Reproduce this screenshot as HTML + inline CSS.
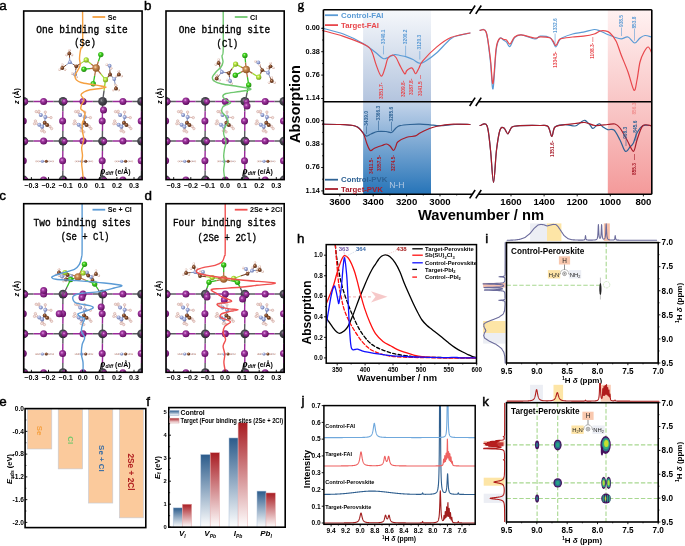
<!DOCTYPE html>
<html><head><meta charset="utf-8"><style>
html,body{margin:0;padding:0;background:#fff;width:685px;height:546px;overflow:hidden}
svg{display:block;will-change:transform}
</style></head><body>
<svg width="685" height="546" viewBox="0 0 685 546">
<rect width="685" height="546" fill="#fff"/>
<defs>
<radialGradient id="gI" cx="0.4" cy="0.38" r="0.65"><stop offset="0" stop-color="#e6a0e6"/><stop offset="0.3" stop-color="#a23aa2"/><stop offset="1" stop-color="#5e0a5e"/></radialGradient>
<radialGradient id="gPb" cx="0.4" cy="0.38" r="0.65"><stop offset="0" stop-color="#9a9aa2"/><stop offset="0.35" stop-color="#4a4a52"/><stop offset="1" stop-color="#2a2a30"/></radialGradient>
<radialGradient id="gSb" cx="0.4" cy="0.38" r="0.65"><stop offset="0" stop-color="#f8d8b0"/><stop offset="0.35" stop-color="#c88850"/><stop offset="1" stop-color="#8a5020"/></radialGradient>
<radialGradient id="gCl" cx="0.4" cy="0.38" r="0.65"><stop offset="0" stop-color="#c0ffa0"/><stop offset="0.35" stop-color="#40d020"/><stop offset="1" stop-color="#208810"/></radialGradient>
<radialGradient id="gS" cx="0.4" cy="0.38" r="0.65"><stop offset="0" stop-color="#f0ffc0"/><stop offset="0.35" stop-color="#b8e840"/><stop offset="1" stop-color="#709820"/></radialGradient>
<radialGradient id="gC" cx="0.4" cy="0.38" r="0.65"><stop offset="0" stop-color="#d8a880"/><stop offset="0.35" stop-color="#8a5030"/><stop offset="1" stop-color="#4a2510"/></radialGradient>
<radialGradient id="gN" cx="0.4" cy="0.38" r="0.65"><stop offset="0" stop-color="#f0f4ff"/><stop offset="0.35" stop-color="#a8b4e0"/><stop offset="1" stop-color="#6070a8"/></radialGradient>
<radialGradient id="gH" cx="0.4" cy="0.38" r="0.65"><stop offset="0" stop-color="#ffffff"/><stop offset="0.5" stop-color="#f0d8d0"/><stop offset="1" stop-color="#b88878"/></radialGradient>
<linearGradient id="bandT" x1="0" y1="0" x2="0" y2="1"><stop offset="0" stop-color="#f6f8fb"/><stop offset="1" stop-color="#b3c4de"/></linearGradient>
<linearGradient id="bandB" x1="0" y1="0" x2="0" y2="1"><stop offset="0" stop-color="#c4d4ea"/><stop offset="1" stop-color="#2674b8"/></linearGradient>
<linearGradient id="rbandT" x1="0" y1="0" x2="0" y2="1"><stop offset="0" stop-color="#fff2f2"/><stop offset="1" stop-color="#f9c6c6"/></linearGradient>
<linearGradient id="rbandB" x1="0" y1="0" x2="0" y2="1"><stop offset="0" stop-color="#f9caca"/><stop offset="1" stop-color="#f49a9a"/></linearGradient>
<linearGradient id="fblue" x1="0" y1="0" x2="0" y2="1"><stop offset="0" stop-color="#2b5b8b"/><stop offset="1" stop-color="#ffffff"/></linearGradient>
<linearGradient id="fred" x1="0" y1="0" x2="0" y2="1"><stop offset="0" stop-color="#a81c22"/><stop offset="1" stop-color="#ffffff"/></linearGradient>
</defs>
<clipPath id="clipa"><rect x="23.7" y="11" width="118.4" height="168.6"/></clipPath>
<g clip-path="url(#clipa)">
<line x1="23.70" y1="101.40" x2="33.65" y2="101.40" stroke="#5a5a60" stroke-width="1.5" />
<line x1="33.65" y1="101.40" x2="43.60" y2="101.40" stroke="#9a2a9a" stroke-width="1.5" />
<line x1="43.60" y1="101.40" x2="53.30" y2="101.40" stroke="#9a2a9a" stroke-width="1.5" />
<line x1="53.30" y1="101.40" x2="63.00" y2="101.40" stroke="#5a5a60" stroke-width="1.5" />
<line x1="63.00" y1="101.40" x2="73.00" y2="101.40" stroke="#5a5a60" stroke-width="1.5" />
<line x1="73.00" y1="101.40" x2="83.00" y2="101.40" stroke="#9a2a9a" stroke-width="1.5" />
<line x1="83.00" y1="101.40" x2="92.80" y2="101.40" stroke="#9a2a9a" stroke-width="1.5" />
<line x1="92.80" y1="101.40" x2="102.60" y2="101.40" stroke="#5a5a60" stroke-width="1.5" />
<line x1="102.60" y1="101.40" x2="112.75" y2="101.40" stroke="#5a5a60" stroke-width="1.5" />
<line x1="112.75" y1="101.40" x2="122.90" y2="101.40" stroke="#9a2a9a" stroke-width="1.5" />
<line x1="122.90" y1="101.40" x2="132.25" y2="101.40" stroke="#9a2a9a" stroke-width="1.5" />
<line x1="132.25" y1="101.40" x2="141.60" y2="101.40" stroke="#5a5a60" stroke-width="1.5" />
<line x1="23.70" y1="141.10" x2="33.65" y2="141.10" stroke="#5a5a60" stroke-width="1.5" />
<line x1="33.65" y1="141.10" x2="43.60" y2="141.10" stroke="#9a2a9a" stroke-width="1.5" />
<line x1="43.60" y1="141.10" x2="53.30" y2="141.10" stroke="#9a2a9a" stroke-width="1.5" />
<line x1="53.30" y1="141.10" x2="63.00" y2="141.10" stroke="#5a5a60" stroke-width="1.5" />
<line x1="63.00" y1="141.10" x2="73.00" y2="141.10" stroke="#5a5a60" stroke-width="1.5" />
<line x1="73.00" y1="141.10" x2="83.00" y2="141.10" stroke="#9a2a9a" stroke-width="1.5" />
<line x1="83.00" y1="141.10" x2="92.80" y2="141.10" stroke="#9a2a9a" stroke-width="1.5" />
<line x1="92.80" y1="141.10" x2="102.60" y2="141.10" stroke="#5a5a60" stroke-width="1.5" />
<line x1="102.60" y1="141.10" x2="112.75" y2="141.10" stroke="#5a5a60" stroke-width="1.5" />
<line x1="112.75" y1="141.10" x2="122.90" y2="141.10" stroke="#9a2a9a" stroke-width="1.5" />
<line x1="122.90" y1="141.10" x2="132.25" y2="141.10" stroke="#9a2a9a" stroke-width="1.5" />
<line x1="132.25" y1="141.10" x2="141.60" y2="141.10" stroke="#5a5a60" stroke-width="1.5" />
<line x1="23.70" y1="180.00" x2="33.65" y2="180.00" stroke="#5a5a60" stroke-width="1.5" />
<line x1="33.65" y1="180.00" x2="43.60" y2="180.00" stroke="#9a2a9a" stroke-width="1.5" />
<line x1="43.60" y1="180.00" x2="53.30" y2="180.00" stroke="#9a2a9a" stroke-width="1.5" />
<line x1="53.30" y1="180.00" x2="63.00" y2="180.00" stroke="#5a5a60" stroke-width="1.5" />
<line x1="63.00" y1="180.00" x2="73.00" y2="180.00" stroke="#5a5a60" stroke-width="1.5" />
<line x1="73.00" y1="180.00" x2="83.00" y2="180.00" stroke="#9a2a9a" stroke-width="1.5" />
<line x1="83.00" y1="180.00" x2="92.80" y2="180.00" stroke="#9a2a9a" stroke-width="1.5" />
<line x1="92.80" y1="180.00" x2="102.60" y2="180.00" stroke="#5a5a60" stroke-width="1.5" />
<line x1="102.60" y1="180.00" x2="112.75" y2="180.00" stroke="#5a5a60" stroke-width="1.5" />
<line x1="112.75" y1="180.00" x2="122.90" y2="180.00" stroke="#9a2a9a" stroke-width="1.5" />
<line x1="122.90" y1="180.00" x2="132.25" y2="180.00" stroke="#9a2a9a" stroke-width="1.5" />
<line x1="132.25" y1="180.00" x2="141.60" y2="180.00" stroke="#5a5a60" stroke-width="1.5" />
<line x1="23.70" y1="101.40" x2="23.55" y2="111.20" stroke="#5a5a60" stroke-width="1.4" />
<line x1="23.55" y1="111.20" x2="23.40" y2="121.00" stroke="#9a2a9a" stroke-width="1.4" />
<line x1="23.70" y1="121.00" x2="23.55" y2="131.05" stroke="#9a2a9a" stroke-width="1.4" />
<line x1="23.55" y1="131.05" x2="23.40" y2="141.10" stroke="#5a5a60" stroke-width="1.4" />
<line x1="23.70" y1="141.10" x2="23.55" y2="150.95" stroke="#5a5a60" stroke-width="1.4" />
<line x1="23.55" y1="150.95" x2="23.40" y2="160.80" stroke="#9a2a9a" stroke-width="1.4" />
<line x1="23.70" y1="160.80" x2="23.55" y2="170.40" stroke="#9a2a9a" stroke-width="1.4" />
<line x1="23.55" y1="170.40" x2="23.40" y2="180.00" stroke="#5a5a60" stroke-width="1.4" />
<line x1="63.00" y1="101.40" x2="62.85" y2="111.20" stroke="#5a5a60" stroke-width="1.4" />
<line x1="62.85" y1="111.20" x2="62.70" y2="121.00" stroke="#9a2a9a" stroke-width="1.4" />
<line x1="63.00" y1="121.00" x2="62.85" y2="131.05" stroke="#9a2a9a" stroke-width="1.4" />
<line x1="62.85" y1="131.05" x2="62.70" y2="141.10" stroke="#5a5a60" stroke-width="1.4" />
<line x1="63.00" y1="141.10" x2="62.85" y2="150.95" stroke="#5a5a60" stroke-width="1.4" />
<line x1="62.85" y1="150.95" x2="62.70" y2="160.80" stroke="#9a2a9a" stroke-width="1.4" />
<line x1="63.00" y1="160.80" x2="62.85" y2="170.40" stroke="#9a2a9a" stroke-width="1.4" />
<line x1="62.85" y1="170.40" x2="62.70" y2="180.00" stroke="#5a5a60" stroke-width="1.4" />
<line x1="102.60" y1="101.40" x2="102.45" y2="111.20" stroke="#5a5a60" stroke-width="1.4" />
<line x1="102.45" y1="111.20" x2="102.30" y2="121.00" stroke="#9a2a9a" stroke-width="1.4" />
<line x1="102.60" y1="121.00" x2="102.45" y2="131.05" stroke="#9a2a9a" stroke-width="1.4" />
<line x1="102.45" y1="131.05" x2="102.30" y2="141.10" stroke="#5a5a60" stroke-width="1.4" />
<line x1="102.60" y1="141.10" x2="102.45" y2="150.95" stroke="#5a5a60" stroke-width="1.4" />
<line x1="102.45" y1="150.95" x2="102.30" y2="160.80" stroke="#9a2a9a" stroke-width="1.4" />
<line x1="102.60" y1="160.80" x2="102.45" y2="170.40" stroke="#9a2a9a" stroke-width="1.4" />
<line x1="102.45" y1="170.40" x2="102.30" y2="180.00" stroke="#5a5a60" stroke-width="1.4" />
<line x1="141.60" y1="101.40" x2="141.45" y2="111.20" stroke="#5a5a60" stroke-width="1.4" />
<line x1="141.45" y1="111.20" x2="141.30" y2="121.00" stroke="#9a2a9a" stroke-width="1.4" />
<line x1="141.60" y1="121.00" x2="141.45" y2="131.05" stroke="#9a2a9a" stroke-width="1.4" />
<line x1="141.45" y1="131.05" x2="141.30" y2="141.10" stroke="#5a5a60" stroke-width="1.4" />
<line x1="141.60" y1="141.10" x2="141.45" y2="150.95" stroke="#5a5a60" stroke-width="1.4" />
<line x1="141.45" y1="150.95" x2="141.30" y2="160.80" stroke="#9a2a9a" stroke-width="1.4" />
<line x1="141.60" y1="160.80" x2="141.45" y2="170.40" stroke="#9a2a9a" stroke-width="1.4" />
<line x1="141.45" y1="170.40" x2="141.30" y2="180.00" stroke="#5a5a60" stroke-width="1.4" />
<line x1="40.80" y1="114.90" x2="36.20" y2="111.60" stroke="#d8b0a8" stroke-width="0.9" />
<line x1="40.80" y1="114.90" x2="38.90" y2="111.30" stroke="#d8b0a8" stroke-width="0.9" />
<line x1="45.30" y1="117.10" x2="45.30" y2="112.10" stroke="#d8b0a8" stroke-width="0.9" />
<line x1="45.30" y1="117.10" x2="51.00" y2="117.60" stroke="#d8b0a8" stroke-width="0.9" />
<line x1="39.30" y1="124.70" x2="35.40" y2="120.90" stroke="#d8b0a8" stroke-width="0.9" />
<line x1="39.30" y1="124.70" x2="34.50" y2="123.70" stroke="#d8b0a8" stroke-width="0.9" />
<line x1="42.10" y1="126.70" x2="41.70" y2="130.80" stroke="#d8b0a8" stroke-width="0.9" />
<line x1="42.10" y1="126.70" x2="44.40" y2="131.90" stroke="#d8b0a8" stroke-width="0.9" />
<line x1="47.10" y1="125.10" x2="51.60" y2="128.60" stroke="#d8b0a8" stroke-width="0.9" />
<line x1="47.10" y1="125.10" x2="49.90" y2="126.40" stroke="#d8b0a8" stroke-width="0.9" />
<line x1="45.30" y1="117.10" x2="44.70" y2="122.70" stroke="#8898c8" stroke-width="1.2" />
<line x1="42.10" y1="126.70" x2="44.70" y2="122.70" stroke="#8898c8" stroke-width="1.2" />
<circle cx="36.20" cy="111.60" r="1.20" fill="#f4e4e0" stroke="#c89890" stroke-width="0.5" />
<circle cx="38.90" cy="111.30" r="1.20" fill="#f4e4e0" stroke="#c89890" stroke-width="0.5" />
<circle cx="45.30" cy="112.10" r="1.20" fill="#f4e4e0" stroke="#c89890" stroke-width="0.5" />
<circle cx="51.00" cy="117.60" r="1.20" fill="#f4e4e0" stroke="#c89890" stroke-width="0.5" />
<circle cx="35.40" cy="120.90" r="1.20" fill="#f4e4e0" stroke="#c89890" stroke-width="0.5" />
<circle cx="34.50" cy="123.70" r="1.20" fill="#f4e4e0" stroke="#c89890" stroke-width="0.5" />
<circle cx="41.70" cy="130.80" r="1.20" fill="#f4e4e0" stroke="#c89890" stroke-width="0.5" />
<circle cx="44.40" cy="131.90" r="1.20" fill="#f4e4e0" stroke="#c89890" stroke-width="0.5" />
<circle cx="51.60" cy="128.60" r="1.20" fill="#f4e4e0" stroke="#c89890" stroke-width="0.5" />
<circle cx="49.90" cy="126.40" r="1.20" fill="#f4e4e0" stroke="#c89890" stroke-width="0.5" />
<circle cx="40.80" cy="114.90" r="2.00" fill="url(#gN)" stroke="none" stroke-width="0.5" />
<circle cx="45.30" cy="117.10" r="2.00" fill="url(#gN)" stroke="none" stroke-width="0.5" />
<circle cx="39.30" cy="124.70" r="2.00" fill="url(#gN)" stroke="none" stroke-width="0.5" />
<circle cx="42.10" cy="126.70" r="2.00" fill="url(#gN)" stroke="none" stroke-width="0.5" />
<circle cx="44.70" cy="122.70" r="2.00" fill="url(#gC)" stroke="none" stroke-width="0.5" />
<circle cx="47.10" cy="125.10" r="2.00" fill="url(#gC)" stroke="none" stroke-width="0.5" />
<line x1="35.60" y1="161.30" x2="53.40" y2="161.30" stroke="#b8a0a8" stroke-width="0.8" />
<circle cx="36.20" cy="161.30" r="0.90" fill="url(#gH)" stroke="none" stroke-width="0.5" />
<circle cx="38.40" cy="161.30" r="0.90" fill="url(#gH)" stroke="none" stroke-width="0.5" />
<circle cx="42.40" cy="161.30" r="1.50" fill="url(#gN)" stroke="none" stroke-width="0.5" />
<circle cx="46.30" cy="161.30" r="1.50" fill="url(#gC)" stroke="none" stroke-width="0.5" />
<circle cx="49.40" cy="161.30" r="0.90" fill="url(#gH)" stroke="none" stroke-width="0.5" />
<circle cx="52.90" cy="161.30" r="0.90" fill="url(#gH)" stroke="none" stroke-width="0.5" />
<line x1="80.20" y1="114.90" x2="75.60" y2="111.60" stroke="#d8b0a8" stroke-width="0.9" />
<line x1="80.20" y1="114.90" x2="78.30" y2="111.30" stroke="#d8b0a8" stroke-width="0.9" />
<line x1="84.70" y1="117.10" x2="84.70" y2="112.10" stroke="#d8b0a8" stroke-width="0.9" />
<line x1="84.70" y1="117.10" x2="90.40" y2="117.60" stroke="#d8b0a8" stroke-width="0.9" />
<line x1="78.70" y1="124.70" x2="74.80" y2="120.90" stroke="#d8b0a8" stroke-width="0.9" />
<line x1="78.70" y1="124.70" x2="73.90" y2="123.70" stroke="#d8b0a8" stroke-width="0.9" />
<line x1="81.50" y1="126.70" x2="81.10" y2="130.80" stroke="#d8b0a8" stroke-width="0.9" />
<line x1="81.50" y1="126.70" x2="83.80" y2="131.90" stroke="#d8b0a8" stroke-width="0.9" />
<line x1="86.50" y1="125.10" x2="91.00" y2="128.60" stroke="#d8b0a8" stroke-width="0.9" />
<line x1="86.50" y1="125.10" x2="89.30" y2="126.40" stroke="#d8b0a8" stroke-width="0.9" />
<line x1="84.70" y1="117.10" x2="84.10" y2="122.70" stroke="#8898c8" stroke-width="1.2" />
<line x1="81.50" y1="126.70" x2="84.10" y2="122.70" stroke="#8898c8" stroke-width="1.2" />
<circle cx="75.60" cy="111.60" r="1.20" fill="#f4e4e0" stroke="#c89890" stroke-width="0.5" />
<circle cx="78.30" cy="111.30" r="1.20" fill="#f4e4e0" stroke="#c89890" stroke-width="0.5" />
<circle cx="84.70" cy="112.10" r="1.20" fill="#f4e4e0" stroke="#c89890" stroke-width="0.5" />
<circle cx="90.40" cy="117.60" r="1.20" fill="#f4e4e0" stroke="#c89890" stroke-width="0.5" />
<circle cx="74.80" cy="120.90" r="1.20" fill="#f4e4e0" stroke="#c89890" stroke-width="0.5" />
<circle cx="73.90" cy="123.70" r="1.20" fill="#f4e4e0" stroke="#c89890" stroke-width="0.5" />
<circle cx="81.10" cy="130.80" r="1.20" fill="#f4e4e0" stroke="#c89890" stroke-width="0.5" />
<circle cx="83.80" cy="131.90" r="1.20" fill="#f4e4e0" stroke="#c89890" stroke-width="0.5" />
<circle cx="91.00" cy="128.60" r="1.20" fill="#f4e4e0" stroke="#c89890" stroke-width="0.5" />
<circle cx="89.30" cy="126.40" r="1.20" fill="#f4e4e0" stroke="#c89890" stroke-width="0.5" />
<circle cx="80.20" cy="114.90" r="2.00" fill="url(#gN)" stroke="none" stroke-width="0.5" />
<circle cx="84.70" cy="117.10" r="2.00" fill="url(#gN)" stroke="none" stroke-width="0.5" />
<circle cx="78.70" cy="124.70" r="2.00" fill="url(#gN)" stroke="none" stroke-width="0.5" />
<circle cx="81.50" cy="126.70" r="2.00" fill="url(#gN)" stroke="none" stroke-width="0.5" />
<circle cx="84.10" cy="122.70" r="2.00" fill="url(#gC)" stroke="none" stroke-width="0.5" />
<circle cx="86.50" cy="125.10" r="2.00" fill="url(#gC)" stroke="none" stroke-width="0.5" />
<line x1="75.00" y1="161.30" x2="92.80" y2="161.30" stroke="#b8a0a8" stroke-width="0.8" />
<circle cx="75.60" cy="161.30" r="0.90" fill="url(#gH)" stroke="none" stroke-width="0.5" />
<circle cx="77.80" cy="161.30" r="0.90" fill="url(#gH)" stroke="none" stroke-width="0.5" />
<circle cx="81.80" cy="161.30" r="1.50" fill="url(#gN)" stroke="none" stroke-width="0.5" />
<circle cx="85.70" cy="161.30" r="1.50" fill="url(#gC)" stroke="none" stroke-width="0.5" />
<circle cx="88.80" cy="161.30" r="0.90" fill="url(#gH)" stroke="none" stroke-width="0.5" />
<circle cx="92.30" cy="161.30" r="0.90" fill="url(#gH)" stroke="none" stroke-width="0.5" />
<line x1="120.10" y1="114.90" x2="115.50" y2="111.60" stroke="#d8b0a8" stroke-width="0.9" />
<line x1="120.10" y1="114.90" x2="118.20" y2="111.30" stroke="#d8b0a8" stroke-width="0.9" />
<line x1="124.60" y1="117.10" x2="124.60" y2="112.10" stroke="#d8b0a8" stroke-width="0.9" />
<line x1="124.60" y1="117.10" x2="130.30" y2="117.60" stroke="#d8b0a8" stroke-width="0.9" />
<line x1="118.60" y1="124.70" x2="114.70" y2="120.90" stroke="#d8b0a8" stroke-width="0.9" />
<line x1="118.60" y1="124.70" x2="113.80" y2="123.70" stroke="#d8b0a8" stroke-width="0.9" />
<line x1="121.40" y1="126.70" x2="121.00" y2="130.80" stroke="#d8b0a8" stroke-width="0.9" />
<line x1="121.40" y1="126.70" x2="123.70" y2="131.90" stroke="#d8b0a8" stroke-width="0.9" />
<line x1="126.40" y1="125.10" x2="130.90" y2="128.60" stroke="#d8b0a8" stroke-width="0.9" />
<line x1="126.40" y1="125.10" x2="129.20" y2="126.40" stroke="#d8b0a8" stroke-width="0.9" />
<line x1="124.60" y1="117.10" x2="124.00" y2="122.70" stroke="#8898c8" stroke-width="1.2" />
<line x1="121.40" y1="126.70" x2="124.00" y2="122.70" stroke="#8898c8" stroke-width="1.2" />
<circle cx="115.50" cy="111.60" r="1.20" fill="#f4e4e0" stroke="#c89890" stroke-width="0.5" />
<circle cx="118.20" cy="111.30" r="1.20" fill="#f4e4e0" stroke="#c89890" stroke-width="0.5" />
<circle cx="124.60" cy="112.10" r="1.20" fill="#f4e4e0" stroke="#c89890" stroke-width="0.5" />
<circle cx="130.30" cy="117.60" r="1.20" fill="#f4e4e0" stroke="#c89890" stroke-width="0.5" />
<circle cx="114.70" cy="120.90" r="1.20" fill="#f4e4e0" stroke="#c89890" stroke-width="0.5" />
<circle cx="113.80" cy="123.70" r="1.20" fill="#f4e4e0" stroke="#c89890" stroke-width="0.5" />
<circle cx="121.00" cy="130.80" r="1.20" fill="#f4e4e0" stroke="#c89890" stroke-width="0.5" />
<circle cx="123.70" cy="131.90" r="1.20" fill="#f4e4e0" stroke="#c89890" stroke-width="0.5" />
<circle cx="130.90" cy="128.60" r="1.20" fill="#f4e4e0" stroke="#c89890" stroke-width="0.5" />
<circle cx="129.20" cy="126.40" r="1.20" fill="#f4e4e0" stroke="#c89890" stroke-width="0.5" />
<circle cx="120.10" cy="114.90" r="2.00" fill="url(#gN)" stroke="none" stroke-width="0.5" />
<circle cx="124.60" cy="117.10" r="2.00" fill="url(#gN)" stroke="none" stroke-width="0.5" />
<circle cx="118.60" cy="124.70" r="2.00" fill="url(#gN)" stroke="none" stroke-width="0.5" />
<circle cx="121.40" cy="126.70" r="2.00" fill="url(#gN)" stroke="none" stroke-width="0.5" />
<circle cx="124.00" cy="122.70" r="2.00" fill="url(#gC)" stroke="none" stroke-width="0.5" />
<circle cx="126.40" cy="125.10" r="2.00" fill="url(#gC)" stroke="none" stroke-width="0.5" />
<line x1="114.90" y1="161.30" x2="132.70" y2="161.30" stroke="#b8a0a8" stroke-width="0.8" />
<circle cx="115.50" cy="161.30" r="0.90" fill="url(#gH)" stroke="none" stroke-width="0.5" />
<circle cx="117.70" cy="161.30" r="0.90" fill="url(#gH)" stroke="none" stroke-width="0.5" />
<circle cx="121.70" cy="161.30" r="1.50" fill="url(#gN)" stroke="none" stroke-width="0.5" />
<circle cx="125.60" cy="161.30" r="1.50" fill="url(#gC)" stroke="none" stroke-width="0.5" />
<circle cx="128.70" cy="161.30" r="0.90" fill="url(#gH)" stroke="none" stroke-width="0.5" />
<circle cx="132.20" cy="161.30" r="0.90" fill="url(#gH)" stroke="none" stroke-width="0.5" />
<circle cx="23.70" cy="101.40" r="4.40" fill="url(#gPb)" stroke="none" stroke-width="0.5" />
<circle cx="25.30" cy="101.60" r="2.90" fill="url(#gI)" stroke="none" stroke-width="0.5" />
<circle cx="63.00" cy="101.40" r="4.40" fill="url(#gPb)" stroke="none" stroke-width="0.5" />
<circle cx="64.60" cy="101.60" r="2.90" fill="url(#gI)" stroke="none" stroke-width="0.5" />
<circle cx="102.60" cy="101.40" r="4.40" fill="url(#gPb)" stroke="none" stroke-width="0.5" />
<circle cx="141.60" cy="101.40" r="4.40" fill="url(#gPb)" stroke="none" stroke-width="0.5" />
<circle cx="143.20" cy="101.60" r="2.90" fill="url(#gI)" stroke="none" stroke-width="0.5" />
<circle cx="43.60" cy="101.40" r="3.50" fill="url(#gI)" stroke="none" stroke-width="0.5" />
<circle cx="83.00" cy="101.40" r="3.50" fill="url(#gI)" stroke="none" stroke-width="0.5" />
<circle cx="122.90" cy="101.40" r="3.50" fill="url(#gI)" stroke="none" stroke-width="0.5" />
<circle cx="23.70" cy="141.10" r="4.40" fill="url(#gPb)" stroke="none" stroke-width="0.5" />
<circle cx="25.30" cy="141.30" r="2.90" fill="url(#gI)" stroke="none" stroke-width="0.5" />
<circle cx="63.00" cy="141.10" r="4.40" fill="url(#gPb)" stroke="none" stroke-width="0.5" />
<circle cx="64.60" cy="141.30" r="2.90" fill="url(#gI)" stroke="none" stroke-width="0.5" />
<circle cx="102.60" cy="141.10" r="4.40" fill="url(#gPb)" stroke="none" stroke-width="0.5" />
<circle cx="104.20" cy="141.30" r="2.90" fill="url(#gI)" stroke="none" stroke-width="0.5" />
<circle cx="141.60" cy="141.10" r="4.40" fill="url(#gPb)" stroke="none" stroke-width="0.5" />
<circle cx="143.20" cy="141.30" r="2.90" fill="url(#gI)" stroke="none" stroke-width="0.5" />
<circle cx="43.60" cy="141.10" r="3.50" fill="url(#gI)" stroke="none" stroke-width="0.5" />
<circle cx="83.00" cy="141.10" r="3.50" fill="url(#gI)" stroke="none" stroke-width="0.5" />
<circle cx="122.90" cy="141.10" r="3.50" fill="url(#gI)" stroke="none" stroke-width="0.5" />
<circle cx="23.70" cy="180.00" r="4.40" fill="url(#gPb)" stroke="none" stroke-width="0.5" />
<circle cx="25.30" cy="180.20" r="2.90" fill="url(#gI)" stroke="none" stroke-width="0.5" />
<circle cx="63.00" cy="180.00" r="4.40" fill="url(#gPb)" stroke="none" stroke-width="0.5" />
<circle cx="64.60" cy="180.20" r="2.90" fill="url(#gI)" stroke="none" stroke-width="0.5" />
<circle cx="102.60" cy="180.00" r="4.40" fill="url(#gPb)" stroke="none" stroke-width="0.5" />
<circle cx="104.20" cy="180.20" r="2.90" fill="url(#gI)" stroke="none" stroke-width="0.5" />
<circle cx="141.60" cy="180.00" r="4.40" fill="url(#gPb)" stroke="none" stroke-width="0.5" />
<circle cx="143.20" cy="180.20" r="2.90" fill="url(#gI)" stroke="none" stroke-width="0.5" />
<circle cx="43.60" cy="180.00" r="3.50" fill="url(#gI)" stroke="none" stroke-width="0.5" />
<circle cx="83.00" cy="180.00" r="3.50" fill="url(#gI)" stroke="none" stroke-width="0.5" />
<circle cx="122.90" cy="180.00" r="3.50" fill="url(#gI)" stroke="none" stroke-width="0.5" />
<circle cx="23.30" cy="121.00" r="3.50" fill="url(#gI)" stroke="none" stroke-width="0.5" />
<circle cx="62.60" cy="121.00" r="3.50" fill="url(#gI)" stroke="none" stroke-width="0.5" />
<circle cx="102.20" cy="121.00" r="3.50" fill="url(#gI)" stroke="none" stroke-width="0.5" />
<circle cx="141.20" cy="121.00" r="3.50" fill="url(#gI)" stroke="none" stroke-width="0.5" />
<circle cx="23.30" cy="160.80" r="3.50" fill="url(#gI)" stroke="none" stroke-width="0.5" />
<circle cx="62.60" cy="160.80" r="3.50" fill="url(#gI)" stroke="none" stroke-width="0.5" />
<circle cx="102.20" cy="160.80" r="3.50" fill="url(#gI)" stroke="none" stroke-width="0.5" />
<circle cx="141.20" cy="160.80" r="3.50" fill="url(#gI)" stroke="none" stroke-width="0.5" />
<circle cx="103.50" cy="110.00" r="3.50" fill="url(#gI)" stroke="none" stroke-width="0.5" />
<line x1="105.50" y1="79.70" x2="104.05" y2="90.50" stroke="#a0d830" stroke-width="1.4" />
<line x1="104.05" y1="90.50" x2="102.60" y2="101.30" stroke="#5a5a60" stroke-width="1.4" />
<line x1="96.10" y1="68.00" x2="98.45" y2="61.30" stroke="#b07040" stroke-width="1.3" />
<line x1="98.45" y1="61.30" x2="100.80" y2="54.60" stroke="#30c020" stroke-width="1.3" />
<line x1="96.10" y1="68.00" x2="90.00" y2="68.60" stroke="#b07040" stroke-width="1.3" />
<line x1="90.00" y1="68.60" x2="83.90" y2="69.20" stroke="#30c020" stroke-width="1.3" />
<line x1="96.10" y1="68.00" x2="94.65" y2="75.90" stroke="#b07040" stroke-width="1.3" />
<line x1="94.65" y1="75.90" x2="93.20" y2="83.80" stroke="#30c020" stroke-width="1.3" />
<line x1="96.10" y1="68.00" x2="91.15" y2="63.95" stroke="#b07040" stroke-width="1.3" />
<line x1="91.15" y1="63.95" x2="86.20" y2="59.90" stroke="#a0d830" stroke-width="1.3" />
<line x1="96.10" y1="68.00" x2="100.80" y2="73.85" stroke="#b07040" stroke-width="1.3" />
<line x1="100.80" y1="73.85" x2="105.50" y2="79.70" stroke="#a0d830" stroke-width="1.3" />
<line x1="76.30" y1="66.30" x2="81.25" y2="63.10" stroke="#7a4020" stroke-width="1.1" />
<line x1="81.25" y1="63.10" x2="86.20" y2="59.90" stroke="#a0d830" stroke-width="1.1" />
<line x1="76.30" y1="66.30" x2="73.10" y2="64.25" stroke="#7a4020" stroke-width="1.0" />
<line x1="73.10" y1="64.25" x2="69.90" y2="62.20" stroke="#8090c0" stroke-width="1.0" />
<line x1="76.30" y1="66.30" x2="75.70" y2="70.40" stroke="#7a4020" stroke-width="1.0" />
<line x1="75.70" y1="70.40" x2="75.10" y2="74.50" stroke="#8090c0" stroke-width="1.0" />
<line x1="69.90" y1="62.20" x2="69.60" y2="57.80" stroke="#8090c0" stroke-width="1.0" />
<line x1="69.60" y1="57.80" x2="69.30" y2="53.40" stroke="#7a4020" stroke-width="1.0" />
<line x1="69.90" y1="62.20" x2="66.10" y2="65.10" stroke="#8090c0" stroke-width="1.0" />
<line x1="66.10" y1="65.10" x2="62.30" y2="68.00" stroke="#7a4020" stroke-width="1.0" />
<line x1="69.30" y1="53.40" x2="72.07" y2="55.00" stroke="#c8a8a0" stroke-width="0.6" />
<circle cx="72.07" cy="55.00" r="1.20" fill="url(#gH)" stroke="none" stroke-width="0.5" />
<line x1="69.30" y1="53.40" x2="66.53" y2="55.00" stroke="#c8a8a0" stroke-width="0.6" />
<circle cx="66.53" cy="55.00" r="1.20" fill="url(#gH)" stroke="none" stroke-width="0.5" />
<line x1="69.30" y1="53.40" x2="69.30" y2="50.20" stroke="#c8a8a0" stroke-width="0.6" />
<circle cx="69.30" cy="50.20" r="1.20" fill="url(#gH)" stroke="none" stroke-width="0.5" />
<line x1="62.30" y1="68.00" x2="65.07" y2="69.60" stroke="#c8a8a0" stroke-width="0.6" />
<circle cx="65.07" cy="69.60" r="1.20" fill="url(#gH)" stroke="none" stroke-width="0.5" />
<line x1="62.30" y1="68.00" x2="59.53" y2="69.60" stroke="#c8a8a0" stroke-width="0.6" />
<circle cx="59.53" cy="69.60" r="1.20" fill="url(#gH)" stroke="none" stroke-width="0.5" />
<line x1="62.30" y1="68.00" x2="62.30" y2="64.80" stroke="#c8a8a0" stroke-width="0.6" />
<circle cx="62.30" cy="64.80" r="1.20" fill="url(#gH)" stroke="none" stroke-width="0.5" />
<line x1="75.10" y1="74.50" x2="76.60" y2="77.10" stroke="#c8a8a0" stroke-width="0.6" />
<circle cx="76.60" cy="77.10" r="1.20" fill="url(#gH)" stroke="none" stroke-width="0.5" />
<line x1="75.10" y1="74.50" x2="72.28" y2="73.47" stroke="#c8a8a0" stroke-width="0.6" />
<circle cx="72.28" cy="73.47" r="1.20" fill="url(#gH)" stroke="none" stroke-width="0.5" />
<circle cx="69.30" cy="53.40" r="1.90" fill="url(#gC)" stroke="none" stroke-width="0.5" />
<circle cx="62.30" cy="68.00" r="1.90" fill="url(#gC)" stroke="none" stroke-width="0.5" />
<circle cx="69.90" cy="62.20" r="1.90" fill="url(#gN)" stroke="none" stroke-width="0.5" />
<circle cx="75.10" cy="74.50" r="1.90" fill="url(#gN)" stroke="none" stroke-width="0.5" />
<circle cx="76.30" cy="66.30" r="1.90" fill="url(#gC)" stroke="none" stroke-width="0.5" />
<line x1="110.10" y1="74.50" x2="107.80" y2="77.10" stroke="#7a4020" stroke-width="1.1" />
<line x1="107.80" y1="77.10" x2="105.50" y2="79.70" stroke="#a0d830" stroke-width="1.1" />
<line x1="110.10" y1="74.50" x2="112.15" y2="76.80" stroke="#7a4020" stroke-width="1.0" />
<line x1="112.15" y1="76.80" x2="114.20" y2="79.10" stroke="#8090c0" stroke-width="1.0" />
<line x1="110.10" y1="74.50" x2="109.85" y2="70.10" stroke="#7a4020" stroke-width="1.0" />
<line x1="109.85" y1="70.10" x2="109.60" y2="65.70" stroke="#8090c0" stroke-width="1.0" />
<line x1="114.20" y1="79.10" x2="116.55" y2="76.80" stroke="#8090c0" stroke-width="1.0" />
<line x1="116.55" y1="76.80" x2="118.90" y2="74.50" stroke="#7a4020" stroke-width="1.0" />
<line x1="114.20" y1="79.10" x2="115.10" y2="83.80" stroke="#8090c0" stroke-width="1.0" />
<line x1="115.10" y1="83.80" x2="116.00" y2="88.50" stroke="#7a4020" stroke-width="1.0" />
<line x1="118.90" y1="74.50" x2="121.67" y2="76.10" stroke="#c8a8a0" stroke-width="0.6" />
<circle cx="121.67" cy="76.10" r="1.20" fill="url(#gH)" stroke="none" stroke-width="0.5" />
<line x1="118.90" y1="74.50" x2="116.13" y2="76.10" stroke="#c8a8a0" stroke-width="0.6" />
<circle cx="116.13" cy="76.10" r="1.20" fill="url(#gH)" stroke="none" stroke-width="0.5" />
<line x1="118.90" y1="74.50" x2="118.90" y2="71.30" stroke="#c8a8a0" stroke-width="0.6" />
<circle cx="118.90" cy="71.30" r="1.20" fill="url(#gH)" stroke="none" stroke-width="0.5" />
<line x1="116.00" y1="88.50" x2="118.77" y2="90.10" stroke="#c8a8a0" stroke-width="0.6" />
<circle cx="118.77" cy="90.10" r="1.20" fill="url(#gH)" stroke="none" stroke-width="0.5" />
<line x1="116.00" y1="88.50" x2="113.23" y2="90.10" stroke="#c8a8a0" stroke-width="0.6" />
<circle cx="113.23" cy="90.10" r="1.20" fill="url(#gH)" stroke="none" stroke-width="0.5" />
<line x1="116.00" y1="88.50" x2="116.00" y2="85.30" stroke="#c8a8a0" stroke-width="0.6" />
<circle cx="116.00" cy="85.30" r="1.20" fill="url(#gH)" stroke="none" stroke-width="0.5" />
<line x1="109.60" y1="65.70" x2="111.10" y2="68.30" stroke="#c8a8a0" stroke-width="0.6" />
<circle cx="111.10" cy="68.30" r="1.20" fill="url(#gH)" stroke="none" stroke-width="0.5" />
<line x1="109.60" y1="65.70" x2="106.78" y2="64.67" stroke="#c8a8a0" stroke-width="0.6" />
<circle cx="106.78" cy="64.67" r="1.20" fill="url(#gH)" stroke="none" stroke-width="0.5" />
<circle cx="118.90" cy="74.50" r="1.90" fill="url(#gC)" stroke="none" stroke-width="0.5" />
<circle cx="116.00" cy="88.50" r="1.90" fill="url(#gC)" stroke="none" stroke-width="0.5" />
<circle cx="114.20" cy="79.10" r="1.90" fill="url(#gN)" stroke="none" stroke-width="0.5" />
<circle cx="109.60" cy="65.70" r="1.90" fill="url(#gN)" stroke="none" stroke-width="0.5" />
<circle cx="110.10" cy="74.50" r="1.90" fill="url(#gC)" stroke="none" stroke-width="0.5" />
<circle cx="86.20" cy="59.90" r="2.60" fill="url(#gS)" stroke="none" stroke-width="0.5" />
<circle cx="105.50" cy="79.70" r="2.60" fill="url(#gS)" stroke="none" stroke-width="0.5" />
<circle cx="100.80" cy="54.60" r="2.70" fill="url(#gCl)" stroke="none" stroke-width="0.5" />
<circle cx="83.90" cy="69.20" r="2.70" fill="url(#gCl)" stroke="none" stroke-width="0.5" />
<circle cx="93.20" cy="83.80" r="2.70" fill="url(#gCl)" stroke="none" stroke-width="0.5" />
<circle cx="96.10" cy="68.00" r="3.70" fill="url(#gSb)" stroke="none" stroke-width="0.5" />
<path d="M82.60,11.00 C82.60,16.50 82.87,37.83 82.60,44.00 C82.33,50.17 81.43,46.50 81.00,48.00 C80.57,49.50 80.25,51.17 80.00,53.00 C79.75,54.83 79.47,57.00 79.50,59.00 C79.53,61.00 80.45,63.17 80.20,65.00 C79.95,66.83 78.78,68.50 78.00,70.00 C77.22,71.50 76.00,72.83 75.50,74.00 C75.00,75.17 74.83,76.00 75.00,77.00 C75.17,78.00 75.50,79.08 76.50,80.00 C77.50,80.92 78.42,81.75 81.00,82.50 C83.58,83.25 88.67,83.92 92.00,84.50 C95.33,85.08 98.67,85.53 101.00,86.00 C103.33,86.47 106.17,86.88 106.00,87.30 C105.83,87.72 102.67,88.08 100.00,88.50 C97.33,88.92 92.67,89.22 90.00,89.80 C87.33,90.38 85.50,91.13 84.00,92.00 C82.50,92.87 81.00,93.70 81.00,95.00 C81.00,96.30 83.88,98.22 84.00,99.80 C84.12,101.38 82.22,102.97 81.70,104.50 C81.18,106.03 80.37,107.67 80.90,109.00 C81.43,110.33 84.37,110.87 84.90,112.50 C85.43,114.13 84.53,116.95 84.10,118.80 C83.67,120.65 82.57,121.47 82.30,123.60 C82.03,125.73 82.25,128.95 82.50,131.60 C82.75,134.25 83.93,136.85 83.80,139.50 C83.67,142.15 81.92,144.85 81.70,147.50 C81.48,150.15 82.50,152.75 82.50,155.40 C82.50,158.05 81.70,160.75 81.70,163.40 C81.70,166.05 82.23,168.53 82.50,171.30 C82.77,174.07 83.17,178.55 83.30,180.00" fill="none" stroke="#f5a040" stroke-width="1.4" stroke-linejoin="round" stroke-linecap="round" />
</g>
<line x1="31.40" y1="179.60" x2="31.40" y2="177.10" stroke="#000" stroke-width="0.9" />
<text x="31.4" y="187.6" font-size="7.2" font-weight="bold" fill="#000" text-anchor="middle" font-family='"Liberation Sans", sans-serif' >−0.3</text>
<line x1="48.50" y1="179.60" x2="48.50" y2="177.10" stroke="#000" stroke-width="0.9" />
<text x="48.5" y="187.6" font-size="7.2" font-weight="bold" fill="#000" text-anchor="middle" font-family='"Liberation Sans", sans-serif' >−0.2</text>
<line x1="65.60" y1="179.60" x2="65.60" y2="177.10" stroke="#000" stroke-width="0.9" />
<text x="65.6" y="187.6" font-size="7.2" font-weight="bold" fill="#000" text-anchor="middle" font-family='"Liberation Sans", sans-serif' >−0.1</text>
<line x1="82.70" y1="179.60" x2="82.70" y2="177.10" stroke="#000" stroke-width="0.9" />
<text x="82.7" y="187.6" font-size="7.2" font-weight="bold" fill="#000" text-anchor="middle" font-family='"Liberation Sans", sans-serif' >0.0</text>
<line x1="99.80" y1="179.60" x2="99.80" y2="177.10" stroke="#000" stroke-width="0.9" />
<text x="99.80000000000001" y="187.6" font-size="7.2" font-weight="bold" fill="#000" text-anchor="middle" font-family='"Liberation Sans", sans-serif' >0.1</text>
<line x1="116.90" y1="179.60" x2="116.90" y2="177.10" stroke="#000" stroke-width="0.9" />
<text x="116.9" y="187.6" font-size="7.2" font-weight="bold" fill="#000" text-anchor="middle" font-family='"Liberation Sans", sans-serif' >0.2</text>
<line x1="134.00" y1="179.60" x2="134.00" y2="177.10" stroke="#000" stroke-width="0.9" />
<text x="134.0" y="187.6" font-size="7.2" font-weight="bold" fill="#000" text-anchor="middle" font-family='"Liberation Sans", sans-serif' >0.3</text>
<rect x="23.70" y="11.00" width="118.40" height="168.60" fill="none" stroke="#000" stroke-width="1.6" />
<line x1="92.50" y1="17.00" x2="105.20" y2="17.00" stroke="#f5a040" stroke-width="1.8" />
<text x="107.7" y="19.6" font-size="7.2" font-weight="bold" fill="#000" text-anchor="start" font-family='"Liberation Sans", sans-serif' >Se</text>
<text x="82.1" y="33.4" font-size="11.4" font-family='"Liberation Mono", monospace' text-anchor="middle" textLength="91.5" lengthAdjust="spacingAndGlyphs" fill="#000" stroke="#000" stroke-width="0.38">One binding site</text>
<text x="85.0" y="45.7" font-size="11.4" font-family='"Liberation Mono", monospace' text-anchor="middle" textLength="21.6" lengthAdjust="spacingAndGlyphs" fill="#000" stroke="#000" stroke-width="0.38">(Se)</text>
<text x="100.3" y="173.9" font-family='"Liberation Sans", sans-serif' font-weight="bold"><tspan font-size="10" font-style="italic" font-family='"Liberation Serif", serif'>&#961;</tspan><tspan font-size="5" dy="1.5" font-style="italic">diff</tspan><tspan font-size="7" dy="-1.5"> (e/Å)</tspan></text>
<text x="19.2" y="96" font-size="7.3" font-weight="bold" font-family='"Liberation Sans", sans-serif' text-anchor="middle" transform="rotate(-90 19.2 96)"><tspan font-style="italic">z</tspan> (Å)</text>
<text x="-0.8" y="9.5" font-size="13.4" font-family='"Liberation Sans", sans-serif' fill="#000" stroke="#000" stroke-width="0.45">a</text>
<clipPath id="clipb"><rect x="166" y="11" width="118.2" height="168.6"/></clipPath>
<g clip-path="url(#clipb)">
<line x1="166.00" y1="101.40" x2="175.95" y2="101.40" stroke="#5a5a60" stroke-width="1.5" />
<line x1="175.95" y1="101.40" x2="185.90" y2="101.40" stroke="#9a2a9a" stroke-width="1.5" />
<line x1="185.90" y1="101.40" x2="195.60" y2="101.40" stroke="#9a2a9a" stroke-width="1.5" />
<line x1="195.60" y1="101.40" x2="205.30" y2="101.40" stroke="#5a5a60" stroke-width="1.5" />
<line x1="205.30" y1="101.40" x2="215.30" y2="101.40" stroke="#5a5a60" stroke-width="1.5" />
<line x1="215.30" y1="101.40" x2="225.30" y2="101.40" stroke="#9a2a9a" stroke-width="1.5" />
<line x1="225.30" y1="101.40" x2="235.10" y2="101.40" stroke="#9a2a9a" stroke-width="1.5" />
<line x1="235.10" y1="101.40" x2="244.90" y2="101.40" stroke="#5a5a60" stroke-width="1.5" />
<line x1="244.90" y1="101.40" x2="255.05" y2="101.40" stroke="#5a5a60" stroke-width="1.5" />
<line x1="255.05" y1="101.40" x2="265.20" y2="101.40" stroke="#9a2a9a" stroke-width="1.5" />
<line x1="265.20" y1="101.40" x2="274.55" y2="101.40" stroke="#9a2a9a" stroke-width="1.5" />
<line x1="274.55" y1="101.40" x2="283.90" y2="101.40" stroke="#5a5a60" stroke-width="1.5" />
<line x1="166.00" y1="141.10" x2="175.95" y2="141.10" stroke="#5a5a60" stroke-width="1.5" />
<line x1="175.95" y1="141.10" x2="185.90" y2="141.10" stroke="#9a2a9a" stroke-width="1.5" />
<line x1="185.90" y1="141.10" x2="195.60" y2="141.10" stroke="#9a2a9a" stroke-width="1.5" />
<line x1="195.60" y1="141.10" x2="205.30" y2="141.10" stroke="#5a5a60" stroke-width="1.5" />
<line x1="205.30" y1="141.10" x2="215.30" y2="141.10" stroke="#5a5a60" stroke-width="1.5" />
<line x1="215.30" y1="141.10" x2="225.30" y2="141.10" stroke="#9a2a9a" stroke-width="1.5" />
<line x1="225.30" y1="141.10" x2="235.10" y2="141.10" stroke="#9a2a9a" stroke-width="1.5" />
<line x1="235.10" y1="141.10" x2="244.90" y2="141.10" stroke="#5a5a60" stroke-width="1.5" />
<line x1="244.90" y1="141.10" x2="255.05" y2="141.10" stroke="#5a5a60" stroke-width="1.5" />
<line x1="255.05" y1="141.10" x2="265.20" y2="141.10" stroke="#9a2a9a" stroke-width="1.5" />
<line x1="265.20" y1="141.10" x2="274.55" y2="141.10" stroke="#9a2a9a" stroke-width="1.5" />
<line x1="274.55" y1="141.10" x2="283.90" y2="141.10" stroke="#5a5a60" stroke-width="1.5" />
<line x1="166.00" y1="180.00" x2="175.95" y2="180.00" stroke="#5a5a60" stroke-width="1.5" />
<line x1="175.95" y1="180.00" x2="185.90" y2="180.00" stroke="#9a2a9a" stroke-width="1.5" />
<line x1="185.90" y1="180.00" x2="195.60" y2="180.00" stroke="#9a2a9a" stroke-width="1.5" />
<line x1="195.60" y1="180.00" x2="205.30" y2="180.00" stroke="#5a5a60" stroke-width="1.5" />
<line x1="205.30" y1="180.00" x2="215.30" y2="180.00" stroke="#5a5a60" stroke-width="1.5" />
<line x1="215.30" y1="180.00" x2="225.30" y2="180.00" stroke="#9a2a9a" stroke-width="1.5" />
<line x1="225.30" y1="180.00" x2="235.10" y2="180.00" stroke="#9a2a9a" stroke-width="1.5" />
<line x1="235.10" y1="180.00" x2="244.90" y2="180.00" stroke="#5a5a60" stroke-width="1.5" />
<line x1="244.90" y1="180.00" x2="255.05" y2="180.00" stroke="#5a5a60" stroke-width="1.5" />
<line x1="255.05" y1="180.00" x2="265.20" y2="180.00" stroke="#9a2a9a" stroke-width="1.5" />
<line x1="265.20" y1="180.00" x2="274.55" y2="180.00" stroke="#9a2a9a" stroke-width="1.5" />
<line x1="274.55" y1="180.00" x2="283.90" y2="180.00" stroke="#5a5a60" stroke-width="1.5" />
<line x1="166.00" y1="101.40" x2="165.85" y2="111.20" stroke="#5a5a60" stroke-width="1.4" />
<line x1="165.85" y1="111.20" x2="165.70" y2="121.00" stroke="#9a2a9a" stroke-width="1.4" />
<line x1="166.00" y1="121.00" x2="165.85" y2="131.05" stroke="#9a2a9a" stroke-width="1.4" />
<line x1="165.85" y1="131.05" x2="165.70" y2="141.10" stroke="#5a5a60" stroke-width="1.4" />
<line x1="166.00" y1="141.10" x2="165.85" y2="150.95" stroke="#5a5a60" stroke-width="1.4" />
<line x1="165.85" y1="150.95" x2="165.70" y2="160.80" stroke="#9a2a9a" stroke-width="1.4" />
<line x1="166.00" y1="160.80" x2="165.85" y2="170.40" stroke="#9a2a9a" stroke-width="1.4" />
<line x1="165.85" y1="170.40" x2="165.70" y2="180.00" stroke="#5a5a60" stroke-width="1.4" />
<line x1="205.30" y1="101.40" x2="205.15" y2="111.20" stroke="#5a5a60" stroke-width="1.4" />
<line x1="205.15" y1="111.20" x2="205.00" y2="121.00" stroke="#9a2a9a" stroke-width="1.4" />
<line x1="205.30" y1="121.00" x2="205.15" y2="131.05" stroke="#9a2a9a" stroke-width="1.4" />
<line x1="205.15" y1="131.05" x2="205.00" y2="141.10" stroke="#5a5a60" stroke-width="1.4" />
<line x1="205.30" y1="141.10" x2="205.15" y2="150.95" stroke="#5a5a60" stroke-width="1.4" />
<line x1="205.15" y1="150.95" x2="205.00" y2="160.80" stroke="#9a2a9a" stroke-width="1.4" />
<line x1="205.30" y1="160.80" x2="205.15" y2="170.40" stroke="#9a2a9a" stroke-width="1.4" />
<line x1="205.15" y1="170.40" x2="205.00" y2="180.00" stroke="#5a5a60" stroke-width="1.4" />
<line x1="244.90" y1="101.40" x2="244.75" y2="111.20" stroke="#5a5a60" stroke-width="1.4" />
<line x1="244.75" y1="111.20" x2="244.60" y2="121.00" stroke="#9a2a9a" stroke-width="1.4" />
<line x1="244.90" y1="121.00" x2="244.75" y2="131.05" stroke="#9a2a9a" stroke-width="1.4" />
<line x1="244.75" y1="131.05" x2="244.60" y2="141.10" stroke="#5a5a60" stroke-width="1.4" />
<line x1="244.90" y1="141.10" x2="244.75" y2="150.95" stroke="#5a5a60" stroke-width="1.4" />
<line x1="244.75" y1="150.95" x2="244.60" y2="160.80" stroke="#9a2a9a" stroke-width="1.4" />
<line x1="244.90" y1="160.80" x2="244.75" y2="170.40" stroke="#9a2a9a" stroke-width="1.4" />
<line x1="244.75" y1="170.40" x2="244.60" y2="180.00" stroke="#5a5a60" stroke-width="1.4" />
<line x1="283.90" y1="101.40" x2="283.75" y2="111.20" stroke="#5a5a60" stroke-width="1.4" />
<line x1="283.75" y1="111.20" x2="283.60" y2="121.00" stroke="#9a2a9a" stroke-width="1.4" />
<line x1="283.90" y1="121.00" x2="283.75" y2="131.05" stroke="#9a2a9a" stroke-width="1.4" />
<line x1="283.75" y1="131.05" x2="283.60" y2="141.10" stroke="#5a5a60" stroke-width="1.4" />
<line x1="283.90" y1="141.10" x2="283.75" y2="150.95" stroke="#5a5a60" stroke-width="1.4" />
<line x1="283.75" y1="150.95" x2="283.60" y2="160.80" stroke="#9a2a9a" stroke-width="1.4" />
<line x1="283.90" y1="160.80" x2="283.75" y2="170.40" stroke="#9a2a9a" stroke-width="1.4" />
<line x1="283.75" y1="170.40" x2="283.60" y2="180.00" stroke="#5a5a60" stroke-width="1.4" />
<line x1="183.10" y1="114.90" x2="178.50" y2="111.60" stroke="#d8b0a8" stroke-width="0.9" />
<line x1="183.10" y1="114.90" x2="181.20" y2="111.30" stroke="#d8b0a8" stroke-width="0.9" />
<line x1="187.60" y1="117.10" x2="187.60" y2="112.10" stroke="#d8b0a8" stroke-width="0.9" />
<line x1="187.60" y1="117.10" x2="193.30" y2="117.60" stroke="#d8b0a8" stroke-width="0.9" />
<line x1="181.60" y1="124.70" x2="177.70" y2="120.90" stroke="#d8b0a8" stroke-width="0.9" />
<line x1="181.60" y1="124.70" x2="176.80" y2="123.70" stroke="#d8b0a8" stroke-width="0.9" />
<line x1="184.40" y1="126.70" x2="184.00" y2="130.80" stroke="#d8b0a8" stroke-width="0.9" />
<line x1="184.40" y1="126.70" x2="186.70" y2="131.90" stroke="#d8b0a8" stroke-width="0.9" />
<line x1="189.40" y1="125.10" x2="193.90" y2="128.60" stroke="#d8b0a8" stroke-width="0.9" />
<line x1="189.40" y1="125.10" x2="192.20" y2="126.40" stroke="#d8b0a8" stroke-width="0.9" />
<line x1="187.60" y1="117.10" x2="187.00" y2="122.70" stroke="#8898c8" stroke-width="1.2" />
<line x1="184.40" y1="126.70" x2="187.00" y2="122.70" stroke="#8898c8" stroke-width="1.2" />
<circle cx="178.50" cy="111.60" r="1.20" fill="#f4e4e0" stroke="#c89890" stroke-width="0.5" />
<circle cx="181.20" cy="111.30" r="1.20" fill="#f4e4e0" stroke="#c89890" stroke-width="0.5" />
<circle cx="187.60" cy="112.10" r="1.20" fill="#f4e4e0" stroke="#c89890" stroke-width="0.5" />
<circle cx="193.30" cy="117.60" r="1.20" fill="#f4e4e0" stroke="#c89890" stroke-width="0.5" />
<circle cx="177.70" cy="120.90" r="1.20" fill="#f4e4e0" stroke="#c89890" stroke-width="0.5" />
<circle cx="176.80" cy="123.70" r="1.20" fill="#f4e4e0" stroke="#c89890" stroke-width="0.5" />
<circle cx="184.00" cy="130.80" r="1.20" fill="#f4e4e0" stroke="#c89890" stroke-width="0.5" />
<circle cx="186.70" cy="131.90" r="1.20" fill="#f4e4e0" stroke="#c89890" stroke-width="0.5" />
<circle cx="193.90" cy="128.60" r="1.20" fill="#f4e4e0" stroke="#c89890" stroke-width="0.5" />
<circle cx="192.20" cy="126.40" r="1.20" fill="#f4e4e0" stroke="#c89890" stroke-width="0.5" />
<circle cx="183.10" cy="114.90" r="2.00" fill="url(#gN)" stroke="none" stroke-width="0.5" />
<circle cx="187.60" cy="117.10" r="2.00" fill="url(#gN)" stroke="none" stroke-width="0.5" />
<circle cx="181.60" cy="124.70" r="2.00" fill="url(#gN)" stroke="none" stroke-width="0.5" />
<circle cx="184.40" cy="126.70" r="2.00" fill="url(#gN)" stroke="none" stroke-width="0.5" />
<circle cx="187.00" cy="122.70" r="2.00" fill="url(#gC)" stroke="none" stroke-width="0.5" />
<circle cx="189.40" cy="125.10" r="2.00" fill="url(#gC)" stroke="none" stroke-width="0.5" />
<line x1="177.90" y1="161.30" x2="195.70" y2="161.30" stroke="#b8a0a8" stroke-width="0.8" />
<circle cx="178.50" cy="161.30" r="0.90" fill="url(#gH)" stroke="none" stroke-width="0.5" />
<circle cx="180.70" cy="161.30" r="0.90" fill="url(#gH)" stroke="none" stroke-width="0.5" />
<circle cx="184.70" cy="161.30" r="1.50" fill="url(#gN)" stroke="none" stroke-width="0.5" />
<circle cx="188.60" cy="161.30" r="1.50" fill="url(#gC)" stroke="none" stroke-width="0.5" />
<circle cx="191.70" cy="161.30" r="0.90" fill="url(#gH)" stroke="none" stroke-width="0.5" />
<circle cx="195.20" cy="161.30" r="0.90" fill="url(#gH)" stroke="none" stroke-width="0.5" />
<line x1="222.50" y1="114.90" x2="217.90" y2="111.60" stroke="#d8b0a8" stroke-width="0.9" />
<line x1="222.50" y1="114.90" x2="220.60" y2="111.30" stroke="#d8b0a8" stroke-width="0.9" />
<line x1="227.00" y1="117.10" x2="227.00" y2="112.10" stroke="#d8b0a8" stroke-width="0.9" />
<line x1="227.00" y1="117.10" x2="232.70" y2="117.60" stroke="#d8b0a8" stroke-width="0.9" />
<line x1="221.00" y1="124.70" x2="217.10" y2="120.90" stroke="#d8b0a8" stroke-width="0.9" />
<line x1="221.00" y1="124.70" x2="216.20" y2="123.70" stroke="#d8b0a8" stroke-width="0.9" />
<line x1="223.80" y1="126.70" x2="223.40" y2="130.80" stroke="#d8b0a8" stroke-width="0.9" />
<line x1="223.80" y1="126.70" x2="226.10" y2="131.90" stroke="#d8b0a8" stroke-width="0.9" />
<line x1="228.80" y1="125.10" x2="233.30" y2="128.60" stroke="#d8b0a8" stroke-width="0.9" />
<line x1="228.80" y1="125.10" x2="231.60" y2="126.40" stroke="#d8b0a8" stroke-width="0.9" />
<line x1="227.00" y1="117.10" x2="226.40" y2="122.70" stroke="#8898c8" stroke-width="1.2" />
<line x1="223.80" y1="126.70" x2="226.40" y2="122.70" stroke="#8898c8" stroke-width="1.2" />
<circle cx="217.90" cy="111.60" r="1.20" fill="#f4e4e0" stroke="#c89890" stroke-width="0.5" />
<circle cx="220.60" cy="111.30" r="1.20" fill="#f4e4e0" stroke="#c89890" stroke-width="0.5" />
<circle cx="227.00" cy="112.10" r="1.20" fill="#f4e4e0" stroke="#c89890" stroke-width="0.5" />
<circle cx="232.70" cy="117.60" r="1.20" fill="#f4e4e0" stroke="#c89890" stroke-width="0.5" />
<circle cx="217.10" cy="120.90" r="1.20" fill="#f4e4e0" stroke="#c89890" stroke-width="0.5" />
<circle cx="216.20" cy="123.70" r="1.20" fill="#f4e4e0" stroke="#c89890" stroke-width="0.5" />
<circle cx="223.40" cy="130.80" r="1.20" fill="#f4e4e0" stroke="#c89890" stroke-width="0.5" />
<circle cx="226.10" cy="131.90" r="1.20" fill="#f4e4e0" stroke="#c89890" stroke-width="0.5" />
<circle cx="233.30" cy="128.60" r="1.20" fill="#f4e4e0" stroke="#c89890" stroke-width="0.5" />
<circle cx="231.60" cy="126.40" r="1.20" fill="#f4e4e0" stroke="#c89890" stroke-width="0.5" />
<circle cx="222.50" cy="114.90" r="2.00" fill="url(#gN)" stroke="none" stroke-width="0.5" />
<circle cx="227.00" cy="117.10" r="2.00" fill="url(#gN)" stroke="none" stroke-width="0.5" />
<circle cx="221.00" cy="124.70" r="2.00" fill="url(#gN)" stroke="none" stroke-width="0.5" />
<circle cx="223.80" cy="126.70" r="2.00" fill="url(#gN)" stroke="none" stroke-width="0.5" />
<circle cx="226.40" cy="122.70" r="2.00" fill="url(#gC)" stroke="none" stroke-width="0.5" />
<circle cx="228.80" cy="125.10" r="2.00" fill="url(#gC)" stroke="none" stroke-width="0.5" />
<line x1="217.30" y1="161.30" x2="235.10" y2="161.30" stroke="#b8a0a8" stroke-width="0.8" />
<circle cx="217.90" cy="161.30" r="0.90" fill="url(#gH)" stroke="none" stroke-width="0.5" />
<circle cx="220.10" cy="161.30" r="0.90" fill="url(#gH)" stroke="none" stroke-width="0.5" />
<circle cx="224.10" cy="161.30" r="1.50" fill="url(#gN)" stroke="none" stroke-width="0.5" />
<circle cx="228.00" cy="161.30" r="1.50" fill="url(#gC)" stroke="none" stroke-width="0.5" />
<circle cx="231.10" cy="161.30" r="0.90" fill="url(#gH)" stroke="none" stroke-width="0.5" />
<circle cx="234.60" cy="161.30" r="0.90" fill="url(#gH)" stroke="none" stroke-width="0.5" />
<line x1="262.40" y1="114.90" x2="257.80" y2="111.60" stroke="#d8b0a8" stroke-width="0.9" />
<line x1="262.40" y1="114.90" x2="260.50" y2="111.30" stroke="#d8b0a8" stroke-width="0.9" />
<line x1="266.90" y1="117.10" x2="266.90" y2="112.10" stroke="#d8b0a8" stroke-width="0.9" />
<line x1="266.90" y1="117.10" x2="272.60" y2="117.60" stroke="#d8b0a8" stroke-width="0.9" />
<line x1="260.90" y1="124.70" x2="257.00" y2="120.90" stroke="#d8b0a8" stroke-width="0.9" />
<line x1="260.90" y1="124.70" x2="256.10" y2="123.70" stroke="#d8b0a8" stroke-width="0.9" />
<line x1="263.70" y1="126.70" x2="263.30" y2="130.80" stroke="#d8b0a8" stroke-width="0.9" />
<line x1="263.70" y1="126.70" x2="266.00" y2="131.90" stroke="#d8b0a8" stroke-width="0.9" />
<line x1="268.70" y1="125.10" x2="273.20" y2="128.60" stroke="#d8b0a8" stroke-width="0.9" />
<line x1="268.70" y1="125.10" x2="271.50" y2="126.40" stroke="#d8b0a8" stroke-width="0.9" />
<line x1="266.90" y1="117.10" x2="266.30" y2="122.70" stroke="#8898c8" stroke-width="1.2" />
<line x1="263.70" y1="126.70" x2="266.30" y2="122.70" stroke="#8898c8" stroke-width="1.2" />
<circle cx="257.80" cy="111.60" r="1.20" fill="#f4e4e0" stroke="#c89890" stroke-width="0.5" />
<circle cx="260.50" cy="111.30" r="1.20" fill="#f4e4e0" stroke="#c89890" stroke-width="0.5" />
<circle cx="266.90" cy="112.10" r="1.20" fill="#f4e4e0" stroke="#c89890" stroke-width="0.5" />
<circle cx="272.60" cy="117.60" r="1.20" fill="#f4e4e0" stroke="#c89890" stroke-width="0.5" />
<circle cx="257.00" cy="120.90" r="1.20" fill="#f4e4e0" stroke="#c89890" stroke-width="0.5" />
<circle cx="256.10" cy="123.70" r="1.20" fill="#f4e4e0" stroke="#c89890" stroke-width="0.5" />
<circle cx="263.30" cy="130.80" r="1.20" fill="#f4e4e0" stroke="#c89890" stroke-width="0.5" />
<circle cx="266.00" cy="131.90" r="1.20" fill="#f4e4e0" stroke="#c89890" stroke-width="0.5" />
<circle cx="273.20" cy="128.60" r="1.20" fill="#f4e4e0" stroke="#c89890" stroke-width="0.5" />
<circle cx="271.50" cy="126.40" r="1.20" fill="#f4e4e0" stroke="#c89890" stroke-width="0.5" />
<circle cx="262.40" cy="114.90" r="2.00" fill="url(#gN)" stroke="none" stroke-width="0.5" />
<circle cx="266.90" cy="117.10" r="2.00" fill="url(#gN)" stroke="none" stroke-width="0.5" />
<circle cx="260.90" cy="124.70" r="2.00" fill="url(#gN)" stroke="none" stroke-width="0.5" />
<circle cx="263.70" cy="126.70" r="2.00" fill="url(#gN)" stroke="none" stroke-width="0.5" />
<circle cx="266.30" cy="122.70" r="2.00" fill="url(#gC)" stroke="none" stroke-width="0.5" />
<circle cx="268.70" cy="125.10" r="2.00" fill="url(#gC)" stroke="none" stroke-width="0.5" />
<line x1="257.20" y1="161.30" x2="275.00" y2="161.30" stroke="#b8a0a8" stroke-width="0.8" />
<circle cx="257.80" cy="161.30" r="0.90" fill="url(#gH)" stroke="none" stroke-width="0.5" />
<circle cx="260.00" cy="161.30" r="0.90" fill="url(#gH)" stroke="none" stroke-width="0.5" />
<circle cx="264.00" cy="161.30" r="1.50" fill="url(#gN)" stroke="none" stroke-width="0.5" />
<circle cx="267.90" cy="161.30" r="1.50" fill="url(#gC)" stroke="none" stroke-width="0.5" />
<circle cx="271.00" cy="161.30" r="0.90" fill="url(#gH)" stroke="none" stroke-width="0.5" />
<circle cx="274.50" cy="161.30" r="0.90" fill="url(#gH)" stroke="none" stroke-width="0.5" />
<circle cx="166.00" cy="101.40" r="4.40" fill="url(#gPb)" stroke="none" stroke-width="0.5" />
<circle cx="167.60" cy="101.60" r="2.90" fill="url(#gI)" stroke="none" stroke-width="0.5" />
<circle cx="205.30" cy="101.40" r="4.40" fill="url(#gPb)" stroke="none" stroke-width="0.5" />
<circle cx="206.90" cy="101.60" r="2.90" fill="url(#gI)" stroke="none" stroke-width="0.5" />
<circle cx="244.90" cy="101.40" r="4.40" fill="url(#gPb)" stroke="none" stroke-width="0.5" />
<circle cx="246.50" cy="101.60" r="2.90" fill="url(#gI)" stroke="none" stroke-width="0.5" />
<circle cx="283.90" cy="101.40" r="4.40" fill="url(#gPb)" stroke="none" stroke-width="0.5" />
<circle cx="285.50" cy="101.60" r="2.90" fill="url(#gI)" stroke="none" stroke-width="0.5" />
<circle cx="185.90" cy="101.40" r="3.50" fill="url(#gI)" stroke="none" stroke-width="0.5" />
<circle cx="225.30" cy="101.40" r="3.50" fill="url(#gI)" stroke="none" stroke-width="0.5" />
<circle cx="265.20" cy="101.40" r="3.50" fill="url(#gI)" stroke="none" stroke-width="0.5" />
<circle cx="166.00" cy="141.10" r="4.40" fill="url(#gPb)" stroke="none" stroke-width="0.5" />
<circle cx="167.60" cy="141.30" r="2.90" fill="url(#gI)" stroke="none" stroke-width="0.5" />
<circle cx="205.30" cy="141.10" r="4.40" fill="url(#gPb)" stroke="none" stroke-width="0.5" />
<circle cx="206.90" cy="141.30" r="2.90" fill="url(#gI)" stroke="none" stroke-width="0.5" />
<circle cx="244.90" cy="141.10" r="4.40" fill="url(#gPb)" stroke="none" stroke-width="0.5" />
<circle cx="246.50" cy="141.30" r="2.90" fill="url(#gI)" stroke="none" stroke-width="0.5" />
<circle cx="283.90" cy="141.10" r="4.40" fill="url(#gPb)" stroke="none" stroke-width="0.5" />
<circle cx="285.50" cy="141.30" r="2.90" fill="url(#gI)" stroke="none" stroke-width="0.5" />
<circle cx="185.90" cy="141.10" r="3.50" fill="url(#gI)" stroke="none" stroke-width="0.5" />
<circle cx="225.30" cy="141.10" r="3.50" fill="url(#gI)" stroke="none" stroke-width="0.5" />
<circle cx="265.20" cy="141.10" r="3.50" fill="url(#gI)" stroke="none" stroke-width="0.5" />
<circle cx="166.00" cy="180.00" r="4.40" fill="url(#gPb)" stroke="none" stroke-width="0.5" />
<circle cx="167.60" cy="180.20" r="2.90" fill="url(#gI)" stroke="none" stroke-width="0.5" />
<circle cx="205.30" cy="180.00" r="4.40" fill="url(#gPb)" stroke="none" stroke-width="0.5" />
<circle cx="206.90" cy="180.20" r="2.90" fill="url(#gI)" stroke="none" stroke-width="0.5" />
<circle cx="244.90" cy="180.00" r="4.40" fill="url(#gPb)" stroke="none" stroke-width="0.5" />
<circle cx="246.50" cy="180.20" r="2.90" fill="url(#gI)" stroke="none" stroke-width="0.5" />
<circle cx="283.90" cy="180.00" r="4.40" fill="url(#gPb)" stroke="none" stroke-width="0.5" />
<circle cx="285.50" cy="180.20" r="2.90" fill="url(#gI)" stroke="none" stroke-width="0.5" />
<circle cx="185.90" cy="180.00" r="3.50" fill="url(#gI)" stroke="none" stroke-width="0.5" />
<circle cx="225.30" cy="180.00" r="3.50" fill="url(#gI)" stroke="none" stroke-width="0.5" />
<circle cx="265.20" cy="180.00" r="3.50" fill="url(#gI)" stroke="none" stroke-width="0.5" />
<circle cx="165.60" cy="121.00" r="3.50" fill="url(#gI)" stroke="none" stroke-width="0.5" />
<circle cx="204.90" cy="121.00" r="3.50" fill="url(#gI)" stroke="none" stroke-width="0.5" />
<circle cx="244.50" cy="121.00" r="3.50" fill="url(#gI)" stroke="none" stroke-width="0.5" />
<circle cx="283.50" cy="121.00" r="3.50" fill="url(#gI)" stroke="none" stroke-width="0.5" />
<circle cx="165.60" cy="160.80" r="3.50" fill="url(#gI)" stroke="none" stroke-width="0.5" />
<circle cx="204.90" cy="160.80" r="3.50" fill="url(#gI)" stroke="none" stroke-width="0.5" />
<circle cx="244.50" cy="160.80" r="3.50" fill="url(#gI)" stroke="none" stroke-width="0.5" />
<circle cx="283.50" cy="160.80" r="3.50" fill="url(#gI)" stroke="none" stroke-width="0.5" />
<circle cx="247.00" cy="106.00" r="3.50" fill="url(#gI)" stroke="none" stroke-width="0.5" />
<circle cx="186.00" cy="101.00" r="3.50" fill="url(#gI)" stroke="none" stroke-width="0.5" />
<line x1="248.70" y1="84.90" x2="247.10" y2="92.60" stroke="#30c020" stroke-width="1.4" />
<line x1="247.10" y1="92.60" x2="245.50" y2="100.30" stroke="#5a5a60" stroke-width="1.4" />
<line x1="246.20" y1="69.50" x2="245.55" y2="62.45" stroke="#b07040" stroke-width="1.3" />
<line x1="245.55" y1="62.45" x2="244.90" y2="55.40" stroke="#30c020" stroke-width="1.3" />
<line x1="246.20" y1="69.50" x2="240.75" y2="72.40" stroke="#b07040" stroke-width="1.3" />
<line x1="240.75" y1="72.40" x2="235.30" y2="75.30" stroke="#30c020" stroke-width="1.3" />
<line x1="246.20" y1="69.50" x2="247.45" y2="77.20" stroke="#b07040" stroke-width="1.3" />
<line x1="247.45" y1="77.20" x2="248.70" y2="84.90" stroke="#30c020" stroke-width="1.3" />
<line x1="246.20" y1="69.50" x2="240.90" y2="66.80" stroke="#b07040" stroke-width="1.3" />
<line x1="240.90" y1="66.80" x2="235.60" y2="64.10" stroke="#a0d830" stroke-width="1.3" />
<line x1="246.20" y1="69.50" x2="252.45" y2="73.35" stroke="#b07040" stroke-width="1.3" />
<line x1="252.45" y1="73.35" x2="258.70" y2="77.20" stroke="#a0d830" stroke-width="1.3" />
<line x1="228.80" y1="73.10" x2="232.20" y2="68.60" stroke="#7a4020" stroke-width="1.1" />
<line x1="232.20" y1="68.60" x2="235.60" y2="64.10" stroke="#a0d830" stroke-width="1.1" />
<line x1="228.80" y1="73.10" x2="225.30" y2="72.55" stroke="#7a4020" stroke-width="1.0" />
<line x1="225.30" y1="72.55" x2="221.80" y2="72.00" stroke="#8090c0" stroke-width="1.0" />
<line x1="228.80" y1="73.10" x2="229.45" y2="77.05" stroke="#7a4020" stroke-width="1.0" />
<line x1="229.45" y1="77.05" x2="230.10" y2="81.00" stroke="#8090c0" stroke-width="1.0" />
<line x1="221.80" y1="72.00" x2="220.20" y2="67.50" stroke="#8090c0" stroke-width="1.0" />
<line x1="220.20" y1="67.50" x2="218.60" y2="63.00" stroke="#7a4020" stroke-width="1.0" />
<line x1="221.80" y1="72.00" x2="219.25" y2="75.25" stroke="#8090c0" stroke-width="1.0" />
<line x1="219.25" y1="75.25" x2="216.70" y2="78.50" stroke="#7a4020" stroke-width="1.0" />
<line x1="218.60" y1="63.00" x2="221.37" y2="64.60" stroke="#c8a8a0" stroke-width="0.6" />
<circle cx="221.37" cy="64.60" r="1.20" fill="url(#gH)" stroke="none" stroke-width="0.5" />
<line x1="218.60" y1="63.00" x2="215.83" y2="64.60" stroke="#c8a8a0" stroke-width="0.6" />
<circle cx="215.83" cy="64.60" r="1.20" fill="url(#gH)" stroke="none" stroke-width="0.5" />
<line x1="218.60" y1="63.00" x2="218.60" y2="59.80" stroke="#c8a8a0" stroke-width="0.6" />
<circle cx="218.60" cy="59.80" r="1.20" fill="url(#gH)" stroke="none" stroke-width="0.5" />
<line x1="216.70" y1="78.50" x2="219.47" y2="80.10" stroke="#c8a8a0" stroke-width="0.6" />
<circle cx="219.47" cy="80.10" r="1.20" fill="url(#gH)" stroke="none" stroke-width="0.5" />
<line x1="216.70" y1="78.50" x2="213.93" y2="80.10" stroke="#c8a8a0" stroke-width="0.6" />
<circle cx="213.93" cy="80.10" r="1.20" fill="url(#gH)" stroke="none" stroke-width="0.5" />
<line x1="216.70" y1="78.50" x2="216.70" y2="75.30" stroke="#c8a8a0" stroke-width="0.6" />
<circle cx="216.70" cy="75.30" r="1.20" fill="url(#gH)" stroke="none" stroke-width="0.5" />
<line x1="230.10" y1="81.00" x2="231.60" y2="83.60" stroke="#c8a8a0" stroke-width="0.6" />
<circle cx="231.60" cy="83.60" r="1.20" fill="url(#gH)" stroke="none" stroke-width="0.5" />
<line x1="230.10" y1="81.00" x2="227.28" y2="79.97" stroke="#c8a8a0" stroke-width="0.6" />
<circle cx="227.28" cy="79.97" r="1.20" fill="url(#gH)" stroke="none" stroke-width="0.5" />
<circle cx="218.60" cy="63.00" r="1.90" fill="url(#gC)" stroke="none" stroke-width="0.5" />
<circle cx="216.70" cy="78.50" r="1.90" fill="url(#gC)" stroke="none" stroke-width="0.5" />
<circle cx="221.80" cy="72.00" r="1.90" fill="url(#gN)" stroke="none" stroke-width="0.5" />
<circle cx="230.10" cy="81.00" r="1.90" fill="url(#gN)" stroke="none" stroke-width="0.5" />
<circle cx="228.80" cy="73.10" r="1.90" fill="url(#gC)" stroke="none" stroke-width="0.5" />
<line x1="262.20" y1="70.10" x2="260.45" y2="73.65" stroke="#7a4020" stroke-width="1.1" />
<line x1="260.45" y1="73.65" x2="258.70" y2="77.20" stroke="#a0d830" stroke-width="1.1" />
<line x1="262.20" y1="70.10" x2="265.10" y2="71.40" stroke="#7a4020" stroke-width="1.0" />
<line x1="265.10" y1="71.40" x2="268.00" y2="72.70" stroke="#8090c0" stroke-width="1.0" />
<line x1="262.20" y1="70.10" x2="260.25" y2="66.25" stroke="#7a4020" stroke-width="1.0" />
<line x1="260.25" y1="66.25" x2="258.30" y2="62.40" stroke="#8090c0" stroke-width="1.0" />
<line x1="268.00" y1="72.70" x2="269.25" y2="69.50" stroke="#8090c0" stroke-width="1.0" />
<line x1="269.25" y1="69.50" x2="270.50" y2="66.30" stroke="#7a4020" stroke-width="1.0" />
<line x1="268.00" y1="72.70" x2="269.90" y2="76.85" stroke="#8090c0" stroke-width="1.0" />
<line x1="269.90" y1="76.85" x2="271.80" y2="81.00" stroke="#7a4020" stroke-width="1.0" />
<line x1="270.50" y1="66.30" x2="273.27" y2="67.90" stroke="#c8a8a0" stroke-width="0.6" />
<circle cx="273.27" cy="67.90" r="1.20" fill="url(#gH)" stroke="none" stroke-width="0.5" />
<line x1="270.50" y1="66.30" x2="267.73" y2="67.90" stroke="#c8a8a0" stroke-width="0.6" />
<circle cx="267.73" cy="67.90" r="1.20" fill="url(#gH)" stroke="none" stroke-width="0.5" />
<line x1="270.50" y1="66.30" x2="270.50" y2="63.10" stroke="#c8a8a0" stroke-width="0.6" />
<circle cx="270.50" cy="63.10" r="1.20" fill="url(#gH)" stroke="none" stroke-width="0.5" />
<line x1="271.80" y1="81.00" x2="274.57" y2="82.60" stroke="#c8a8a0" stroke-width="0.6" />
<circle cx="274.57" cy="82.60" r="1.20" fill="url(#gH)" stroke="none" stroke-width="0.5" />
<line x1="271.80" y1="81.00" x2="269.03" y2="82.60" stroke="#c8a8a0" stroke-width="0.6" />
<circle cx="269.03" cy="82.60" r="1.20" fill="url(#gH)" stroke="none" stroke-width="0.5" />
<line x1="271.80" y1="81.00" x2="271.80" y2="77.80" stroke="#c8a8a0" stroke-width="0.6" />
<circle cx="271.80" cy="77.80" r="1.20" fill="url(#gH)" stroke="none" stroke-width="0.5" />
<line x1="258.30" y1="62.40" x2="259.80" y2="65.00" stroke="#c8a8a0" stroke-width="0.6" />
<circle cx="259.80" cy="65.00" r="1.20" fill="url(#gH)" stroke="none" stroke-width="0.5" />
<line x1="258.30" y1="62.40" x2="255.48" y2="61.37" stroke="#c8a8a0" stroke-width="0.6" />
<circle cx="255.48" cy="61.37" r="1.20" fill="url(#gH)" stroke="none" stroke-width="0.5" />
<circle cx="270.50" cy="66.30" r="1.90" fill="url(#gC)" stroke="none" stroke-width="0.5" />
<circle cx="271.80" cy="81.00" r="1.90" fill="url(#gC)" stroke="none" stroke-width="0.5" />
<circle cx="268.00" cy="72.70" r="1.90" fill="url(#gN)" stroke="none" stroke-width="0.5" />
<circle cx="258.30" cy="62.40" r="1.90" fill="url(#gN)" stroke="none" stroke-width="0.5" />
<circle cx="262.20" cy="70.10" r="1.90" fill="url(#gC)" stroke="none" stroke-width="0.5" />
<circle cx="235.60" cy="64.10" r="2.60" fill="url(#gS)" stroke="none" stroke-width="0.5" />
<circle cx="258.70" cy="77.20" r="2.60" fill="url(#gS)" stroke="none" stroke-width="0.5" />
<circle cx="244.90" cy="55.40" r="2.70" fill="url(#gCl)" stroke="none" stroke-width="0.5" />
<circle cx="235.30" cy="75.30" r="2.70" fill="url(#gCl)" stroke="none" stroke-width="0.5" />
<circle cx="248.70" cy="84.90" r="2.70" fill="url(#gCl)" stroke="none" stroke-width="0.5" />
<circle cx="246.20" cy="69.50" r="3.70" fill="url(#gSb)" stroke="none" stroke-width="0.5" />
<path d="M223.20,11.00 C223.20,17.50 223.40,42.50 223.20,50.00 C223.00,57.50 222.03,54.00 222.00,56.00 C221.97,58.00 223.17,60.17 223.00,62.00 C222.83,63.83 222.17,65.33 221.00,67.00 C219.83,68.67 217.42,70.33 216.00,72.00 C214.58,73.67 212.83,75.50 212.50,77.00 C212.17,78.50 212.42,79.83 214.00,81.00 C215.58,82.17 218.00,83.08 222.00,84.00 C226.00,84.92 233.17,85.67 238.00,86.50 C242.83,87.33 250.67,88.17 251.00,89.00 C251.33,89.83 244.17,90.75 240.00,91.50 C235.83,92.25 228.87,92.67 226.00,93.50 C223.13,94.33 222.80,95.45 222.80,96.50 C222.80,97.55 224.67,98.75 226.00,99.80 C227.33,100.85 230.80,101.93 230.80,102.80 C230.80,103.67 227.33,104.30 226.00,105.00 C224.67,105.70 223.48,105.88 222.80,107.00 C222.12,108.12 221.32,110.03 221.90,111.70 C222.48,113.37 225.27,115.23 226.30,117.00 C227.33,118.77 228.38,120.52 228.10,122.30 C227.82,124.08 225.33,125.75 224.60,127.70 C223.87,129.65 223.47,131.63 223.70,134.00 C223.93,136.37 225.87,139.40 226.00,141.90 C226.13,144.40 224.88,146.63 224.50,149.00 C224.12,151.37 223.70,153.77 223.70,156.10 C223.70,158.43 224.50,160.68 224.50,163.00 C224.50,165.32 223.63,167.17 223.70,170.00 C223.77,172.83 224.70,178.33 224.90,180.00" fill="none" stroke="#70c870" stroke-width="1.4" stroke-linejoin="round" stroke-linecap="round" />
</g>
<line x1="173.70" y1="179.60" x2="173.70" y2="177.10" stroke="#000" stroke-width="0.9" />
<text x="173.7" y="187.6" font-size="7.2" font-weight="bold" fill="#000" text-anchor="middle" font-family='"Liberation Sans", sans-serif' >−0.3</text>
<line x1="190.80" y1="179.60" x2="190.80" y2="177.10" stroke="#000" stroke-width="0.9" />
<text x="190.8" y="187.6" font-size="7.2" font-weight="bold" fill="#000" text-anchor="middle" font-family='"Liberation Sans", sans-serif' >−0.2</text>
<line x1="207.90" y1="179.60" x2="207.90" y2="177.10" stroke="#000" stroke-width="0.9" />
<text x="207.9" y="187.6" font-size="7.2" font-weight="bold" fill="#000" text-anchor="middle" font-family='"Liberation Sans", sans-serif' >−0.1</text>
<line x1="225.00" y1="179.60" x2="225.00" y2="177.10" stroke="#000" stroke-width="0.9" />
<text x="225.0" y="187.6" font-size="7.2" font-weight="bold" fill="#000" text-anchor="middle" font-family='"Liberation Sans", sans-serif' >0.0</text>
<line x1="242.10" y1="179.60" x2="242.10" y2="177.10" stroke="#000" stroke-width="0.9" />
<text x="242.1" y="187.6" font-size="7.2" font-weight="bold" fill="#000" text-anchor="middle" font-family='"Liberation Sans", sans-serif' >0.1</text>
<line x1="259.20" y1="179.60" x2="259.20" y2="177.10" stroke="#000" stroke-width="0.9" />
<text x="259.2" y="187.6" font-size="7.2" font-weight="bold" fill="#000" text-anchor="middle" font-family='"Liberation Sans", sans-serif' >0.2</text>
<line x1="276.30" y1="179.60" x2="276.30" y2="177.10" stroke="#000" stroke-width="0.9" />
<text x="276.3" y="187.6" font-size="7.2" font-weight="bold" fill="#000" text-anchor="middle" font-family='"Liberation Sans", sans-serif' >0.3</text>
<rect x="166.00" y="11.00" width="118.20" height="168.60" fill="none" stroke="#000" stroke-width="1.6" />
<line x1="234.80" y1="17.00" x2="247.50" y2="17.00" stroke="#70c870" stroke-width="1.8" />
<text x="250" y="19.6" font-size="7.2" font-weight="bold" fill="#000" text-anchor="start" font-family='"Liberation Sans", sans-serif' >Cl</text>
<text x="224.4" y="33.4" font-size="11.4" font-family='"Liberation Mono", monospace' text-anchor="middle" textLength="91.5" lengthAdjust="spacingAndGlyphs" fill="#000" stroke="#000" stroke-width="0.38">One binding site</text>
<text x="227.3" y="46.8" font-size="11.4" font-family='"Liberation Mono", monospace' text-anchor="middle" textLength="21.6" lengthAdjust="spacingAndGlyphs" fill="#000" stroke="#000" stroke-width="0.38">(Cl)</text>
<text x="242.6" y="173.9" font-family='"Liberation Sans", sans-serif' font-weight="bold"><tspan font-size="10" font-style="italic" font-family='"Liberation Serif", serif'>&#961;</tspan><tspan font-size="5" dy="1.5" font-style="italic">diff</tspan><tspan font-size="7" dy="-1.5"> (e/Å)</tspan></text>
<text x="161.5" y="96" font-size="7.3" font-weight="bold" font-family='"Liberation Sans", sans-serif' text-anchor="middle" transform="rotate(-90 161.5 96)"><tspan font-style="italic">z</tspan> (Å)</text>
<text x="143.9" y="9.6" font-size="13.4" font-family='"Liberation Sans", sans-serif' fill="#000" stroke="#000" stroke-width="0.45">b</text>
<clipPath id="clipc"><rect x="23.7" y="203.7" width="118.4" height="168.6"/></clipPath>
<g clip-path="url(#clipc)">
<line x1="23.70" y1="294.10" x2="33.65" y2="294.10" stroke="#5a5a60" stroke-width="1.5" />
<line x1="33.65" y1="294.10" x2="43.60" y2="294.10" stroke="#9a2a9a" stroke-width="1.5" />
<line x1="43.60" y1="294.10" x2="53.30" y2="294.10" stroke="#9a2a9a" stroke-width="1.5" />
<line x1="53.30" y1="294.10" x2="63.00" y2="294.10" stroke="#5a5a60" stroke-width="1.5" />
<line x1="63.00" y1="294.10" x2="73.00" y2="294.10" stroke="#5a5a60" stroke-width="1.5" />
<line x1="73.00" y1="294.10" x2="83.00" y2="294.10" stroke="#9a2a9a" stroke-width="1.5" />
<line x1="83.00" y1="294.10" x2="92.80" y2="294.10" stroke="#9a2a9a" stroke-width="1.5" />
<line x1="92.80" y1="294.10" x2="102.60" y2="294.10" stroke="#5a5a60" stroke-width="1.5" />
<line x1="102.60" y1="294.10" x2="112.75" y2="294.10" stroke="#5a5a60" stroke-width="1.5" />
<line x1="112.75" y1="294.10" x2="122.90" y2="294.10" stroke="#9a2a9a" stroke-width="1.5" />
<line x1="122.90" y1="294.10" x2="132.25" y2="294.10" stroke="#9a2a9a" stroke-width="1.5" />
<line x1="132.25" y1="294.10" x2="141.60" y2="294.10" stroke="#5a5a60" stroke-width="1.5" />
<line x1="23.70" y1="333.80" x2="33.65" y2="333.80" stroke="#5a5a60" stroke-width="1.5" />
<line x1="33.65" y1="333.80" x2="43.60" y2="333.80" stroke="#9a2a9a" stroke-width="1.5" />
<line x1="43.60" y1="333.80" x2="53.30" y2="333.80" stroke="#9a2a9a" stroke-width="1.5" />
<line x1="53.30" y1="333.80" x2="63.00" y2="333.80" stroke="#5a5a60" stroke-width="1.5" />
<line x1="63.00" y1="333.80" x2="73.00" y2="333.80" stroke="#5a5a60" stroke-width="1.5" />
<line x1="73.00" y1="333.80" x2="83.00" y2="333.80" stroke="#9a2a9a" stroke-width="1.5" />
<line x1="83.00" y1="333.80" x2="92.80" y2="333.80" stroke="#9a2a9a" stroke-width="1.5" />
<line x1="92.80" y1="333.80" x2="102.60" y2="333.80" stroke="#5a5a60" stroke-width="1.5" />
<line x1="102.60" y1="333.80" x2="112.75" y2="333.80" stroke="#5a5a60" stroke-width="1.5" />
<line x1="112.75" y1="333.80" x2="122.90" y2="333.80" stroke="#9a2a9a" stroke-width="1.5" />
<line x1="122.90" y1="333.80" x2="132.25" y2="333.80" stroke="#9a2a9a" stroke-width="1.5" />
<line x1="132.25" y1="333.80" x2="141.60" y2="333.80" stroke="#5a5a60" stroke-width="1.5" />
<line x1="23.70" y1="372.70" x2="33.65" y2="372.70" stroke="#5a5a60" stroke-width="1.5" />
<line x1="33.65" y1="372.70" x2="43.60" y2="372.70" stroke="#9a2a9a" stroke-width="1.5" />
<line x1="43.60" y1="372.70" x2="53.30" y2="372.70" stroke="#9a2a9a" stroke-width="1.5" />
<line x1="53.30" y1="372.70" x2="63.00" y2="372.70" stroke="#5a5a60" stroke-width="1.5" />
<line x1="63.00" y1="372.70" x2="73.00" y2="372.70" stroke="#5a5a60" stroke-width="1.5" />
<line x1="73.00" y1="372.70" x2="83.00" y2="372.70" stroke="#9a2a9a" stroke-width="1.5" />
<line x1="83.00" y1="372.70" x2="92.80" y2="372.70" stroke="#9a2a9a" stroke-width="1.5" />
<line x1="92.80" y1="372.70" x2="102.60" y2="372.70" stroke="#5a5a60" stroke-width="1.5" />
<line x1="102.60" y1="372.70" x2="112.75" y2="372.70" stroke="#5a5a60" stroke-width="1.5" />
<line x1="112.75" y1="372.70" x2="122.90" y2="372.70" stroke="#9a2a9a" stroke-width="1.5" />
<line x1="122.90" y1="372.70" x2="132.25" y2="372.70" stroke="#9a2a9a" stroke-width="1.5" />
<line x1="132.25" y1="372.70" x2="141.60" y2="372.70" stroke="#5a5a60" stroke-width="1.5" />
<line x1="23.70" y1="294.10" x2="23.55" y2="303.90" stroke="#5a5a60" stroke-width="1.4" />
<line x1="23.55" y1="303.90" x2="23.40" y2="313.70" stroke="#9a2a9a" stroke-width="1.4" />
<line x1="23.70" y1="313.70" x2="23.55" y2="323.75" stroke="#9a2a9a" stroke-width="1.4" />
<line x1="23.55" y1="323.75" x2="23.40" y2="333.80" stroke="#5a5a60" stroke-width="1.4" />
<line x1="23.70" y1="333.80" x2="23.55" y2="343.65" stroke="#5a5a60" stroke-width="1.4" />
<line x1="23.55" y1="343.65" x2="23.40" y2="353.50" stroke="#9a2a9a" stroke-width="1.4" />
<line x1="23.70" y1="353.50" x2="23.55" y2="363.10" stroke="#9a2a9a" stroke-width="1.4" />
<line x1="23.55" y1="363.10" x2="23.40" y2="372.70" stroke="#5a5a60" stroke-width="1.4" />
<line x1="63.00" y1="294.10" x2="62.85" y2="303.90" stroke="#5a5a60" stroke-width="1.4" />
<line x1="62.85" y1="303.90" x2="62.70" y2="313.70" stroke="#9a2a9a" stroke-width="1.4" />
<line x1="63.00" y1="313.70" x2="62.85" y2="323.75" stroke="#9a2a9a" stroke-width="1.4" />
<line x1="62.85" y1="323.75" x2="62.70" y2="333.80" stroke="#5a5a60" stroke-width="1.4" />
<line x1="63.00" y1="333.80" x2="62.85" y2="343.65" stroke="#5a5a60" stroke-width="1.4" />
<line x1="62.85" y1="343.65" x2="62.70" y2="353.50" stroke="#9a2a9a" stroke-width="1.4" />
<line x1="63.00" y1="353.50" x2="62.85" y2="363.10" stroke="#9a2a9a" stroke-width="1.4" />
<line x1="62.85" y1="363.10" x2="62.70" y2="372.70" stroke="#5a5a60" stroke-width="1.4" />
<line x1="102.60" y1="294.10" x2="102.45" y2="303.90" stroke="#5a5a60" stroke-width="1.4" />
<line x1="102.45" y1="303.90" x2="102.30" y2="313.70" stroke="#9a2a9a" stroke-width="1.4" />
<line x1="102.60" y1="313.70" x2="102.45" y2="323.75" stroke="#9a2a9a" stroke-width="1.4" />
<line x1="102.45" y1="323.75" x2="102.30" y2="333.80" stroke="#5a5a60" stroke-width="1.4" />
<line x1="102.60" y1="333.80" x2="102.45" y2="343.65" stroke="#5a5a60" stroke-width="1.4" />
<line x1="102.45" y1="343.65" x2="102.30" y2="353.50" stroke="#9a2a9a" stroke-width="1.4" />
<line x1="102.60" y1="353.50" x2="102.45" y2="363.10" stroke="#9a2a9a" stroke-width="1.4" />
<line x1="102.45" y1="363.10" x2="102.30" y2="372.70" stroke="#5a5a60" stroke-width="1.4" />
<line x1="141.60" y1="294.10" x2="141.45" y2="303.90" stroke="#5a5a60" stroke-width="1.4" />
<line x1="141.45" y1="303.90" x2="141.30" y2="313.70" stroke="#9a2a9a" stroke-width="1.4" />
<line x1="141.60" y1="313.70" x2="141.45" y2="323.75" stroke="#9a2a9a" stroke-width="1.4" />
<line x1="141.45" y1="323.75" x2="141.30" y2="333.80" stroke="#5a5a60" stroke-width="1.4" />
<line x1="141.60" y1="333.80" x2="141.45" y2="343.65" stroke="#5a5a60" stroke-width="1.4" />
<line x1="141.45" y1="343.65" x2="141.30" y2="353.50" stroke="#9a2a9a" stroke-width="1.4" />
<line x1="141.60" y1="353.50" x2="141.45" y2="363.10" stroke="#9a2a9a" stroke-width="1.4" />
<line x1="141.45" y1="363.10" x2="141.30" y2="372.70" stroke="#5a5a60" stroke-width="1.4" />
<line x1="40.80" y1="307.60" x2="36.20" y2="304.30" stroke="#d8b0a8" stroke-width="0.9" />
<line x1="40.80" y1="307.60" x2="38.90" y2="304.00" stroke="#d8b0a8" stroke-width="0.9" />
<line x1="45.30" y1="309.80" x2="45.30" y2="304.80" stroke="#d8b0a8" stroke-width="0.9" />
<line x1="45.30" y1="309.80" x2="51.00" y2="310.30" stroke="#d8b0a8" stroke-width="0.9" />
<line x1="39.30" y1="317.40" x2="35.40" y2="313.60" stroke="#d8b0a8" stroke-width="0.9" />
<line x1="39.30" y1="317.40" x2="34.50" y2="316.40" stroke="#d8b0a8" stroke-width="0.9" />
<line x1="42.10" y1="319.40" x2="41.70" y2="323.50" stroke="#d8b0a8" stroke-width="0.9" />
<line x1="42.10" y1="319.40" x2="44.40" y2="324.60" stroke="#d8b0a8" stroke-width="0.9" />
<line x1="47.10" y1="317.80" x2="51.60" y2="321.30" stroke="#d8b0a8" stroke-width="0.9" />
<line x1="47.10" y1="317.80" x2="49.90" y2="319.10" stroke="#d8b0a8" stroke-width="0.9" />
<line x1="45.30" y1="309.80" x2="44.70" y2="315.40" stroke="#8898c8" stroke-width="1.2" />
<line x1="42.10" y1="319.40" x2="44.70" y2="315.40" stroke="#8898c8" stroke-width="1.2" />
<circle cx="36.20" cy="304.30" r="1.20" fill="#f4e4e0" stroke="#c89890" stroke-width="0.5" />
<circle cx="38.90" cy="304.00" r="1.20" fill="#f4e4e0" stroke="#c89890" stroke-width="0.5" />
<circle cx="45.30" cy="304.80" r="1.20" fill="#f4e4e0" stroke="#c89890" stroke-width="0.5" />
<circle cx="51.00" cy="310.30" r="1.20" fill="#f4e4e0" stroke="#c89890" stroke-width="0.5" />
<circle cx="35.40" cy="313.60" r="1.20" fill="#f4e4e0" stroke="#c89890" stroke-width="0.5" />
<circle cx="34.50" cy="316.40" r="1.20" fill="#f4e4e0" stroke="#c89890" stroke-width="0.5" />
<circle cx="41.70" cy="323.50" r="1.20" fill="#f4e4e0" stroke="#c89890" stroke-width="0.5" />
<circle cx="44.40" cy="324.60" r="1.20" fill="#f4e4e0" stroke="#c89890" stroke-width="0.5" />
<circle cx="51.60" cy="321.30" r="1.20" fill="#f4e4e0" stroke="#c89890" stroke-width="0.5" />
<circle cx="49.90" cy="319.10" r="1.20" fill="#f4e4e0" stroke="#c89890" stroke-width="0.5" />
<circle cx="40.80" cy="307.60" r="2.00" fill="url(#gN)" stroke="none" stroke-width="0.5" />
<circle cx="45.30" cy="309.80" r="2.00" fill="url(#gN)" stroke="none" stroke-width="0.5" />
<circle cx="39.30" cy="317.40" r="2.00" fill="url(#gN)" stroke="none" stroke-width="0.5" />
<circle cx="42.10" cy="319.40" r="2.00" fill="url(#gN)" stroke="none" stroke-width="0.5" />
<circle cx="44.70" cy="315.40" r="2.00" fill="url(#gC)" stroke="none" stroke-width="0.5" />
<circle cx="47.10" cy="317.80" r="2.00" fill="url(#gC)" stroke="none" stroke-width="0.5" />
<line x1="35.60" y1="354.00" x2="53.40" y2="354.00" stroke="#b8a0a8" stroke-width="0.8" />
<circle cx="36.20" cy="354.00" r="0.90" fill="url(#gH)" stroke="none" stroke-width="0.5" />
<circle cx="38.40" cy="354.00" r="0.90" fill="url(#gH)" stroke="none" stroke-width="0.5" />
<circle cx="42.40" cy="354.00" r="1.50" fill="url(#gN)" stroke="none" stroke-width="0.5" />
<circle cx="46.30" cy="354.00" r="1.50" fill="url(#gC)" stroke="none" stroke-width="0.5" />
<circle cx="49.40" cy="354.00" r="0.90" fill="url(#gH)" stroke="none" stroke-width="0.5" />
<circle cx="52.90" cy="354.00" r="0.90" fill="url(#gH)" stroke="none" stroke-width="0.5" />
<line x1="80.20" y1="307.60" x2="75.60" y2="304.30" stroke="#d8b0a8" stroke-width="0.9" />
<line x1="80.20" y1="307.60" x2="78.30" y2="304.00" stroke="#d8b0a8" stroke-width="0.9" />
<line x1="84.70" y1="309.80" x2="84.70" y2="304.80" stroke="#d8b0a8" stroke-width="0.9" />
<line x1="84.70" y1="309.80" x2="90.40" y2="310.30" stroke="#d8b0a8" stroke-width="0.9" />
<line x1="78.70" y1="317.40" x2="74.80" y2="313.60" stroke="#d8b0a8" stroke-width="0.9" />
<line x1="78.70" y1="317.40" x2="73.90" y2="316.40" stroke="#d8b0a8" stroke-width="0.9" />
<line x1="81.50" y1="319.40" x2="81.10" y2="323.50" stroke="#d8b0a8" stroke-width="0.9" />
<line x1="81.50" y1="319.40" x2="83.80" y2="324.60" stroke="#d8b0a8" stroke-width="0.9" />
<line x1="86.50" y1="317.80" x2="91.00" y2="321.30" stroke="#d8b0a8" stroke-width="0.9" />
<line x1="86.50" y1="317.80" x2="89.30" y2="319.10" stroke="#d8b0a8" stroke-width="0.9" />
<line x1="84.70" y1="309.80" x2="84.10" y2="315.40" stroke="#8898c8" stroke-width="1.2" />
<line x1="81.50" y1="319.40" x2="84.10" y2="315.40" stroke="#8898c8" stroke-width="1.2" />
<circle cx="75.60" cy="304.30" r="1.20" fill="#f4e4e0" stroke="#c89890" stroke-width="0.5" />
<circle cx="78.30" cy="304.00" r="1.20" fill="#f4e4e0" stroke="#c89890" stroke-width="0.5" />
<circle cx="84.70" cy="304.80" r="1.20" fill="#f4e4e0" stroke="#c89890" stroke-width="0.5" />
<circle cx="90.40" cy="310.30" r="1.20" fill="#f4e4e0" stroke="#c89890" stroke-width="0.5" />
<circle cx="74.80" cy="313.60" r="1.20" fill="#f4e4e0" stroke="#c89890" stroke-width="0.5" />
<circle cx="73.90" cy="316.40" r="1.20" fill="#f4e4e0" stroke="#c89890" stroke-width="0.5" />
<circle cx="81.10" cy="323.50" r="1.20" fill="#f4e4e0" stroke="#c89890" stroke-width="0.5" />
<circle cx="83.80" cy="324.60" r="1.20" fill="#f4e4e0" stroke="#c89890" stroke-width="0.5" />
<circle cx="91.00" cy="321.30" r="1.20" fill="#f4e4e0" stroke="#c89890" stroke-width="0.5" />
<circle cx="89.30" cy="319.10" r="1.20" fill="#f4e4e0" stroke="#c89890" stroke-width="0.5" />
<circle cx="80.20" cy="307.60" r="2.00" fill="url(#gN)" stroke="none" stroke-width="0.5" />
<circle cx="84.70" cy="309.80" r="2.00" fill="url(#gN)" stroke="none" stroke-width="0.5" />
<circle cx="78.70" cy="317.40" r="2.00" fill="url(#gN)" stroke="none" stroke-width="0.5" />
<circle cx="81.50" cy="319.40" r="2.00" fill="url(#gN)" stroke="none" stroke-width="0.5" />
<circle cx="84.10" cy="315.40" r="2.00" fill="url(#gC)" stroke="none" stroke-width="0.5" />
<circle cx="86.50" cy="317.80" r="2.00" fill="url(#gC)" stroke="none" stroke-width="0.5" />
<line x1="75.00" y1="354.00" x2="92.80" y2="354.00" stroke="#b8a0a8" stroke-width="0.8" />
<circle cx="75.60" cy="354.00" r="0.90" fill="url(#gH)" stroke="none" stroke-width="0.5" />
<circle cx="77.80" cy="354.00" r="0.90" fill="url(#gH)" stroke="none" stroke-width="0.5" />
<circle cx="81.80" cy="354.00" r="1.50" fill="url(#gN)" stroke="none" stroke-width="0.5" />
<circle cx="85.70" cy="354.00" r="1.50" fill="url(#gC)" stroke="none" stroke-width="0.5" />
<circle cx="88.80" cy="354.00" r="0.90" fill="url(#gH)" stroke="none" stroke-width="0.5" />
<circle cx="92.30" cy="354.00" r="0.90" fill="url(#gH)" stroke="none" stroke-width="0.5" />
<line x1="120.10" y1="307.60" x2="115.50" y2="304.30" stroke="#d8b0a8" stroke-width="0.9" />
<line x1="120.10" y1="307.60" x2="118.20" y2="304.00" stroke="#d8b0a8" stroke-width="0.9" />
<line x1="124.60" y1="309.80" x2="124.60" y2="304.80" stroke="#d8b0a8" stroke-width="0.9" />
<line x1="124.60" y1="309.80" x2="130.30" y2="310.30" stroke="#d8b0a8" stroke-width="0.9" />
<line x1="118.60" y1="317.40" x2="114.70" y2="313.60" stroke="#d8b0a8" stroke-width="0.9" />
<line x1="118.60" y1="317.40" x2="113.80" y2="316.40" stroke="#d8b0a8" stroke-width="0.9" />
<line x1="121.40" y1="319.40" x2="121.00" y2="323.50" stroke="#d8b0a8" stroke-width="0.9" />
<line x1="121.40" y1="319.40" x2="123.70" y2="324.60" stroke="#d8b0a8" stroke-width="0.9" />
<line x1="126.40" y1="317.80" x2="130.90" y2="321.30" stroke="#d8b0a8" stroke-width="0.9" />
<line x1="126.40" y1="317.80" x2="129.20" y2="319.10" stroke="#d8b0a8" stroke-width="0.9" />
<line x1="124.60" y1="309.80" x2="124.00" y2="315.40" stroke="#8898c8" stroke-width="1.2" />
<line x1="121.40" y1="319.40" x2="124.00" y2="315.40" stroke="#8898c8" stroke-width="1.2" />
<circle cx="115.50" cy="304.30" r="1.20" fill="#f4e4e0" stroke="#c89890" stroke-width="0.5" />
<circle cx="118.20" cy="304.00" r="1.20" fill="#f4e4e0" stroke="#c89890" stroke-width="0.5" />
<circle cx="124.60" cy="304.80" r="1.20" fill="#f4e4e0" stroke="#c89890" stroke-width="0.5" />
<circle cx="130.30" cy="310.30" r="1.20" fill="#f4e4e0" stroke="#c89890" stroke-width="0.5" />
<circle cx="114.70" cy="313.60" r="1.20" fill="#f4e4e0" stroke="#c89890" stroke-width="0.5" />
<circle cx="113.80" cy="316.40" r="1.20" fill="#f4e4e0" stroke="#c89890" stroke-width="0.5" />
<circle cx="121.00" cy="323.50" r="1.20" fill="#f4e4e0" stroke="#c89890" stroke-width="0.5" />
<circle cx="123.70" cy="324.60" r="1.20" fill="#f4e4e0" stroke="#c89890" stroke-width="0.5" />
<circle cx="130.90" cy="321.30" r="1.20" fill="#f4e4e0" stroke="#c89890" stroke-width="0.5" />
<circle cx="129.20" cy="319.10" r="1.20" fill="#f4e4e0" stroke="#c89890" stroke-width="0.5" />
<circle cx="120.10" cy="307.60" r="2.00" fill="url(#gN)" stroke="none" stroke-width="0.5" />
<circle cx="124.60" cy="309.80" r="2.00" fill="url(#gN)" stroke="none" stroke-width="0.5" />
<circle cx="118.60" cy="317.40" r="2.00" fill="url(#gN)" stroke="none" stroke-width="0.5" />
<circle cx="121.40" cy="319.40" r="2.00" fill="url(#gN)" stroke="none" stroke-width="0.5" />
<circle cx="124.00" cy="315.40" r="2.00" fill="url(#gC)" stroke="none" stroke-width="0.5" />
<circle cx="126.40" cy="317.80" r="2.00" fill="url(#gC)" stroke="none" stroke-width="0.5" />
<line x1="114.90" y1="354.00" x2="132.70" y2="354.00" stroke="#b8a0a8" stroke-width="0.8" />
<circle cx="115.50" cy="354.00" r="0.90" fill="url(#gH)" stroke="none" stroke-width="0.5" />
<circle cx="117.70" cy="354.00" r="0.90" fill="url(#gH)" stroke="none" stroke-width="0.5" />
<circle cx="121.70" cy="354.00" r="1.50" fill="url(#gN)" stroke="none" stroke-width="0.5" />
<circle cx="125.60" cy="354.00" r="1.50" fill="url(#gC)" stroke="none" stroke-width="0.5" />
<circle cx="128.70" cy="354.00" r="0.90" fill="url(#gH)" stroke="none" stroke-width="0.5" />
<circle cx="132.20" cy="354.00" r="0.90" fill="url(#gH)" stroke="none" stroke-width="0.5" />
<circle cx="23.70" cy="294.10" r="4.40" fill="url(#gPb)" stroke="none" stroke-width="0.5" />
<circle cx="25.30" cy="294.30" r="2.90" fill="url(#gI)" stroke="none" stroke-width="0.5" />
<circle cx="63.00" cy="294.10" r="4.40" fill="url(#gPb)" stroke="none" stroke-width="0.5" />
<circle cx="64.60" cy="294.30" r="2.90" fill="url(#gI)" stroke="none" stroke-width="0.5" />
<circle cx="102.60" cy="294.10" r="4.40" fill="url(#gPb)" stroke="none" stroke-width="0.5" />
<circle cx="104.20" cy="294.30" r="2.90" fill="url(#gI)" stroke="none" stroke-width="0.5" />
<circle cx="141.60" cy="294.10" r="4.40" fill="url(#gPb)" stroke="none" stroke-width="0.5" />
<circle cx="143.20" cy="294.30" r="2.90" fill="url(#gI)" stroke="none" stroke-width="0.5" />
<circle cx="43.60" cy="294.10" r="3.50" fill="url(#gI)" stroke="none" stroke-width="0.5" />
<circle cx="83.00" cy="294.10" r="3.50" fill="url(#gI)" stroke="none" stroke-width="0.5" />
<circle cx="122.90" cy="294.10" r="3.50" fill="url(#gI)" stroke="none" stroke-width="0.5" />
<circle cx="23.70" cy="333.80" r="4.40" fill="url(#gPb)" stroke="none" stroke-width="0.5" />
<circle cx="25.30" cy="334.00" r="2.90" fill="url(#gI)" stroke="none" stroke-width="0.5" />
<circle cx="63.00" cy="333.80" r="4.40" fill="url(#gPb)" stroke="none" stroke-width="0.5" />
<circle cx="64.60" cy="334.00" r="2.90" fill="url(#gI)" stroke="none" stroke-width="0.5" />
<circle cx="102.60" cy="333.80" r="4.40" fill="url(#gPb)" stroke="none" stroke-width="0.5" />
<circle cx="104.20" cy="334.00" r="2.90" fill="url(#gI)" stroke="none" stroke-width="0.5" />
<circle cx="141.60" cy="333.80" r="4.40" fill="url(#gPb)" stroke="none" stroke-width="0.5" />
<circle cx="143.20" cy="334.00" r="2.90" fill="url(#gI)" stroke="none" stroke-width="0.5" />
<circle cx="43.60" cy="333.80" r="3.50" fill="url(#gI)" stroke="none" stroke-width="0.5" />
<circle cx="83.00" cy="333.80" r="3.50" fill="url(#gI)" stroke="none" stroke-width="0.5" />
<circle cx="122.90" cy="333.80" r="3.50" fill="url(#gI)" stroke="none" stroke-width="0.5" />
<circle cx="23.70" cy="372.70" r="4.40" fill="url(#gPb)" stroke="none" stroke-width="0.5" />
<circle cx="25.30" cy="372.90" r="2.90" fill="url(#gI)" stroke="none" stroke-width="0.5" />
<circle cx="63.00" cy="372.70" r="4.40" fill="url(#gPb)" stroke="none" stroke-width="0.5" />
<circle cx="64.60" cy="372.90" r="2.90" fill="url(#gI)" stroke="none" stroke-width="0.5" />
<circle cx="102.60" cy="372.70" r="4.40" fill="url(#gPb)" stroke="none" stroke-width="0.5" />
<circle cx="104.20" cy="372.90" r="2.90" fill="url(#gI)" stroke="none" stroke-width="0.5" />
<circle cx="141.60" cy="372.70" r="4.40" fill="url(#gPb)" stroke="none" stroke-width="0.5" />
<circle cx="143.20" cy="372.90" r="2.90" fill="url(#gI)" stroke="none" stroke-width="0.5" />
<circle cx="43.60" cy="372.70" r="3.50" fill="url(#gI)" stroke="none" stroke-width="0.5" />
<circle cx="83.00" cy="372.70" r="3.50" fill="url(#gI)" stroke="none" stroke-width="0.5" />
<circle cx="122.90" cy="372.70" r="3.50" fill="url(#gI)" stroke="none" stroke-width="0.5" />
<circle cx="23.30" cy="313.70" r="3.50" fill="url(#gI)" stroke="none" stroke-width="0.5" />
<circle cx="62.60" cy="313.70" r="3.50" fill="url(#gI)" stroke="none" stroke-width="0.5" />
<circle cx="102.20" cy="313.70" r="3.50" fill="url(#gI)" stroke="none" stroke-width="0.5" />
<circle cx="141.20" cy="313.70" r="3.50" fill="url(#gI)" stroke="none" stroke-width="0.5" />
<circle cx="23.30" cy="353.50" r="3.50" fill="url(#gI)" stroke="none" stroke-width="0.5" />
<circle cx="62.60" cy="353.50" r="3.50" fill="url(#gI)" stroke="none" stroke-width="0.5" />
<circle cx="102.20" cy="353.50" r="3.50" fill="url(#gI)" stroke="none" stroke-width="0.5" />
<circle cx="141.20" cy="353.50" r="3.50" fill="url(#gI)" stroke="none" stroke-width="0.5" />
<circle cx="43.70" cy="290.50" r="3.50" fill="url(#gI)" stroke="none" stroke-width="0.5" />
<circle cx="82.00" cy="297.50" r="3.50" fill="url(#gI)" stroke="none" stroke-width="0.5" />
<circle cx="101.20" cy="307.00" r="3.50" fill="url(#gI)" stroke="none" stroke-width="0.5" />
<circle cx="59.20" cy="313.80" r="3.50" fill="url(#gI)" stroke="none" stroke-width="0.5" />
<line x1="70.70" y1="279.50" x2="67.05" y2="287.00" stroke="#30c020" stroke-width="1.3" />
<line x1="67.05" y1="287.00" x2="63.40" y2="294.50" stroke="#5a5a60" stroke-width="1.3" />
<line x1="94.70" y1="284.00" x2="98.00" y2="289.25" stroke="#30c020" stroke-width="1.3" />
<line x1="98.00" y1="289.25" x2="101.30" y2="294.50" stroke="#5a5a60" stroke-width="1.3" />
<line x1="78.00" y1="277.00" x2="81.25" y2="270.60" stroke="#b07040" stroke-width="1.3" />
<line x1="81.25" y1="270.60" x2="84.50" y2="264.20" stroke="#30c020" stroke-width="1.3" />
<line x1="78.00" y1="277.00" x2="86.35" y2="280.50" stroke="#b07040" stroke-width="1.3" />
<line x1="86.35" y1="280.50" x2="94.70" y2="284.00" stroke="#30c020" stroke-width="1.3" />
<line x1="78.00" y1="277.00" x2="74.35" y2="278.25" stroke="#b07040" stroke-width="1.3" />
<line x1="74.35" y1="278.25" x2="70.70" y2="279.50" stroke="#30c020" stroke-width="1.3" />
<line x1="78.00" y1="277.00" x2="71.50" y2="274.75" stroke="#b07040" stroke-width="1.3" />
<line x1="71.50" y1="274.75" x2="65.00" y2="272.50" stroke="#a0d830" stroke-width="1.3" />
<line x1="78.00" y1="277.00" x2="80.50" y2="275.00" stroke="#b07040" stroke-width="1.3" />
<line x1="80.50" y1="275.00" x2="83.00" y2="273.00" stroke="#a0d830" stroke-width="1.3" />
<line x1="67.50" y1="275.00" x2="66.25" y2="273.75" stroke="#7a4020" stroke-width="1.1" />
<line x1="66.25" y1="273.75" x2="65.00" y2="272.50" stroke="#a0d830" stroke-width="1.1" />
<line x1="67.50" y1="275.00" x2="69.25" y2="275.50" stroke="#7a4020" stroke-width="1.0" />
<line x1="69.25" y1="275.50" x2="71.00" y2="276.00" stroke="#8090c0" stroke-width="1.0" />
<line x1="67.50" y1="275.00" x2="64.75" y2="275.75" stroke="#7a4020" stroke-width="1.0" />
<line x1="64.75" y1="275.75" x2="62.00" y2="276.50" stroke="#8090c0" stroke-width="1.0" />
<line x1="71.00" y1="276.00" x2="65.00" y2="274.25" stroke="#8090c0" stroke-width="1.0" />
<line x1="65.00" y1="274.25" x2="59.00" y2="272.50" stroke="#7a4020" stroke-width="1.0" />
<line x1="71.00" y1="276.00" x2="68.50" y2="277.75" stroke="#8090c0" stroke-width="1.0" />
<line x1="68.50" y1="277.75" x2="66.00" y2="279.50" stroke="#7a4020" stroke-width="1.0" />
<line x1="59.00" y1="272.50" x2="61.77" y2="274.10" stroke="#c8a8a0" stroke-width="0.6" />
<circle cx="61.77" cy="274.10" r="1.20" fill="url(#gH)" stroke="none" stroke-width="0.5" />
<line x1="59.00" y1="272.50" x2="56.23" y2="274.10" stroke="#c8a8a0" stroke-width="0.6" />
<circle cx="56.23" cy="274.10" r="1.20" fill="url(#gH)" stroke="none" stroke-width="0.5" />
<line x1="59.00" y1="272.50" x2="59.00" y2="269.30" stroke="#c8a8a0" stroke-width="0.6" />
<circle cx="59.00" cy="269.30" r="1.20" fill="url(#gH)" stroke="none" stroke-width="0.5" />
<line x1="66.00" y1="279.50" x2="68.77" y2="281.10" stroke="#c8a8a0" stroke-width="0.6" />
<circle cx="68.77" cy="281.10" r="1.20" fill="url(#gH)" stroke="none" stroke-width="0.5" />
<line x1="66.00" y1="279.50" x2="63.23" y2="281.10" stroke="#c8a8a0" stroke-width="0.6" />
<circle cx="63.23" cy="281.10" r="1.20" fill="url(#gH)" stroke="none" stroke-width="0.5" />
<line x1="66.00" y1="279.50" x2="66.00" y2="276.30" stroke="#c8a8a0" stroke-width="0.6" />
<circle cx="66.00" cy="276.30" r="1.20" fill="url(#gH)" stroke="none" stroke-width="0.5" />
<line x1="62.00" y1="276.50" x2="63.50" y2="279.10" stroke="#c8a8a0" stroke-width="0.6" />
<circle cx="63.50" cy="279.10" r="1.20" fill="url(#gH)" stroke="none" stroke-width="0.5" />
<line x1="62.00" y1="276.50" x2="59.18" y2="275.47" stroke="#c8a8a0" stroke-width="0.6" />
<circle cx="59.18" cy="275.47" r="1.20" fill="url(#gH)" stroke="none" stroke-width="0.5" />
<circle cx="59.00" cy="272.50" r="1.90" fill="url(#gC)" stroke="none" stroke-width="0.5" />
<circle cx="66.00" cy="279.50" r="1.90" fill="url(#gC)" stroke="none" stroke-width="0.5" />
<circle cx="71.00" cy="276.00" r="1.90" fill="url(#gN)" stroke="none" stroke-width="0.5" />
<circle cx="62.00" cy="276.50" r="1.90" fill="url(#gN)" stroke="none" stroke-width="0.5" />
<circle cx="67.50" cy="275.00" r="1.90" fill="url(#gC)" stroke="none" stroke-width="0.5" />
<line x1="88.20" y1="275.50" x2="85.60" y2="274.25" stroke="#7a4020" stroke-width="1.1" />
<line x1="85.60" y1="274.25" x2="83.00" y2="273.00" stroke="#a0d830" stroke-width="1.1" />
<line x1="88.20" y1="275.50" x2="89.60" y2="276.25" stroke="#7a4020" stroke-width="1.0" />
<line x1="89.60" y1="276.25" x2="91.00" y2="277.00" stroke="#8090c0" stroke-width="1.0" />
<line x1="88.20" y1="275.50" x2="87.60" y2="274.00" stroke="#7a4020" stroke-width="1.0" />
<line x1="87.60" y1="274.00" x2="87.00" y2="272.50" stroke="#8090c0" stroke-width="1.0" />
<line x1="91.00" y1="277.00" x2="93.50" y2="275.50" stroke="#8090c0" stroke-width="1.0" />
<line x1="93.50" y1="275.50" x2="96.00" y2="274.00" stroke="#7a4020" stroke-width="1.0" />
<line x1="91.00" y1="277.00" x2="91.75" y2="278.50" stroke="#8090c0" stroke-width="1.0" />
<line x1="91.75" y1="278.50" x2="92.50" y2="280.00" stroke="#7a4020" stroke-width="1.0" />
<line x1="96.00" y1="274.00" x2="98.77" y2="275.60" stroke="#c8a8a0" stroke-width="0.6" />
<circle cx="98.77" cy="275.60" r="1.20" fill="url(#gH)" stroke="none" stroke-width="0.5" />
<line x1="96.00" y1="274.00" x2="93.23" y2="275.60" stroke="#c8a8a0" stroke-width="0.6" />
<circle cx="93.23" cy="275.60" r="1.20" fill="url(#gH)" stroke="none" stroke-width="0.5" />
<line x1="96.00" y1="274.00" x2="96.00" y2="270.80" stroke="#c8a8a0" stroke-width="0.6" />
<circle cx="96.00" cy="270.80" r="1.20" fill="url(#gH)" stroke="none" stroke-width="0.5" />
<line x1="92.50" y1="280.00" x2="95.27" y2="281.60" stroke="#c8a8a0" stroke-width="0.6" />
<circle cx="95.27" cy="281.60" r="1.20" fill="url(#gH)" stroke="none" stroke-width="0.5" />
<line x1="92.50" y1="280.00" x2="89.73" y2="281.60" stroke="#c8a8a0" stroke-width="0.6" />
<circle cx="89.73" cy="281.60" r="1.20" fill="url(#gH)" stroke="none" stroke-width="0.5" />
<line x1="92.50" y1="280.00" x2="92.50" y2="276.80" stroke="#c8a8a0" stroke-width="0.6" />
<circle cx="92.50" cy="276.80" r="1.20" fill="url(#gH)" stroke="none" stroke-width="0.5" />
<line x1="87.00" y1="272.50" x2="88.50" y2="275.10" stroke="#c8a8a0" stroke-width="0.6" />
<circle cx="88.50" cy="275.10" r="1.20" fill="url(#gH)" stroke="none" stroke-width="0.5" />
<line x1="87.00" y1="272.50" x2="84.18" y2="271.47" stroke="#c8a8a0" stroke-width="0.6" />
<circle cx="84.18" cy="271.47" r="1.20" fill="url(#gH)" stroke="none" stroke-width="0.5" />
<circle cx="96.00" cy="274.00" r="1.90" fill="url(#gC)" stroke="none" stroke-width="0.5" />
<circle cx="92.50" cy="280.00" r="1.90" fill="url(#gC)" stroke="none" stroke-width="0.5" />
<circle cx="91.00" cy="277.00" r="1.90" fill="url(#gN)" stroke="none" stroke-width="0.5" />
<circle cx="87.00" cy="272.50" r="1.90" fill="url(#gN)" stroke="none" stroke-width="0.5" />
<circle cx="88.20" cy="275.50" r="1.90" fill="url(#gC)" stroke="none" stroke-width="0.5" />
<circle cx="65.00" cy="272.50" r="2.60" fill="url(#gS)" stroke="none" stroke-width="0.5" />
<circle cx="83.00" cy="273.00" r="2.60" fill="url(#gS)" stroke="none" stroke-width="0.5" />
<circle cx="84.50" cy="264.20" r="2.70" fill="url(#gCl)" stroke="none" stroke-width="0.5" />
<circle cx="94.70" cy="284.00" r="2.70" fill="url(#gCl)" stroke="none" stroke-width="0.5" />
<circle cx="70.70" cy="279.50" r="2.70" fill="url(#gCl)" stroke="none" stroke-width="0.5" />
<circle cx="78.00" cy="277.00" r="3.70" fill="url(#gSb)" stroke="none" stroke-width="0.5" />
<path d="M82.10,204.00 C82.10,211.67 82.18,241.17 82.10,250.00 C82.02,258.83 82.05,254.60 81.60,257.00 C81.15,259.40 80.60,262.35 79.40,264.40 C78.20,266.45 77.30,267.87 74.40,269.30 C71.50,270.73 65.40,271.92 62.00,273.00 C58.60,274.08 55.70,275.03 54.00,275.80 C52.30,276.57 51.47,277.02 51.80,277.60 C52.13,278.18 52.23,278.82 56.00,279.30 C59.77,279.78 66.37,279.88 74.40,280.50 C82.43,281.12 96.33,282.17 104.20,283.00 C112.07,283.83 119.95,284.67 121.60,285.50 C123.25,286.33 117.78,286.98 114.10,288.00 C110.42,289.02 105.18,290.68 99.50,291.60 C93.82,292.52 84.33,292.77 80.00,293.50 C75.67,294.23 74.63,294.92 73.50,296.00 C72.37,297.08 72.70,298.82 73.20,300.00 C73.70,301.18 73.75,302.17 76.50,303.10 C79.25,304.03 86.95,304.77 89.70,305.60 C92.45,306.43 93.83,307.13 93.00,308.10 C92.17,309.07 87.18,310.45 84.70,311.40 C82.22,312.35 78.92,312.98 78.10,313.80 C77.28,314.62 78.70,315.52 79.80,316.30 C80.90,317.08 84.17,317.40 84.70,318.50 C85.23,319.60 83.55,320.80 83.00,322.90 C82.45,325.00 81.12,328.63 81.40,331.10 C81.68,333.57 84.57,335.50 84.70,337.70 C84.83,339.90 82.75,341.55 82.20,344.30 C81.65,347.05 81.27,351.18 81.40,354.20 C81.53,357.22 82.73,359.35 83.00,362.40 C83.27,365.45 83.00,370.82 83.00,372.50" fill="none" stroke="#5b9bd5" stroke-width="1.4" stroke-linejoin="round" stroke-linecap="round" />
</g>
<line x1="31.40" y1="372.30" x2="31.40" y2="369.80" stroke="#000" stroke-width="0.9" />
<text x="31.4" y="380.29999999999995" font-size="7.2" font-weight="bold" fill="#000" text-anchor="middle" font-family='"Liberation Sans", sans-serif' >−0.3</text>
<line x1="48.50" y1="372.30" x2="48.50" y2="369.80" stroke="#000" stroke-width="0.9" />
<text x="48.5" y="380.29999999999995" font-size="7.2" font-weight="bold" fill="#000" text-anchor="middle" font-family='"Liberation Sans", sans-serif' >−0.2</text>
<line x1="65.60" y1="372.30" x2="65.60" y2="369.80" stroke="#000" stroke-width="0.9" />
<text x="65.6" y="380.29999999999995" font-size="7.2" font-weight="bold" fill="#000" text-anchor="middle" font-family='"Liberation Sans", sans-serif' >−0.1</text>
<line x1="82.70" y1="372.30" x2="82.70" y2="369.80" stroke="#000" stroke-width="0.9" />
<text x="82.7" y="380.29999999999995" font-size="7.2" font-weight="bold" fill="#000" text-anchor="middle" font-family='"Liberation Sans", sans-serif' >0.0</text>
<line x1="99.80" y1="372.30" x2="99.80" y2="369.80" stroke="#000" stroke-width="0.9" />
<text x="99.80000000000001" y="380.29999999999995" font-size="7.2" font-weight="bold" fill="#000" text-anchor="middle" font-family='"Liberation Sans", sans-serif' >0.1</text>
<line x1="116.90" y1="372.30" x2="116.90" y2="369.80" stroke="#000" stroke-width="0.9" />
<text x="116.9" y="380.29999999999995" font-size="7.2" font-weight="bold" fill="#000" text-anchor="middle" font-family='"Liberation Sans", sans-serif' >0.2</text>
<line x1="134.00" y1="372.30" x2="134.00" y2="369.80" stroke="#000" stroke-width="0.9" />
<text x="134.0" y="380.29999999999995" font-size="7.2" font-weight="bold" fill="#000" text-anchor="middle" font-family='"Liberation Sans", sans-serif' >0.3</text>
<rect x="23.70" y="203.70" width="118.40" height="168.60" fill="none" stroke="#000" stroke-width="1.6" />
<line x1="92.50" y1="209.70" x2="105.20" y2="209.70" stroke="#5b9bd5" stroke-width="1.8" />
<text x="107.7" y="212.29999999999998" font-size="7.2" font-weight="bold" fill="#000" text-anchor="start" font-family='"Liberation Sans", sans-serif' >Se + Cl</text>
<text x="82.1" y="226.1" font-size="11.4" font-family='"Liberation Mono", monospace' text-anchor="middle" textLength="97.2" lengthAdjust="spacingAndGlyphs" fill="#000" stroke="#000" stroke-width="0.38">Two binding sites</text>
<text x="85.0" y="240.29999999999998" font-size="11.4" font-family='"Liberation Mono", monospace' text-anchor="middle" textLength="48.6" lengthAdjust="spacingAndGlyphs" fill="#000" stroke="#000" stroke-width="0.38">(Se + Cl)</text>
<text x="100.3" y="366.6" font-family='"Liberation Sans", sans-serif' font-weight="bold"><tspan font-size="10" font-style="italic" font-family='"Liberation Serif", serif'>&#961;</tspan><tspan font-size="5" dy="1.5" font-style="italic">diff</tspan><tspan font-size="7" dy="-1.5"> (e/Å)</tspan></text>
<text x="19.2" y="288.7" font-size="7.3" font-weight="bold" font-family='"Liberation Sans", sans-serif' text-anchor="middle" transform="rotate(-90 19.2 288.7)"><tspan font-style="italic">z</tspan> (Å)</text>
<text x="-0.8" y="199.6" font-size="13.4" font-family='"Liberation Sans", sans-serif' fill="#000" stroke="#000" stroke-width="0.45">c</text>
<clipPath id="clipd"><rect x="166" y="203.7" width="118.2" height="168.6"/></clipPath>
<g clip-path="url(#clipd)">
<line x1="166.00" y1="294.10" x2="175.95" y2="294.10" stroke="#5a5a60" stroke-width="1.5" />
<line x1="175.95" y1="294.10" x2="185.90" y2="294.10" stroke="#9a2a9a" stroke-width="1.5" />
<line x1="185.90" y1="294.10" x2="195.60" y2="294.10" stroke="#9a2a9a" stroke-width="1.5" />
<line x1="195.60" y1="294.10" x2="205.30" y2="294.10" stroke="#5a5a60" stroke-width="1.5" />
<line x1="205.30" y1="294.10" x2="215.30" y2="294.10" stroke="#5a5a60" stroke-width="1.5" />
<line x1="215.30" y1="294.10" x2="225.30" y2="294.10" stroke="#9a2a9a" stroke-width="1.5" />
<line x1="225.30" y1="294.10" x2="235.10" y2="294.10" stroke="#9a2a9a" stroke-width="1.5" />
<line x1="235.10" y1="294.10" x2="244.90" y2="294.10" stroke="#5a5a60" stroke-width="1.5" />
<line x1="244.90" y1="294.10" x2="255.05" y2="294.10" stroke="#5a5a60" stroke-width="1.5" />
<line x1="255.05" y1="294.10" x2="265.20" y2="294.10" stroke="#9a2a9a" stroke-width="1.5" />
<line x1="265.20" y1="294.10" x2="274.55" y2="294.10" stroke="#9a2a9a" stroke-width="1.5" />
<line x1="274.55" y1="294.10" x2="283.90" y2="294.10" stroke="#5a5a60" stroke-width="1.5" />
<line x1="166.00" y1="333.80" x2="175.95" y2="333.80" stroke="#5a5a60" stroke-width="1.5" />
<line x1="175.95" y1="333.80" x2="185.90" y2="333.80" stroke="#9a2a9a" stroke-width="1.5" />
<line x1="185.90" y1="333.80" x2="195.60" y2="333.80" stroke="#9a2a9a" stroke-width="1.5" />
<line x1="195.60" y1="333.80" x2="205.30" y2="333.80" stroke="#5a5a60" stroke-width="1.5" />
<line x1="205.30" y1="333.80" x2="215.30" y2="333.80" stroke="#5a5a60" stroke-width="1.5" />
<line x1="215.30" y1="333.80" x2="225.30" y2="333.80" stroke="#9a2a9a" stroke-width="1.5" />
<line x1="225.30" y1="333.80" x2="235.10" y2="333.80" stroke="#9a2a9a" stroke-width="1.5" />
<line x1="235.10" y1="333.80" x2="244.90" y2="333.80" stroke="#5a5a60" stroke-width="1.5" />
<line x1="244.90" y1="333.80" x2="255.05" y2="333.80" stroke="#5a5a60" stroke-width="1.5" />
<line x1="255.05" y1="333.80" x2="265.20" y2="333.80" stroke="#9a2a9a" stroke-width="1.5" />
<line x1="265.20" y1="333.80" x2="274.55" y2="333.80" stroke="#9a2a9a" stroke-width="1.5" />
<line x1="274.55" y1="333.80" x2="283.90" y2="333.80" stroke="#5a5a60" stroke-width="1.5" />
<line x1="166.00" y1="372.70" x2="175.95" y2="372.70" stroke="#5a5a60" stroke-width="1.5" />
<line x1="175.95" y1="372.70" x2="185.90" y2="372.70" stroke="#9a2a9a" stroke-width="1.5" />
<line x1="185.90" y1="372.70" x2="195.60" y2="372.70" stroke="#9a2a9a" stroke-width="1.5" />
<line x1="195.60" y1="372.70" x2="205.30" y2="372.70" stroke="#5a5a60" stroke-width="1.5" />
<line x1="205.30" y1="372.70" x2="215.30" y2="372.70" stroke="#5a5a60" stroke-width="1.5" />
<line x1="215.30" y1="372.70" x2="225.30" y2="372.70" stroke="#9a2a9a" stroke-width="1.5" />
<line x1="225.30" y1="372.70" x2="235.10" y2="372.70" stroke="#9a2a9a" stroke-width="1.5" />
<line x1="235.10" y1="372.70" x2="244.90" y2="372.70" stroke="#5a5a60" stroke-width="1.5" />
<line x1="244.90" y1="372.70" x2="255.05" y2="372.70" stroke="#5a5a60" stroke-width="1.5" />
<line x1="255.05" y1="372.70" x2="265.20" y2="372.70" stroke="#9a2a9a" stroke-width="1.5" />
<line x1="265.20" y1="372.70" x2="274.55" y2="372.70" stroke="#9a2a9a" stroke-width="1.5" />
<line x1="274.55" y1="372.70" x2="283.90" y2="372.70" stroke="#5a5a60" stroke-width="1.5" />
<line x1="166.00" y1="294.10" x2="165.85" y2="303.90" stroke="#5a5a60" stroke-width="1.4" />
<line x1="165.85" y1="303.90" x2="165.70" y2="313.70" stroke="#9a2a9a" stroke-width="1.4" />
<line x1="166.00" y1="313.70" x2="165.85" y2="323.75" stroke="#9a2a9a" stroke-width="1.4" />
<line x1="165.85" y1="323.75" x2="165.70" y2="333.80" stroke="#5a5a60" stroke-width="1.4" />
<line x1="166.00" y1="333.80" x2="165.85" y2="343.65" stroke="#5a5a60" stroke-width="1.4" />
<line x1="165.85" y1="343.65" x2="165.70" y2="353.50" stroke="#9a2a9a" stroke-width="1.4" />
<line x1="166.00" y1="353.50" x2="165.85" y2="363.10" stroke="#9a2a9a" stroke-width="1.4" />
<line x1="165.85" y1="363.10" x2="165.70" y2="372.70" stroke="#5a5a60" stroke-width="1.4" />
<line x1="205.30" y1="294.10" x2="205.15" y2="303.90" stroke="#5a5a60" stroke-width="1.4" />
<line x1="205.15" y1="303.90" x2="205.00" y2="313.70" stroke="#9a2a9a" stroke-width="1.4" />
<line x1="205.30" y1="313.70" x2="205.15" y2="323.75" stroke="#9a2a9a" stroke-width="1.4" />
<line x1="205.15" y1="323.75" x2="205.00" y2="333.80" stroke="#5a5a60" stroke-width="1.4" />
<line x1="205.30" y1="333.80" x2="205.15" y2="343.65" stroke="#5a5a60" stroke-width="1.4" />
<line x1="205.15" y1="343.65" x2="205.00" y2="353.50" stroke="#9a2a9a" stroke-width="1.4" />
<line x1="205.30" y1="353.50" x2="205.15" y2="363.10" stroke="#9a2a9a" stroke-width="1.4" />
<line x1="205.15" y1="363.10" x2="205.00" y2="372.70" stroke="#5a5a60" stroke-width="1.4" />
<line x1="244.90" y1="294.10" x2="244.75" y2="303.90" stroke="#5a5a60" stroke-width="1.4" />
<line x1="244.75" y1="303.90" x2="244.60" y2="313.70" stroke="#9a2a9a" stroke-width="1.4" />
<line x1="244.90" y1="313.70" x2="244.75" y2="323.75" stroke="#9a2a9a" stroke-width="1.4" />
<line x1="244.75" y1="323.75" x2="244.60" y2="333.80" stroke="#5a5a60" stroke-width="1.4" />
<line x1="244.90" y1="333.80" x2="244.75" y2="343.65" stroke="#5a5a60" stroke-width="1.4" />
<line x1="244.75" y1="343.65" x2="244.60" y2="353.50" stroke="#9a2a9a" stroke-width="1.4" />
<line x1="244.90" y1="353.50" x2="244.75" y2="363.10" stroke="#9a2a9a" stroke-width="1.4" />
<line x1="244.75" y1="363.10" x2="244.60" y2="372.70" stroke="#5a5a60" stroke-width="1.4" />
<line x1="283.90" y1="294.10" x2="283.75" y2="303.90" stroke="#5a5a60" stroke-width="1.4" />
<line x1="283.75" y1="303.90" x2="283.60" y2="313.70" stroke="#9a2a9a" stroke-width="1.4" />
<line x1="283.90" y1="313.70" x2="283.75" y2="323.75" stroke="#9a2a9a" stroke-width="1.4" />
<line x1="283.75" y1="323.75" x2="283.60" y2="333.80" stroke="#5a5a60" stroke-width="1.4" />
<line x1="283.90" y1="333.80" x2="283.75" y2="343.65" stroke="#5a5a60" stroke-width="1.4" />
<line x1="283.75" y1="343.65" x2="283.60" y2="353.50" stroke="#9a2a9a" stroke-width="1.4" />
<line x1="283.90" y1="353.50" x2="283.75" y2="363.10" stroke="#9a2a9a" stroke-width="1.4" />
<line x1="283.75" y1="363.10" x2="283.60" y2="372.70" stroke="#5a5a60" stroke-width="1.4" />
<line x1="183.10" y1="307.60" x2="178.50" y2="304.30" stroke="#d8b0a8" stroke-width="0.9" />
<line x1="183.10" y1="307.60" x2="181.20" y2="304.00" stroke="#d8b0a8" stroke-width="0.9" />
<line x1="187.60" y1="309.80" x2="187.60" y2="304.80" stroke="#d8b0a8" stroke-width="0.9" />
<line x1="187.60" y1="309.80" x2="193.30" y2="310.30" stroke="#d8b0a8" stroke-width="0.9" />
<line x1="181.60" y1="317.40" x2="177.70" y2="313.60" stroke="#d8b0a8" stroke-width="0.9" />
<line x1="181.60" y1="317.40" x2="176.80" y2="316.40" stroke="#d8b0a8" stroke-width="0.9" />
<line x1="184.40" y1="319.40" x2="184.00" y2="323.50" stroke="#d8b0a8" stroke-width="0.9" />
<line x1="184.40" y1="319.40" x2="186.70" y2="324.60" stroke="#d8b0a8" stroke-width="0.9" />
<line x1="189.40" y1="317.80" x2="193.90" y2="321.30" stroke="#d8b0a8" stroke-width="0.9" />
<line x1="189.40" y1="317.80" x2="192.20" y2="319.10" stroke="#d8b0a8" stroke-width="0.9" />
<line x1="187.60" y1="309.80" x2="187.00" y2="315.40" stroke="#8898c8" stroke-width="1.2" />
<line x1="184.40" y1="319.40" x2="187.00" y2="315.40" stroke="#8898c8" stroke-width="1.2" />
<circle cx="178.50" cy="304.30" r="1.20" fill="#f4e4e0" stroke="#c89890" stroke-width="0.5" />
<circle cx="181.20" cy="304.00" r="1.20" fill="#f4e4e0" stroke="#c89890" stroke-width="0.5" />
<circle cx="187.60" cy="304.80" r="1.20" fill="#f4e4e0" stroke="#c89890" stroke-width="0.5" />
<circle cx="193.30" cy="310.30" r="1.20" fill="#f4e4e0" stroke="#c89890" stroke-width="0.5" />
<circle cx="177.70" cy="313.60" r="1.20" fill="#f4e4e0" stroke="#c89890" stroke-width="0.5" />
<circle cx="176.80" cy="316.40" r="1.20" fill="#f4e4e0" stroke="#c89890" stroke-width="0.5" />
<circle cx="184.00" cy="323.50" r="1.20" fill="#f4e4e0" stroke="#c89890" stroke-width="0.5" />
<circle cx="186.70" cy="324.60" r="1.20" fill="#f4e4e0" stroke="#c89890" stroke-width="0.5" />
<circle cx="193.90" cy="321.30" r="1.20" fill="#f4e4e0" stroke="#c89890" stroke-width="0.5" />
<circle cx="192.20" cy="319.10" r="1.20" fill="#f4e4e0" stroke="#c89890" stroke-width="0.5" />
<circle cx="183.10" cy="307.60" r="2.00" fill="url(#gN)" stroke="none" stroke-width="0.5" />
<circle cx="187.60" cy="309.80" r="2.00" fill="url(#gN)" stroke="none" stroke-width="0.5" />
<circle cx="181.60" cy="317.40" r="2.00" fill="url(#gN)" stroke="none" stroke-width="0.5" />
<circle cx="184.40" cy="319.40" r="2.00" fill="url(#gN)" stroke="none" stroke-width="0.5" />
<circle cx="187.00" cy="315.40" r="2.00" fill="url(#gC)" stroke="none" stroke-width="0.5" />
<circle cx="189.40" cy="317.80" r="2.00" fill="url(#gC)" stroke="none" stroke-width="0.5" />
<line x1="177.90" y1="354.00" x2="195.70" y2="354.00" stroke="#b8a0a8" stroke-width="0.8" />
<circle cx="178.50" cy="354.00" r="0.90" fill="url(#gH)" stroke="none" stroke-width="0.5" />
<circle cx="180.70" cy="354.00" r="0.90" fill="url(#gH)" stroke="none" stroke-width="0.5" />
<circle cx="184.70" cy="354.00" r="1.50" fill="url(#gN)" stroke="none" stroke-width="0.5" />
<circle cx="188.60" cy="354.00" r="1.50" fill="url(#gC)" stroke="none" stroke-width="0.5" />
<circle cx="191.70" cy="354.00" r="0.90" fill="url(#gH)" stroke="none" stroke-width="0.5" />
<circle cx="195.20" cy="354.00" r="0.90" fill="url(#gH)" stroke="none" stroke-width="0.5" />
<line x1="222.50" y1="307.60" x2="217.90" y2="304.30" stroke="#d8b0a8" stroke-width="0.9" />
<line x1="222.50" y1="307.60" x2="220.60" y2="304.00" stroke="#d8b0a8" stroke-width="0.9" />
<line x1="227.00" y1="309.80" x2="227.00" y2="304.80" stroke="#d8b0a8" stroke-width="0.9" />
<line x1="227.00" y1="309.80" x2="232.70" y2="310.30" stroke="#d8b0a8" stroke-width="0.9" />
<line x1="221.00" y1="317.40" x2="217.10" y2="313.60" stroke="#d8b0a8" stroke-width="0.9" />
<line x1="221.00" y1="317.40" x2="216.20" y2="316.40" stroke="#d8b0a8" stroke-width="0.9" />
<line x1="223.80" y1="319.40" x2="223.40" y2="323.50" stroke="#d8b0a8" stroke-width="0.9" />
<line x1="223.80" y1="319.40" x2="226.10" y2="324.60" stroke="#d8b0a8" stroke-width="0.9" />
<line x1="228.80" y1="317.80" x2="233.30" y2="321.30" stroke="#d8b0a8" stroke-width="0.9" />
<line x1="228.80" y1="317.80" x2="231.60" y2="319.10" stroke="#d8b0a8" stroke-width="0.9" />
<line x1="227.00" y1="309.80" x2="226.40" y2="315.40" stroke="#8898c8" stroke-width="1.2" />
<line x1="223.80" y1="319.40" x2="226.40" y2="315.40" stroke="#8898c8" stroke-width="1.2" />
<circle cx="217.90" cy="304.30" r="1.20" fill="#f4e4e0" stroke="#c89890" stroke-width="0.5" />
<circle cx="220.60" cy="304.00" r="1.20" fill="#f4e4e0" stroke="#c89890" stroke-width="0.5" />
<circle cx="227.00" cy="304.80" r="1.20" fill="#f4e4e0" stroke="#c89890" stroke-width="0.5" />
<circle cx="232.70" cy="310.30" r="1.20" fill="#f4e4e0" stroke="#c89890" stroke-width="0.5" />
<circle cx="217.10" cy="313.60" r="1.20" fill="#f4e4e0" stroke="#c89890" stroke-width="0.5" />
<circle cx="216.20" cy="316.40" r="1.20" fill="#f4e4e0" stroke="#c89890" stroke-width="0.5" />
<circle cx="223.40" cy="323.50" r="1.20" fill="#f4e4e0" stroke="#c89890" stroke-width="0.5" />
<circle cx="226.10" cy="324.60" r="1.20" fill="#f4e4e0" stroke="#c89890" stroke-width="0.5" />
<circle cx="233.30" cy="321.30" r="1.20" fill="#f4e4e0" stroke="#c89890" stroke-width="0.5" />
<circle cx="231.60" cy="319.10" r="1.20" fill="#f4e4e0" stroke="#c89890" stroke-width="0.5" />
<circle cx="222.50" cy="307.60" r="2.00" fill="url(#gN)" stroke="none" stroke-width="0.5" />
<circle cx="227.00" cy="309.80" r="2.00" fill="url(#gN)" stroke="none" stroke-width="0.5" />
<circle cx="221.00" cy="317.40" r="2.00" fill="url(#gN)" stroke="none" stroke-width="0.5" />
<circle cx="223.80" cy="319.40" r="2.00" fill="url(#gN)" stroke="none" stroke-width="0.5" />
<circle cx="226.40" cy="315.40" r="2.00" fill="url(#gC)" stroke="none" stroke-width="0.5" />
<circle cx="228.80" cy="317.80" r="2.00" fill="url(#gC)" stroke="none" stroke-width="0.5" />
<line x1="217.30" y1="354.00" x2="235.10" y2="354.00" stroke="#b8a0a8" stroke-width="0.8" />
<circle cx="217.90" cy="354.00" r="0.90" fill="url(#gH)" stroke="none" stroke-width="0.5" />
<circle cx="220.10" cy="354.00" r="0.90" fill="url(#gH)" stroke="none" stroke-width="0.5" />
<circle cx="224.10" cy="354.00" r="1.50" fill="url(#gN)" stroke="none" stroke-width="0.5" />
<circle cx="228.00" cy="354.00" r="1.50" fill="url(#gC)" stroke="none" stroke-width="0.5" />
<circle cx="231.10" cy="354.00" r="0.90" fill="url(#gH)" stroke="none" stroke-width="0.5" />
<circle cx="234.60" cy="354.00" r="0.90" fill="url(#gH)" stroke="none" stroke-width="0.5" />
<line x1="262.40" y1="307.60" x2="257.80" y2="304.30" stroke="#d8b0a8" stroke-width="0.9" />
<line x1="262.40" y1="307.60" x2="260.50" y2="304.00" stroke="#d8b0a8" stroke-width="0.9" />
<line x1="266.90" y1="309.80" x2="266.90" y2="304.80" stroke="#d8b0a8" stroke-width="0.9" />
<line x1="266.90" y1="309.80" x2="272.60" y2="310.30" stroke="#d8b0a8" stroke-width="0.9" />
<line x1="260.90" y1="317.40" x2="257.00" y2="313.60" stroke="#d8b0a8" stroke-width="0.9" />
<line x1="260.90" y1="317.40" x2="256.10" y2="316.40" stroke="#d8b0a8" stroke-width="0.9" />
<line x1="263.70" y1="319.40" x2="263.30" y2="323.50" stroke="#d8b0a8" stroke-width="0.9" />
<line x1="263.70" y1="319.40" x2="266.00" y2="324.60" stroke="#d8b0a8" stroke-width="0.9" />
<line x1="268.70" y1="317.80" x2="273.20" y2="321.30" stroke="#d8b0a8" stroke-width="0.9" />
<line x1="268.70" y1="317.80" x2="271.50" y2="319.10" stroke="#d8b0a8" stroke-width="0.9" />
<line x1="266.90" y1="309.80" x2="266.30" y2="315.40" stroke="#8898c8" stroke-width="1.2" />
<line x1="263.70" y1="319.40" x2="266.30" y2="315.40" stroke="#8898c8" stroke-width="1.2" />
<circle cx="257.80" cy="304.30" r="1.20" fill="#f4e4e0" stroke="#c89890" stroke-width="0.5" />
<circle cx="260.50" cy="304.00" r="1.20" fill="#f4e4e0" stroke="#c89890" stroke-width="0.5" />
<circle cx="266.90" cy="304.80" r="1.20" fill="#f4e4e0" stroke="#c89890" stroke-width="0.5" />
<circle cx="272.60" cy="310.30" r="1.20" fill="#f4e4e0" stroke="#c89890" stroke-width="0.5" />
<circle cx="257.00" cy="313.60" r="1.20" fill="#f4e4e0" stroke="#c89890" stroke-width="0.5" />
<circle cx="256.10" cy="316.40" r="1.20" fill="#f4e4e0" stroke="#c89890" stroke-width="0.5" />
<circle cx="263.30" cy="323.50" r="1.20" fill="#f4e4e0" stroke="#c89890" stroke-width="0.5" />
<circle cx="266.00" cy="324.60" r="1.20" fill="#f4e4e0" stroke="#c89890" stroke-width="0.5" />
<circle cx="273.20" cy="321.30" r="1.20" fill="#f4e4e0" stroke="#c89890" stroke-width="0.5" />
<circle cx="271.50" cy="319.10" r="1.20" fill="#f4e4e0" stroke="#c89890" stroke-width="0.5" />
<circle cx="262.40" cy="307.60" r="2.00" fill="url(#gN)" stroke="none" stroke-width="0.5" />
<circle cx="266.90" cy="309.80" r="2.00" fill="url(#gN)" stroke="none" stroke-width="0.5" />
<circle cx="260.90" cy="317.40" r="2.00" fill="url(#gN)" stroke="none" stroke-width="0.5" />
<circle cx="263.70" cy="319.40" r="2.00" fill="url(#gN)" stroke="none" stroke-width="0.5" />
<circle cx="266.30" cy="315.40" r="2.00" fill="url(#gC)" stroke="none" stroke-width="0.5" />
<circle cx="268.70" cy="317.80" r="2.00" fill="url(#gC)" stroke="none" stroke-width="0.5" />
<line x1="257.20" y1="354.00" x2="275.00" y2="354.00" stroke="#b8a0a8" stroke-width="0.8" />
<circle cx="257.80" cy="354.00" r="0.90" fill="url(#gH)" stroke="none" stroke-width="0.5" />
<circle cx="260.00" cy="354.00" r="0.90" fill="url(#gH)" stroke="none" stroke-width="0.5" />
<circle cx="264.00" cy="354.00" r="1.50" fill="url(#gN)" stroke="none" stroke-width="0.5" />
<circle cx="267.90" cy="354.00" r="1.50" fill="url(#gC)" stroke="none" stroke-width="0.5" />
<circle cx="271.00" cy="354.00" r="0.90" fill="url(#gH)" stroke="none" stroke-width="0.5" />
<circle cx="274.50" cy="354.00" r="0.90" fill="url(#gH)" stroke="none" stroke-width="0.5" />
<circle cx="166.00" cy="294.10" r="4.40" fill="url(#gPb)" stroke="none" stroke-width="0.5" />
<circle cx="167.60" cy="294.30" r="2.90" fill="url(#gI)" stroke="none" stroke-width="0.5" />
<circle cx="205.30" cy="294.10" r="4.40" fill="url(#gPb)" stroke="none" stroke-width="0.5" />
<circle cx="206.90" cy="294.30" r="2.90" fill="url(#gI)" stroke="none" stroke-width="0.5" />
<circle cx="244.90" cy="294.10" r="4.40" fill="url(#gPb)" stroke="none" stroke-width="0.5" />
<circle cx="246.50" cy="294.30" r="2.90" fill="url(#gI)" stroke="none" stroke-width="0.5" />
<circle cx="283.90" cy="294.10" r="4.40" fill="url(#gPb)" stroke="none" stroke-width="0.5" />
<circle cx="285.50" cy="294.30" r="2.90" fill="url(#gI)" stroke="none" stroke-width="0.5" />
<circle cx="185.90" cy="294.10" r="3.50" fill="url(#gI)" stroke="none" stroke-width="0.5" />
<circle cx="225.30" cy="294.10" r="3.50" fill="url(#gI)" stroke="none" stroke-width="0.5" />
<circle cx="265.20" cy="294.10" r="3.50" fill="url(#gI)" stroke="none" stroke-width="0.5" />
<circle cx="166.00" cy="333.80" r="4.40" fill="url(#gPb)" stroke="none" stroke-width="0.5" />
<circle cx="167.60" cy="334.00" r="2.90" fill="url(#gI)" stroke="none" stroke-width="0.5" />
<circle cx="205.30" cy="333.80" r="4.40" fill="url(#gPb)" stroke="none" stroke-width="0.5" />
<circle cx="206.90" cy="334.00" r="2.90" fill="url(#gI)" stroke="none" stroke-width="0.5" />
<circle cx="244.90" cy="333.80" r="4.40" fill="url(#gPb)" stroke="none" stroke-width="0.5" />
<circle cx="246.50" cy="334.00" r="2.90" fill="url(#gI)" stroke="none" stroke-width="0.5" />
<circle cx="283.90" cy="333.80" r="4.40" fill="url(#gPb)" stroke="none" stroke-width="0.5" />
<circle cx="285.50" cy="334.00" r="2.90" fill="url(#gI)" stroke="none" stroke-width="0.5" />
<circle cx="185.90" cy="333.80" r="3.50" fill="url(#gI)" stroke="none" stroke-width="0.5" />
<circle cx="225.30" cy="333.80" r="3.50" fill="url(#gI)" stroke="none" stroke-width="0.5" />
<circle cx="265.20" cy="333.80" r="3.50" fill="url(#gI)" stroke="none" stroke-width="0.5" />
<circle cx="166.00" cy="372.70" r="4.40" fill="url(#gPb)" stroke="none" stroke-width="0.5" />
<circle cx="167.60" cy="372.90" r="2.90" fill="url(#gI)" stroke="none" stroke-width="0.5" />
<circle cx="205.30" cy="372.70" r="4.40" fill="url(#gPb)" stroke="none" stroke-width="0.5" />
<circle cx="206.90" cy="372.90" r="2.90" fill="url(#gI)" stroke="none" stroke-width="0.5" />
<circle cx="244.90" cy="372.70" r="4.40" fill="url(#gPb)" stroke="none" stroke-width="0.5" />
<circle cx="246.50" cy="372.90" r="2.90" fill="url(#gI)" stroke="none" stroke-width="0.5" />
<circle cx="283.90" cy="372.70" r="4.40" fill="url(#gPb)" stroke="none" stroke-width="0.5" />
<circle cx="285.50" cy="372.90" r="2.90" fill="url(#gI)" stroke="none" stroke-width="0.5" />
<circle cx="185.90" cy="372.70" r="3.50" fill="url(#gI)" stroke="none" stroke-width="0.5" />
<circle cx="225.30" cy="372.70" r="3.50" fill="url(#gI)" stroke="none" stroke-width="0.5" />
<circle cx="265.20" cy="372.70" r="3.50" fill="url(#gI)" stroke="none" stroke-width="0.5" />
<circle cx="165.60" cy="313.70" r="3.50" fill="url(#gI)" stroke="none" stroke-width="0.5" />
<circle cx="204.90" cy="313.70" r="3.50" fill="url(#gI)" stroke="none" stroke-width="0.5" />
<circle cx="244.50" cy="313.70" r="3.50" fill="url(#gI)" stroke="none" stroke-width="0.5" />
<circle cx="283.50" cy="313.70" r="3.50" fill="url(#gI)" stroke="none" stroke-width="0.5" />
<circle cx="165.60" cy="353.50" r="3.50" fill="url(#gI)" stroke="none" stroke-width="0.5" />
<circle cx="204.90" cy="353.50" r="3.50" fill="url(#gI)" stroke="none" stroke-width="0.5" />
<circle cx="244.50" cy="353.50" r="3.50" fill="url(#gI)" stroke="none" stroke-width="0.5" />
<circle cx="283.50" cy="353.50" r="3.50" fill="url(#gI)" stroke="none" stroke-width="0.5" />
<circle cx="224.30" cy="300.00" r="3.50" fill="url(#gI)" stroke="none" stroke-width="0.5" />
<circle cx="207.00" cy="297.00" r="3.50" fill="url(#gI)" stroke="none" stroke-width="0.5" />
<circle cx="242.60" cy="299.00" r="3.50" fill="url(#gI)" stroke="none" stroke-width="0.5" />
<line x1="209.00" y1="282.20" x2="207.05" y2="287.90" stroke="#30c020" stroke-width="1.4" />
<line x1="207.05" y1="287.90" x2="205.10" y2="293.60" stroke="#5a5a60" stroke-width="1.4" />
<line x1="237.50" y1="282.20" x2="240.30" y2="287.90" stroke="#30c020" stroke-width="1.4" />
<line x1="240.30" y1="287.90" x2="243.10" y2="293.60" stroke="#5a5a60" stroke-width="1.4" />
<line x1="223.70" y1="279.10" x2="223.70" y2="272.00" stroke="#b07040" stroke-width="1.3" />
<line x1="223.70" y1="272.00" x2="223.70" y2="264.90" stroke="#30c020" stroke-width="1.3" />
<line x1="223.70" y1="279.10" x2="216.35" y2="280.65" stroke="#b07040" stroke-width="1.3" />
<line x1="216.35" y1="280.65" x2="209.00" y2="282.20" stroke="#30c020" stroke-width="1.3" />
<line x1="223.70" y1="279.10" x2="230.60" y2="280.65" stroke="#b07040" stroke-width="1.3" />
<line x1="230.60" y1="280.65" x2="237.50" y2="282.20" stroke="#30c020" stroke-width="1.3" />
<line x1="223.70" y1="279.10" x2="217.95" y2="278.35" stroke="#b07040" stroke-width="1.3" />
<line x1="217.95" y1="278.35" x2="212.20" y2="277.60" stroke="#a0d830" stroke-width="1.3" />
<line x1="223.70" y1="279.10" x2="228.70" y2="278.75" stroke="#b07040" stroke-width="1.3" />
<line x1="228.70" y1="278.75" x2="233.70" y2="278.40" stroke="#a0d830" stroke-width="1.3" />
<line x1="200.00" y1="276.00" x2="206.10" y2="276.80" stroke="#7a4020" stroke-width="1.1" />
<line x1="206.10" y1="276.80" x2="212.20" y2="277.60" stroke="#a0d830" stroke-width="1.1" />
<line x1="200.00" y1="276.00" x2="197.65" y2="274.10" stroke="#7a4020" stroke-width="1.0" />
<line x1="197.65" y1="274.10" x2="195.30" y2="272.20" stroke="#8090c0" stroke-width="1.0" />
<line x1="200.00" y1="276.00" x2="201.50" y2="274.00" stroke="#7a4020" stroke-width="1.0" />
<line x1="201.50" y1="274.00" x2="203.00" y2="272.00" stroke="#8090c0" stroke-width="1.0" />
<line x1="195.30" y1="272.20" x2="190.70" y2="272.60" stroke="#8090c0" stroke-width="1.0" />
<line x1="190.70" y1="272.60" x2="186.10" y2="273.00" stroke="#7a4020" stroke-width="1.0" />
<line x1="195.30" y1="272.20" x2="194.55" y2="269.60" stroke="#8090c0" stroke-width="1.0" />
<line x1="194.55" y1="269.60" x2="193.80" y2="267.00" stroke="#7a4020" stroke-width="1.0" />
<line x1="186.10" y1="273.00" x2="188.87" y2="274.60" stroke="#c8a8a0" stroke-width="0.6" />
<circle cx="188.87" cy="274.60" r="1.20" fill="url(#gH)" stroke="none" stroke-width="0.5" />
<line x1="186.10" y1="273.00" x2="183.33" y2="274.60" stroke="#c8a8a0" stroke-width="0.6" />
<circle cx="183.33" cy="274.60" r="1.20" fill="url(#gH)" stroke="none" stroke-width="0.5" />
<line x1="186.10" y1="273.00" x2="186.10" y2="269.80" stroke="#c8a8a0" stroke-width="0.6" />
<circle cx="186.10" cy="269.80" r="1.20" fill="url(#gH)" stroke="none" stroke-width="0.5" />
<line x1="193.80" y1="267.00" x2="196.57" y2="268.60" stroke="#c8a8a0" stroke-width="0.6" />
<circle cx="196.57" cy="268.60" r="1.20" fill="url(#gH)" stroke="none" stroke-width="0.5" />
<line x1="193.80" y1="267.00" x2="191.03" y2="268.60" stroke="#c8a8a0" stroke-width="0.6" />
<circle cx="191.03" cy="268.60" r="1.20" fill="url(#gH)" stroke="none" stroke-width="0.5" />
<line x1="193.80" y1="267.00" x2="193.80" y2="263.80" stroke="#c8a8a0" stroke-width="0.6" />
<circle cx="193.80" cy="263.80" r="1.20" fill="url(#gH)" stroke="none" stroke-width="0.5" />
<line x1="203.00" y1="272.00" x2="204.50" y2="274.60" stroke="#c8a8a0" stroke-width="0.6" />
<circle cx="204.50" cy="274.60" r="1.20" fill="url(#gH)" stroke="none" stroke-width="0.5" />
<line x1="203.00" y1="272.00" x2="200.18" y2="270.97" stroke="#c8a8a0" stroke-width="0.6" />
<circle cx="200.18" cy="270.97" r="1.20" fill="url(#gH)" stroke="none" stroke-width="0.5" />
<circle cx="186.10" cy="273.00" r="1.90" fill="url(#gC)" stroke="none" stroke-width="0.5" />
<circle cx="193.80" cy="267.00" r="1.90" fill="url(#gC)" stroke="none" stroke-width="0.5" />
<circle cx="195.30" cy="272.20" r="1.90" fill="url(#gN)" stroke="none" stroke-width="0.5" />
<circle cx="203.00" cy="272.00" r="1.90" fill="url(#gN)" stroke="none" stroke-width="0.5" />
<circle cx="200.00" cy="276.00" r="1.90" fill="url(#gC)" stroke="none" stroke-width="0.5" />
<line x1="247.50" y1="273.80" x2="240.60" y2="276.10" stroke="#7a4020" stroke-width="1.1" />
<line x1="240.60" y1="276.10" x2="233.70" y2="278.40" stroke="#a0d830" stroke-width="1.1" />
<line x1="247.50" y1="273.80" x2="249.75" y2="272.25" stroke="#7a4020" stroke-width="1.0" />
<line x1="249.75" y1="272.25" x2="252.00" y2="270.70" stroke="#8090c0" stroke-width="1.0" />
<line x1="247.50" y1="273.80" x2="246.75" y2="271.40" stroke="#7a4020" stroke-width="1.0" />
<line x1="246.75" y1="271.40" x2="246.00" y2="269.00" stroke="#8090c0" stroke-width="1.0" />
<line x1="252.00" y1="270.70" x2="255.90" y2="270.35" stroke="#8090c0" stroke-width="1.0" />
<line x1="255.90" y1="270.35" x2="259.80" y2="270.00" stroke="#7a4020" stroke-width="1.0" />
<line x1="252.00" y1="270.70" x2="253.50" y2="268.35" stroke="#8090c0" stroke-width="1.0" />
<line x1="253.50" y1="268.35" x2="255.00" y2="266.00" stroke="#7a4020" stroke-width="1.0" />
<line x1="259.80" y1="270.00" x2="262.57" y2="271.60" stroke="#c8a8a0" stroke-width="0.6" />
<circle cx="262.57" cy="271.60" r="1.20" fill="url(#gH)" stroke="none" stroke-width="0.5" />
<line x1="259.80" y1="270.00" x2="257.03" y2="271.60" stroke="#c8a8a0" stroke-width="0.6" />
<circle cx="257.03" cy="271.60" r="1.20" fill="url(#gH)" stroke="none" stroke-width="0.5" />
<line x1="259.80" y1="270.00" x2="259.80" y2="266.80" stroke="#c8a8a0" stroke-width="0.6" />
<circle cx="259.80" cy="266.80" r="1.20" fill="url(#gH)" stroke="none" stroke-width="0.5" />
<line x1="255.00" y1="266.00" x2="257.77" y2="267.60" stroke="#c8a8a0" stroke-width="0.6" />
<circle cx="257.77" cy="267.60" r="1.20" fill="url(#gH)" stroke="none" stroke-width="0.5" />
<line x1="255.00" y1="266.00" x2="252.23" y2="267.60" stroke="#c8a8a0" stroke-width="0.6" />
<circle cx="252.23" cy="267.60" r="1.20" fill="url(#gH)" stroke="none" stroke-width="0.5" />
<line x1="255.00" y1="266.00" x2="255.00" y2="262.80" stroke="#c8a8a0" stroke-width="0.6" />
<circle cx="255.00" cy="262.80" r="1.20" fill="url(#gH)" stroke="none" stroke-width="0.5" />
<line x1="246.00" y1="269.00" x2="247.50" y2="271.60" stroke="#c8a8a0" stroke-width="0.6" />
<circle cx="247.50" cy="271.60" r="1.20" fill="url(#gH)" stroke="none" stroke-width="0.5" />
<line x1="246.00" y1="269.00" x2="243.18" y2="267.97" stroke="#c8a8a0" stroke-width="0.6" />
<circle cx="243.18" cy="267.97" r="1.20" fill="url(#gH)" stroke="none" stroke-width="0.5" />
<circle cx="259.80" cy="270.00" r="1.90" fill="url(#gC)" stroke="none" stroke-width="0.5" />
<circle cx="255.00" cy="266.00" r="1.90" fill="url(#gC)" stroke="none" stroke-width="0.5" />
<circle cx="252.00" cy="270.70" r="1.90" fill="url(#gN)" stroke="none" stroke-width="0.5" />
<circle cx="246.00" cy="269.00" r="1.90" fill="url(#gN)" stroke="none" stroke-width="0.5" />
<circle cx="247.50" cy="273.80" r="1.90" fill="url(#gC)" stroke="none" stroke-width="0.5" />
<circle cx="212.20" cy="277.60" r="2.60" fill="url(#gS)" stroke="none" stroke-width="0.5" />
<circle cx="233.70" cy="278.40" r="2.60" fill="url(#gS)" stroke="none" stroke-width="0.5" />
<circle cx="223.70" cy="264.90" r="2.70" fill="url(#gCl)" stroke="none" stroke-width="0.5" />
<circle cx="209.00" cy="282.20" r="2.70" fill="url(#gCl)" stroke="none" stroke-width="0.5" />
<circle cx="237.50" cy="282.20" r="2.70" fill="url(#gCl)" stroke="none" stroke-width="0.5" />
<circle cx="223.70" cy="279.10" r="3.70" fill="url(#gSb)" stroke="none" stroke-width="0.5" />
<path d="M225.20,204.00 C225.20,211.67 225.32,241.33 225.20,250.00 C225.08,258.67 225.03,254.00 224.50,256.00 C223.97,258.00 223.58,260.45 222.00,262.00 C220.42,263.55 218.17,264.37 215.00,265.30 C211.83,266.23 206.00,266.82 203.00,267.60 C200.00,268.38 197.83,269.10 197.00,270.00 C196.17,270.90 195.72,272.00 198.00,273.00 C200.28,274.00 203.53,274.83 210.70,276.00 C217.87,277.17 230.28,278.83 241.00,280.00 C251.72,281.17 272.38,282.12 275.00,283.00 C277.62,283.88 262.53,284.58 256.70,285.30 C250.87,286.02 246.12,286.75 240.00,287.30 C233.88,287.85 224.73,288.23 220.00,288.60 C215.27,288.97 212.77,289.02 211.60,289.50 C210.43,289.98 212.18,290.87 213.00,291.50 C213.82,292.13 215.08,292.45 216.50,293.30 C217.92,294.15 219.30,295.50 221.50,296.60 C223.70,297.70 228.05,299.08 229.70,299.90 C231.35,300.72 232.02,301.05 231.40,301.50 C230.78,301.95 228.20,302.23 226.00,302.60 C223.80,302.97 219.62,303.27 218.20,303.70 C216.78,304.13 217.12,304.62 217.50,305.20 C217.88,305.78 218.47,306.58 220.50,307.20 C222.53,307.82 226.78,308.47 229.70,308.90 C232.62,309.33 238.00,309.38 238.00,309.80 C238.00,310.22 232.45,310.72 229.70,311.40 C226.95,312.08 223.02,312.93 221.50,313.90 C219.98,314.87 219.78,316.23 220.60,317.20 C221.42,318.17 224.75,318.88 226.40,319.70 C228.05,320.52 230.77,321.00 230.50,322.10 C230.23,323.20 226.03,324.50 224.80,326.30 C223.57,328.10 222.97,330.70 223.10,332.90 C223.23,335.10 225.60,337.30 225.60,339.50 C225.60,341.70 223.23,343.63 223.10,346.10 C222.97,348.57 224.67,351.55 224.80,354.30 C224.93,357.05 223.77,359.57 223.90,362.60 C224.03,365.63 225.32,370.85 225.60,372.50" fill="none" stroke="#f05050" stroke-width="1.4" stroke-linejoin="round" stroke-linecap="round" />
</g>
<line x1="173.70" y1="372.30" x2="173.70" y2="369.80" stroke="#000" stroke-width="0.9" />
<text x="173.7" y="380.29999999999995" font-size="7.2" font-weight="bold" fill="#000" text-anchor="middle" font-family='"Liberation Sans", sans-serif' >−0.3</text>
<line x1="190.80" y1="372.30" x2="190.80" y2="369.80" stroke="#000" stroke-width="0.9" />
<text x="190.8" y="380.29999999999995" font-size="7.2" font-weight="bold" fill="#000" text-anchor="middle" font-family='"Liberation Sans", sans-serif' >−0.2</text>
<line x1="207.90" y1="372.30" x2="207.90" y2="369.80" stroke="#000" stroke-width="0.9" />
<text x="207.9" y="380.29999999999995" font-size="7.2" font-weight="bold" fill="#000" text-anchor="middle" font-family='"Liberation Sans", sans-serif' >−0.1</text>
<line x1="225.00" y1="372.30" x2="225.00" y2="369.80" stroke="#000" stroke-width="0.9" />
<text x="225.0" y="380.29999999999995" font-size="7.2" font-weight="bold" fill="#000" text-anchor="middle" font-family='"Liberation Sans", sans-serif' >0.0</text>
<line x1="242.10" y1="372.30" x2="242.10" y2="369.80" stroke="#000" stroke-width="0.9" />
<text x="242.1" y="380.29999999999995" font-size="7.2" font-weight="bold" fill="#000" text-anchor="middle" font-family='"Liberation Sans", sans-serif' >0.1</text>
<line x1="259.20" y1="372.30" x2="259.20" y2="369.80" stroke="#000" stroke-width="0.9" />
<text x="259.2" y="380.29999999999995" font-size="7.2" font-weight="bold" fill="#000" text-anchor="middle" font-family='"Liberation Sans", sans-serif' >0.2</text>
<line x1="276.30" y1="372.30" x2="276.30" y2="369.80" stroke="#000" stroke-width="0.9" />
<text x="276.3" y="380.29999999999995" font-size="7.2" font-weight="bold" fill="#000" text-anchor="middle" font-family='"Liberation Sans", sans-serif' >0.3</text>
<rect x="166.00" y="203.70" width="118.20" height="168.60" fill="none" stroke="#000" stroke-width="1.6" />
<line x1="234.80" y1="209.70" x2="247.50" y2="209.70" stroke="#f05050" stroke-width="1.8" />
<text x="250" y="212.29999999999998" font-size="7.2" font-weight="bold" fill="#000" text-anchor="start" font-family='"Liberation Sans", sans-serif' >2Se + 2Cl</text>
<text x="224.4" y="226.1" font-size="11.4" font-family='"Liberation Mono", monospace' text-anchor="middle" textLength="103.0" lengthAdjust="spacingAndGlyphs" fill="#000" stroke="#000" stroke-width="0.38">Four binding sites</text>
<text x="227.3" y="240.7" font-size="11.4" font-family='"Liberation Mono", monospace' text-anchor="middle" textLength="59.4" lengthAdjust="spacingAndGlyphs" fill="#000" stroke="#000" stroke-width="0.38">(2Se + 2Cl)</text>
<text x="242.6" y="366.6" font-family='"Liberation Sans", sans-serif' font-weight="bold"><tspan font-size="10" font-style="italic" font-family='"Liberation Serif", serif'>&#961;</tspan><tspan font-size="5" dy="1.5" font-style="italic">diff</tspan><tspan font-size="7" dy="-1.5"> (e/Å)</tspan></text>
<text x="161.5" y="288.7" font-size="7.3" font-weight="bold" font-family='"Liberation Sans", sans-serif' text-anchor="middle" transform="rotate(-90 161.5 288.7)"><tspan font-style="italic">z</tspan> (Å)</text>
<text x="144.6" y="199.9" font-size="13.4" font-family='"Liberation Sans", sans-serif' fill="#000" stroke="#000" stroke-width="0.45">d</text>
<rect x="27.40" y="409.40" width="24.40" height="39.60" fill="#fbca9c" stroke="#c4cad8" stroke-width="0.6" />
<rect x="58.20" y="409.40" width="24.40" height="59.51" fill="#fbca9c" stroke="#c4cad8" stroke-width="0.6" />
<rect x="88.50" y="409.40" width="24.30" height="93.65" fill="#fbca9c" stroke="#c4cad8" stroke-width="0.6" />
<rect x="119.40" y="409.40" width="24.00" height="108.45" fill="#fbca9c" stroke="#c4cad8" stroke-width="0.6" />
<text x="39.8" y="430.6" font-size="7.9" font-weight="bold" fill="#f5a040" text-anchor="middle" font-family='"Liberation Sans", sans-serif' transform="rotate(90 39.8 430.6)" dominant-baseline="central">Se</text>
<text x="70.9" y="440.3" font-size="7.9" font-weight="bold" fill="#74c86c" text-anchor="middle" font-family='"Liberation Sans", sans-serif' transform="rotate(90 70.9 440.3)" dominant-baseline="central">Cl</text>
<text x="101.2" y="458.4" font-size="7.9" font-weight="bold" fill="#3a6ea5" text-anchor="middle" font-family='"Liberation Sans", sans-serif' transform="rotate(90 101.2 458.4)" dominant-baseline="central">Se + Cl</text>
<text x="131.4" y="472" font-size="8.3" font-weight="bold" fill="#b22222" text-anchor="middle" font-family='"Liberation Sans", sans-serif' transform="rotate(90 131.4 472)" dominant-baseline="central">2Se + 2Cl</text>
<line x1="25.10" y1="408.60" x2="27.30" y2="408.60" stroke="#000" stroke-width="0.9" />
<text x="23.900000000000002" y="410.90000000000003" font-size="6.6" font-weight="bold" fill="#000" text-anchor="end" font-family='"Liberation Sans", sans-serif' >0.0</text>
<line x1="25.10" y1="419.98" x2="26.40" y2="419.98" stroke="#000" stroke-width="0.8" />
<line x1="25.10" y1="431.36" x2="27.30" y2="431.36" stroke="#000" stroke-width="0.9" />
<text x="23.900000000000002" y="433.66" font-size="6.6" font-weight="bold" fill="#000" text-anchor="end" font-family='"Liberation Sans", sans-serif' >-0.4</text>
<line x1="25.10" y1="442.74" x2="26.40" y2="442.74" stroke="#000" stroke-width="0.8" />
<line x1="25.10" y1="454.12" x2="27.30" y2="454.12" stroke="#000" stroke-width="0.9" />
<text x="23.900000000000002" y="456.42" font-size="6.6" font-weight="bold" fill="#000" text-anchor="end" font-family='"Liberation Sans", sans-serif' >-0.8</text>
<line x1="25.10" y1="465.50" x2="26.40" y2="465.50" stroke="#000" stroke-width="0.8" />
<line x1="25.10" y1="476.88" x2="27.30" y2="476.88" stroke="#000" stroke-width="0.9" />
<text x="23.900000000000002" y="479.18000000000006" font-size="6.6" font-weight="bold" fill="#000" text-anchor="end" font-family='"Liberation Sans", sans-serif' >-1.2</text>
<line x1="25.10" y1="488.26" x2="26.40" y2="488.26" stroke="#000" stroke-width="0.8" />
<line x1="25.10" y1="499.64" x2="27.30" y2="499.64" stroke="#000" stroke-width="0.9" />
<text x="23.900000000000002" y="501.94000000000005" font-size="6.6" font-weight="bold" fill="#000" text-anchor="end" font-family='"Liberation Sans", sans-serif' >-1.6</text>
<line x1="25.10" y1="511.02" x2="26.40" y2="511.02" stroke="#000" stroke-width="0.8" />
<line x1="25.10" y1="522.40" x2="27.30" y2="522.40" stroke="#000" stroke-width="0.9" />
<text x="23.900000000000002" y="524.6999999999999" font-size="6.6" font-weight="bold" fill="#000" text-anchor="end" font-family='"Liberation Sans", sans-serif' >-2.0</text>
<rect x="25.10" y="408.60" width="120.70" height="119.00" fill="none" stroke="#000" stroke-width="1.6" />
<text x="12" y="469" font-family='"Liberation Sans", sans-serif' font-weight="bold" font-size="7.5" text-anchor="middle" transform="rotate(-90 12 469)"><tspan font-style="italic">E</tspan><tspan font-size="5" dy="1.5">ads</tspan><tspan dy="-1.5"> (eV)</tspan></text>
<text x="-0.8" y="405.7" font-size="13.4" font-family='"Liberation Sans", sans-serif' fill="#000" stroke="#000" stroke-width="0.45">e</text>
<rect x="173.20" y="507.88" width="9.10" height="19.32" fill="url(#fblue)" stroke="#b0c4dc" stroke-width="0.5" />
<rect x="182.30" y="504.20" width="9.40" height="23.00" fill="url(#fred)" stroke="#e8b0b0" stroke-width="0.5" />
<rect x="200.80" y="454.52" width="9.40" height="72.68" fill="url(#fblue)" stroke="#b0c4dc" stroke-width="0.5" />
<rect x="210.20" y="452.68" width="9.40" height="74.52" fill="url(#fred)" stroke="#e8b0b0" stroke-width="0.5" />
<rect x="229.00" y="437.96" width="9.10" height="89.24" fill="url(#fblue)" stroke="#b0c4dc" stroke-width="0.5" />
<rect x="238.10" y="422.78" width="9.40" height="104.42" fill="url(#fred)" stroke="#e8b0b0" stroke-width="0.5" />
<rect x="257.00" y="491.09" width="9.00" height="36.11" fill="url(#fblue)" stroke="#b0c4dc" stroke-width="0.5" />
<rect x="266.00" y="492.93" width="9.40" height="34.27" fill="url(#fred)" stroke="#e8b0b0" stroke-width="0.5" />
<line x1="168.80" y1="527.20" x2="171.00" y2="527.20" stroke="#000" stroke-width="0.9" />
<text x="166.8" y="529.2" font-size="5.8" font-weight="bold" fill="#000" text-anchor="end" font-family='"Liberation Sans", sans-serif' >0</text>
<line x1="168.80" y1="515.70" x2="170.10" y2="515.70" stroke="#000" stroke-width="0.8" />
<line x1="168.80" y1="504.20" x2="171.00" y2="504.20" stroke="#000" stroke-width="0.9" />
<text x="166.8" y="506.20000000000005" font-size="5.8" font-weight="bold" fill="#000" text-anchor="end" font-family='"Liberation Sans", sans-serif' >1</text>
<line x1="168.80" y1="492.70" x2="170.10" y2="492.70" stroke="#000" stroke-width="0.8" />
<line x1="168.80" y1="481.20" x2="171.00" y2="481.20" stroke="#000" stroke-width="0.9" />
<text x="166.8" y="483.20000000000005" font-size="5.8" font-weight="bold" fill="#000" text-anchor="end" font-family='"Liberation Sans", sans-serif' >2</text>
<line x1="168.80" y1="469.70" x2="170.10" y2="469.70" stroke="#000" stroke-width="0.8" />
<line x1="168.80" y1="458.20" x2="171.00" y2="458.20" stroke="#000" stroke-width="0.9" />
<text x="166.8" y="460.20000000000005" font-size="5.8" font-weight="bold" fill="#000" text-anchor="end" font-family='"Liberation Sans", sans-serif' >3</text>
<line x1="168.80" y1="446.70" x2="170.10" y2="446.70" stroke="#000" stroke-width="0.8" />
<line x1="168.80" y1="435.20" x2="171.00" y2="435.20" stroke="#000" stroke-width="0.9" />
<text x="166.8" y="437.20000000000005" font-size="5.8" font-weight="bold" fill="#000" text-anchor="end" font-family='"Liberation Sans", sans-serif' >4</text>
<line x1="168.80" y1="423.70" x2="170.10" y2="423.70" stroke="#000" stroke-width="0.8" />
<line x1="168.80" y1="412.20" x2="171.00" y2="412.20" stroke="#000" stroke-width="0.9" />
<text x="166.8" y="414.20000000000005" font-size="5.8" font-weight="bold" fill="#000" text-anchor="end" font-family='"Liberation Sans", sans-serif' >5</text>
<rect x="168.80" y="407.60" width="116.40" height="119.60" fill="none" stroke="#000" stroke-width="1.6" />
<rect x="169.80" y="410.60" width="9.20" height="4.80" fill="url(#fblue)" stroke="#8aa0c0" stroke-width="0.5" />
<rect x="169.80" y="418.20" width="9.20" height="4.80" fill="url(#fred)" stroke="#d09090" stroke-width="0.5" />
<text x="180.6" y="415.4" font-size="6.8" font-weight="bold" fill="#000" text-anchor="start" font-family='"Liberation Sans", sans-serif' >Control</text>
<text x="180.6" y="423" font-family='"Liberation Sans", sans-serif' font-weight="bold" font-size="6.8" textLength="102.5" lengthAdjust="spacingAndGlyphs">Target (Four binding sites (2Se + 2Cl)</text>
<text x="182.3" y="536" font-family='"Liberation Sans", sans-serif' font-weight="bold" font-size="8" font-style="italic" text-anchor="middle">V<tspan font-size="5" dy="1.8">I</tspan></text>
<text x="210.2" y="536" font-family='"Liberation Sans", sans-serif' font-weight="bold" font-size="8" font-style="italic" text-anchor="middle">V<tspan font-size="5" dy="1.8">Pb</tspan></text>
<text x="238.1" y="536" font-family='"Liberation Sans", sans-serif' font-weight="bold" font-size="8" font-style="italic" text-anchor="middle">I<tspan font-size="5" dy="1.8">Pb</tspan></text>
<text x="266" y="536" font-family='"Liberation Sans", sans-serif' font-weight="bold" font-size="8" font-style="italic" text-anchor="middle">Pb<tspan font-size="5" dy="1.8">I</tspan></text>
<text x="159.8" y="467.5" font-family='"Liberation Sans", sans-serif' font-weight="bold" font-size="7.5" text-anchor="middle" transform="rotate(-90 159.8 467.5)"><tspan font-style="italic">E</tspan><tspan font-size="5" dy="1.5">f</tspan><tspan dy="-1.5"> (eV)</tspan></text>
<text x="146.2" y="406" font-size="13.4" font-family='"Liberation Sans", sans-serif' fill="#000" stroke="#000" stroke-width="0.45">f</text>
<rect x="363.10" y="9.70" width="67.90" height="92.10" fill="url(#bandT)" stroke="none" stroke-width="1" />
<rect x="363.10" y="101.80" width="67.90" height="92.40" fill="url(#bandB)" stroke="none" stroke-width="1" />
<rect x="607.80" y="9.70" width="44.00" height="92.10" fill="url(#rbandT)" stroke="none" stroke-width="1" />
<rect x="607.80" y="101.80" width="44.00" height="92.40" fill="url(#rbandB)" stroke="none" stroke-width="1" />
<text x="396.8" y="188" font-size="8.6" font-weight="normal" fill="#b2c8e2" text-anchor="middle" font-family='"Liberation Sans", sans-serif' >N-H</text>
<path d="M322.50,28.20 C325.98,29.17 336.65,31.47 343.40,34.00 C350.15,36.53 357.73,40.40 363.00,43.40 C368.27,46.40 371.67,49.48 375.00,52.00 C378.33,54.52 380.83,57.58 383.00,58.50 C385.17,59.42 386.03,58.15 388.00,57.50 C389.97,56.85 392.80,54.93 394.80,54.60 C396.80,54.27 398.07,55.12 400.00,55.50 C401.93,55.88 404.23,56.23 406.40,56.90 C408.57,57.57 410.85,58.45 413.00,59.50 C415.15,60.55 417.30,62.87 419.30,63.20 C421.30,63.53 422.08,63.25 425.00,61.50 C427.92,59.75 432.50,56.50 436.80,52.70 C441.10,48.90 446.90,41.62 450.80,38.70 C454.70,35.78 457.00,36.15 460.20,35.20 C463.40,34.25 468.37,33.37 470.00,33.00" fill="none" stroke="#5b9bd5" stroke-width="1.2" stroke-linejoin="round" stroke-linecap="round" />
<path d="M322.50,30.50 C325.98,31.48 336.03,33.87 343.40,36.40 C350.77,38.93 361.93,43.10 366.70,45.70 C371.47,48.30 370.45,48.88 372.00,52.00 C373.55,55.12 374.47,60.38 376.00,64.40 C377.53,68.42 379.70,75.50 381.20,76.10 C382.70,76.70 383.90,70.93 385.00,68.00 C386.10,65.07 386.57,60.67 387.80,58.50 C389.03,56.33 391.03,55.17 392.40,55.00 C393.77,54.83 394.83,55.93 396.00,57.50 C397.17,59.07 397.97,61.70 399.40,64.40 C400.83,67.10 403.42,72.60 404.60,73.70 C405.78,74.80 405.80,71.78 406.50,71.00 C407.20,70.22 407.92,69.52 408.80,69.00 C409.68,68.48 411.02,67.73 411.80,67.90 C412.58,68.07 412.83,69.03 413.50,70.00 C414.17,70.97 414.88,74.03 415.80,73.70 C416.72,73.37 417.83,70.13 419.00,68.00 C420.17,65.87 419.83,64.42 422.80,60.90 C425.77,57.38 432.13,50.80 436.80,46.90 C441.47,43.00 445.27,39.82 450.80,37.50 C456.33,35.18 466.80,33.75 470.00,33.00" fill="none" stroke="#e8474c" stroke-width="1.2" stroke-linejoin="round" stroke-linecap="round" />
<path d="M480.00,30.30 C481.03,30.62 484.48,27.17 486.20,32.20 C487.92,37.23 489.17,51.05 490.30,60.50 C491.43,69.95 492.02,90.65 493.00,88.90 C493.98,87.15 495.08,58.42 496.20,50.00 C497.32,41.58 498.43,40.02 499.70,38.40 C500.97,36.78 502.67,39.70 503.80,40.30 C504.93,40.90 505.47,40.97 506.50,42.00 C507.53,43.03 508.65,47.23 510.00,46.50 C511.35,45.77 512.72,39.53 514.60,37.60 C516.48,35.67 517.93,34.68 521.30,34.90 C524.67,35.12 531.65,38.68 534.80,38.90 C537.95,39.12 537.72,36.43 540.20,36.20 C542.68,35.97 547.57,36.53 549.70,37.50 C551.83,38.47 551.97,40.42 553.00,42.00 C554.03,43.58 554.90,47.17 555.90,47.00 C556.90,46.83 558.02,42.50 559.00,41.00 C559.98,39.50 559.53,39.17 561.80,38.00 C564.07,36.83 569.00,34.97 572.60,34.00 C576.20,33.03 579.80,32.95 583.40,32.20 C587.00,31.45 591.43,29.70 594.20,29.50 C596.97,29.30 597.75,30.17 600.00,31.00 C602.25,31.83 605.37,33.50 607.70,34.50 C610.03,35.50 611.75,36.27 614.00,37.00 C616.25,37.73 618.87,38.90 621.20,38.90 C623.53,38.90 625.75,36.32 628.00,37.00 C630.25,37.68 632.70,42.83 634.70,43.00 C636.70,43.17 638.28,39.25 640.00,38.00 C641.72,36.75 643.08,35.67 645.00,35.50 C646.92,35.33 650.42,36.75 651.50,37.00" fill="none" stroke="#5b9bd5" stroke-width="1.2" stroke-linejoin="round" stroke-linecap="round" />
<path d="M480.00,30.30 C481.03,30.62 484.48,27.58 486.20,32.20 C487.92,36.82 489.17,49.45 490.30,58.00 C491.43,66.55 492.02,85.17 493.00,83.50 C493.98,81.83 495.08,55.52 496.20,48.00 C497.32,40.48 498.43,39.82 499.70,38.40 C500.97,36.98 502.67,39.23 503.80,39.50 C504.93,39.77 505.47,39.25 506.50,40.00 C507.53,40.75 508.65,44.50 510.00,44.00 C511.35,43.50 512.72,38.52 514.60,37.00 C516.48,35.48 517.93,34.73 521.30,34.90 C524.67,35.07 531.65,37.68 534.80,38.00 C537.95,38.32 537.72,36.83 540.20,36.80 C542.68,36.77 547.57,37.10 549.70,37.80 C551.83,38.50 551.97,39.72 553.00,41.00 C554.03,42.28 554.90,45.67 555.90,45.50 C556.90,45.33 558.02,41.17 559.00,40.00 C559.98,38.83 559.53,39.00 561.80,38.50 C564.07,38.00 569.00,37.38 572.60,37.00 C576.20,36.62 579.80,36.70 583.40,36.20 C587.00,35.70 591.43,34.87 594.20,34.00 C596.97,33.13 598.20,31.53 600.00,31.00 C601.80,30.47 603.33,30.47 605.00,30.80 C606.67,31.13 608.17,31.30 610.00,33.00 C611.83,34.70 614.13,37.33 616.00,41.00 C617.87,44.67 619.20,49.83 621.20,55.00 C623.20,60.17 625.87,66.13 628.00,72.00 C630.13,77.87 632.50,88.87 634.00,90.20 C635.50,91.53 636.00,84.70 637.00,80.00 C638.00,75.30 638.83,66.67 640.00,62.00 C641.17,57.33 642.63,54.50 644.00,52.00 C645.37,49.50 646.95,46.93 648.20,47.00 C649.45,47.07 650.95,51.50 651.50,52.40" fill="none" stroke="#e8474c" stroke-width="1.2" stroke-linejoin="round" stroke-linecap="round" />
<path d="M322.50,124.20 C325.42,124.25 334.58,124.20 340.00,124.50 C345.42,124.80 351.67,125.25 355.00,126.00 C358.33,126.75 358.17,127.35 360.00,129.00 C361.83,130.65 364.17,135.07 366.00,135.90 C367.83,136.73 369.07,134.73 371.00,134.00 C372.93,133.27 375.10,131.92 377.60,131.50 C380.10,131.08 383.68,131.33 386.00,131.50 C388.32,131.67 389.83,133.08 391.50,132.50 C393.17,131.92 394.58,129.13 396.00,128.00 C397.42,126.87 397.67,126.28 400.00,125.70 C402.33,125.12 406.67,124.75 410.00,124.50 C413.33,124.25 416.67,124.15 420.00,124.20 C423.33,124.25 426.67,124.55 430.00,124.80 C433.33,125.05 435.83,125.75 440.00,125.70 C444.17,125.65 450.00,124.70 455.00,124.50 C460.00,124.30 467.50,124.50 470.00,124.50" fill="none" stroke="#2e6294" stroke-width="1.2" stroke-linejoin="round" stroke-linecap="round" />
<path d="M322.50,124.20 C325.42,124.25 334.58,124.20 340.00,124.50 C345.42,124.80 351.17,124.58 355.00,126.00 C358.83,127.42 361.00,130.00 363.00,133.00 C365.00,136.00 365.78,141.08 367.00,144.00 C368.22,146.92 369.13,149.75 370.30,150.50 C371.47,151.25 372.78,149.08 374.00,148.50 C375.22,147.92 376.27,147.50 377.60,147.00 C378.93,146.50 380.53,146.00 382.00,145.50 C383.47,145.00 385.07,143.92 386.40,144.00 C387.73,144.08 388.80,144.92 390.00,146.00 C391.20,147.08 392.60,150.50 393.60,150.50 C394.60,150.50 395.27,147.47 396.00,146.00 C396.73,144.53 396.20,143.15 398.00,141.70 C399.80,140.25 403.88,138.27 406.80,137.30 C409.72,136.33 413.30,136.62 415.50,135.90 C417.70,135.18 418.05,134.07 420.00,133.00 C421.95,131.93 424.53,130.58 427.20,129.50 C429.87,128.42 431.62,127.38 436.00,126.50 C440.38,125.62 447.83,124.53 453.50,124.20 C459.17,123.87 467.25,124.45 470.00,124.50" fill="none" stroke="#a81c2a" stroke-width="1.2" stroke-linejoin="round" stroke-linecap="round" />
<path d="M480.00,125.50 C481.17,125.53 485.25,121.62 487.00,125.70 C488.75,129.78 489.42,140.55 490.50,150.00 C491.58,159.45 492.50,182.40 493.50,182.40 C494.50,182.40 495.42,158.73 496.50,150.00 C497.58,141.27 498.75,133.67 500.00,130.00 C501.25,126.33 502.70,127.37 504.00,128.00 C505.30,128.63 506.47,133.97 507.80,133.80 C509.13,133.63 509.97,128.35 512.00,127.00 C514.03,125.65 515.33,125.95 520.00,125.70 C524.67,125.45 535.33,125.37 540.00,125.50 C544.67,125.63 546.03,124.67 548.00,126.50 C549.97,128.33 550.63,136.42 551.80,136.50 C552.97,136.58 552.80,128.97 555.00,127.00 C557.20,125.03 561.67,124.87 565.00,124.70 C568.33,124.53 572.50,126.28 575.00,126.00 C577.50,125.72 578.37,123.95 580.00,123.00 C581.63,122.05 583.13,119.97 584.80,120.30 C586.47,120.63 588.65,123.65 590.00,125.00 C591.35,126.35 591.73,128.40 592.90,128.40 C594.07,128.40 595.88,125.77 597.00,125.00 C598.12,124.23 598.60,123.47 599.60,123.80 C600.60,124.13 601.65,126.02 603.00,127.00 C604.35,127.98 605.87,129.20 607.70,129.70 C609.53,130.20 611.95,128.28 614.00,130.00 C616.05,131.72 618.12,136.45 620.00,140.00 C621.88,143.55 623.63,150.13 625.30,151.30 C626.97,152.47 628.65,148.38 630.00,147.00 C631.35,145.62 632.23,145.33 633.40,143.00 C634.57,140.67 635.43,135.88 637.00,133.00 C638.57,130.12 640.38,126.92 642.80,125.70 C645.22,124.48 650.05,125.70 651.50,125.70" fill="none" stroke="#2e6294" stroke-width="1.2" stroke-linejoin="round" stroke-linecap="round" />
<path d="M480.00,125.50 C481.17,125.53 485.25,121.62 487.00,125.70 C488.75,129.78 489.42,140.55 490.50,150.00 C491.58,159.45 492.50,182.40 493.50,182.40 C494.50,182.40 495.42,158.73 496.50,150.00 C497.58,141.27 498.75,133.67 500.00,130.00 C501.25,126.33 502.70,127.37 504.00,128.00 C505.30,128.63 506.47,133.97 507.80,133.80 C509.13,133.63 509.97,128.35 512.00,127.00 C514.03,125.65 515.33,125.95 520.00,125.70 C524.67,125.45 535.33,125.37 540.00,125.50 C544.67,125.63 546.03,124.67 548.00,126.50 C549.97,128.33 550.63,136.42 551.80,136.50 C552.97,136.58 552.80,128.97 555.00,127.00 C557.20,125.03 561.67,125.28 565.00,124.70 C568.33,124.12 571.67,123.87 575.00,123.50 C578.33,123.13 581.67,122.17 585.00,122.50 C588.33,122.83 591.22,125.17 595.00,125.50 C598.78,125.83 604.37,124.75 607.70,124.50 C611.03,124.25 612.95,123.42 615.00,124.00 C617.05,124.58 618.00,125.33 620.00,128.00 C622.00,130.67 624.77,136.12 627.00,140.00 C629.23,143.88 631.73,151.30 633.40,151.30 C635.07,151.30 635.43,144.27 637.00,140.00 C638.57,135.73 640.38,128.08 642.80,125.70 C645.22,123.32 650.05,125.70 651.50,125.70" fill="none" stroke="#a81c2a" stroke-width="1.2" stroke-linejoin="round" stroke-linecap="round" />
<text x="383.5" y="44.2" font-size="4.8" font-weight="bold" font-family='"Liberation Sans", sans-serif' fill="#5b9bd5" transform="rotate(-90 383.5 44.2)" dominant-baseline="central">3340.1</text>
<line x1="383.50" y1="45.60" x2="383.50" y2="54.40" stroke="#5b9bd5" stroke-width="0.6" />
<text x="405.6" y="44.2" font-size="4.8" font-weight="bold" font-family='"Liberation Sans", sans-serif' fill="#5b9bd5" transform="rotate(-90 405.6 44.2)" dominant-baseline="central">3200.2</text>
<line x1="405.60" y1="45.60" x2="405.60" y2="56.00" stroke="#5b9bd5" stroke-width="0.6" />
<text x="419.8" y="49.5" font-size="4.8" font-weight="bold" font-family='"Liberation Sans", sans-serif' fill="#5b9bd5" transform="rotate(-90 419.8 49.5)" dominant-baseline="central">3120.3</text>
<line x1="419.80" y1="51.00" x2="419.80" y2="59.50" stroke="#5b9bd5" stroke-width="0.6" />
<text x="381" y="99" font-size="4.8" font-weight="bold" font-family='"Liberation Sans", sans-serif' fill="#e8474c" transform="rotate(-90 381 99)" dominant-baseline="central">3351.7-</text>
<text x="403" y="97" font-size="4.8" font-weight="bold" font-family='"Liberation Sans", sans-serif' fill="#e8474c" transform="rotate(-90 403 97)" dominant-baseline="central">3209.8-</text>
<text x="411.3" y="95" font-size="4.8" font-weight="bold" font-family='"Liberation Sans", sans-serif' fill="#e8474c" transform="rotate(-90 411.3 95)" dominant-baseline="central">3187.8-</text>
<text x="420.5" y="96" font-size="4.8" font-weight="bold" font-family='"Liberation Sans", sans-serif' fill="#e8474c" transform="rotate(-90 420.5 96)" dominant-baseline="central">3141.5</text>
<line x1="420.50" y1="75.00" x2="420.50" y2="79.00" stroke="#e8474c" stroke-width="0.6" />
<text x="555.1" y="33" font-size="4.8" font-weight="bold" font-family='"Liberation Sans", sans-serif' fill="#5b9bd5" transform="rotate(-90 555.1 33)" dominant-baseline="central">1332.6</text>
<line x1="555.10" y1="33.50" x2="555.10" y2="43.70" stroke="#5b9bd5" stroke-width="0.6" />
<text x="555.1" y="67.8" font-size="4.8" font-weight="bold" font-family='"Liberation Sans", sans-serif' fill="#e8474c" transform="rotate(-90 555.1 67.8)" dominant-baseline="central">1334.5-</text>
<text x="592.8" y="58.8" font-size="4.8" font-weight="bold" font-family='"Liberation Sans", sans-serif' fill="#e8474c" transform="rotate(-90 592.8 58.8)" dominant-baseline="central">1108.3-</text>
<line x1="592.80" y1="37.00" x2="592.80" y2="42.00" stroke="#e8474c" stroke-width="0.6" />
<text x="621.5" y="27" font-size="4.8" font-weight="bold" font-family='"Liberation Sans", sans-serif' fill="#5b9bd5" transform="rotate(-90 621.5 27)" dominant-baseline="central">938.5</text>
<line x1="621.50" y1="27.50" x2="621.50" y2="36.00" stroke="#5b9bd5" stroke-width="0.6" />
<text x="634.5" y="28.6" font-size="4.8" font-weight="bold" font-family='"Liberation Sans", sans-serif' fill="#5b9bd5" transform="rotate(-90 634.5 28.6)" dominant-baseline="central">853.8</text>
<line x1="634.50" y1="29.00" x2="634.50" y2="40.70" stroke="#5b9bd5" stroke-width="0.6" />
<text x="634.5" y="114.6" font-size="4.8" font-weight="bold" font-family='"Liberation Sans", sans-serif' fill="#f09090" transform="rotate(-90 634.5 114.6)" dominant-baseline="central">856.3-</text>
<text x="366.5" y="125.8" font-size="4.8" font-weight="bold" font-family='"Liberation Sans", sans-serif' fill="#2e6294" transform="rotate(-90 366.5 125.8)" dominant-baseline="central">3439.0</text>
<line x1="366.50" y1="126.30" x2="366.50" y2="134.00" stroke="#2e6294" stroke-width="0.6" />
<text x="378.5" y="120.5" font-size="4.8" font-weight="bold" font-family='"Liberation Sans", sans-serif' fill="#2e6294" transform="rotate(-90 378.5 120.5)" dominant-baseline="central">3366.3</text>
<line x1="378.50" y1="121.00" x2="378.50" y2="130.50" stroke="#2e6294" stroke-width="0.6" />
<text x="391.5" y="121.5" font-size="4.8" font-weight="bold" font-family='"Liberation Sans", sans-serif' fill="#2e6294" transform="rotate(-90 391.5 121.5)" dominant-baseline="central">3285.6</text>
<line x1="391.50" y1="122.00" x2="391.50" y2="131.00" stroke="#2e6294" stroke-width="0.6" />
<text x="371.3" y="174" font-size="4.8" font-weight="bold" font-family='"Liberation Sans", sans-serif' fill="#a81c2a" transform="rotate(-90 371.3 174)" dominant-baseline="central">3411.5-</text>
<text x="379.6" y="171.3" font-size="4.8" font-weight="bold" font-family='"Liberation Sans", sans-serif' fill="#a81c2a" transform="rotate(-90 379.6 171.3)" dominant-baseline="central">3357.5-</text>
<text x="393.5" y="171.3" font-size="4.8" font-weight="bold" font-family='"Liberation Sans", sans-serif' fill="#a81c2a" transform="rotate(-90 393.5 171.3)" dominant-baseline="central">3274.5-</text>
<text x="552" y="157" font-size="4.8" font-weight="bold" font-family='"Liberation Sans", sans-serif' fill="#a81c2a" transform="rotate(-90 552 157)" dominant-baseline="central">1351.6-</text>
<text x="626" y="138.8" font-size="4.8" font-weight="bold" font-family='"Liberation Sans", sans-serif' fill="#2e6294" transform="rotate(-90 626 138.8)" dominant-baseline="central">908.3</text>
<line x1="626.00" y1="139.30" x2="626.00" y2="146.00" stroke="#2e6294" stroke-width="0.6" />
<text x="636" y="132.7" font-size="4.8" font-weight="bold" font-family='"Liberation Sans", sans-serif' fill="#2e6294" transform="rotate(-90 636 132.7)" dominant-baseline="central">845.6</text>
<line x1="636.00" y1="133.20" x2="636.00" y2="141.00" stroke="#2e6294" stroke-width="0.6" />
<text x="634.5" y="175" font-size="4.8" font-weight="bold" font-family='"Liberation Sans", sans-serif' fill="#a81c2a" transform="rotate(-90 634.5 175)" dominant-baseline="central">855.3</text>
<line x1="634.50" y1="154.00" x2="634.50" y2="160.00" stroke="#a81c2a" stroke-width="0.6" />
<line x1="323.40" y1="9.70" x2="472.40" y2="9.70" stroke="#000" stroke-width="1.6" />
<line x1="478.50" y1="9.70" x2="651.80" y2="9.70" stroke="#000" stroke-width="1.6" />
<line x1="469.65" y1="13.90" x2="475.15" y2="5.50" stroke="#000" stroke-width="1.6" />
<line x1="475.75" y1="13.90" x2="481.25" y2="5.50" stroke="#000" stroke-width="1.6" />
<line x1="323.40" y1="101.80" x2="472.40" y2="101.80" stroke="#000" stroke-width="1.6" />
<line x1="478.50" y1="101.80" x2="651.80" y2="101.80" stroke="#000" stroke-width="1.6" />
<line x1="469.65" y1="106.00" x2="475.15" y2="97.60" stroke="#000" stroke-width="1.6" />
<line x1="475.75" y1="106.00" x2="481.25" y2="97.60" stroke="#000" stroke-width="1.6" />
<line x1="323.40" y1="194.20" x2="472.40" y2="194.20" stroke="#000" stroke-width="1.6" />
<line x1="478.50" y1="194.20" x2="651.80" y2="194.20" stroke="#000" stroke-width="1.6" />
<line x1="469.65" y1="198.40" x2="475.15" y2="190.00" stroke="#000" stroke-width="1.6" />
<line x1="475.75" y1="198.40" x2="481.25" y2="190.00" stroke="#000" stroke-width="1.6" />
<line x1="323.40" y1="9.70" x2="323.40" y2="194.20" stroke="#000" stroke-width="1.6" />
<line x1="651.80" y1="9.70" x2="651.80" y2="194.20" stroke="#000" stroke-width="1.6" />
<line x1="323.40" y1="28.30" x2="321.20" y2="28.30" stroke="#000" stroke-width="0.9" />
<text x="319.79999999999995" y="30.1" font-size="7.3" font-weight="bold" fill="#000" text-anchor="end" font-family='"Liberation Sans", sans-serif' >0.00</text>
<line x1="323.40" y1="40.00" x2="322.10" y2="40.00" stroke="#000" stroke-width="0.8" />
<line x1="323.40" y1="51.70" x2="321.20" y2="51.70" stroke="#000" stroke-width="0.9" />
<text x="319.79999999999995" y="53.5" font-size="7.3" font-weight="bold" fill="#000" text-anchor="end" font-family='"Liberation Sans", sans-serif' >0.38</text>
<line x1="323.40" y1="63.40" x2="322.10" y2="63.40" stroke="#000" stroke-width="0.8" />
<line x1="323.40" y1="75.10" x2="321.20" y2="75.10" stroke="#000" stroke-width="0.9" />
<text x="319.79999999999995" y="76.89999999999999" font-size="7.3" font-weight="bold" fill="#000" text-anchor="end" font-family='"Liberation Sans", sans-serif' >0.76</text>
<line x1="323.40" y1="86.80" x2="322.10" y2="86.80" stroke="#000" stroke-width="0.8" />
<line x1="323.40" y1="98.50" x2="321.20" y2="98.50" stroke="#000" stroke-width="0.9" />
<text x="319.79999999999995" y="100.29999999999998" font-size="7.3" font-weight="bold" fill="#000" text-anchor="end" font-family='"Liberation Sans", sans-serif' >1.14</text>
<line x1="323.40" y1="120.70" x2="321.20" y2="120.70" stroke="#000" stroke-width="0.9" />
<text x="319.79999999999995" y="122.5" font-size="7.3" font-weight="bold" fill="#000" text-anchor="end" font-family='"Liberation Sans", sans-serif' >0.00</text>
<line x1="323.40" y1="132.40" x2="322.10" y2="132.40" stroke="#000" stroke-width="0.8" />
<line x1="323.40" y1="144.10" x2="321.20" y2="144.10" stroke="#000" stroke-width="0.9" />
<text x="319.79999999999995" y="145.9" font-size="7.3" font-weight="bold" fill="#000" text-anchor="end" font-family='"Liberation Sans", sans-serif' >0.38</text>
<line x1="323.40" y1="155.80" x2="322.10" y2="155.80" stroke="#000" stroke-width="0.8" />
<line x1="323.40" y1="167.50" x2="321.20" y2="167.50" stroke="#000" stroke-width="0.9" />
<text x="319.79999999999995" y="169.3" font-size="7.3" font-weight="bold" fill="#000" text-anchor="end" font-family='"Liberation Sans", sans-serif' >0.76</text>
<line x1="323.40" y1="179.20" x2="322.10" y2="179.20" stroke="#000" stroke-width="0.8" />
<line x1="323.40" y1="190.90" x2="321.20" y2="190.90" stroke="#000" stroke-width="0.9" />
<text x="319.79999999999995" y="192.7" font-size="7.3" font-weight="bold" fill="#000" text-anchor="end" font-family='"Liberation Sans", sans-serif' >1.14</text>
<line x1="339.80" y1="194.20" x2="339.80" y2="196.40" stroke="#000" stroke-width="0.9" />
<text x="339.8" y="205.4" font-size="9.6" font-weight="bold" fill="#000" text-anchor="middle" font-family='"Liberation Sans", sans-serif' >3600</text>
<line x1="373.20" y1="194.20" x2="373.20" y2="196.40" stroke="#000" stroke-width="0.9" />
<text x="373.2" y="205.4" font-size="9.6" font-weight="bold" fill="#000" text-anchor="middle" font-family='"Liberation Sans", sans-serif' >3400</text>
<line x1="406.60" y1="194.20" x2="406.60" y2="196.40" stroke="#000" stroke-width="0.9" />
<text x="406.6" y="205.4" font-size="9.6" font-weight="bold" fill="#000" text-anchor="middle" font-family='"Liberation Sans", sans-serif' >3200</text>
<line x1="440.00" y1="194.20" x2="440.00" y2="196.40" stroke="#000" stroke-width="0.9" />
<text x="440.0" y="205.4" font-size="9.6" font-weight="bold" fill="#000" text-anchor="middle" font-family='"Liberation Sans", sans-serif' >3000</text>
<line x1="356.50" y1="194.20" x2="356.50" y2="195.50" stroke="#000" stroke-width="0.8" />
<line x1="389.90" y1="194.20" x2="389.90" y2="195.50" stroke="#000" stroke-width="0.8" />
<line x1="423.30" y1="194.20" x2="423.30" y2="195.50" stroke="#000" stroke-width="0.8" />
<line x1="456.70" y1="194.20" x2="456.70" y2="195.50" stroke="#000" stroke-width="0.8" />
<line x1="511.00" y1="194.20" x2="511.00" y2="196.40" stroke="#000" stroke-width="0.9" />
<text x="511.0" y="205.4" font-size="9.6" font-weight="bold" fill="#000" text-anchor="middle" font-family='"Liberation Sans", sans-serif' >1600</text>
<line x1="544.10" y1="194.20" x2="544.10" y2="196.40" stroke="#000" stroke-width="0.9" />
<text x="544.1" y="205.4" font-size="9.6" font-weight="bold" fill="#000" text-anchor="middle" font-family='"Liberation Sans", sans-serif' >1400</text>
<line x1="577.20" y1="194.20" x2="577.20" y2="196.40" stroke="#000" stroke-width="0.9" />
<text x="577.2" y="205.4" font-size="9.6" font-weight="bold" fill="#000" text-anchor="middle" font-family='"Liberation Sans", sans-serif' >1200</text>
<line x1="610.30" y1="194.20" x2="610.30" y2="196.40" stroke="#000" stroke-width="0.9" />
<text x="610.3" y="205.4" font-size="9.6" font-weight="bold" fill="#000" text-anchor="middle" font-family='"Liberation Sans", sans-serif' >1000</text>
<line x1="643.40" y1="194.20" x2="643.40" y2="196.40" stroke="#000" stroke-width="0.9" />
<text x="643.4" y="205.4" font-size="9.6" font-weight="bold" fill="#000" text-anchor="middle" font-family='"Liberation Sans", sans-serif' >800</text>
<line x1="325.00" y1="15.20" x2="338.00" y2="15.20" stroke="#5b9bd5" stroke-width="1.8" />
<text x="341" y="17.9" font-size="7.8" font-weight="bold" fill="#5b9bd5" text-anchor="start" font-family='"Liberation Sans", sans-serif' >Control-FAI</text>
<line x1="325.00" y1="25.10" x2="338.00" y2="25.10" stroke="#e8474c" stroke-width="1.8" />
<text x="341" y="27.8" font-size="7.8" font-weight="bold" fill="#e8474c" text-anchor="start" font-family='"Liberation Sans", sans-serif' >Target-FAI</text>
<line x1="325.00" y1="179.70" x2="338.00" y2="179.70" stroke="#2e6294" stroke-width="1.8" />
<text x="341" y="182.39999999999998" font-size="7.8" font-weight="bold" fill="#2e6294" text-anchor="start" font-family='"Liberation Sans", sans-serif' >Control-PVK</text>
<line x1="325.00" y1="189.00" x2="338.00" y2="189.00" stroke="#a81c2a" stroke-width="1.8" />
<text x="341" y="191.7" font-size="7.8" font-weight="bold" fill="#a81c2a" text-anchor="start" font-family='"Liberation Sans", sans-serif' >Target-PVK</text>
<text x="418" y="219.7" font-size="14.7" font-weight="bold" fill="#000" text-anchor="start" font-family='"Liberation Sans", sans-serif' >Wavenumber / nm</text>
<text x="299.5" y="104" font-size="14.6" font-weight="bold" fill="#000" text-anchor="middle" font-family='"Liberation Sans", sans-serif' transform="rotate(-90 299.5 104)" >Absorption</text>
<text x="297.6" y="8.6" font-size="13.4" font-family='"Liberation Serif", serif' fill="#000" stroke="#000" stroke-width="0.45">g</text>
<clipPath id="cliph"><rect x="326.2" y="244.6" width="150.3" height="118.6"/></clipPath>
<g opacity="0.9">
<line x1="338.00" y1="296.80" x2="371.50" y2="296.80" stroke="#f4b8b8" stroke-width="1.3" stroke-dasharray="3,2"/>
<path d="M371,291.2 L387.5,296.8 L371,302.4 L375.5,296.8 Z" fill="#f6c4c4"/>
</g>
<g clip-path="url(#cliph)">
<path d="M335.30,244.60 C335.45,246.17 335.85,251.05 336.20,254.00 C336.55,256.95 336.65,257.87 337.40,262.30 C338.15,266.73 339.55,275.40 340.70,280.60 C341.85,285.80 342.93,289.22 344.30,293.50 C345.67,297.78 347.37,302.33 348.90,306.30 C350.43,310.27 351.67,313.33 353.50,317.30 C355.33,321.27 357.47,326.13 359.90,330.10 C362.33,334.07 365.58,338.37 368.10,341.10 C370.62,343.83 372.77,345.10 375.00,346.50 C377.23,347.90 379.00,348.48 381.50,349.50 C384.00,350.52 387.33,351.78 390.00,352.60 C392.67,353.42 394.17,353.80 397.50,354.40 C400.83,355.00 405.92,355.73 410.00,356.20 C414.08,356.67 410.92,356.92 422.00,357.20 C433.08,357.48 467.42,357.78 476.50,357.90" fill="none" stroke="#000" stroke-width="1.3" stroke-linejoin="round" stroke-linecap="round" stroke-dasharray="3.5,2.2"/>
<path d="M335.30,244.60 C335.45,246.50 335.92,252.43 336.20,256.00 C336.48,259.57 336.57,261.28 337.00,266.00 C337.43,270.72 338.03,278.80 338.80,284.30 C339.57,289.80 340.68,294.73 341.60,299.00 C342.52,303.27 343.08,306.25 344.30,309.90 C345.52,313.55 347.07,317.23 348.90,320.90 C350.73,324.57 353.17,328.53 355.30,331.90 C357.43,335.27 359.58,338.50 361.70,341.10 C363.82,343.70 365.85,345.77 368.00,347.50 C370.15,349.23 370.83,350.05 374.60,351.50 C378.37,352.95 382.70,355.18 390.60,356.20 C398.50,357.22 407.68,357.32 422.00,357.60 C436.32,357.88 467.42,357.85 476.50,357.90" fill="none" stroke="#ff1010" stroke-width="1.3" stroke-linejoin="round" stroke-linecap="round" stroke-dasharray="3.5,2.2"/>
<path d="M324.70,315.50 C325.25,316.33 326.57,318.38 328.00,320.50 C329.43,322.62 331.88,326.32 333.30,328.20 C334.72,330.08 335.43,330.93 336.50,331.80 C337.57,332.67 338.45,333.53 339.70,333.40 C340.95,333.27 342.62,332.17 344.00,331.00 C345.38,329.83 346.50,329.07 348.00,326.40 C349.50,323.73 351.17,319.58 353.00,315.00 C354.83,310.42 357.25,303.40 359.00,298.90 C360.75,294.40 362.00,291.57 363.50,288.00 C365.00,284.43 366.58,280.58 368.00,277.50 C369.42,274.42 370.75,271.73 372.00,269.50 C373.25,267.27 374.42,265.77 375.50,264.10 C376.58,262.43 377.50,260.80 378.50,259.50 C379.50,258.20 380.32,257.07 381.50,256.30 C382.68,255.53 384.18,254.82 385.60,254.90 C387.02,254.98 388.40,255.47 390.00,256.80 C391.60,258.13 393.53,260.37 395.20,262.90 C396.87,265.43 398.47,268.57 400.00,272.00 C401.53,275.43 402.90,279.83 404.40,283.50 C405.90,287.17 407.48,290.58 409.00,294.00 C410.52,297.42 412.00,300.83 413.50,304.00 C415.00,307.17 416.58,310.33 418.00,313.00 C419.42,315.67 420.50,317.92 422.00,320.00 C423.50,322.08 425.33,323.92 427.00,325.50 C428.67,327.08 429.83,327.78 432.00,329.50 C434.17,331.22 437.28,333.62 440.00,335.80 C442.72,337.98 445.80,340.63 448.30,342.60 C450.80,344.57 452.68,346.07 455.00,347.60 C457.32,349.13 460.03,350.63 462.20,351.80 C464.37,352.97 466.37,353.85 468.00,354.60 C469.63,355.35 470.58,355.82 472.00,356.30 C473.42,356.78 475.75,357.30 476.50,357.50" fill="none" stroke="#000" stroke-width="1.3" stroke-linejoin="round" stroke-linecap="round" />
<path d="M324.70,307.50 C325.42,305.75 327.55,300.62 329.00,297.00 C330.45,293.38 332.07,289.80 333.40,285.80 C334.73,281.80 335.85,276.82 337.00,273.00 C338.15,269.18 339.38,265.43 340.30,262.90 C341.22,260.37 341.83,259.02 342.50,257.80 C343.17,256.58 343.55,255.77 344.30,255.60 C345.05,255.43 346.13,256.10 347.00,256.80 C347.87,257.50 348.73,258.58 349.50,259.80 C350.27,261.02 350.77,262.15 351.60,264.10 C352.43,266.05 353.58,268.75 354.50,271.50 C355.42,274.25 356.05,276.63 357.10,280.60 C358.15,284.57 359.57,290.72 360.80,295.30 C362.03,299.88 362.97,303.52 364.50,308.10 C366.03,312.68 368.17,318.53 370.00,322.80 C371.83,327.07 373.33,330.58 375.50,333.70 C377.67,336.82 380.48,339.48 383.00,341.50 C385.52,343.52 388.27,344.50 390.60,345.80 C392.93,347.10 394.70,348.25 397.00,349.30 C399.30,350.35 401.73,351.18 404.40,352.10 C407.07,353.02 410.07,354.03 413.00,354.80 C415.93,355.57 417.50,356.23 422.00,356.70 C426.50,357.17 430.92,357.40 440.00,357.60 C449.08,357.80 470.42,357.85 476.50,357.90" fill="none" stroke="#ff1010" stroke-width="1.3" stroke-linejoin="round" stroke-linecap="round" />
<path d="M324.70,333.80 C325.05,331.67 326.10,325.20 326.80,321.00 C327.50,316.80 328.12,313.10 328.90,308.60 C329.68,304.10 330.62,297.75 331.50,294.00 C332.38,290.25 333.52,286.93 334.20,286.10 C334.88,285.27 335.15,287.53 335.60,289.00 C336.05,290.47 336.50,292.98 336.90,294.90 C337.30,296.82 337.68,299.07 338.00,300.50 C338.32,301.93 338.47,304.08 338.80,303.50 C339.13,302.92 339.55,299.95 340.00,297.00 C340.45,294.05 341.00,290.63 341.50,285.80 C342.00,280.97 342.53,272.68 343.00,268.00 C343.47,263.32 343.92,258.70 344.30,257.70 C344.68,256.70 344.98,259.95 345.30,262.00 C345.62,264.05 345.90,266.90 346.20,270.00 C346.50,273.10 346.80,275.93 347.10,280.60 C347.40,285.27 347.70,291.88 348.00,298.00 C348.30,304.12 348.60,311.47 348.90,317.30 C349.20,323.13 349.50,328.55 349.80,333.00 C350.10,337.45 350.40,341.42 350.70,344.00 C351.00,346.58 351.22,347.53 351.60,348.50 C351.98,349.47 352.43,349.63 353.00,349.80 C353.57,349.97 354.25,349.60 355.00,349.50 C355.75,349.40 356.33,348.98 357.50,349.20 C358.67,349.42 360.28,350.32 362.00,350.80 C363.72,351.28 364.80,351.53 367.80,352.10 C370.80,352.67 376.20,353.62 380.00,354.20 C383.80,354.78 386.43,355.22 390.60,355.60 C394.77,355.98 399.77,356.23 405.00,356.50 C410.23,356.77 415.33,357.02 422.00,357.20 C428.67,357.38 439.50,357.58 445.00,357.60 C450.50,357.62 452.50,357.27 455.00,357.30 C457.50,357.33 456.42,357.72 460.00,357.80 C463.58,357.88 473.75,357.80 476.50,357.80" fill="none" stroke="#1010ff" stroke-width="1.3" stroke-linejoin="round" stroke-linecap="round" />
</g>
<line x1="344.90" y1="254.90" x2="343.70" y2="251.50" stroke="#c8a0c8" stroke-width="0.5" />
<line x1="344.40" y1="257.20" x2="358.00" y2="250.00" stroke="#a0b0d0" stroke-width="0.5" stroke-dasharray="1,1"/>
<line x1="385.60" y1="254.90" x2="398.00" y2="250.00" stroke="#e0a0a0" stroke-width="0.5" stroke-dasharray="1,1"/>
<text x="343.8" y="251.2" font-size="6" font-weight="bold" fill="#7458a8" text-anchor="middle" font-family='"Liberation Sans", sans-serif' >363</text>
<text x="360.9" y="251.2" font-size="6" font-weight="bold" fill="#3868a8" text-anchor="middle" font-family='"Liberation Sans", sans-serif' >364</text>
<text x="401.6" y="251.2" font-size="6" font-weight="bold" fill="#a82020" text-anchor="middle" font-family='"Liberation Sans", sans-serif' >438</text>
<line x1="412.30" y1="248.80" x2="422.80" y2="248.80" stroke="#000" stroke-width="1.3" />
<text x="425.1" y="250.9" font-size="5.8" font-weight="bold" font-family='"Liberation Sans", sans-serif'>Target-Perovskite</text>
<line x1="412.30" y1="255.20" x2="422.80" y2="255.20" stroke="#ff1010" stroke-width="1.3" />
<text x="425.1" y="257.3" font-size="5.8" font-weight="bold" font-family='"Liberation Sans", sans-serif'>Sb(SU)<tspan font-size="4" dy="1.2">2</tspan><tspan dy="-1.2">Cl</tspan><tspan font-size="4" dy="1.2">3</tspan></text>
<line x1="412.30" y1="262.80" x2="422.80" y2="262.80" stroke="#1010ff" stroke-width="1.3" />
<text x="425.1" y="264.90000000000003" font-size="5.8" font-weight="bold" font-family='"Liberation Sans", sans-serif'>Control-Perovskite</text>
<line x1="412.30" y1="269.40" x2="417.00" y2="269.40" stroke="#000" stroke-width="1.3" />
<text x="425.1" y="271.5" font-size="5.8" font-weight="bold" font-family='"Liberation Sans", sans-serif'>Target-PbI<tspan font-size="4" dy="1.2">2</tspan></text>
<line x1="412.30" y1="277.10" x2="417.00" y2="277.10" stroke="#ff1010" stroke-width="1.3" />
<text x="425.1" y="279.20000000000005" font-size="5.8" font-weight="bold" font-family='"Liberation Sans", sans-serif'>Control--PbI<tspan font-size="4" dy="1.2">2</tspan></text>
<line x1="326.20" y1="357.90" x2="324.00" y2="357.90" stroke="#000" stroke-width="0.9" />
<text x="323.0" y="360.09999999999997" font-size="6.5" font-weight="bold" fill="#000" text-anchor="end" font-family='"Liberation Sans", sans-serif' >0.0</text>
<line x1="326.20" y1="347.63" x2="324.90" y2="347.63" stroke="#000" stroke-width="0.8" />
<line x1="326.20" y1="337.36" x2="324.00" y2="337.36" stroke="#000" stroke-width="0.9" />
<text x="323.0" y="339.55999999999995" font-size="6.5" font-weight="bold" fill="#000" text-anchor="end" font-family='"Liberation Sans", sans-serif' >0.2</text>
<line x1="326.20" y1="327.09" x2="324.90" y2="327.09" stroke="#000" stroke-width="0.8" />
<line x1="326.20" y1="316.82" x2="324.00" y2="316.82" stroke="#000" stroke-width="0.9" />
<text x="323.0" y="319.02" font-size="6.5" font-weight="bold" fill="#000" text-anchor="end" font-family='"Liberation Sans", sans-serif' >0.4</text>
<line x1="326.20" y1="306.55" x2="324.90" y2="306.55" stroke="#000" stroke-width="0.8" />
<line x1="326.20" y1="296.28" x2="324.00" y2="296.28" stroke="#000" stroke-width="0.9" />
<text x="323.0" y="298.47999999999996" font-size="6.5" font-weight="bold" fill="#000" text-anchor="end" font-family='"Liberation Sans", sans-serif' >0.6</text>
<line x1="326.20" y1="286.01" x2="324.90" y2="286.01" stroke="#000" stroke-width="0.8" />
<line x1="326.20" y1="275.74" x2="324.00" y2="275.74" stroke="#000" stroke-width="0.9" />
<text x="323.0" y="277.93999999999994" font-size="6.5" font-weight="bold" fill="#000" text-anchor="end" font-family='"Liberation Sans", sans-serif' >0.8</text>
<line x1="326.20" y1="265.47" x2="324.90" y2="265.47" stroke="#000" stroke-width="0.8" />
<line x1="326.20" y1="255.20" x2="324.00" y2="255.20" stroke="#000" stroke-width="0.9" />
<text x="323.0" y="257.4" font-size="6.5" font-weight="bold" fill="#000" text-anchor="end" font-family='"Liberation Sans", sans-serif' >1.0</text>
<line x1="337.20" y1="363.20" x2="337.20" y2="365.40" stroke="#000" stroke-width="0.9" />
<text x="337.2" y="371.9" font-size="6.3" font-weight="bold" fill="#000" text-anchor="middle" font-family='"Liberation Sans", sans-serif' >350</text>
<line x1="351.15" y1="363.20" x2="351.15" y2="364.50" stroke="#000" stroke-width="0.8" />
<line x1="365.10" y1="363.20" x2="365.10" y2="365.40" stroke="#000" stroke-width="0.9" />
<text x="365.09999999999997" y="371.9" font-size="6.3" font-weight="bold" fill="#000" text-anchor="middle" font-family='"Liberation Sans", sans-serif' >400</text>
<line x1="379.05" y1="363.20" x2="379.05" y2="364.50" stroke="#000" stroke-width="0.8" />
<line x1="393.00" y1="363.20" x2="393.00" y2="365.40" stroke="#000" stroke-width="0.9" />
<text x="393.0" y="371.9" font-size="6.3" font-weight="bold" fill="#000" text-anchor="middle" font-family='"Liberation Sans", sans-serif' >450</text>
<line x1="406.95" y1="363.20" x2="406.95" y2="364.50" stroke="#000" stroke-width="0.8" />
<line x1="420.90" y1="363.20" x2="420.90" y2="365.40" stroke="#000" stroke-width="0.9" />
<text x="420.9" y="371.9" font-size="6.3" font-weight="bold" fill="#000" text-anchor="middle" font-family='"Liberation Sans", sans-serif' >500</text>
<line x1="434.85" y1="363.20" x2="434.85" y2="364.50" stroke="#000" stroke-width="0.8" />
<line x1="448.80" y1="363.20" x2="448.80" y2="365.40" stroke="#000" stroke-width="0.9" />
<text x="448.8" y="371.9" font-size="6.3" font-weight="bold" fill="#000" text-anchor="middle" font-family='"Liberation Sans", sans-serif' >550</text>
<line x1="462.75" y1="363.20" x2="462.75" y2="364.50" stroke="#000" stroke-width="0.8" />
<line x1="476.70" y1="363.20" x2="476.70" y2="365.40" stroke="#000" stroke-width="0.9" />
<text x="476.7" y="371.9" font-size="6.3" font-weight="bold" fill="#000" text-anchor="middle" font-family='"Liberation Sans", sans-serif' >600</text>
<rect x="326.20" y="244.60" width="150.30" height="118.60" fill="none" stroke="#000" stroke-width="1.5" />
<text x="397" y="380.5" font-size="9.35" font-weight="bold" fill="#000" text-anchor="middle" font-family='"Liberation Sans", sans-serif' >Wavenumber / nm</text>
<text x="310.7" y="312.5" font-size="12" font-weight="bold" fill="#000" text-anchor="middle" font-family='"Liberation Sans", sans-serif' transform="rotate(-90 310.7 312.5)" >Absorption</text>
<text x="297" y="242.9" font-size="13.4" font-family='"Liberation Sans", sans-serif' fill="#000" stroke="#000" stroke-width="0.45">h</text>
<clipPath id="clipj"><rect x="323.9" y="405.6" width="151.3" height="118.69999999999993"/></clipPath>
<g clip-path="url(#clipj)">
<polyline points="323.90,522.98 324.05,522.98 324.20,522.98 324.35,522.98 324.50,522.98 324.65,522.98 324.80,522.98 324.95,522.98 325.10,522.98 325.25,522.98 325.40,522.98 325.55,522.98 325.70,522.98 325.85,522.98 326.00,522.98 326.15,522.98 326.30,522.98 326.45,522.98 326.60,522.98 326.75,522.98 326.90,522.98 327.05,522.98 327.20,522.98 327.35,522.98 327.50,522.98 327.65,522.98 327.80,522.98 327.95,522.98 328.10,522.98 328.25,522.98 328.40,522.98 328.55,522.98 328.70,522.98 328.85,522.98 329.00,522.98 329.15,522.98 329.30,522.98 329.45,522.98 329.60,522.97 329.75,522.97 329.90,522.97 330.05,522.97 330.20,522.97 330.35,522.97 330.50,522.97 330.65,522.97 330.80,522.97 330.95,522.97 331.10,522.97 331.25,522.97 331.40,522.97 331.55,522.97 331.70,522.97 331.85,522.97 332.00,522.97 332.15,522.97 332.30,522.97 332.45,522.97 332.60,522.97 332.75,522.97 332.90,522.97 333.05,522.97 333.20,522.97 333.35,522.97 333.50,522.97 333.65,522.97 333.80,522.97 333.95,522.97 334.10,522.97 334.25,522.97 334.40,522.97 334.55,522.97 334.70,522.97 334.85,522.97 335.00,522.97 335.15,522.96 335.30,522.96 335.45,522.96 335.60,522.96 335.75,522.96 335.90,522.96 336.05,522.96 336.20,522.96 336.35,522.96 336.50,522.96 336.65,522.96 336.80,522.96 336.95,522.96 337.10,522.96 337.25,522.96 337.40,522.96 337.55,522.96 337.70,522.96 337.85,522.96 338.00,522.96 338.15,522.96 338.30,522.96 338.45,522.96 338.60,522.95 338.75,522.95 338.90,522.95 339.05,522.95 339.20,522.95 339.35,522.95 339.50,522.95 339.65,522.95 339.80,522.95 339.95,522.95 340.10,522.95 340.25,522.95 340.40,522.95 340.55,522.95 340.70,522.95 340.85,522.95 341.00,522.94 341.15,522.94 341.30,522.94 341.45,522.94 341.60,522.94 341.75,522.94 341.90,522.94 342.05,522.94 342.20,522.94 342.35,522.94 342.50,522.94 342.65,522.94 342.80,522.93 342.95,522.93 343.10,522.93 343.25,522.93 343.40,522.93 343.55,522.93 343.70,522.93 343.85,522.93 344.00,522.93 344.15,522.92 344.30,522.92 344.45,522.92 344.60,522.92 344.75,522.92 344.90,522.92 345.05,522.92 345.20,522.92 345.35,522.91 345.50,522.91 345.65,522.91 345.80,522.91 345.95,522.91 346.10,522.91 346.25,522.90 346.40,522.90 346.55,522.90 346.70,522.90 346.85,522.90 347.00,522.90 347.15,522.89 347.30,522.89 347.45,522.89 347.60,522.89 347.75,522.88 347.90,522.88 348.05,522.88 348.20,522.88 348.35,522.87 348.50,522.87 348.65,522.87 348.80,522.87 348.95,522.86 349.10,522.86 349.25,522.86 349.40,522.85 349.55,522.85 349.70,522.84 349.85,522.84 350.00,522.84 350.15,522.83 350.30,522.83 350.45,522.82 350.60,522.82 350.75,522.81 350.90,522.81 351.05,522.80 351.20,522.80 351.35,522.79 351.50,522.79 351.65,522.78 351.80,522.77 351.95,522.77 352.10,522.76 352.25,522.75 352.40,522.74 352.55,522.73 352.70,522.73 352.85,522.72 353.00,522.71 353.15,522.70 353.30,522.68 353.45,522.67 353.60,522.66 353.75,522.65 353.90,522.63 354.05,522.62 354.20,522.60 354.35,522.59 354.50,522.57 354.65,522.55 354.80,522.53 354.95,522.51 355.10,522.48 355.25,522.46 355.40,522.43 355.55,522.40 355.70,522.37 355.85,522.34 356.00,522.30 356.15,522.26 356.30,522.22 356.45,522.17 356.60,522.12 356.75,522.06 356.90,522.00 357.05,521.93 357.20,521.86 357.35,521.77 357.50,521.68 357.65,521.58 357.80,521.47 357.95,521.34 358.10,521.20 358.25,521.03 358.40,520.85 358.55,520.65 358.70,520.41 358.85,520.15 359.00,519.85 359.15,519.50 359.30,519.11 359.45,518.66 359.60,518.16 359.75,517.59 359.90,516.96 360.05,516.29 360.20,515.57 360.35,514.85 360.50,514.18 360.65,513.60 360.80,513.19 360.95,512.99 361.10,513.03 361.25,513.30 361.40,513.78 361.55,514.39 361.70,515.09 361.85,515.81 362.00,516.51 362.15,517.17 362.30,517.78 362.45,518.33 362.60,518.81 362.75,519.24 362.90,519.61 363.05,519.94 363.20,520.23 363.35,520.48 363.50,520.71 363.65,520.90 363.80,521.08 363.95,521.23 364.10,521.37 364.25,521.49 364.40,521.60 364.55,521.70 364.70,521.79 364.85,521.87 365.00,521.94 365.15,522.00 365.30,522.06 365.45,522.12 365.60,522.17 365.75,522.21 365.90,522.25 366.05,522.29 366.20,522.33 366.35,522.36 366.50,522.39 366.65,522.41 366.80,522.44 366.95,522.46 367.10,522.49 367.25,522.51 367.40,522.53 367.55,522.54 367.70,522.56 367.85,522.58 368.00,522.59 368.15,522.60 368.30,522.62 368.45,522.63 368.60,522.64 368.75,522.65 368.90,522.66 369.05,522.67 369.20,522.68 369.35,522.69 369.50,522.69 369.65,522.70 369.80,522.71 369.95,522.71 370.10,522.72 370.25,522.73 370.40,522.73 370.55,522.74 370.70,522.74 370.85,522.75 371.00,522.75 371.15,522.75 371.30,522.76 371.45,522.76 371.60,522.76 371.75,522.77 371.90,522.77 372.05,522.77 372.20,522.77 372.35,522.78 372.50,522.78 372.65,522.78 372.80,522.78 372.95,522.78 373.10,522.78 373.25,522.78 373.40,522.78 373.55,522.78 373.70,522.79 373.85,522.79 374.00,522.79 374.15,522.79 374.30,522.79 374.45,522.78 374.60,522.78 374.75,522.78 374.90,522.78 375.05,522.78 375.20,522.78 375.35,522.78 375.50,522.78 375.65,522.77 375.80,522.77 375.95,522.77 376.10,522.77 376.25,522.76 376.40,522.76 376.55,522.76 376.70,522.75 376.85,522.75 377.00,522.75 377.15,522.74 377.30,522.74 377.45,522.73 377.60,522.73 377.75,522.72 377.90,522.71 378.05,522.71 378.20,522.70 378.35,522.69 378.50,522.68 378.65,522.68 378.80,522.67 378.95,522.66 379.10,522.65 379.25,522.63 379.40,522.62 379.55,522.61 379.70,522.59 379.85,522.58 380.00,522.56 380.15,522.54 380.30,522.52 380.45,522.50 380.60,522.48 380.75,522.46 380.90,522.43 381.05,522.40 381.20,522.37 381.35,522.33 381.50,522.29 381.65,522.25 381.80,522.20 381.95,522.15 382.10,522.09 382.25,522.03 382.40,521.96 382.55,521.87 382.70,521.78 382.85,521.68 383.00,521.56 383.15,521.42 383.30,521.26 383.45,521.08 383.60,520.86 383.75,520.62 383.90,520.33 384.05,519.99 384.20,519.60 384.35,519.14 384.50,518.61 384.65,518.02 384.80,517.38 384.95,516.71 385.10,516.07 385.25,515.55 385.40,515.21 385.55,515.11 385.70,515.27 385.85,515.64 386.00,516.14 386.15,516.70 386.30,517.23 386.45,517.71 386.60,518.12 386.75,518.44 386.90,518.67 387.05,518.82 387.20,518.88 387.35,518.87 387.50,518.78 387.65,518.60 387.80,518.34 387.95,517.99 388.10,517.56 388.25,517.06 388.40,516.51 388.55,515.97 388.70,515.51 388.85,515.20 389.00,515.12 389.15,515.30 389.30,515.71 389.45,516.28 389.60,516.94 389.75,517.60 389.90,518.24 390.05,518.81 390.20,519.31 390.35,519.75 390.50,520.12 390.65,520.44 390.80,520.72 390.95,520.95 391.10,521.16 391.25,521.33 391.40,521.48 391.55,521.61 391.70,521.73 391.85,521.83 392.00,521.92 392.15,522.00 392.30,522.07 392.45,522.13 392.60,522.19 392.75,522.24 392.90,522.29 393.05,522.33 393.20,522.37 393.35,522.40 393.50,522.44 393.65,522.46 393.80,522.49 393.95,522.52 394.10,522.54 394.25,522.56 394.40,522.58 394.55,522.60 394.70,522.62 394.85,522.63 395.00,522.65 395.15,522.66 395.30,522.67 395.45,522.69 395.60,522.70 395.75,522.71 395.90,522.72 396.05,522.73 396.20,522.74 396.35,522.75 396.50,522.75 396.65,522.76 396.80,522.77 396.95,522.78 397.10,522.78 397.25,522.79 397.40,522.79 397.55,522.80 397.70,522.81 397.85,522.81 398.00,522.82 398.15,522.82 398.30,522.83 398.45,522.83 398.60,522.83 398.75,522.84 398.90,522.84 399.05,522.85 399.20,522.85 399.35,522.85 399.50,522.86 399.65,522.86 399.80,522.86 399.95,522.86 400.10,522.87 400.25,522.87 400.40,522.87 400.55,522.87 400.70,522.88 400.85,522.88 401.00,522.88 401.15,522.88 401.30,522.89 401.45,522.89 401.60,522.89 401.75,522.89 401.90,522.89 402.05,522.90 402.20,522.90 402.35,522.90 402.50,522.90 402.65,522.90 402.80,522.90 402.95,522.90 403.10,522.91 403.25,522.91 403.40,522.91 403.55,522.91 403.70,522.91 403.85,522.91 404.00,522.91 404.15,522.91 404.30,522.92 404.45,522.92 404.60,522.92 404.75,522.92 404.90,522.92 405.05,522.92 405.20,522.92 405.35,522.92 405.50,522.92 405.65,522.92 405.80,522.93 405.95,522.93 406.10,522.93 406.25,522.93 406.40,522.93 406.55,522.93 406.70,522.93 406.85,522.93 407.00,522.93 407.15,522.93 407.30,522.93 407.45,522.93 407.60,522.93 407.75,522.93 407.90,522.93 408.05,522.93 408.20,522.94 408.35,522.94 408.50,522.94 408.65,522.94 408.80,522.94 408.95,522.94 409.10,522.94 409.25,522.94 409.40,522.94 409.55,522.94 409.70,522.94 409.85,522.94 410.00,522.94 410.15,522.94 410.30,522.94 410.45,522.94 410.60,522.94 410.75,522.94 410.90,522.94 411.05,522.94 411.20,522.94 411.35,522.94 411.50,522.94 411.65,522.94 411.80,522.94 411.95,522.94 412.10,522.94 412.25,522.94 412.40,522.94 412.55,522.94 412.70,522.94 412.85,522.94 413.00,522.94 413.15,522.94 413.30,522.94 413.45,522.94 413.60,522.94 413.75,522.94 413.90,522.94 414.05,522.94 414.20,522.94 414.35,522.94 414.50,522.94 414.65,522.94 414.80,522.94 414.95,522.94 415.10,522.94 415.25,522.94 415.40,522.94 415.55,522.94 415.70,522.94 415.85,522.94 416.00,522.94 416.15,522.94 416.30,522.94 416.45,522.94 416.60,522.94 416.75,522.94 416.90,522.94 417.05,522.94 417.20,522.94 417.35,522.94 417.50,522.94 417.65,522.94 417.80,522.94 417.95,522.94 418.10,522.94 418.25,522.94 418.40,522.94 418.55,522.94 418.70,522.93 418.85,522.93 419.00,522.93 419.15,522.93 419.30,522.93 419.45,522.93 419.60,522.93 419.75,522.93 419.90,522.92 420.05,522.92 420.20,522.92 420.35,522.91 420.50,522.91 420.65,522.91 420.80,522.90 420.95,522.89 421.10,522.88 421.25,522.87 421.40,522.85 421.55,522.82 421.70,522.79 421.85,522.73 422.00,522.64 422.15,522.47 422.30,522.18 422.45,521.73 422.60,521.43 422.75,521.73 422.90,522.18 423.05,522.47 423.20,522.63 423.35,522.72 423.50,522.78 423.65,522.82 423.80,522.84 423.95,522.86 424.10,522.87 424.25,522.88 424.40,522.88 424.55,522.89 424.70,522.89 424.85,522.90 425.00,522.90 425.15,522.90 425.30,522.90 425.45,522.90 425.60,522.90 425.75,522.90 425.90,522.90 426.05,522.90 426.20,522.90 426.35,522.90 426.50,522.90 426.65,522.90 426.80,522.90 426.95,522.90 427.10,522.90 427.25,522.89 427.40,522.89 427.55,522.89 427.70,522.89 427.85,522.89 428.00,522.89 428.15,522.88 428.30,522.88 428.45,522.88 428.60,522.88 428.75,522.88 428.90,522.87 429.05,522.87 429.20,522.87 429.35,522.87 429.50,522.86 429.65,522.86 429.80,522.86 429.95,522.85 430.10,522.85 430.25,522.85 430.40,522.84 430.55,522.84 430.70,522.84 430.85,522.83 431.00,522.83 431.15,522.82 431.30,522.82 431.45,522.81 431.60,522.81 431.75,522.80 431.90,522.79 432.05,522.79 432.20,522.78 432.35,522.77 432.50,522.77 432.65,522.76 432.80,522.75 432.95,522.74 433.10,522.73 433.25,522.72 433.40,522.71 433.55,522.70 433.70,522.69 433.85,522.67 434.00,522.66 434.15,522.65 434.30,522.63 434.45,522.61 434.60,522.59 434.75,522.57 434.90,522.55 435.05,522.53 435.20,522.50 435.35,522.48 435.50,522.45 435.65,522.41 435.80,522.38 435.95,522.34 436.10,522.29 436.25,522.24 436.40,522.19 436.55,522.13 436.70,522.06 436.85,521.98 437.00,521.90 437.15,521.80 437.30,521.69 437.45,521.56 437.60,521.41 437.75,521.23 437.90,521.03 438.05,520.78 438.20,520.49 438.35,520.13 438.50,519.70 438.65,519.15 438.80,518.47 438.95,517.61 439.10,516.48 439.25,515.00 439.40,513.02 439.55,510.38 439.70,506.86 439.85,502.37 440.00,497.24 440.15,492.72 440.30,490.83 440.45,492.70 440.60,497.21 440.75,502.32 440.90,506.79 441.05,510.28 441.20,512.91 441.35,514.86 441.50,516.32 441.65,517.42 441.80,518.26 441.95,518.90 442.10,519.41 442.25,519.80 442.40,520.10 442.55,520.32 442.70,520.48 442.85,520.58 443.00,520.60 443.15,520.54 443.30,520.36 443.45,519.97 443.60,519.21 443.75,517.83 443.90,515.94 444.05,515.43 444.20,516.99 444.35,518.40 444.50,519.02 444.65,519.01 444.80,518.40 444.95,516.94 445.10,514.30 445.25,511.46 445.40,512.08 445.55,514.97 445.70,516.93 445.85,517.69 446.00,517.53 446.15,516.40 446.30,513.90 446.45,509.77 446.60,506.92 446.75,509.56 446.90,513.46 447.05,515.65 447.20,516.33 447.35,515.78 447.50,513.80 447.65,509.72 447.80,503.98 447.95,502.63 448.10,507.89 448.25,512.81 448.40,515.47 448.55,516.52 448.70,516.37 448.85,514.93 449.00,511.82 449.15,508.40 449.30,509.47 449.45,513.51 449.60,516.41 449.75,517.86 449.90,518.34 450.05,518.00 450.20,516.67 450.35,514.23 450.50,512.59 450.65,514.49 450.80,517.22 450.95,518.91 451.10,519.74 451.25,519.99 451.40,519.73 451.55,518.85 451.70,517.49 451.85,517.27 452.00,518.78 452.15,520.21 452.30,521.07 452.45,521.57 452.60,521.88 452.75,522.08 452.90,522.22 453.05,522.33 453.20,522.41 453.35,522.47 453.50,522.52 453.65,522.56 453.80,522.59 453.95,522.62 454.10,522.65 454.25,522.67 454.40,522.69 454.55,522.71 454.70,522.72 454.85,522.73 455.00,522.74 455.15,522.76 455.30,522.76 455.45,522.77 455.60,522.78 455.75,522.79 455.90,522.79 456.05,522.79 456.20,522.80 456.35,522.80 456.50,522.80 456.65,522.80 456.80,522.79 456.95,522.78 457.10,522.77 457.25,522.75 457.40,522.72 457.55,522.66 457.70,522.58 457.85,522.42 458.00,522.13 458.15,521.68 458.30,521.39 458.45,521.69 458.60,522.14 458.75,522.43 458.90,522.60 459.05,522.69 459.20,522.75 459.35,522.79 459.50,522.82 459.65,522.84 459.80,522.85 459.95,522.87 460.10,522.88 460.25,522.88 460.40,522.89 460.55,522.89 460.70,522.90 460.85,522.90 461.00,522.91 461.15,522.91 461.30,522.91 461.45,522.92 461.60,522.92 461.75,522.92 461.90,522.92 462.05,522.93 462.20,522.93 462.35,522.93 462.50,522.93 462.65,522.93 462.80,522.93 462.95,522.93 463.10,522.94 463.25,522.94 463.40,522.94 463.55,522.94 463.70,522.94 463.85,522.94 464.00,522.94 464.15,522.94 464.30,522.95 464.45,522.95 464.60,522.95 464.75,522.95 464.90,522.95 465.05,522.95 465.20,522.95 465.35,522.95 465.50,522.95 465.65,522.95 465.80,522.95 465.95,522.95 466.10,522.95 466.25,522.96 466.40,522.96 466.55,522.96 466.70,522.96 466.85,522.96 467.00,522.96 467.15,522.96 467.30,522.96 467.45,522.96 467.60,522.96 467.75,522.96 467.90,522.96 468.05,522.96 468.20,522.96 468.35,522.96 468.50,522.96 468.65,522.96 468.80,522.96 468.95,522.96 469.10,522.97 469.25,522.97 469.40,522.97 469.55,522.97 469.70,522.97 469.85,522.97 470.00,522.97 470.15,522.97 470.30,522.97 470.45,522.97 470.60,522.97 470.75,522.97 470.90,522.97 471.05,522.97 471.20,522.97 471.35,522.97 471.50,522.97 471.65,522.97 471.80,522.97 471.95,522.97 472.10,522.97 472.25,522.97 472.40,522.97 472.55,522.97 472.70,522.97 472.85,522.97 473.00,522.97 473.15,522.97 473.30,522.97 473.45,522.97 473.60,522.97 473.75,522.97 473.90,522.98 474.05,522.98 474.20,522.98 474.35,522.98 474.50,522.98 474.65,522.98 474.80,522.98 474.95,522.98 475.10,522.98" fill="none" stroke="#a01c1c" stroke-width="1.1" stroke-linejoin="round" stroke-linecap="round" />
<polyline points="323.90,494.44 324.05,494.43 324.20,494.43 324.35,494.43 324.50,494.43 324.65,494.43 324.80,494.43 324.95,494.42 325.10,494.42 325.25,494.42 325.40,494.42 325.55,494.42 325.70,494.41 325.85,494.41 326.00,494.41 326.15,494.41 326.30,494.41 326.45,494.40 326.60,494.40 326.75,494.40 326.90,494.40 327.05,494.39 327.20,494.39 327.35,494.39 327.50,494.39 327.65,494.38 327.80,494.38 327.95,494.38 328.10,494.38 328.25,494.37 328.40,494.37 328.55,494.37 328.70,494.36 328.85,494.36 329.00,494.36 329.15,494.36 329.30,494.35 329.45,494.35 329.60,494.35 329.75,494.34 329.90,494.34 330.05,494.34 330.20,494.33 330.35,494.33 330.50,494.32 330.65,494.32 330.80,494.32 330.95,494.31 331.10,494.31 331.25,494.31 331.40,494.30 331.55,494.30 331.70,494.29 331.85,494.29 332.00,494.28 332.15,494.28 332.30,494.27 332.45,494.27 332.60,494.27 332.75,494.26 332.90,494.26 333.05,494.25 333.20,494.25 333.35,494.24 333.50,494.24 333.65,494.23 333.80,494.22 333.95,494.22 334.10,494.21 334.25,494.21 334.40,494.20 334.55,494.20 334.70,494.19 334.85,494.18 335.00,494.18 335.15,494.17 335.30,494.17 335.45,494.16 335.60,494.15 335.75,494.15 335.90,494.14 336.05,494.13 336.20,494.13 336.35,494.12 336.50,494.11 336.65,494.11 336.80,494.10 336.95,494.09 337.10,494.08 337.25,494.08 337.40,494.07 337.55,494.06 337.70,494.05 337.85,494.04 338.00,494.04 338.15,494.03 338.30,494.02 338.45,494.01 338.60,494.00 338.75,493.99 338.90,493.99 339.05,493.98 339.20,493.97 339.35,493.96 339.50,493.95 339.65,493.94 339.80,493.93 339.95,493.92 340.10,493.91 340.25,493.90 340.40,493.89 340.55,493.88 340.70,493.87 340.85,493.86 341.00,493.85 341.15,493.84 341.30,493.83 341.45,493.82 341.60,493.81 341.75,493.80 341.90,493.79 342.05,493.78 342.20,493.77 342.35,493.75 342.50,493.74 342.65,493.73 342.80,493.72 342.95,493.71 343.10,493.70 343.25,493.68 343.40,493.67 343.55,493.66 343.70,493.65 343.85,493.63 344.00,493.62 344.15,493.61 344.30,493.60 344.45,493.58 344.60,493.57 344.75,493.56 344.90,493.54 345.05,493.53 345.20,493.52 345.35,493.50 345.50,493.49 345.65,493.47 345.80,493.46 345.95,493.45 346.10,493.43 346.25,493.42 346.40,493.40 346.55,493.39 346.70,493.37 346.85,493.36 347.00,493.34 347.15,493.33 347.30,493.31 347.45,493.30 347.60,493.28 347.75,493.27 347.90,493.25 348.05,493.24 348.20,493.22 348.35,493.20 348.50,493.19 348.65,493.17 348.80,493.16 348.95,493.14 349.10,493.12 349.25,493.11 349.40,493.09 349.55,493.07 349.70,493.06 349.85,493.04 350.00,493.02 350.15,493.01 350.30,492.99 350.45,492.97 350.60,492.96 350.75,492.94 350.90,492.92 351.05,492.90 351.20,492.89 351.35,492.87 351.50,492.85 351.65,492.84 351.80,492.82 351.95,492.80 352.10,492.78 352.25,492.76 352.40,492.75 352.55,492.73 352.70,492.71 352.85,492.69 353.00,492.68 353.15,492.66 353.30,492.64 353.45,492.62 353.60,492.60 353.75,492.58 353.90,492.57 354.05,492.55 354.20,492.53 354.35,492.51 354.50,492.49 354.65,492.48 354.80,492.46 354.95,492.44 355.10,492.42 355.25,492.40 355.40,492.38 355.55,492.37 355.70,492.35 355.85,492.33 356.00,492.31 356.15,492.29 356.30,492.28 356.45,492.26 356.60,492.24 356.75,492.22 356.90,492.20 357.05,492.19 357.20,492.17 357.35,492.15 357.50,492.13 357.65,492.11 357.80,492.10 357.95,492.08 358.10,492.06 358.25,492.04 358.40,492.03 358.55,492.01 358.70,491.99 358.85,491.97 359.00,491.96 359.15,491.94 359.30,491.92 359.45,491.91 359.60,491.89 359.75,491.87 359.90,491.86 360.05,491.84 360.20,491.82 360.35,491.81 360.50,491.79 360.65,491.77 360.80,491.76 360.95,491.74 361.10,491.73 361.25,491.71 361.40,491.70 361.55,491.68 361.70,491.67 361.85,491.65 362.00,491.63 362.15,491.62 362.30,491.61 362.45,491.59 362.60,491.58 362.75,491.56 362.90,491.55 363.05,491.53 363.20,491.52 363.35,491.51 363.50,491.49 363.65,491.48 363.80,491.47 363.95,491.46 364.10,491.44 364.25,491.43 364.40,491.42 364.55,491.41 364.70,491.39 364.85,491.38 365.00,491.37 365.15,491.36 365.30,491.35 365.45,491.34 365.60,491.33 365.75,491.32 365.90,491.31 366.05,491.30 366.20,491.29 366.35,491.28 366.50,491.27 366.65,491.26 366.80,491.25 366.95,491.24 367.10,491.23 367.25,491.22 367.40,491.22 367.55,491.21 367.70,491.20 367.85,491.19 368.00,491.19 368.15,491.18 368.30,491.17 368.45,491.17 368.60,491.16 368.75,491.16 368.90,491.15 369.05,491.14 369.20,491.14 369.35,491.13 369.50,491.13 369.65,491.13 369.80,491.12 369.95,491.12 370.10,491.11 370.25,491.11 370.40,491.11 370.55,491.11 370.70,491.10 370.85,491.10 371.00,491.10 371.15,491.10 371.30,491.10 371.45,491.10 371.60,491.09 371.75,491.09 371.90,491.09 372.05,491.09 372.20,491.09 372.35,491.09 372.50,491.09 372.65,491.10 372.80,491.10 372.95,491.10 373.10,491.10 373.25,491.10 373.40,491.10 373.55,491.11 373.70,491.11 373.85,491.11 374.00,491.12 374.15,491.12 374.30,491.12 374.45,491.13 374.60,491.13 374.75,491.14 374.90,491.14 375.05,491.15 375.20,491.15 375.35,491.16 375.50,491.16 375.65,491.17 375.80,491.18 375.95,491.18 376.10,491.19 376.25,491.20 376.40,491.20 376.55,491.21 376.70,491.22 376.85,491.23 377.00,491.24 377.15,491.24 377.30,491.25 377.45,491.26 377.60,491.27 377.75,491.28 377.90,491.29 378.05,491.30 378.20,491.31 378.35,491.32 378.50,491.33 378.65,491.34 378.80,491.35 378.95,491.36 379.10,491.38 379.25,491.39 379.40,491.40 379.55,491.41 379.70,491.42 379.85,491.44 380.00,491.45 380.15,491.46 380.30,491.47 380.45,491.49 380.60,491.50 380.75,491.51 380.90,491.53 381.05,491.54 381.20,491.55 381.35,491.57 381.50,491.58 381.65,491.60 381.80,491.61 381.95,491.63 382.10,491.64 382.25,491.66 382.40,491.67 382.55,491.69 382.70,491.70 382.85,491.72 383.00,491.73 383.15,491.75 383.30,491.76 383.45,491.78 383.60,491.80 383.75,491.81 383.90,491.83 384.05,491.85 384.20,491.86 384.35,491.88 384.50,491.90 384.65,491.91 384.80,491.93 384.95,491.95 385.10,491.96 385.25,491.98 385.40,492.00 385.55,492.01 385.70,492.03 385.85,492.05 386.00,492.07 386.15,492.08 386.30,492.10 386.45,492.12 386.60,492.14 386.75,492.16 386.90,492.17 387.05,492.19 387.20,492.21 387.35,492.23 387.50,492.25 387.65,492.26 387.80,492.28 387.95,492.30 388.10,492.32 388.25,492.34 388.40,492.35 388.55,492.37 388.70,492.39 388.85,492.41 389.00,492.43 389.15,492.44 389.30,492.46 389.45,492.48 389.60,492.50 389.75,492.52 389.90,492.53 390.05,492.55 390.20,492.57 390.35,492.59 390.50,492.61 390.65,492.62 390.80,492.64 390.95,492.66 391.10,492.68 391.25,492.70 391.40,492.71 391.55,492.73 391.70,492.75 391.85,492.77 392.00,492.78 392.15,492.80 392.30,492.82 392.45,492.84 392.60,492.85 392.75,492.87 392.90,492.89 393.05,492.91 393.20,492.92 393.35,492.94 393.50,492.96 393.65,492.97 393.80,492.99 393.95,493.01 394.10,493.02 394.25,493.04 394.40,493.06 394.55,493.07 394.70,493.09 394.85,493.11 395.00,493.12 395.15,493.14 395.30,493.16 395.45,493.17 395.60,493.19 395.75,493.20 395.90,493.22 396.05,493.23 396.20,493.25 396.35,493.26 396.50,493.28 396.65,493.30 396.80,493.31 396.95,493.33 397.10,493.34 397.25,493.35 397.40,493.37 397.55,493.38 397.70,493.40 397.85,493.41 398.00,493.43 398.15,493.44 398.30,493.45 398.45,493.47 398.60,493.48 398.75,493.50 398.90,493.51 399.05,493.52 399.20,493.54 399.35,493.55 399.50,493.56 399.65,493.58 399.80,493.59 399.95,493.60 400.10,493.61 400.25,493.63 400.40,493.64 400.55,493.65 400.70,493.66 400.85,493.67 401.00,493.69 401.15,493.70 401.30,493.71 401.45,493.72 401.60,493.73 401.75,493.74 401.90,493.75 402.05,493.77 402.20,493.78 402.35,493.79 402.50,493.80 402.65,493.81 402.80,493.82 402.95,493.83 403.10,493.84 403.25,493.85 403.40,493.86 403.55,493.87 403.70,493.88 403.85,493.89 404.00,493.90 404.15,493.91 404.30,493.92 404.45,493.93 404.60,493.93 404.75,493.94 404.90,493.95 405.05,493.96 405.20,493.97 405.35,493.98 405.50,493.99 405.65,493.99 405.80,494.00 405.95,494.01 406.10,494.02 406.25,494.03 406.40,494.03 406.55,494.04 406.70,494.05 406.85,494.06 407.00,494.06 407.15,494.07 407.30,494.08 407.45,494.08 407.60,494.09 407.75,494.10 407.90,494.10 408.05,494.11 408.20,494.12 408.35,494.12 408.50,494.13 408.65,494.14 408.80,494.14 408.95,494.15 409.10,494.15 409.25,494.16 409.40,494.17 409.55,494.17 409.70,494.18 409.85,494.18 410.00,494.19 410.15,494.19 410.30,494.20 410.45,494.20 410.60,494.21 410.75,494.21 410.90,494.22 411.05,494.22 411.20,494.23 411.35,494.23 411.50,494.23 411.65,494.24 411.80,494.24 411.95,494.25 412.10,494.25 412.25,494.25 412.40,494.26 412.55,494.26 412.70,494.27 412.85,494.27 413.00,494.27 413.15,494.28 413.30,494.28 413.45,494.28 413.60,494.29 413.75,494.29 413.90,494.29 414.05,494.29 414.20,494.30 414.35,494.30 414.50,494.30 414.65,494.31 414.80,494.31 414.95,494.31 415.10,494.31 415.25,494.32 415.40,494.32 415.55,494.32 415.70,494.32 415.85,494.32 416.00,494.33 416.15,494.33 416.30,494.33 416.45,494.33 416.60,494.33 416.75,494.34 416.90,494.34 417.05,494.34 417.20,494.34 417.35,494.34 417.50,494.34 417.65,494.34 417.80,494.34 417.95,494.35 418.10,494.35 418.25,494.35 418.40,494.35 418.55,494.35 418.70,494.35 418.85,494.35 419.00,494.35 419.15,494.35 419.30,494.35 419.45,494.35 419.60,494.35 419.75,494.35 419.90,494.35 420.05,494.34 420.20,494.34 420.35,494.34 420.50,494.34 420.65,494.33 420.80,494.33 420.95,494.32 421.10,494.31 421.25,494.30 421.40,494.28 421.55,494.25 421.70,494.22 421.85,494.16 422.00,494.07 422.15,493.90 422.30,493.62 422.45,493.17 422.60,492.87 422.75,493.16 422.90,493.61 423.05,493.90 423.20,494.06 423.35,494.15 423.50,494.21 423.65,494.25 423.80,494.27 423.95,494.29 424.10,494.30 424.25,494.31 424.40,494.31 424.55,494.32 424.70,494.32 424.85,494.32 425.00,494.32 425.15,494.33 425.30,494.33 425.45,494.33 425.60,494.33 425.75,494.32 425.90,494.32 426.05,494.32 426.20,494.32 426.35,494.32 426.50,494.32 426.65,494.32 426.80,494.31 426.95,494.31 427.10,494.31 427.25,494.30 427.40,494.30 427.55,494.30 427.70,494.30 427.85,494.29 428.00,494.29 428.15,494.28 428.30,494.28 428.45,494.27 428.60,494.27 428.75,494.27 428.90,494.26 429.05,494.25 429.20,494.25 429.35,494.24 429.50,494.24 429.65,494.23 429.80,494.22 429.95,494.22 430.10,494.21 430.25,494.20 430.40,494.19 430.55,494.18 430.70,494.17 430.85,494.16 431.00,494.15 431.15,494.14 431.30,494.13 431.45,494.12 431.60,494.11 431.75,494.09 431.90,494.08 432.05,494.07 432.20,494.05 432.35,494.03 432.50,494.02 432.65,494.00 432.80,493.98 432.95,493.96 433.10,493.93 433.25,493.91 433.40,493.88 433.55,493.86 433.70,493.83 433.85,493.80 434.00,493.76 434.15,493.72 434.30,493.69 434.45,493.64 434.60,493.60 434.75,493.55 434.90,493.49 435.05,493.43 435.20,493.37 435.35,493.29 435.50,493.21 435.65,493.13 435.80,493.03 435.95,492.92 436.10,492.80 436.25,492.67 436.40,492.52 436.55,492.35 436.70,492.15 436.85,491.93 437.00,491.67 437.15,491.38 437.30,491.03 437.45,490.62 437.60,490.13 437.75,489.54 437.90,488.83 438.05,487.95 438.20,486.84 438.35,485.43 438.50,483.60 438.65,481.14 438.80,477.76 438.95,472.94 439.10,465.74 439.25,454.39 439.40,435.22 439.55,400.60 439.70,400.60 439.85,400.60 440.00,400.60 440.15,400.60 440.30,400.60 440.45,400.60 440.60,435.18 440.75,454.34 440.90,465.68 441.05,472.87 441.20,477.68 441.35,481.05 441.50,483.49 441.65,485.32 441.80,486.71 441.95,487.80 442.10,488.67 442.25,489.37 442.40,489.94 442.55,490.41 442.70,490.80 442.85,491.12 443.00,491.40 443.15,491.63 443.30,491.82 443.45,491.99 443.60,492.13 443.75,492.24 443.90,492.34 444.05,492.41 444.20,492.47 444.35,492.51 444.50,492.53 444.65,492.53 444.80,492.52 444.95,492.48 445.10,492.42 445.25,492.34 445.40,492.22 445.55,492.07 445.70,491.87 445.85,491.61 446.00,491.28 446.15,490.84 446.30,490.27 446.45,489.51 446.60,488.50 446.75,487.13 446.90,485.29 447.05,482.86 447.20,479.82 447.35,476.57 447.50,474.11 447.65,473.71 447.80,475.64 447.95,478.81 448.10,482.02 448.25,484.70 448.40,486.76 448.55,488.31 448.70,489.47 448.85,490.34 449.00,491.01 449.15,491.53 449.30,491.94 449.45,492.27 449.60,492.53 449.75,492.75 449.90,492.94 450.05,493.09 450.20,493.22 450.35,493.33 450.50,493.43 450.65,493.51 450.80,493.59 450.95,493.65 451.10,493.71 451.25,493.76 451.40,493.81 451.55,493.85 451.70,493.88 451.85,493.92 452.00,493.95 452.15,493.98 452.30,494.00 452.45,494.03 452.60,494.05 452.75,494.07 452.90,494.09 453.05,494.10 453.20,494.12 453.35,494.13 453.50,494.15 453.65,494.16 453.80,494.17 453.95,494.18 454.10,494.19 454.25,494.20 454.40,494.21 454.55,494.22 454.70,494.23 454.85,494.24 455.00,494.24 455.15,494.25 455.30,494.25 455.45,494.26 455.60,494.26 455.75,494.27 455.90,494.27 456.05,494.27 456.20,494.28 456.35,494.28 456.50,494.27 456.65,494.27 456.80,494.27 456.95,494.26 457.10,494.24 457.25,494.22 457.40,494.19 457.55,494.14 457.70,494.05 457.85,493.89 458.00,493.60 458.15,493.16 458.30,492.86 458.45,493.16 458.60,493.62 458.75,493.91 458.90,494.07 459.05,494.17 459.20,494.23 459.35,494.27 459.50,494.29 459.65,494.31 459.80,494.33 459.95,494.34 460.10,494.35 460.25,494.36 460.40,494.36 460.55,494.37 460.70,494.38 460.85,494.38 461.00,494.38 461.15,494.39 461.30,494.39 461.45,494.39 461.60,494.40 461.75,494.40 461.90,494.40 462.05,494.40 462.20,494.41 462.35,494.41 462.50,494.41 462.65,494.41 462.80,494.41 462.95,494.41 463.10,494.42 463.25,494.42 463.40,494.42 463.55,494.42 463.70,494.42 463.85,494.42 464.00,494.42 464.15,494.43 464.30,494.43 464.45,494.43 464.60,494.43 464.75,494.43 464.90,494.43 465.05,494.43 465.20,494.43 465.35,494.43 465.50,494.44 465.65,494.44 465.80,494.44 465.95,494.44 466.10,494.44 466.25,494.44 466.40,494.44 466.55,494.44 466.70,494.44 466.85,494.44 467.00,494.44 467.15,494.45 467.30,494.45 467.45,494.45 467.60,494.45 467.75,494.45 467.90,494.45 468.05,494.45 468.20,494.45 468.35,494.45 468.50,494.45 468.65,494.45 468.80,494.45 468.95,494.45 469.10,494.45 469.25,494.45 469.40,494.45 469.55,494.45 469.70,494.46 469.85,494.46 470.00,494.46 470.15,494.46 470.30,494.46 470.45,494.46 470.60,494.46 470.75,494.46 470.90,494.46 471.05,494.46 471.20,494.46 471.35,494.46 471.50,494.46 471.65,494.46 471.80,494.46 471.95,494.46 472.10,494.46 472.25,494.46 472.40,494.46 472.55,494.46 472.70,494.46 472.85,494.46 473.00,494.46 473.15,494.47 473.30,494.47 473.45,494.47 473.60,494.47 473.75,494.47 473.90,494.47 474.05,494.47 474.20,494.47 474.35,494.47 474.50,494.47 474.65,494.47 474.80,494.47 474.95,494.47 475.10,494.47" fill="none" stroke="#2f5f8f" stroke-width="1.1" stroke-linejoin="round" stroke-linecap="round" />
<polyline points="323.90,465.98 324.05,465.98 324.20,465.97 324.35,465.97 324.50,465.97 324.65,465.97 324.80,465.97 324.95,465.97 325.10,465.97 325.25,465.97 325.40,465.97 325.55,465.97 325.70,465.97 325.85,465.97 326.00,465.97 326.15,465.97 326.30,465.97 326.45,465.97 326.60,465.97 326.75,465.97 326.90,465.97 327.05,465.97 327.20,465.97 327.35,465.97 327.50,465.97 327.65,465.97 327.80,465.97 327.95,465.97 328.10,465.97 328.25,465.97 328.40,465.97 328.55,465.97 328.70,465.97 328.85,465.97 329.00,465.97 329.15,465.97 329.30,465.97 329.45,465.97 329.60,465.97 329.75,465.97 329.90,465.97 330.05,465.97 330.20,465.97 330.35,465.97 330.50,465.96 330.65,465.96 330.80,465.96 330.95,465.96 331.10,465.96 331.25,465.96 331.40,465.96 331.55,465.96 331.70,465.96 331.85,465.96 332.00,465.96 332.15,465.96 332.30,465.96 332.45,465.96 332.60,465.96 332.75,465.96 332.90,465.96 333.05,465.96 333.20,465.96 333.35,465.96 333.50,465.96 333.65,465.96 333.80,465.96 333.95,465.96 334.10,465.96 334.25,465.96 334.40,465.96 334.55,465.95 334.70,465.95 334.85,465.95 335.00,465.95 335.15,465.95 335.30,465.95 335.45,465.95 335.60,465.95 335.75,465.95 335.90,465.95 336.05,465.95 336.20,465.95 336.35,465.95 336.50,465.95 336.65,465.95 336.80,465.95 336.95,465.95 337.10,465.95 337.25,465.95 337.40,465.94 337.55,465.94 337.70,465.94 337.85,465.94 338.00,465.94 338.15,465.94 338.30,465.94 338.45,465.94 338.60,465.94 338.75,465.94 338.90,465.94 339.05,465.94 339.20,465.94 339.35,465.93 339.50,465.93 339.65,465.93 339.80,465.93 339.95,465.93 340.10,465.93 340.25,465.93 340.40,465.93 340.55,465.93 340.70,465.93 340.85,465.93 341.00,465.92 341.15,465.92 341.30,465.92 341.45,465.92 341.60,465.92 341.75,465.92 341.90,465.92 342.05,465.92 342.20,465.92 342.35,465.91 342.50,465.91 342.65,465.91 342.80,465.91 342.95,465.91 343.10,465.91 343.25,465.91 343.40,465.91 343.55,465.90 343.70,465.90 343.85,465.90 344.00,465.90 344.15,465.90 344.30,465.90 344.45,465.89 344.60,465.89 344.75,465.89 344.90,465.89 345.05,465.89 345.20,465.88 345.35,465.88 345.50,465.88 345.65,465.88 345.80,465.88 345.95,465.87 346.10,465.87 346.25,465.87 346.40,465.87 346.55,465.86 346.70,465.86 346.85,465.86 347.00,465.86 347.15,465.85 347.30,465.85 347.45,465.85 347.60,465.84 347.75,465.84 347.90,465.84 348.05,465.83 348.20,465.83 348.35,465.83 348.50,465.82 348.65,465.82 348.80,465.81 348.95,465.81 349.10,465.80 349.25,465.80 349.40,465.80 349.55,465.79 349.70,465.78 349.85,465.78 350.00,465.77 350.15,465.77 350.30,465.76 350.45,465.76 350.60,465.75 350.75,465.74 350.90,465.73 351.05,465.73 351.20,465.72 351.35,465.71 351.50,465.70 351.65,465.69 351.80,465.68 351.95,465.67 352.10,465.66 352.25,465.65 352.40,465.64 352.55,465.63 352.70,465.62 352.85,465.60 353.00,465.59 353.15,465.57 353.30,465.56 353.45,465.54 353.60,465.52 353.75,465.51 353.90,465.49 354.05,465.47 354.20,465.44 354.35,465.42 354.50,465.39 354.65,465.37 354.80,465.34 354.95,465.31 355.10,465.28 355.25,465.24 355.40,465.20 355.55,465.16 355.70,465.12 355.85,465.07 356.00,465.02 356.15,464.96 356.30,464.90 356.45,464.83 356.60,464.76 356.75,464.68 356.90,464.60 357.05,464.50 357.20,464.39 357.35,464.28 357.50,464.15 357.65,464.00 357.80,463.84 357.95,463.66 358.10,463.46 358.25,463.23 358.40,462.98 358.55,462.69 358.70,462.36 358.85,461.98 359.00,461.56 359.15,461.07 359.30,460.52 359.45,459.89 359.60,459.18 359.75,458.38 359.90,457.49 360.05,456.54 360.20,455.53 360.35,454.52 360.50,453.57 360.65,452.75 360.80,452.17 360.95,451.88 361.10,451.94 361.25,452.33 361.40,453.00 361.55,453.87 361.70,454.85 361.85,455.87 362.00,456.86 362.15,457.79 362.30,458.65 362.45,459.41 362.60,460.10 362.75,460.70 362.90,461.23 363.05,461.69 363.20,462.10 363.35,462.46 363.50,462.77 363.65,463.05 363.80,463.30 363.95,463.51 364.10,463.71 364.25,463.88 364.40,464.03 364.55,464.17 364.70,464.30 364.85,464.41 365.00,464.51 365.15,464.60 365.30,464.69 365.45,464.76 365.60,464.83 365.75,464.89 365.90,464.95 366.05,465.01 366.20,465.06 366.35,465.10 366.50,465.14 366.65,465.18 366.80,465.22 366.95,465.25 367.10,465.28 367.25,465.31 367.40,465.34 367.55,465.36 367.70,465.39 367.85,465.41 368.00,465.43 368.15,465.45 368.30,465.47 368.45,465.48 368.60,465.50 368.75,465.51 368.90,465.53 369.05,465.54 369.20,465.55 369.35,465.56 369.50,465.58 369.65,465.59 369.80,465.60 369.95,465.60 370.10,465.61 370.25,465.62 370.40,465.63 370.55,465.64 370.70,465.64 370.85,465.65 371.00,465.65 371.15,465.66 371.30,465.66 371.45,465.67 371.60,465.67 371.75,465.68 371.90,465.68 372.05,465.69 372.20,465.69 372.35,465.69 372.50,465.69 372.65,465.70 372.80,465.70 372.95,465.70 373.10,465.70 373.25,465.70 373.40,465.70 373.55,465.70 373.70,465.70 373.85,465.70 374.00,465.70 374.15,465.70 374.30,465.70 374.45,465.70 374.60,465.70 374.75,465.70 374.90,465.70 375.05,465.70 375.20,465.70 375.35,465.69 375.50,465.69 375.65,465.69 375.80,465.68 375.95,465.68 376.10,465.68 376.25,465.67 376.40,465.67 376.55,465.66 376.70,465.66 376.85,465.65 377.00,465.64 377.15,465.64 377.30,465.63 377.45,465.62 377.60,465.61 377.75,465.60 377.90,465.59 378.05,465.58 378.20,465.57 378.35,465.56 378.50,465.54 378.65,465.53 378.80,465.51 378.95,465.50 379.10,465.48 379.25,465.46 379.40,465.44 379.55,465.41 379.70,465.39 379.85,465.36 380.00,465.33 380.15,465.30 380.30,465.27 380.45,465.23 380.60,465.19 380.75,465.14 380.90,465.09 381.05,465.03 381.20,464.97 381.35,464.90 381.50,464.83 381.65,464.74 381.80,464.64 381.95,464.53 382.10,464.41 382.25,464.27 382.40,464.11 382.55,463.92 382.70,463.70 382.85,463.45 383.00,463.16 383.15,462.82 383.30,462.43 383.45,461.96 383.60,461.42 383.75,460.80 383.90,460.09 384.05,459.31 384.20,458.48 384.35,457.68 384.50,456.97 384.65,456.47 384.80,456.26 384.95,456.37 385.10,456.77 385.25,457.37 385.40,458.07 385.55,458.78 385.70,459.43 385.85,460.01 386.00,460.48 386.15,460.86 386.30,461.14 386.45,461.32 386.60,461.42 386.75,461.44 386.90,461.37 387.05,461.21 387.20,460.96 387.35,460.62 387.50,460.18 387.65,459.64 387.80,459.01 387.95,458.31 388.10,457.60 388.25,456.96 388.40,456.48 388.55,456.27 388.70,456.37 388.85,456.79 389.00,457.44 389.15,458.22 389.30,459.05 389.45,459.85 389.60,460.59 389.75,461.24 389.90,461.81 390.05,462.30 390.20,462.72 390.35,463.08 390.50,463.39 390.65,463.65 390.80,463.88 390.95,464.07 391.10,464.24 391.25,464.39 391.40,464.52 391.55,464.64 391.70,464.74 391.85,464.83 392.00,464.91 392.15,464.99 392.30,465.05 392.45,465.11 392.60,465.16 392.75,465.21 392.90,465.26 393.05,465.30 393.20,465.33 393.35,465.37 393.50,465.40 393.65,465.43 393.80,465.46 393.95,465.48 394.10,465.50 394.25,465.53 394.40,465.55 394.55,465.56 394.70,465.58 394.85,465.60 395.00,465.61 395.15,465.63 395.30,465.64 395.45,465.65 395.60,465.67 395.75,465.68 395.90,465.69 396.05,465.70 396.20,465.71 396.35,465.72 396.50,465.73 396.65,465.73 396.80,465.74 396.95,465.75 397.10,465.76 397.25,465.76 397.40,465.77 397.55,465.78 397.70,465.78 397.85,465.79 398.00,465.79 398.15,465.80 398.30,465.80 398.45,465.81 398.60,465.81 398.75,465.82 398.90,465.82 399.05,465.83 399.20,465.83 399.35,465.83 399.50,465.84 399.65,465.84 399.80,465.85 399.95,465.85 400.10,465.85 400.25,465.85 400.40,465.86 400.55,465.86 400.70,465.86 400.85,465.87 401.00,465.87 401.15,465.87 401.30,465.87 401.45,465.88 401.60,465.88 401.75,465.88 401.90,465.88 402.05,465.88 402.20,465.89 402.35,465.89 402.50,465.89 402.65,465.89 402.80,465.89 402.95,465.90 403.10,465.90 403.25,465.90 403.40,465.90 403.55,465.90 403.70,465.90 403.85,465.91 404.00,465.91 404.15,465.91 404.30,465.91 404.45,465.91 404.60,465.91 404.75,465.91 404.90,465.91 405.05,465.92 405.20,465.92 405.35,465.92 405.50,465.92 405.65,465.92 405.80,465.92 405.95,465.92 406.10,465.92 406.25,465.92 406.40,465.93 406.55,465.93 406.70,465.93 406.85,465.93 407.00,465.93 407.15,465.93 407.30,465.93 407.45,465.93 407.60,465.93 407.75,465.93 407.90,465.93 408.05,465.93 408.20,465.94 408.35,465.94 408.50,465.94 408.65,465.94 408.80,465.94 408.95,465.94 409.10,465.94 409.25,465.94 409.40,465.94 409.55,465.94 409.70,465.94 409.85,465.94 410.00,465.94 410.15,465.94 410.30,465.94 410.45,465.94 410.60,465.95 410.75,465.95 410.90,465.95 411.05,465.95 411.20,465.95 411.35,465.95 411.50,465.95 411.65,465.95 411.80,465.95 411.95,465.95 412.10,465.95 412.25,465.95 412.40,465.95 412.55,465.95 412.70,465.95 412.85,465.95 413.00,465.95 413.15,465.95 413.30,465.95 413.45,465.95 413.60,465.95 413.75,465.95 413.90,465.95 414.05,465.95 414.20,465.95 414.35,465.96 414.50,465.96 414.65,465.96 414.80,465.96 414.95,465.96 415.10,465.96 415.25,465.96 415.40,465.96 415.55,465.96 415.70,465.96 415.85,465.96 416.00,465.96 416.15,465.96 416.30,465.96 416.45,465.96 416.60,465.96 416.75,465.96 416.90,465.96 417.05,465.96 417.20,465.96 417.35,465.96 417.50,465.96 417.65,465.96 417.80,465.96 417.95,465.96 418.10,465.96 418.25,465.96 418.40,465.96 418.55,465.96 418.70,465.96 418.85,465.96 419.00,465.96 419.15,465.96 419.30,465.96 419.45,465.96 419.60,465.96 419.75,465.96 419.90,465.96 420.05,465.96 420.20,465.96 420.35,465.96 420.50,465.96 420.65,465.96 420.80,465.96 420.95,465.96 421.10,465.96 421.25,465.96 421.40,465.96 421.55,465.96 421.70,465.96 421.85,465.96 422.00,465.96 422.15,465.96 422.30,465.96 422.45,465.96 422.60,465.96 422.75,465.96 422.90,465.96 423.05,465.96 423.20,465.96 423.35,465.96 423.50,465.96 423.65,465.96 423.80,465.96 423.95,465.96 424.10,465.96 424.25,465.96 424.40,465.96 424.55,465.96 424.70,465.96 424.85,465.96 425.00,465.96 425.15,465.96 425.30,465.96 425.45,465.96 425.60,465.96 425.75,465.96 425.90,465.96 426.05,465.96 426.20,465.96 426.35,465.96 426.50,465.96 426.65,465.96 426.80,465.96 426.95,465.96 427.10,465.96 427.25,465.96 427.40,465.96 427.55,465.96 427.70,465.96 427.85,465.96 428.00,465.96 428.15,465.96 428.30,465.96 428.45,465.96 428.60,465.96 428.75,465.96 428.90,465.96 429.05,465.96 429.20,465.96 429.35,465.96 429.50,465.96 429.65,465.96 429.80,465.96 429.95,465.96 430.10,465.96 430.25,465.96 430.40,465.96 430.55,465.96 430.70,465.95 430.85,465.95 431.00,465.95 431.15,465.95 431.30,465.95 431.45,465.95 431.60,465.95 431.75,465.95 431.90,465.95 432.05,465.95 432.20,465.95 432.35,465.95 432.50,465.95 432.65,465.95 432.80,465.95 432.95,465.95 433.10,465.95 433.25,465.94 433.40,465.94 433.55,465.94 433.70,465.94 433.85,465.94 434.00,465.94 434.15,465.94 434.30,465.94 434.45,465.94 434.60,465.94 434.75,465.93 434.90,465.93 435.05,465.93 435.20,465.93 435.35,465.93 435.50,465.93 435.65,465.93 435.80,465.92 435.95,465.92 436.10,465.92 436.25,465.92 436.40,465.92 436.55,465.92 436.70,465.91 436.85,465.91 437.00,465.91 437.15,465.91 437.30,465.90 437.45,465.90 437.60,465.90 437.75,465.89 437.90,465.89 438.05,465.89 438.20,465.88 438.35,465.88 438.50,465.88 438.65,465.87 438.80,465.87 438.95,465.86 439.10,465.85 439.25,465.85 439.40,465.84 439.55,465.83 439.70,465.83 439.85,465.82 440.00,465.81 440.15,465.80 440.30,465.79 440.45,465.78 440.60,465.76 440.75,465.75 440.90,465.73 441.05,465.71 441.20,465.69 441.35,465.66 441.50,465.63 441.65,465.60 441.80,465.56 441.95,465.51 442.10,465.45 442.25,465.37 442.40,465.27 442.55,465.14 442.70,464.95 442.85,464.68 443.00,464.25 443.15,463.54 443.30,462.30 443.45,460.40 443.60,459.06 443.75,460.07 443.90,461.60 444.05,462.36 444.20,462.39 444.35,461.71 444.50,460.12 444.65,457.45 444.80,455.60 444.95,457.27 445.10,459.76 445.25,461.14 445.40,461.56 445.55,461.22 445.70,460.01 445.85,457.54 446.00,454.06 446.15,453.07 446.30,455.83 446.45,458.26 446.60,459.16 446.75,458.77 446.90,456.99 447.05,453.16 447.20,446.31 447.35,439.05 447.50,440.87 447.65,448.74 447.80,454.37 447.95,457.15 448.10,458.00 448.25,457.21 448.40,454.65 448.55,451.67 448.70,452.73 448.85,456.46 449.00,459.04 449.15,460.16 449.30,460.15 449.45,458.98 449.60,456.38 449.75,453.49 449.90,454.38 450.05,457.77 450.20,460.16 450.35,461.26 450.50,461.43 450.65,460.69 450.80,458.87 450.95,456.84 451.10,457.55 451.25,460.08 451.40,461.90 451.55,462.82 451.70,463.13 451.85,462.91 452.00,462.11 452.15,461.18 452.30,461.61 452.45,462.95 452.60,463.96 452.75,464.55 452.90,464.90 453.05,465.12 453.20,465.27 453.35,465.38 453.50,465.46 453.65,465.53 453.80,465.58 453.95,465.62 454.10,465.65 454.25,465.68 454.40,465.70 454.55,465.72 454.70,465.74 454.85,465.76 455.00,465.77 455.15,465.79 455.30,465.80 455.45,465.81 455.60,465.82 455.75,465.83 455.90,465.84 456.05,465.84 456.20,465.85 456.35,465.86 456.50,465.86 456.65,465.87 456.80,465.87 456.95,465.88 457.10,465.88 457.25,465.89 457.40,465.89 457.55,465.90 457.70,465.90 457.85,465.90 458.00,465.91 458.15,465.91 458.30,465.91 458.45,465.91 458.60,465.92 458.75,465.92 458.90,465.92 459.05,465.92 459.20,465.93 459.35,465.93 459.50,465.93 459.65,465.93 459.80,465.93 459.95,465.93 460.10,465.94 460.25,465.94 460.40,465.94 460.55,465.94 460.70,465.94 460.85,465.94 461.00,465.94 461.15,465.95 461.30,465.95 461.45,465.95 461.60,465.95 461.75,465.95 461.90,465.95 462.05,465.95 462.20,465.95 462.35,465.95 462.50,465.96 462.65,465.96 462.80,465.96 462.95,465.96 463.10,465.96 463.25,465.96 463.40,465.96 463.55,465.96 463.70,465.96 463.85,465.96 464.00,465.96 464.15,465.96 464.30,465.96 464.45,465.96 464.60,465.96 464.75,465.97 464.90,465.97 465.05,465.97 465.20,465.97 465.35,465.97 465.50,465.97 465.65,465.97 465.80,465.97 465.95,465.97 466.10,465.97 466.25,465.97 466.40,465.97 466.55,465.97 466.70,465.97 466.85,465.97 467.00,465.97 467.15,465.97 467.30,465.97 467.45,465.97 467.60,465.97 467.75,465.97 467.90,465.97 468.05,465.97 468.20,465.98 468.35,465.98 468.50,465.98 468.65,465.98 468.80,465.98 468.95,465.98 469.10,465.98 469.25,465.98 469.40,465.98 469.55,465.98 469.70,465.98 469.85,465.98 470.00,465.98 470.15,465.98 470.30,465.98 470.45,465.98 470.60,465.98 470.75,465.98 470.90,465.98 471.05,465.98 471.20,465.98 471.35,465.98 471.50,465.98 471.65,465.98 471.80,465.98 471.95,465.98 472.10,465.98 472.25,465.98 472.40,465.98 472.55,465.98 472.70,465.98 472.85,465.98 473.00,465.98 473.15,465.98 473.30,465.98 473.45,465.98 473.60,465.98 473.75,465.98 473.90,465.98 474.05,465.98 474.20,465.98 474.35,465.98 474.50,465.98 474.65,465.98 474.80,465.98 474.95,465.98 475.10,465.98" fill="none" stroke="#ee6060" stroke-width="1.1" stroke-linejoin="round" stroke-linecap="round" />
<polyline points="323.90,437.59 324.05,437.59 324.20,437.59 324.35,437.59 324.50,437.59 324.65,437.59 324.80,437.59 324.95,437.59 325.10,437.59 325.25,437.59 325.40,437.59 325.55,437.59 325.70,437.59 325.85,437.59 326.00,437.59 326.15,437.59 326.30,437.59 326.45,437.59 326.60,437.59 326.75,437.59 326.90,437.59 327.05,437.59 327.20,437.59 327.35,437.59 327.50,437.59 327.65,437.59 327.80,437.59 327.95,437.59 328.10,437.59 328.25,437.59 328.40,437.59 328.55,437.59 328.70,437.59 328.85,437.59 329.00,437.59 329.15,437.59 329.30,437.59 329.45,437.59 329.60,437.59 329.75,437.59 329.90,437.59 330.05,437.59 330.20,437.59 330.35,437.59 330.50,437.59 330.65,437.59 330.80,437.59 330.95,437.59 331.10,437.59 331.25,437.59 331.40,437.59 331.55,437.59 331.70,437.59 331.85,437.59 332.00,437.59 332.15,437.59 332.30,437.59 332.45,437.59 332.60,437.59 332.75,437.59 332.90,437.59 333.05,437.59 333.20,437.58 333.35,437.58 333.50,437.58 333.65,437.58 333.80,437.58 333.95,437.58 334.10,437.58 334.25,437.58 334.40,437.58 334.55,437.58 334.70,437.58 334.85,437.58 335.00,437.58 335.15,437.58 335.30,437.58 335.45,437.58 335.60,437.58 335.75,437.58 335.90,437.58 336.05,437.58 336.20,437.58 336.35,437.58 336.50,437.58 336.65,437.58 336.80,437.58 336.95,437.58 337.10,437.58 337.25,437.58 337.40,437.58 337.55,437.58 337.70,437.58 337.85,437.58 338.00,437.58 338.15,437.58 338.30,437.58 338.45,437.58 338.60,437.58 338.75,437.58 338.90,437.58 339.05,437.58 339.20,437.58 339.35,437.58 339.50,437.58 339.65,437.58 339.80,437.58 339.95,437.58 340.10,437.58 340.25,437.58 340.40,437.58 340.55,437.58 340.70,437.58 340.85,437.58 341.00,437.58 341.15,437.58 341.30,437.58 341.45,437.58 341.60,437.58 341.75,437.58 341.90,437.58 342.05,437.58 342.20,437.58 342.35,437.58 342.50,437.58 342.65,437.58 342.80,437.57 342.95,437.57 343.10,437.57 343.25,437.57 343.40,437.57 343.55,437.57 343.70,437.57 343.85,437.57 344.00,437.57 344.15,437.57 344.30,437.57 344.45,437.57 344.60,437.57 344.75,437.57 344.90,437.57 345.05,437.57 345.20,437.57 345.35,437.57 345.50,437.57 345.65,437.57 345.80,437.57 345.95,437.57 346.10,437.57 346.25,437.57 346.40,437.57 346.55,437.57 346.70,437.57 346.85,437.57 347.00,437.57 347.15,437.57 347.30,437.57 347.45,437.57 347.60,437.57 347.75,437.56 347.90,437.56 348.05,437.56 348.20,437.56 348.35,437.56 348.50,437.56 348.65,437.56 348.80,437.56 348.95,437.56 349.10,437.56 349.25,437.56 349.40,437.56 349.55,437.56 349.70,437.56 349.85,437.56 350.00,437.56 350.15,437.56 350.30,437.56 350.45,437.56 350.60,437.56 350.75,437.56 350.90,437.55 351.05,437.55 351.20,437.55 351.35,437.55 351.50,437.55 351.65,437.55 351.80,437.55 351.95,437.55 352.10,437.55 352.25,437.55 352.40,437.55 352.55,437.55 352.70,437.55 352.85,437.55 353.00,437.55 353.15,437.55 353.30,437.54 353.45,437.54 353.60,437.54 353.75,437.54 353.90,437.54 354.05,437.54 354.20,437.54 354.35,437.54 354.50,437.54 354.65,437.54 354.80,437.54 354.95,437.53 355.10,437.53 355.25,437.53 355.40,437.53 355.55,437.53 355.70,437.53 355.85,437.53 356.00,437.53 356.15,437.53 356.30,437.52 356.45,437.52 356.60,437.52 356.75,437.52 356.90,437.52 357.05,437.52 357.20,437.52 357.35,437.52 357.50,437.51 357.65,437.51 357.80,437.51 357.95,437.51 358.10,437.51 358.25,437.51 358.40,437.50 358.55,437.50 358.70,437.50 358.85,437.50 359.00,437.50 359.15,437.49 359.30,437.49 359.45,437.49 359.60,437.49 359.75,437.49 359.90,437.48 360.05,437.48 360.20,437.48 360.35,437.48 360.50,437.47 360.65,437.47 360.80,437.47 360.95,437.46 361.10,437.46 361.25,437.46 361.40,437.45 361.55,437.45 361.70,437.45 361.85,437.44 362.00,437.44 362.15,437.44 362.30,437.43 362.45,437.43 362.60,437.42 362.75,437.42 362.90,437.42 363.05,437.41 363.20,437.41 363.35,437.40 363.50,437.39 363.65,437.39 363.80,437.38 363.95,437.38 364.10,437.37 364.25,437.36 364.40,437.36 364.55,437.35 364.70,437.34 364.85,437.33 365.00,437.32 365.15,437.32 365.30,437.31 365.45,437.30 365.60,437.29 365.75,437.28 365.90,437.26 366.05,437.25 366.20,437.24 366.35,437.23 366.50,437.21 366.65,437.20 366.80,437.18 366.95,437.16 367.10,437.15 367.25,437.13 367.40,437.11 367.55,437.09 367.70,437.06 367.85,437.04 368.00,437.01 368.15,436.99 368.30,436.96 368.45,436.93 368.60,436.89 368.75,436.85 368.90,436.82 369.05,436.77 369.20,436.73 369.35,436.68 369.50,436.62 369.65,436.56 369.80,436.50 369.95,436.43 370.10,436.35 370.25,436.26 370.40,436.17 370.55,436.06 370.70,435.95 370.85,435.82 371.00,435.68 371.15,435.52 371.30,435.34 371.45,435.14 371.60,434.91 371.75,434.65 371.90,434.35 372.05,434.02 372.20,433.64 372.35,433.20 372.50,432.70 372.65,432.12 372.80,431.46 372.95,430.72 373.10,429.88 373.25,428.94 373.40,427.93 373.55,426.87 373.70,425.81 373.85,424.83 374.00,424.02 374.15,423.49 374.30,423.30 374.45,423.49 374.60,424.02 374.75,424.83 374.90,425.81 375.05,426.87 375.20,427.93 375.35,428.94 375.50,429.88 375.65,430.72 375.80,431.46 375.95,432.12 376.10,432.70 376.25,433.20 376.40,433.64 376.55,434.02 376.70,434.35 376.85,434.65 377.00,434.91 377.15,435.14 377.30,435.34 377.45,435.52 377.60,435.68 377.75,435.82 377.90,435.95 378.05,436.06 378.20,436.17 378.35,436.26 378.50,436.35 378.65,436.43 378.80,436.50 378.95,436.56 379.10,436.62 379.25,436.68 379.40,436.73 379.55,436.77 379.70,436.81 379.85,436.85 380.00,436.89 380.15,436.92 380.30,436.96 380.45,436.99 380.60,437.01 380.75,437.04 380.90,437.06 381.05,437.09 381.20,437.11 381.35,437.13 381.50,437.15 381.65,437.16 381.80,437.18 381.95,437.20 382.10,437.21 382.25,437.23 382.40,437.24 382.55,437.25 382.70,437.26 382.85,437.27 383.00,437.29 383.15,437.30 383.30,437.31 383.45,437.31 383.60,437.32 383.75,437.33 383.90,437.34 384.05,437.35 384.20,437.36 384.35,437.36 384.50,437.37 384.65,437.38 384.80,437.38 384.95,437.39 385.10,437.39 385.25,437.40 385.40,437.40 385.55,437.41 385.70,437.41 385.85,437.42 386.00,437.42 386.15,437.43 386.30,437.43 386.45,437.44 386.60,437.44 386.75,437.44 386.90,437.45 387.05,437.45 387.20,437.45 387.35,437.46 387.50,437.46 387.65,437.46 387.80,437.47 387.95,437.47 388.10,437.47 388.25,437.47 388.40,437.48 388.55,437.48 388.70,437.48 388.85,437.48 389.00,437.49 389.15,437.49 389.30,437.49 389.45,437.49 389.60,437.49 389.75,437.50 389.90,437.50 390.05,437.50 390.20,437.50 390.35,437.50 390.50,437.51 390.65,437.51 390.80,437.51 390.95,437.51 391.10,437.51 391.25,437.51 391.40,437.51 391.55,437.52 391.70,437.52 391.85,437.52 392.00,437.52 392.15,437.52 392.30,437.52 392.45,437.52 392.60,437.52 392.75,437.53 392.90,437.53 393.05,437.53 393.20,437.53 393.35,437.53 393.50,437.53 393.65,437.53 393.80,437.53 393.95,437.53 394.10,437.54 394.25,437.54 394.40,437.54 394.55,437.54 394.70,437.54 394.85,437.54 395.00,437.54 395.15,437.54 395.30,437.54 395.45,437.54 395.60,437.54 395.75,437.54 395.90,437.54 396.05,437.55 396.20,437.55 396.35,437.55 396.50,437.55 396.65,437.55 396.80,437.55 396.95,437.55 397.10,437.55 397.25,437.55 397.40,437.55 397.55,437.55 397.70,437.55 397.85,437.55 398.00,437.55 398.15,437.55 398.30,437.55 398.45,437.55 398.60,437.56 398.75,437.56 398.90,437.56 399.05,437.56 399.20,437.56 399.35,437.56 399.50,437.56 399.65,437.56 399.80,437.56 399.95,437.56 400.10,437.56 400.25,437.56 400.40,437.56 400.55,437.56 400.70,437.56 400.85,437.56 401.00,437.56 401.15,437.56 401.30,437.56 401.45,437.56 401.60,437.56 401.75,437.56 401.90,437.56 402.05,437.56 402.20,437.56 402.35,437.56 402.50,437.56 402.65,437.57 402.80,437.57 402.95,437.57 403.10,437.57 403.25,437.57 403.40,437.57 403.55,437.57 403.70,437.57 403.85,437.57 404.00,437.57 404.15,437.57 404.30,437.57 404.45,437.57 404.60,437.57 404.75,437.57 404.90,437.57 405.05,437.57 405.20,437.57 405.35,437.57 405.50,437.57 405.65,437.57 405.80,437.57 405.95,437.57 406.10,437.57 406.25,437.57 406.40,437.57 406.55,437.57 406.70,437.57 406.85,437.57 407.00,437.57 407.15,437.57 407.30,437.57 407.45,437.57 407.60,437.57 407.75,437.57 407.90,437.57 408.05,437.57 408.20,437.57 408.35,437.57 408.50,437.57 408.65,437.57 408.80,437.57 408.95,437.57 409.10,437.57 409.25,437.57 409.40,437.57 409.55,437.57 409.70,437.57 409.85,437.57 410.00,437.57 410.15,437.57 410.30,437.57 410.45,437.57 410.60,437.57 410.75,437.57 410.90,437.57 411.05,437.57 411.20,437.57 411.35,437.58 411.50,437.58 411.65,437.58 411.80,437.58 411.95,437.58 412.10,437.58 412.25,437.58 412.40,437.58 412.55,437.58 412.70,437.58 412.85,437.58 413.00,437.58 413.15,437.58 413.30,437.58 413.45,437.58 413.60,437.58 413.75,437.58 413.90,437.58 414.05,437.58 414.20,437.58 414.35,437.58 414.50,437.58 414.65,437.58 414.80,437.58 414.95,437.58 415.10,437.58 415.25,437.58 415.40,437.58 415.55,437.58 415.70,437.58 415.85,437.58 416.00,437.58 416.15,437.58 416.30,437.58 416.45,437.58 416.60,437.58 416.75,437.58 416.90,437.58 417.05,437.58 417.20,437.58 417.35,437.58 417.50,437.58 417.65,437.58 417.80,437.58 417.95,437.58 418.10,437.58 418.25,437.58 418.40,437.58 418.55,437.58 418.70,437.58 418.85,437.58 419.00,437.58 419.15,437.58 419.30,437.58 419.45,437.58 419.60,437.58 419.75,437.58 419.90,437.58 420.05,437.58 420.20,437.58 420.35,437.58 420.50,437.58 420.65,437.58 420.80,437.58 420.95,437.58 421.10,437.58 421.25,437.58 421.40,437.58 421.55,437.57 421.70,437.57 421.85,437.57 422.00,437.57 422.15,437.57 422.30,437.57 422.45,437.57 422.60,437.57 422.75,437.57 422.90,437.57 423.05,437.57 423.20,437.57 423.35,437.57 423.50,437.57 423.65,437.57 423.80,437.57 423.95,437.57 424.10,437.57 424.25,437.57 424.40,437.57 424.55,437.57 424.70,437.57 424.85,437.57 425.00,437.57 425.15,437.57 425.30,437.57 425.45,437.57 425.60,437.57 425.75,437.57 425.90,437.57 426.05,437.57 426.20,437.57 426.35,437.57 426.50,437.57 426.65,437.57 426.80,437.57 426.95,437.57 427.10,437.57 427.25,437.57 427.40,437.57 427.55,437.57 427.70,437.57 427.85,437.57 428.00,437.57 428.15,437.57 428.30,437.57 428.45,437.57 428.60,437.56 428.75,437.56 428.90,437.56 429.05,437.56 429.20,437.56 429.35,437.56 429.50,437.56 429.65,437.56 429.80,437.56 429.95,437.56 430.10,437.56 430.25,437.56 430.40,437.56 430.55,437.56 430.70,437.56 430.85,437.56 431.00,437.56 431.15,437.56 431.30,437.56 431.45,437.56 431.60,437.55 431.75,437.55 431.90,437.55 432.05,437.55 432.20,437.55 432.35,437.55 432.50,437.55 432.65,437.55 432.80,437.55 432.95,437.55 433.10,437.55 433.25,437.55 433.40,437.55 433.55,437.54 433.70,437.54 433.85,437.54 434.00,437.54 434.15,437.54 434.30,437.54 434.45,437.54 434.60,437.54 434.75,437.53 434.90,437.53 435.05,437.53 435.20,437.53 435.35,437.53 435.50,437.53 435.65,437.53 435.80,437.52 435.95,437.52 436.10,437.52 436.25,437.52 436.40,437.52 436.55,437.51 436.70,437.51 436.85,437.51 437.00,437.51 437.15,437.51 437.30,437.50 437.45,437.50 437.60,437.50 437.75,437.49 437.90,437.49 438.05,437.49 438.20,437.48 438.35,437.48 438.50,437.48 438.65,437.47 438.80,437.47 438.95,437.46 439.10,437.46 439.25,437.46 439.40,437.45 439.55,437.45 439.70,437.44 439.85,437.43 440.00,437.43 440.15,437.42 440.30,437.41 440.45,437.41 440.60,437.40 440.75,437.39 440.90,437.38 441.05,437.37 441.20,437.36 441.35,437.35 441.50,437.33 441.65,437.32 441.80,437.31 441.95,437.29 442.10,437.28 442.25,437.26 442.40,437.24 442.55,437.22 442.70,437.19 442.85,437.17 443.00,437.14 443.15,437.11 443.30,437.07 443.45,437.03 443.60,436.99 443.75,436.94 443.90,436.89 444.05,436.83 444.20,436.76 444.35,436.68 444.50,436.59 444.65,436.49 444.80,436.37 444.95,436.23 445.10,436.06 445.25,435.86 445.40,435.62 445.55,435.32 445.70,434.95 445.85,434.48 446.00,433.88 446.15,433.09 446.30,432.03 446.45,430.53 446.60,428.36 446.75,425.04 446.90,419.62 447.05,410.01 447.20,400.60 447.35,400.60 447.50,400.60 447.65,400.60 447.80,400.60 447.95,400.60 448.10,405.16 448.25,417.04 448.40,423.53 448.55,427.42 448.70,429.90 448.85,431.59 449.00,432.78 449.15,433.65 449.30,434.30 449.45,434.81 449.60,435.20 449.75,435.52 449.90,435.78 450.05,436.00 450.20,436.17 450.35,436.32 450.50,436.45 450.65,436.56 450.80,436.66 450.95,436.74 451.10,436.81 451.25,436.87 451.40,436.93 451.55,436.98 451.70,437.02 451.85,437.06 452.00,437.10 452.15,437.13 452.30,437.16 452.45,437.19 452.60,437.21 452.75,437.23 452.90,437.25 453.05,437.27 453.20,437.29 453.35,437.30 453.50,437.32 453.65,437.33 453.80,437.34 453.95,437.36 454.10,437.37 454.25,437.38 454.40,437.39 454.55,437.40 454.70,437.40 454.85,437.41 455.00,437.42 455.15,437.43 455.30,437.43 455.45,437.44 455.60,437.45 455.75,437.45 455.90,437.46 456.05,437.46 456.20,437.47 456.35,437.47 456.50,437.47 456.65,437.48 456.80,437.48 456.95,437.49 457.10,437.49 457.25,437.49 457.40,437.50 457.55,437.50 457.70,437.50 457.85,437.50 458.00,437.51 458.15,437.51 458.30,437.51 458.45,437.51 458.60,437.52 458.75,437.52 458.90,437.52 459.05,437.52 459.20,437.52 459.35,437.53 459.50,437.53 459.65,437.53 459.80,437.53 459.95,437.53 460.10,437.53 460.25,437.54 460.40,437.54 460.55,437.54 460.70,437.54 460.85,437.54 461.00,437.54 461.15,437.54 461.30,437.55 461.45,437.55 461.60,437.55 461.75,437.55 461.90,437.55 462.05,437.55 462.20,437.55 462.35,437.55 462.50,437.55 462.65,437.55 462.80,437.56 462.95,437.56 463.10,437.56 463.25,437.56 463.40,437.56 463.55,437.56 463.70,437.56 463.85,437.56 464.00,437.56 464.15,437.56 464.30,437.56 464.45,437.56 464.60,437.56 464.75,437.56 464.90,437.56 465.05,437.57 465.20,437.57 465.35,437.57 465.50,437.57 465.65,437.57 465.80,437.57 465.95,437.57 466.10,437.57 466.25,437.57 466.40,437.57 466.55,437.57 466.70,437.57 466.85,437.57 467.00,437.57 467.15,437.57 467.30,437.57 467.45,437.57 467.60,437.57 467.75,437.57 467.90,437.57 468.05,437.57 468.20,437.57 468.35,437.57 468.50,437.58 468.65,437.58 468.80,437.58 468.95,437.58 469.10,437.58 469.25,437.58 469.40,437.58 469.55,437.58 469.70,437.58 469.85,437.58 470.00,437.58 470.15,437.58 470.30,437.58 470.45,437.58 470.60,437.58 470.75,437.58 470.90,437.58 471.05,437.58 471.20,437.58 471.35,437.58 471.50,437.58 471.65,437.58 471.80,437.58 471.95,437.58 472.10,437.58 472.25,437.58 472.40,437.58 472.55,437.58 472.70,437.58 472.85,437.58 473.00,437.58 473.15,437.58 473.30,437.58 473.45,437.58 473.60,437.58 473.75,437.58 473.90,437.58 474.05,437.58 474.20,437.58 474.35,437.58 474.50,437.58 474.65,437.58 474.80,437.58 474.95,437.58 475.10,437.58" fill="none" stroke="#6fa8dc" stroke-width="1.1" stroke-linejoin="round" stroke-linecap="round" />
</g>
<text x="325.2" y="428" font-size="5.5" font-weight="bold" fill="#000" text-anchor="start" font-family='"Liberation Sans", sans-serif' >Control-FAI</text>
<text x="325.2" y="456" font-size="5.5" font-weight="bold" fill="#000" text-anchor="start" font-family='"Liberation Sans", sans-serif' >Target-FAI</text>
<text x="325.2" y="483.8" font-size="5.5" font-weight="bold" fill="#000" text-anchor="start" font-family='"Liberation Sans", sans-serif' >Control-Perovskite</text>
<text x="325.2" y="509" font-size="5.5" font-weight="bold" fill="#000" text-anchor="start" font-family='"Liberation Sans", sans-serif' >Target-Perovskite</text>
<line x1="323.90" y1="523.00" x2="321.70" y2="523.00" stroke="#000" stroke-width="0.9" />
<text x="320.7" y="525.3" font-size="6.6" font-weight="bold" fill="#000" text-anchor="end" font-family='"Liberation Sans", sans-serif' >0.0</text>
<line x1="323.90" y1="506.23" x2="321.70" y2="506.23" stroke="#000" stroke-width="0.9" />
<text x="320.7" y="508.53000000000003" font-size="6.6" font-weight="bold" fill="#000" text-anchor="end" font-family='"Liberation Sans", sans-serif' >0.1</text>
<line x1="323.90" y1="489.46" x2="321.70" y2="489.46" stroke="#000" stroke-width="0.9" />
<text x="320.7" y="491.76" font-size="6.6" font-weight="bold" fill="#000" text-anchor="end" font-family='"Liberation Sans", sans-serif' >0.2</text>
<line x1="323.90" y1="472.69" x2="321.70" y2="472.69" stroke="#000" stroke-width="0.9" />
<text x="320.7" y="474.99" font-size="6.6" font-weight="bold" fill="#000" text-anchor="end" font-family='"Liberation Sans", sans-serif' >0.3</text>
<line x1="323.90" y1="455.92" x2="321.70" y2="455.92" stroke="#000" stroke-width="0.9" />
<text x="320.7" y="458.22" font-size="6.6" font-weight="bold" fill="#000" text-anchor="end" font-family='"Liberation Sans", sans-serif' >0.4</text>
<line x1="323.90" y1="439.15" x2="321.70" y2="439.15" stroke="#000" stroke-width="0.9" />
<text x="320.7" y="441.45" font-size="6.6" font-weight="bold" fill="#000" text-anchor="end" font-family='"Liberation Sans", sans-serif' >0.5</text>
<line x1="323.90" y1="422.38" x2="321.70" y2="422.38" stroke="#000" stroke-width="0.9" />
<text x="320.7" y="424.68" font-size="6.6" font-weight="bold" fill="#000" text-anchor="end" font-family='"Liberation Sans", sans-serif' >0.6</text>
<line x1="323.90" y1="405.61" x2="321.70" y2="405.61" stroke="#000" stroke-width="0.9" />
<text x="320.7" y="407.91" font-size="6.6" font-weight="bold" fill="#000" text-anchor="end" font-family='"Liberation Sans", sans-serif' >0.7</text>
<line x1="331.12" y1="524.30" x2="331.12" y2="526.50" stroke="#000" stroke-width="0.9" />
<text x="331.11999999999995" y="532.8" font-size="6.6" font-weight="bold" fill="#000" text-anchor="middle" font-family='"Liberation Sans", sans-serif' >9.4</text>
<line x1="338.39" y1="524.30" x2="338.39" y2="525.60" stroke="#000" stroke-width="0.8" />
<line x1="345.66" y1="524.30" x2="345.66" y2="526.50" stroke="#000" stroke-width="0.9" />
<text x="345.66" y="532.8" font-size="6.6" font-weight="bold" fill="#000" text-anchor="middle" font-family='"Liberation Sans", sans-serif' >9.2</text>
<line x1="352.93" y1="524.30" x2="352.93" y2="525.60" stroke="#000" stroke-width="0.8" />
<line x1="360.20" y1="524.30" x2="360.20" y2="526.50" stroke="#000" stroke-width="0.9" />
<text x="360.2" y="532.8" font-size="6.6" font-weight="bold" fill="#000" text-anchor="middle" font-family='"Liberation Sans", sans-serif' >9.0</text>
<line x1="367.47" y1="524.30" x2="367.47" y2="525.60" stroke="#000" stroke-width="0.8" />
<line x1="374.74" y1="524.30" x2="374.74" y2="526.50" stroke="#000" stroke-width="0.9" />
<text x="374.7399999999999" y="532.8" font-size="6.6" font-weight="bold" fill="#000" text-anchor="middle" font-family='"Liberation Sans", sans-serif' >8.8</text>
<line x1="382.01" y1="524.30" x2="382.01" y2="525.60" stroke="#000" stroke-width="0.8" />
<line x1="389.28" y1="524.30" x2="389.28" y2="526.50" stroke="#000" stroke-width="0.9" />
<text x="389.28" y="532.8" font-size="6.6" font-weight="bold" fill="#000" text-anchor="middle" font-family='"Liberation Sans", sans-serif' >8.6</text>
<line x1="396.55" y1="524.30" x2="396.55" y2="525.60" stroke="#000" stroke-width="0.8" />
<line x1="403.82" y1="524.30" x2="403.82" y2="526.50" stroke="#000" stroke-width="0.9" />
<text x="403.81999999999994" y="532.8" font-size="6.6" font-weight="bold" fill="#000" text-anchor="middle" font-family='"Liberation Sans", sans-serif' >8.4</text>
<line x1="411.09" y1="524.30" x2="411.09" y2="525.60" stroke="#000" stroke-width="0.8" />
<line x1="418.36" y1="524.30" x2="418.36" y2="526.50" stroke="#000" stroke-width="0.9" />
<text x="418.36" y="532.8" font-size="6.6" font-weight="bold" fill="#000" text-anchor="middle" font-family='"Liberation Sans", sans-serif' >8.2</text>
<line x1="425.63" y1="524.30" x2="425.63" y2="525.60" stroke="#000" stroke-width="0.8" />
<line x1="432.90" y1="524.30" x2="432.90" y2="526.50" stroke="#000" stroke-width="0.9" />
<text x="432.9" y="532.8" font-size="6.6" font-weight="bold" fill="#000" text-anchor="middle" font-family='"Liberation Sans", sans-serif' >8.0</text>
<line x1="440.17" y1="524.30" x2="440.17" y2="525.60" stroke="#000" stroke-width="0.8" />
<line x1="447.44" y1="524.30" x2="447.44" y2="526.50" stroke="#000" stroke-width="0.9" />
<text x="447.44" y="532.8" font-size="6.6" font-weight="bold" fill="#000" text-anchor="middle" font-family='"Liberation Sans", sans-serif' >7.8</text>
<line x1="454.71" y1="524.30" x2="454.71" y2="525.60" stroke="#000" stroke-width="0.8" />
<line x1="461.98" y1="524.30" x2="461.98" y2="526.50" stroke="#000" stroke-width="0.9" />
<text x="461.98" y="532.8" font-size="6.6" font-weight="bold" fill="#000" text-anchor="middle" font-family='"Liberation Sans", sans-serif' >7.6</text>
<line x1="469.25" y1="524.30" x2="469.25" y2="525.60" stroke="#000" stroke-width="0.8" />
<rect x="323.90" y="405.60" width="151.30" height="118.70" fill="none" stroke="#000" stroke-width="1.5" />
<text x="399" y="541" font-size="6.8" font-weight="bold" font-family='"Liberation Sans", sans-serif' text-anchor="middle"><tspan font-size="4.5" dy="-2.5">1</tspan><tspan dy="2.5">H </tspan><tspan font-style="italic">&#948;</tspan> (ppm)</text>
<text x="310" y="469" font-size="9.3" font-weight="bold" fill="#000" text-anchor="middle" font-family='"Liberation Sans", sans-serif' transform="rotate(-90 310 469)" >Intensity</text>
<text x="301.6" y="405.3" font-size="13.4" font-family='"Liberation Sans", sans-serif' fill="#000" stroke="#000" stroke-width="0.45">j</text>
<rect x="530.10" y="223.40" width="16.90" height="17.50" fill="#eceef4" stroke="none" stroke-width="1" />
<rect x="547.00" y="223.40" width="14.40" height="17.50" fill="#fde5a6" stroke="none" stroke-width="1" />
<rect x="603.80" y="223.40" width="6.00" height="17.50" fill="#f7c0a8" stroke="none" stroke-width="1" />
<rect x="483.10" y="321.00" width="22.40" height="12.00" fill="#fde5a6" stroke="none" stroke-width="1" />
<rect x="483.10" y="333.00" width="22.40" height="10.60" fill="#eceef4" stroke="none" stroke-width="1" />
<rect x="483.10" y="282.90" width="22.40" height="4.70" fill="#f4c0b0" stroke="none" stroke-width="1" />
<polyline points="507.20,240.30 507.35,240.29 507.50,240.29 507.65,240.28 507.80,240.28 507.95,240.27 508.10,240.26 508.25,240.26 508.40,240.25 508.55,240.25 508.70,240.24 508.85,240.24 509.00,240.23 509.15,240.22 509.30,240.22 509.45,240.21 509.60,240.21 509.75,240.20 509.90,240.20 510.05,240.19 510.20,240.18 510.35,240.18 510.50,240.17 510.65,240.17 510.80,240.16 510.95,240.15 511.10,240.15 511.25,240.14 511.40,240.14 511.55,240.13 511.70,240.13 511.85,240.12 512.00,240.11 512.15,240.11 512.30,240.10 512.45,240.10 512.60,240.09 512.75,240.09 512.90,240.08 513.05,240.07 513.20,240.07 513.35,240.06 513.50,240.06 513.65,240.05 513.80,240.04 513.95,240.04 514.10,240.03 514.25,240.03 514.40,240.02 514.55,240.02 514.70,240.01 514.85,240.00 515.00,240.00 515.15,239.98 515.30,239.96 515.45,239.94 515.60,239.91 515.75,239.89 515.90,239.87 516.05,239.85 516.20,239.83 516.35,239.81 516.50,239.79 516.65,239.77 516.80,239.75 516.95,239.73 517.10,239.70 517.25,239.68 517.40,239.66 517.55,239.64 517.70,239.62 517.85,239.60 518.00,239.58 518.15,239.56 518.30,239.54 518.45,239.52 518.60,239.49 518.75,239.47 518.90,239.45 519.05,239.43 519.20,239.41 519.35,239.39 519.50,239.37 519.65,239.35 519.80,239.33 519.95,239.31 520.10,239.26 520.25,239.21 520.40,239.15 520.55,239.10 520.70,239.05 520.85,238.99 521.00,238.94 521.15,238.88 521.30,238.83 521.45,238.78 521.60,238.72 521.75,238.67 521.90,238.61 522.05,238.56 522.20,238.51 522.35,238.45 522.50,238.40 522.65,238.34 522.80,238.29 522.95,238.24 523.10,238.18 523.25,238.13 523.40,238.07 523.55,238.02 523.70,237.97 523.85,237.91 524.00,237.86 524.15,237.80 524.30,237.75 524.45,237.70 524.60,237.64 524.75,237.59 524.90,237.53 525.05,237.46 525.20,237.34 525.35,237.22 525.50,237.10 525.65,236.98 525.80,236.86 525.95,236.74 526.10,236.62 526.25,236.50 526.40,236.38 526.55,236.26 526.70,236.14 526.85,236.02 527.00,235.90 527.15,235.78 527.30,235.66 527.45,235.54 527.60,235.42 527.75,235.30 527.90,235.18 528.05,235.06 528.20,234.94 528.35,234.82 528.50,234.70 528.65,234.58 528.80,234.46 528.95,234.34 529.10,234.22 529.25,234.10 529.40,233.98 529.55,233.86 529.70,233.74 529.85,233.62 530.00,233.50 530.15,233.31 530.30,233.12 530.45,232.94 530.60,232.75 530.75,232.56 530.90,232.37 531.05,232.19 531.20,232.00 531.35,231.81 531.50,231.62 531.65,231.44 531.80,231.25 531.95,231.06 532.10,230.87 532.25,230.69 532.40,230.50 532.55,230.31 532.70,230.12 532.85,229.94 533.00,229.75 533.15,229.56 533.30,229.37 533.45,229.19 533.60,229.00 533.75,228.81 533.90,228.62 534.05,228.45 534.20,228.32 534.35,228.19 534.50,228.06 534.65,227.93 534.80,227.80 534.95,227.67 535.10,227.54 535.25,227.40 535.40,227.27 535.55,227.14 535.70,227.01 535.85,226.88 536.00,226.75 536.15,226.62 536.30,226.49 536.45,226.35 536.60,226.22 536.75,226.09 536.90,225.96 537.05,225.83 537.20,225.70 537.35,225.57 537.50,225.44 537.65,225.30 537.80,225.17 537.95,225.04 538.10,224.98 538.25,224.95 538.40,224.92 538.55,224.89 538.70,224.86 538.85,224.83 539.00,224.80 539.15,224.77 539.30,224.74 539.45,224.71 539.60,224.68 539.75,224.65 539.90,224.62 540.05,224.59 540.20,224.56 540.35,224.53 540.50,224.50 540.65,224.47 540.80,224.44 540.95,224.41 541.10,224.41 541.25,224.43 541.40,224.45 541.55,224.47 541.70,224.49 541.85,224.51 542.00,224.53 542.15,224.55 542.30,224.57 542.45,224.59 542.60,224.61 542.75,224.63 542.90,224.65 543.05,224.67 543.20,224.69 543.35,224.71 543.50,224.73 543.65,224.75 543.80,224.77 543.95,224.79 544.10,224.84 544.25,224.90 544.40,224.96 544.55,225.02 544.70,225.08 544.85,225.14 545.00,225.20 545.15,225.26 545.30,225.32 545.45,225.38 545.60,225.44 545.75,225.50 545.90,225.56 546.05,225.62 546.20,225.68 546.35,225.74 546.50,225.80 546.65,225.86 546.80,225.92 546.95,225.98 547.10,225.97 547.25,225.93 547.40,225.89 547.55,225.85 547.70,225.81 547.85,225.77 548.00,225.73 548.15,225.69 548.30,225.65 548.45,225.61 548.60,225.57 548.75,225.53 548.90,225.49 549.05,225.45 549.20,225.41 549.35,225.37 549.50,225.33 549.65,225.29 549.80,225.25 549.95,225.21 550.10,225.17 550.25,225.13 550.40,225.09 550.55,225.05 550.70,225.01 550.85,224.97 551.00,224.93 551.15,224.89 551.30,224.85 551.45,224.81 551.60,224.77 551.75,224.73 551.90,224.69 552.05,224.65 552.20,224.61 552.35,224.57 552.50,224.53 552.65,224.49 552.80,224.45 552.95,224.41 553.10,224.40 553.25,224.41 553.40,224.42 553.55,224.43 553.70,224.44 553.85,224.45 554.00,224.46 554.15,224.47 554.30,224.48 554.45,224.49 554.60,224.50 554.75,224.51 554.90,224.52 555.05,224.53 555.20,224.54 555.35,224.55 555.50,224.56 555.65,224.57 555.80,224.58 555.95,224.59 556.10,224.69 556.25,224.83 556.40,224.98 556.55,225.12 556.70,225.26 556.85,225.40 557.00,225.55 557.15,225.69 557.30,225.83 557.45,225.97 557.60,226.11 557.75,226.26 557.90,226.40 558.05,226.57 558.20,226.79 558.35,227.02 558.50,227.24 558.65,227.47 558.80,227.69 558.95,227.92 559.10,228.14 559.25,228.37 559.40,228.59 559.55,228.82 559.70,229.04 559.85,229.27 560.00,229.49 560.15,229.72 560.30,229.94 560.45,230.17 560.60,230.39 560.75,230.62 560.90,230.84 561.05,231.07 561.20,231.29 561.35,231.52 561.50,231.74 561.65,231.97 561.80,232.19 561.95,232.42 562.10,232.64 562.25,232.87 562.40,233.09 562.55,233.32 562.70,233.54 562.85,233.77 563.00,233.99 563.15,234.22 563.30,234.44 563.45,234.67 563.60,234.89 563.75,235.12 563.90,235.34 564.05,235.53 564.20,235.65 564.35,235.77 564.50,235.89 564.65,236.01 564.80,236.13 564.95,236.25 565.10,236.37 565.25,236.49 565.40,236.61 565.55,236.73 565.70,236.85 565.85,236.97 566.00,237.09 566.15,237.21 566.30,237.33 566.45,237.45 566.60,237.57 566.75,237.69 566.90,237.81 567.05,237.93 567.20,238.05 567.35,238.17 567.50,238.29 567.65,238.41 567.80,238.53 567.95,238.65 568.10,238.72 568.25,238.76 568.40,238.80 568.55,238.84 568.70,238.88 568.85,238.92 569.00,238.97 569.15,239.01 569.30,239.05 569.45,239.09 569.60,239.13 569.75,239.17 569.90,239.21 570.05,239.25 570.20,239.29 570.35,239.34 570.50,239.38 570.65,239.42 570.80,239.46 570.95,239.50 571.10,239.54 571.25,239.58 571.40,239.62 571.55,239.66 571.70,239.71 571.85,239.75 572.00,239.79 572.15,239.79 572.30,239.80 572.45,239.81 572.60,239.82 572.75,239.82 572.90,239.83 573.05,239.84 573.20,239.85 573.35,239.85 573.50,239.86 573.65,239.87 573.80,239.88 573.95,239.88 574.10,239.89 574.25,239.90 574.40,239.90 574.55,239.91 574.70,239.92 574.85,239.93 575.00,239.93 575.15,239.94 575.30,239.95 575.45,239.95 575.60,239.96 575.75,239.97 575.90,239.98 576.05,239.98 576.20,239.99 576.35,240.00 576.50,240.00 576.65,240.01 576.80,240.02 576.95,240.03 577.10,240.03 577.25,240.04 577.40,240.05 577.55,240.05 577.70,240.06 577.85,240.07 578.00,240.08 578.15,240.08 578.30,240.09 578.45,240.10 578.60,240.10 578.75,240.11 578.90,240.12 579.05,240.12 579.20,240.13 579.35,240.14 579.50,240.14 579.65,240.15 579.80,240.16 579.95,240.16 580.10,240.16 580.25,240.16 580.40,240.16 580.55,240.16 580.70,240.16 580.85,240.16 581.00,240.15 581.15,240.15 581.30,240.15 581.45,240.15 581.60,240.14 581.75,240.14 581.90,240.14 582.05,240.13 582.20,240.13 582.35,240.12 582.50,240.12 582.65,240.11 582.80,240.10 582.95,240.09 583.10,240.08 583.25,240.07 583.40,240.05 583.55,240.04 583.70,240.01 583.85,239.98 584.00,239.94 584.15,239.89 584.30,239.82 584.45,239.72 584.60,239.57 584.75,239.35 584.90,239.01 585.05,238.44 585.20,237.52 585.35,236.29 585.50,235.57 585.65,236.29 585.80,237.52 585.95,238.44 586.10,239.00 586.25,239.35 586.40,239.57 586.55,239.71 586.70,239.81 586.85,239.88 587.00,239.93 587.15,239.97 587.30,240.00 587.45,240.02 587.60,240.04 587.75,240.06 587.90,240.07 588.05,240.08 588.20,240.09 588.35,240.09 588.50,240.10 588.65,240.10 588.80,240.11 588.95,240.11 589.10,240.11 589.25,240.11 589.40,240.12 589.55,240.12 589.70,240.12 589.85,240.12 590.00,240.12 590.15,240.12 590.30,240.12 590.45,240.12 590.60,240.12 590.75,240.12 590.90,240.11 591.05,240.11 591.20,240.11 591.35,240.11 591.50,240.11 591.65,240.10 591.80,240.10 591.95,240.10 592.10,240.10 592.25,240.09 592.40,240.09 592.55,240.08 592.70,240.08 592.85,240.07 593.00,240.07 593.15,240.06 593.30,240.06 593.45,240.05 593.60,240.04 593.75,240.03 593.90,240.02 594.05,240.01 594.20,240.00 594.35,239.99 594.50,239.98 594.65,239.96 594.80,239.94 594.95,239.92 595.10,239.90 595.25,239.88 595.40,239.85 595.55,239.82 595.70,239.78 595.85,239.74 596.00,239.68 596.15,239.62 596.30,239.55 596.45,239.46 596.60,239.35 596.75,239.21 596.90,239.04 597.05,238.81 597.20,238.50 597.35,238.07 597.50,237.47 597.65,236.58 597.80,235.23 597.95,233.14 598.10,230.05 598.25,226.36 598.40,224.43 598.55,226.31 598.70,229.95 598.85,233.00 599.00,235.03 599.15,236.32 599.30,237.14 599.45,237.66 599.60,238.00 599.75,238.20 599.90,238.30 600.05,238.31 600.20,238.23 600.35,238.06 600.50,237.77 600.65,237.31 600.80,236.59 600.95,235.47 601.10,233.71 601.25,231.01 601.40,227.41 601.55,224.56 601.70,225.25 601.85,228.70 602.00,232.10 602.15,234.49 602.30,236.03 602.45,237.03 602.60,237.70 602.75,238.15 602.90,238.47 603.05,238.69 603.20,238.85 603.35,238.96 603.50,239.03 603.65,239.08 603.80,239.09 603.95,239.08 604.10,239.05 604.25,238.99 604.40,238.89 604.55,238.76 604.70,238.57 604.85,238.31 605.00,237.96 605.15,237.46 605.30,236.75 605.45,235.72 605.60,234.19 605.75,231.94 605.90,228.83 606.05,225.48 606.20,223.87 606.35,225.50 606.50,228.87 606.65,231.99 606.80,234.27 606.95,235.82 607.10,236.87 607.25,237.60 607.40,238.12 607.55,238.50 607.70,238.79 607.85,239.01 608.00,239.18 608.15,239.32 608.30,239.43 608.45,239.52 608.60,239.60 608.75,239.66 608.90,239.71 609.05,239.76 609.20,239.80 609.35,239.83 609.50,239.86 609.65,239.89 609.80,239.91 609.95,239.93 610.10,239.95 610.25,239.97 610.40,239.98 610.55,239.99 610.70,240.00 610.85,240.01 611.00,240.02 611.15,240.03 611.30,240.04 611.45,240.04 611.60,240.04 611.75,240.05 611.90,240.05 612.05,240.05 612.20,240.05 612.35,240.05 612.50,240.05 612.65,240.04 612.80,240.04 612.95,240.03 613.10,240.02 613.25,240.00 613.40,239.98 613.55,239.95 613.70,239.92 613.85,239.87 614.00,239.80 614.15,239.70 614.30,239.56 614.45,239.35 614.60,239.00 614.75,238.44 614.90,237.52 615.05,236.29 615.20,235.58 615.35,236.30 615.50,237.53 615.65,238.45 615.80,239.02 615.95,239.37 616.10,239.59 616.25,239.73 616.40,239.83 616.55,239.91 616.70,239.96 616.85,240.00 617.00,240.03 617.15,240.06 617.30,240.08 617.45,240.10 617.60,240.11 617.75,240.12 617.90,240.13 618.05,240.14 618.20,240.15 618.35,240.15 618.50,240.16 618.65,240.17 618.80,240.17 618.95,240.17 619.10,240.18 619.25,240.18 619.40,240.18 619.55,240.19 619.70,240.19 619.85,240.19 620.00,240.20 620.15,240.20 620.30,240.20 620.45,240.20 620.60,240.20 620.75,240.21 620.90,240.21 621.05,240.21 621.20,240.21 621.35,240.21 621.50,240.21 621.65,240.21 621.80,240.21 621.95,240.22 622.10,240.22 622.25,240.22 622.40,240.22 622.55,240.22 622.70,240.22 622.85,240.22 623.00,240.22 623.15,240.22 623.30,240.22 623.45,240.23 623.60,240.23 623.75,240.23 623.90,240.23 624.05,240.23 624.20,240.23 624.35,240.23 624.50,240.23 624.65,240.23 624.80,240.23 624.95,240.23 625.10,240.23 625.25,240.23 625.40,240.23 625.55,240.23 625.70,240.24 625.85,240.24 626.00,240.24 626.15,240.24 626.30,240.24 626.45,240.24 626.60,240.24 626.75,240.24 626.90,240.24 627.05,240.24 627.20,240.24 627.35,240.24 627.50,240.24 627.65,240.24 627.80,240.24 627.95,240.24 628.10,240.24 628.25,240.24 628.40,240.24 628.55,240.24 628.70,240.24 628.85,240.25 629.00,240.25 629.15,240.25 629.30,240.25 629.45,240.25 629.60,240.25 629.75,240.25 629.90,240.25 630.05,240.25 630.20,240.25 630.35,240.25 630.50,240.25 630.65,240.25 630.80,240.25 630.95,240.25 631.10,240.25 631.25,240.25 631.40,240.25 631.55,240.25 631.70,240.25 631.85,240.25 632.00,240.25 632.15,240.25 632.30,240.25 632.45,240.25 632.60,240.25 632.75,240.25 632.90,240.25 633.05,240.26 633.20,240.26 633.35,240.26 633.50,240.26 633.65,240.26 633.80,240.26 633.95,240.26 634.10,240.26 634.25,240.26 634.40,240.26 634.55,240.26 634.70,240.26 634.85,240.26 635.00,240.26 635.15,240.26 635.30,240.26 635.45,240.26 635.60,240.26 635.75,240.26 635.90,240.26 636.05,240.26 636.20,240.26 636.35,240.26 636.50,240.26 636.65,240.26 636.80,240.26 636.95,240.26 637.10,240.26 637.25,240.26 637.40,240.26 637.55,240.26 637.70,240.26 637.85,240.26 638.00,240.26 638.15,240.26 638.30,240.27 638.45,240.27 638.60,240.27 638.75,240.27 638.90,240.27 639.05,240.27 639.20,240.27 639.35,240.27 639.50,240.27 639.65,240.27 639.80,240.27 639.95,240.27 640.10,240.27 640.25,240.27 640.40,240.27 640.55,240.27 640.70,240.27 640.85,240.27 641.00,240.27 641.15,240.27 641.30,240.27 641.45,240.27 641.60,240.27 641.75,240.27 641.90,240.27 642.05,240.27 642.20,240.27 642.35,240.27 642.50,240.27 642.65,240.27 642.80,240.27 642.95,240.27 643.10,240.27 643.25,240.27 643.40,240.27 643.55,240.27 643.70,240.27 643.85,240.27 644.00,240.27 644.15,240.27 644.30,240.27 644.45,240.27 644.60,240.28 644.75,240.28 644.90,240.28 645.05,240.28 645.20,240.28 645.35,240.28 645.50,240.28 645.65,240.28 645.80,240.28 645.95,240.28 646.10,240.28 646.25,240.28 646.40,240.28 646.55,240.28 646.70,240.28 646.85,240.28 647.00,240.28 647.15,240.28 647.30,240.28 647.45,240.28 647.60,240.28 647.75,240.28 647.90,240.28 648.05,240.28 648.20,240.28 648.35,240.28 648.50,240.28 648.65,240.28 648.80,240.28 648.95,240.28 649.10,240.28 649.25,240.28 649.40,240.28 649.55,240.28 649.70,240.28 649.85,240.28 650.00,240.28 650.15,240.28 650.30,240.28 650.45,240.28 650.60,240.28 650.75,240.28 650.90,240.28 651.05,240.28 651.20,240.28 651.35,240.29 651.50,240.29 651.65,240.29 651.80,240.29 651.95,240.29 652.10,240.29 652.25,240.29 652.40,240.29 652.55,240.29 652.70,240.29 652.85,240.29 653.00,240.29 653.15,240.29 653.30,240.29 653.45,240.29 653.60,240.29 653.75,240.29 653.90,240.29 654.05,240.29 654.20,240.29 654.35,240.29 654.50,240.29 654.65,240.29 654.80,240.29 654.95,240.29 655.10,240.29 655.25,240.29 655.40,240.29 655.55,240.29 655.70,240.29 655.85,240.29 656.00,240.29 656.15,240.29 656.30,240.29 656.45,240.29 656.60,240.29" fill="none" stroke="#6b6b9b" stroke-width="1.1" stroke-linejoin="round" stroke-linecap="round" />
<polyline points="505.19,242.60 505.19,242.72 505.19,242.84 505.19,242.96 505.19,243.08 505.19,243.20 505.19,243.32 505.19,243.44 505.19,243.56 505.19,243.68 505.19,243.80 505.19,243.92 505.19,244.04 505.19,244.16 505.19,244.28 505.19,244.40 505.19,244.52 505.19,244.64 505.19,244.76 505.19,244.88 505.19,245.00 505.19,245.12 505.19,245.24 505.19,245.36 505.19,245.48 505.19,245.60 505.19,245.72 505.19,245.84 505.18,245.96 505.18,246.08 505.18,246.20 505.18,246.32 505.18,246.44 505.18,246.56 505.18,246.68 505.18,246.80 505.18,246.92 505.18,247.04 505.18,247.16 505.18,247.28 505.18,247.40 505.18,247.52 505.18,247.64 505.18,247.76 505.18,247.88 505.18,248.00 505.18,248.12 505.18,248.24 505.18,248.36 505.18,248.48 505.18,248.60 505.18,248.72 505.18,248.84 505.18,248.96 505.18,249.08 505.18,249.20 505.18,249.32 505.18,249.44 505.18,249.56 505.18,249.68 505.18,249.80 505.18,249.92 505.18,250.04 505.17,250.16 505.17,250.28 505.17,250.40 505.17,250.52 505.17,250.64 505.17,250.76 505.17,250.88 505.17,251.00 505.17,251.12 505.17,251.24 505.17,251.36 505.17,251.48 505.17,251.60 505.17,251.72 505.17,251.84 505.17,251.96 505.17,252.08 505.17,252.20 505.17,252.32 505.17,252.44 505.17,252.56 505.17,252.68 505.17,252.80 505.17,252.92 505.17,253.04 505.17,253.16 505.17,253.28 505.17,253.40 505.17,253.52 505.17,253.64 505.17,253.76 505.17,253.88 505.16,254.00 505.16,254.12 505.16,254.24 505.16,254.36 505.16,254.48 505.16,254.60 505.16,254.72 505.16,254.84 505.16,254.96 505.16,255.08 505.16,255.20 505.16,255.32 505.16,255.44 505.16,255.56 505.16,255.68 505.16,255.80 505.16,255.92 505.16,256.04 505.16,256.16 505.16,256.28 505.16,256.40 505.16,256.52 505.16,256.64 505.16,256.76 505.16,256.88 505.16,257.00 505.16,257.12 505.16,257.24 505.16,257.36 505.16,257.48 505.16,257.60 505.15,257.72 505.15,257.84 505.15,257.96 505.15,258.08 505.15,258.20 505.15,258.32 505.15,258.44 505.15,258.56 505.15,258.68 505.15,258.80 505.15,258.92 505.15,259.04 505.15,259.16 505.15,259.28 505.15,259.40 505.15,259.52 505.15,259.64 505.15,259.76 505.15,259.88 505.15,260.00 505.15,260.12 505.15,260.24 505.15,260.36 505.15,260.48 505.15,260.60 505.15,260.72 505.15,260.84 505.14,260.96 505.14,261.08 505.14,261.20 505.14,261.32 505.14,261.44 505.14,261.56 505.14,261.68 505.14,261.80 505.14,261.92 505.14,262.04 505.14,262.16 505.14,262.28 505.14,262.40 505.14,262.52 505.14,262.64 505.14,262.76 505.14,262.88 505.14,263.00 505.14,263.12 505.14,263.24 505.14,263.36 505.14,263.48 505.14,263.60 505.14,263.72 505.13,263.84 505.13,263.96 505.13,264.08 505.13,264.20 505.13,264.32 505.13,264.44 505.13,264.56 505.13,264.68 505.13,264.80 505.13,264.92 505.13,265.04 505.13,265.16 505.13,265.28 505.13,265.40 505.13,265.52 505.13,265.64 505.13,265.76 505.13,265.88 505.13,266.00 505.13,266.12 505.12,266.24 505.12,266.36 505.12,266.48 505.12,266.60 505.12,266.72 505.12,266.84 505.12,266.96 505.12,267.08 505.12,267.20 505.12,267.32 505.12,267.44 505.12,267.56 505.12,267.68 505.12,267.80 505.12,267.92 505.12,268.04 505.11,268.16 505.11,268.28 505.11,268.40 505.11,268.52 505.11,268.64 505.11,268.76 505.11,268.88 505.11,269.00 505.11,269.12 505.11,269.24 505.11,269.36 505.11,269.48 505.10,269.60 505.10,269.72 505.10,269.84 505.10,269.96 505.10,270.08 505.10,270.20 505.10,270.32 505.10,270.44 505.10,270.56 505.09,270.68 505.09,270.80 505.09,270.92 505.09,271.04 505.09,271.16 505.09,271.28 505.09,271.40 505.08,271.52 505.08,271.64 505.08,271.76 505.08,271.88 505.08,272.00 505.08,272.12 505.07,272.24 505.07,272.36 505.07,272.48 505.07,272.60 505.06,272.72 505.06,272.84 505.06,272.96 505.05,273.08 505.05,273.20 505.05,273.32 505.04,273.44 505.04,273.56 505.03,273.68 505.03,273.80 505.02,273.92 505.02,274.04 505.01,274.16 505.00,274.28 504.99,274.40 504.98,274.52 504.97,274.64 504.95,274.76 504.93,274.88 504.91,275.00 504.89,275.12 504.86,275.24 504.82,275.36 504.77,275.48 504.71,275.60 504.62,275.72 504.50,275.84 504.34,275.96 504.09,276.08 503.70,276.20 503.08,276.32 502.05,276.44 500.49,276.56 499.01,276.68 499.22,276.80 500.83,276.92 502.29,277.04 503.21,277.16 503.77,277.28 504.12,277.40 504.34,277.52 504.49,277.64 504.59,277.76 504.67,277.88 504.72,278.00 504.76,278.12 504.79,278.24 504.81,278.36 504.83,278.48 504.84,278.60 504.85,278.72 504.86,278.84 504.86,278.96 504.87,279.08 504.87,279.20 504.86,279.32 504.86,279.44 504.86,279.56 504.85,279.68 504.84,279.80 504.84,279.92 504.83,280.04 504.81,280.16 504.80,280.28 504.79,280.40 504.77,280.52 504.75,280.64 504.73,280.76 504.71,280.88 504.68,281.00 504.65,281.12 504.61,281.24 504.57,281.36 504.53,281.48 504.48,281.60 504.41,281.72 504.34,281.84 504.26,281.96 504.15,282.08 504.03,282.20 503.88,282.32 503.70,282.44 503.46,282.56 503.16,282.68 502.77,282.80 502.25,282.92 501.54,283.04 500.54,283.16 499.08,283.28 496.94,283.40 493.79,283.52 489.49,283.64 484.95,283.76 483.03,283.88 485.53,284.00 490.14,284.12 494.27,284.24 497.22,284.36 499.21,284.48 500.55,284.60 501.47,284.72 502.12,284.84 502.58,284.96 502.91,285.08 503.15,285.20 503.33,285.32 503.45,285.44 503.52,285.56 503.56,285.68 503.57,285.80 503.54,285.92 503.47,286.04 503.36,286.16 503.20,286.28 502.96,286.40 502.63,286.52 502.16,286.64 501.48,286.76 500.47,286.88 498.94,287.00 496.55,287.12 492.89,287.24 487.97,287.36 484.00,287.48 484.82,287.60 489.47,287.72 494.06,287.84 497.26,287.96 499.30,288.08 500.59,288.20 501.42,288.32 501.95,288.44 502.28,288.56 502.46,288.68 502.52,288.80 502.45,288.92 502.27,289.04 501.93,289.16 501.37,289.28 500.50,289.40 499.14,289.52 496.97,289.64 493.60,289.76 488.87,289.88 484.51,290.00 484.47,290.12 488.84,290.24 493.65,290.36 497.14,290.48 499.41,290.60 500.88,290.72 501.86,290.84 502.53,290.96 503.01,291.08 503.37,291.20 503.64,291.32 503.85,291.44 504.01,291.56 504.14,291.68 504.25,291.80 504.34,291.92 504.41,292.04 504.48,292.16 504.53,292.28 504.58,292.40 504.62,292.52 504.65,292.64 504.68,292.76 504.71,292.88 504.73,293.00 504.76,293.12 504.78,293.24 504.79,293.36 504.81,293.48 504.82,293.60 504.84,293.72 504.85,293.84 504.86,293.96 504.87,294.08 504.88,294.20 504.89,294.32 504.89,294.44 504.90,294.56 504.91,294.68 504.91,294.80 504.92,294.92 504.92,295.04 504.93,295.16 504.93,295.28 504.93,295.40 504.94,295.52 504.94,295.64 504.94,295.76 504.95,295.88 504.95,296.00 504.95,296.12 504.95,296.24 504.95,296.36 504.95,296.48 504.95,296.60 504.95,296.72 504.95,296.84 504.95,296.96 504.95,297.08 504.95,297.20 504.95,297.32 504.95,297.44 504.94,297.56 504.94,297.68 504.93,297.80 504.93,297.92 504.92,298.04 504.91,298.16 504.90,298.28 504.89,298.40 504.87,298.52 504.85,298.64 504.82,298.76 504.79,298.88 504.75,299.00 504.70,299.12 504.62,299.24 504.53,299.36 504.39,299.48 504.18,299.60 503.87,299.72 503.37,299.84 502.54,299.96 501.21,300.08 499.53,300.20 498.85,300.32 500.08,300.44 501.72,300.56 502.87,300.68 503.57,300.80 503.99,300.92 504.27,301.04 504.45,301.16 504.57,301.28 504.66,301.40 504.73,301.52 504.78,301.64 504.82,301.76 504.85,301.88 504.88,302.00 504.90,302.12 504.91,302.24 504.93,302.36 504.94,302.48 504.95,302.60 504.96,302.72 504.97,302.84 504.97,302.96 504.98,303.08 504.98,303.20 504.99,303.32 504.99,303.44 504.99,303.56 505.00,303.68 505.00,303.80 505.00,303.92 505.01,304.04 505.01,304.16 505.01,304.28 505.01,304.40 505.01,304.52 505.02,304.64 505.01,304.76 505.00,304.88 504.99,305.00 504.98,305.12 504.97,305.24 504.96,305.36 504.96,305.48 504.95,305.60 504.94,305.72 504.93,305.84 504.92,305.96 504.91,306.08 504.90,306.20 504.89,306.32 504.88,306.44 504.87,306.56 504.86,306.68 504.85,306.80 504.84,306.92 504.83,307.04 504.82,307.16 504.81,307.28 504.81,307.40 504.80,307.52 504.79,307.64 504.78,307.76 504.77,307.88 504.76,308.00 504.75,308.12 504.74,308.24 504.73,308.36 504.72,308.48 504.71,308.60 504.70,308.72 504.69,308.84 504.68,308.96 504.67,309.08 504.66,309.20 504.65,309.32 504.64,309.44 504.63,309.56 504.62,309.68 504.61,309.80 504.60,309.92 504.59,310.04 504.58,310.16 504.57,310.28 504.56,310.40 504.55,310.52 504.54,310.64 504.53,310.76 504.52,310.88 504.51,311.00 504.46,311.12 504.40,311.24 504.35,311.36 504.29,311.48 504.24,311.60 504.18,311.72 504.12,311.84 504.07,311.96 504.01,312.08 503.96,312.20 503.90,312.32 503.84,312.44 503.79,312.56 503.73,312.68 503.68,312.80 503.62,312.92 503.56,313.04 503.51,313.16 503.45,313.28 503.40,313.40 503.34,313.52 503.28,313.64 503.23,313.76 503.17,313.88 503.12,314.00 503.06,314.12 502.96,314.24 502.80,314.36 502.63,314.48 502.47,314.60 502.31,314.72 502.14,314.84 501.98,314.96 501.82,315.08 501.65,315.20 501.49,315.32 501.33,315.44 501.16,315.56 501.00,315.68 500.84,315.80 500.67,315.92 500.51,316.04 500.35,316.16 500.18,316.28 500.02,316.40 499.86,316.52 499.69,316.64 499.53,316.76 499.37,316.88 499.21,317.00 499.04,317.12 498.88,317.24 498.72,317.36 498.41,317.48 498.11,317.60 497.80,317.72 497.50,317.84 497.19,317.96 496.88,318.08 496.58,318.20 496.27,318.32 495.97,318.44 495.66,318.56 495.35,318.68 495.05,318.80 494.74,318.92 494.43,319.04 494.13,319.16 493.82,319.28 493.52,319.40 493.21,319.52 492.90,319.64 492.60,319.76 492.29,319.88 491.99,320.00 491.68,320.12 491.37,320.24 491.07,320.36 490.76,320.48 490.46,320.60 490.15,320.72 489.84,320.84 489.54,320.96 489.23,321.08 488.93,321.20 488.62,321.32 488.31,321.44 488.01,321.56 487.70,321.68 487.39,321.80 487.09,321.92 486.78,322.04 486.51,322.16 486.31,322.28 486.12,322.40 485.93,322.52 485.73,322.64 485.54,322.76 485.34,322.88 485.15,323.00 484.96,323.12 484.76,323.24 484.57,323.36 484.38,323.48 484.18,323.60 484.00,323.72 483.98,323.84 483.97,323.96 483.96,324.08 483.94,324.20 483.93,324.32 483.92,324.44 483.90,324.56 483.89,324.68 483.88,324.80 483.86,324.92 483.85,325.04 483.84,325.16 483.82,325.28 483.81,325.40 483.79,325.52 483.78,325.64 483.77,325.76 483.75,325.88 483.74,326.00 483.74,326.12 483.80,326.24 483.85,326.36 483.90,326.48 483.96,326.60 484.01,326.72 484.07,326.84 484.12,326.96 484.18,327.08 484.23,327.20 484.29,327.32 484.34,327.44 484.39,327.56 484.45,327.68 484.50,327.80 484.56,327.92 484.61,328.04 484.67,328.16 484.72,328.28 484.78,328.40 484.83,328.52 484.88,328.64 484.94,328.76 484.99,328.88 485.05,329.00 485.10,329.12 485.16,329.24 485.21,329.36 485.27,329.48 485.32,329.60 485.38,329.72 485.43,329.84 485.48,329.96 485.54,330.08 485.59,330.20 485.65,330.32 485.70,330.44 485.76,330.56 485.81,330.68 485.87,330.80 485.85,330.92 485.77,331.04 485.68,331.16 485.60,331.28 485.52,331.40 485.44,331.52 485.36,331.64 485.28,331.76 485.19,331.88 485.11,332.00 485.03,332.12 484.95,332.24 484.87,332.36 484.79,332.48 484.70,332.60 484.62,332.72 484.54,332.84 484.46,332.96 484.38,333.08 484.30,333.20 484.25,333.32 484.23,333.44 484.20,333.56 484.17,333.68 484.14,333.80 484.12,333.92 484.09,334.04 484.06,334.16 484.03,334.28 484.01,334.40 483.98,334.52 483.95,334.64 483.93,334.76 483.90,334.88 483.87,335.00 483.84,335.12 483.82,335.24 483.79,335.36 483.76,335.48 483.74,335.60 483.77,335.72 483.81,335.84 483.85,335.96 483.89,336.08 483.93,336.20 483.97,336.32 484.01,336.44 484.05,336.56 484.09,336.68 484.13,336.80 484.17,336.92 484.22,337.04 484.26,337.16 484.30,337.28 484.34,337.40 484.38,337.52 484.42,337.64 484.46,337.76 484.50,337.88 484.54,338.00 484.72,338.12 484.90,338.24 485.08,338.36 485.26,338.48 485.44,338.60 485.61,338.72 485.79,338.84 485.97,338.96 486.15,339.08 486.33,339.20 486.51,339.32 486.69,339.44 486.86,339.56 487.04,339.68 487.22,339.80 487.40,339.92 487.58,340.04 487.76,340.16 487.94,340.28 488.12,340.40 488.29,340.52 488.47,340.64 488.65,340.76 488.83,340.88 489.01,341.00 489.19,341.12 489.41,341.24 489.66,341.36 489.92,341.48 490.17,341.60 490.43,341.72 490.68,341.84 490.94,341.96 491.19,342.08 491.45,342.20 491.70,342.32 491.96,342.44 492.21,342.56 492.47,342.68 492.72,342.80 492.98,342.92 493.23,343.04 493.49,343.16 493.75,343.28 494.00,343.40 494.26,343.52 494.51,343.64 494.77,343.76 495.02,343.88 495.28,344.00 495.53,344.12 495.79,344.24 496.03,344.36 496.20,344.48 496.36,344.60 496.52,344.72 496.69,344.84 496.85,344.96 497.01,345.08 497.18,345.20 497.34,345.32 497.50,345.44 497.67,345.56 497.83,345.68 497.99,345.80 498.16,345.92 498.32,346.04 498.48,346.16 498.65,346.28 498.81,346.40 498.97,346.52 499.14,346.64 499.30,346.76 499.46,346.88 499.63,347.00 499.79,347.12 499.95,347.24 500.12,347.36 500.28,347.48 500.44,347.60 500.61,347.72 500.77,347.84 500.93,347.96 501.10,348.08 501.26,348.20 501.42,348.32 501.49,348.44 501.57,348.56 501.64,348.68 501.71,348.80 501.79,348.92 501.86,349.04 501.93,349.16 502.01,349.28 502.08,349.40 502.15,349.52 502.23,349.64 502.30,349.76 502.37,349.88 502.45,350.00 502.52,350.12 502.60,350.24 502.67,350.36 502.74,350.48 502.82,350.60 502.89,350.72 502.96,350.84 503.04,350.96 503.11,351.08 503.18,351.20 503.26,351.32 503.33,351.44 503.40,351.56 503.48,351.68 503.55,351.80 503.62,351.92 503.70,352.04 503.77,352.16 503.84,352.28 503.88,352.40 503.90,352.52 503.93,352.64 503.96,352.76 503.99,352.88 504.02,353.00 504.05,353.12 504.08,353.24 504.10,353.36 504.13,353.48 504.16,353.60 504.19,353.72 504.22,353.84 504.25,353.96 504.28,354.08 504.30,354.20 504.33,354.32 504.36,354.44 504.39,354.56 504.42,354.68 504.45,354.80 504.48,354.92 504.50,355.04 504.53,355.16 504.56,355.28 504.59,355.40 504.62,355.52 504.65,355.64 504.68,355.76 504.70,355.88 504.73,356.00 504.76,356.12 504.79,356.24 504.80,356.36 504.81,356.48 504.82,356.60 504.82,356.72 504.83,356.84 504.84,356.96 504.85,357.08 504.86,357.20 504.86,357.32 504.87,357.44 504.88,357.56 504.89,357.68 504.89,357.80 504.90,357.92 504.91,358.04 504.92,358.16 504.93,358.28 504.93,358.40 504.94,358.52 504.95,358.64 504.96,358.76 504.97,358.88 504.97,359.00 504.98,359.12 504.99,359.24 505.00,359.36 505.00,359.48 505.01,359.60 505.02,359.72 505.03,359.84 505.04,359.96 505.04,360.08 505.05,360.20 505.06,360.32 505.07,360.44 505.08,360.56 505.08,360.68 505.09,360.80 505.10,360.92 505.11,361.04 505.11,361.16 505.12,361.28 505.13,361.40 505.14,361.52 505.15,361.64 505.15,361.76 505.16,361.88 505.17,362.00 505.18,362.12 505.19,362.24 505.19,362.36 505.20,362.48 505.20,362.60 505.20,362.72 505.20,362.84 505.20,362.96" fill="none" stroke="#6b6b9b" stroke-width="1.1" stroke-linejoin="round" stroke-linecap="round" />
<line x1="506.50" y1="285.20" x2="600.40" y2="285.20" stroke="#a8d890" stroke-width="1.1" stroke-dasharray="4.4,2"/>
<line x1="606.20" y1="242.60" x2="606.20" y2="280.50" stroke="#a8d890" stroke-width="1.1" stroke-dasharray="4.4,2"/>
<circle cx="606.60" cy="284.70" r="3.20" fill="none" stroke="#a8d890" stroke-width="0.8" stroke-dasharray="0.8,0.8"/>
<line x1="600.40" y1="277.60" x2="600.40" y2="299.50" stroke="#888" stroke-width="0.5" />
<ellipse cx="600.4" cy="289" rx="1.1" ry="6" fill="#222"/>
<text x="511" y="253.7" font-size="8.2" font-weight="bold" fill="#000" text-anchor="start" font-family='"Liberation Sans", sans-serif' >Control-Perovskite</text>
<rect x="558.90" y="256.30" width="11.20" height="8.20" fill="#f9c8ae" stroke="none" stroke-width="1" />
<rect x="547.90" y="270.10" width="12.30" height="8.40" fill="#fde3a6" stroke="none" stroke-width="1" />
<rect x="568.90" y="270.10" width="12.30" height="8.40" fill="#eceef4" stroke="none" stroke-width="1" />
<text x="564.5" y="262.59999999999997" font-size="6.4" font-weight="normal" fill="#222" text-anchor="middle" font-family='"Liberation Sans", sans-serif' >H</text>
<line x1="564.50" y1="264.50" x2="564.50" y2="269.50" stroke="#444" stroke-width="0.6" />
<path d="M560.3,273.7 A4.2,4.2 0 0 1 568.7,273.7" fill="none" stroke="#444" stroke-width="0.6" stroke-dasharray="0.9,0.6"/>
<circle cx="564.50" cy="273.70" r="1.90" fill="none" stroke="#444" stroke-width="0.5" />
<line x1="563.40" y1="273.70" x2="565.60" y2="273.70" stroke="#444" stroke-width="0.4" />
<line x1="564.50" y1="272.60" x2="564.50" y2="274.80" stroke="#444" stroke-width="0.4" />
<line x1="560.30" y1="273.70" x2="559.60" y2="274.70" stroke="#444" stroke-width="0.5" />
<line x1="568.70" y1="273.70" x2="569.40" y2="274.70" stroke="#444" stroke-width="0.5" />
<text x="554.0" y="276.5" font-size="5.9" fill="#222" font-family='"Liberation Sans", sans-serif' text-anchor="middle">H<tspan font-size="3.8" dy="1">2</tspan><tspan dy="-1">N</tspan></text>
<text x="575.0" y="276.5" font-size="5.9" fill="#222" font-family='"Liberation Sans", sans-serif' text-anchor="middle">NH<tspan font-size="3.8" dy="1">2</tspan></text>
<line x1="506.50" y1="363.00" x2="506.50" y2="365.20" stroke="#000" stroke-width="0.9" />
<text x="506.5" y="373.8" font-size="8.2" font-weight="bold" fill="#000" text-anchor="middle" font-family='"Liberation Sans", sans-serif' >9.5</text>
<line x1="521.67" y1="363.00" x2="521.67" y2="364.30" stroke="#000" stroke-width="0.8" />
<line x1="536.84" y1="363.00" x2="536.84" y2="365.20" stroke="#000" stroke-width="0.9" />
<text x="536.84" y="373.8" font-size="8.2" font-weight="bold" fill="#000" text-anchor="middle" font-family='"Liberation Sans", sans-serif' >9.0</text>
<line x1="552.01" y1="363.00" x2="552.01" y2="364.30" stroke="#000" stroke-width="0.8" />
<line x1="567.18" y1="363.00" x2="567.18" y2="365.20" stroke="#000" stroke-width="0.9" />
<text x="567.1800000000001" y="373.8" font-size="8.2" font-weight="bold" fill="#000" text-anchor="middle" font-family='"Liberation Sans", sans-serif' >8.5</text>
<line x1="582.35" y1="363.00" x2="582.35" y2="364.30" stroke="#000" stroke-width="0.8" />
<line x1="597.52" y1="363.00" x2="597.52" y2="365.20" stroke="#000" stroke-width="0.9" />
<text x="597.52" y="373.8" font-size="8.2" font-weight="bold" fill="#000" text-anchor="middle" font-family='"Liberation Sans", sans-serif' >8.0</text>
<line x1="612.69" y1="363.00" x2="612.69" y2="364.30" stroke="#000" stroke-width="0.8" />
<line x1="627.86" y1="363.00" x2="627.86" y2="365.20" stroke="#000" stroke-width="0.9" />
<text x="627.86" y="373.8" font-size="8.2" font-weight="bold" fill="#000" text-anchor="middle" font-family='"Liberation Sans", sans-serif' >7.5</text>
<line x1="643.03" y1="363.00" x2="643.03" y2="364.30" stroke="#000" stroke-width="0.8" />
<line x1="658.20" y1="363.00" x2="658.20" y2="365.20" stroke="#000" stroke-width="0.9" />
<text x="658.2" y="373.8" font-size="8.2" font-weight="bold" fill="#000" text-anchor="middle" font-family='"Liberation Sans", sans-serif' >7.0</text>
<line x1="658.20" y1="242.60" x2="660.40" y2="242.60" stroke="#000" stroke-width="0.9" />
<text x="661.6" y="245.4" font-size="8.2" font-weight="bold" fill="#000" text-anchor="start" font-family='"Liberation Sans", sans-serif' >7.0</text>
<line x1="658.20" y1="254.64" x2="659.50" y2="254.64" stroke="#000" stroke-width="0.8" />
<line x1="658.20" y1="266.68" x2="660.40" y2="266.68" stroke="#000" stroke-width="0.9" />
<text x="661.6" y="269.48" font-size="8.2" font-weight="bold" fill="#000" text-anchor="start" font-family='"Liberation Sans", sans-serif' >7.5</text>
<line x1="658.20" y1="278.72" x2="659.50" y2="278.72" stroke="#000" stroke-width="0.8" />
<line x1="658.20" y1="290.76" x2="660.40" y2="290.76" stroke="#000" stroke-width="0.9" />
<text x="661.6" y="293.56" font-size="8.2" font-weight="bold" fill="#000" text-anchor="start" font-family='"Liberation Sans", sans-serif' >8.0</text>
<line x1="658.20" y1="302.80" x2="659.50" y2="302.80" stroke="#000" stroke-width="0.8" />
<line x1="658.20" y1="314.84" x2="660.40" y2="314.84" stroke="#000" stroke-width="0.9" />
<text x="661.6" y="317.64000000000004" font-size="8.2" font-weight="bold" fill="#000" text-anchor="start" font-family='"Liberation Sans", sans-serif' >8.5</text>
<line x1="658.20" y1="326.88" x2="659.50" y2="326.88" stroke="#000" stroke-width="0.8" />
<line x1="658.20" y1="338.92" x2="660.40" y2="338.92" stroke="#000" stroke-width="0.9" />
<text x="661.6" y="341.72" font-size="8.2" font-weight="bold" fill="#000" text-anchor="start" font-family='"Liberation Sans", sans-serif' >9.0</text>
<line x1="658.20" y1="350.96" x2="659.50" y2="350.96" stroke="#000" stroke-width="0.8" />
<line x1="658.20" y1="363.00" x2="660.40" y2="363.00" stroke="#000" stroke-width="0.9" />
<text x="661.6" y="365.8" font-size="8.2" font-weight="bold" fill="#000" text-anchor="start" font-family='"Liberation Sans", sans-serif' >9.5</text>
<rect x="506.50" y="242.60" width="151.70" height="120.40" fill="none" stroke="#000" stroke-width="1.6" />
<text x="582" y="382.5" font-size="8" font-weight="bold" font-family='"Liberation Sans", sans-serif' text-anchor="middle"><tspan font-size="5.2" dy="-3">1</tspan><tspan dy="3">H </tspan><tspan font-style="italic">&#948;</tspan> (ppm)</text>
<text x="682" y="303" font-size="8" font-weight="bold" font-family='"Liberation Sans", sans-serif' text-anchor="middle" transform="rotate(-90 682 303)"><tspan font-size="5.2" dy="-3">1</tspan><tspan dy="3">H </tspan><tspan font-style="italic">&#948;</tspan> (ppm)</text>
<text x="485.2" y="242.8" font-size="13.4" font-family='"Liberation Sans", sans-serif' fill="#000" stroke="#000" stroke-width="0.45">i</text>
<rect x="530.10" y="384.80" width="12.80" height="16.90" fill="#eceef4" stroke="none" stroke-width="1" />
<rect x="553.50" y="384.80" width="9.60" height="16.90" fill="#fde5a6" stroke="none" stroke-width="1" />
<rect x="600.70" y="384.80" width="10.10" height="16.90" fill="#f9cab4" stroke="none" stroke-width="1" />
<rect x="483.70" y="441.00" width="21.00" height="4.70" fill="#f9cab4" stroke="none" stroke-width="1" />
<rect x="483.70" y="477.70" width="21.00" height="8.00" fill="#fde5a6" stroke="none" stroke-width="1" />
<rect x="483.70" y="493.70" width="21.00" height="9.20" fill="#eceef4" stroke="none" stroke-width="1" />
<clipPath id="clipkt"><rect x="500" y="383" width="165" height="20"/></clipPath>
<g clip-path="url(#clipkt)">
<polyline points="507.20,401.17 507.32,401.17 507.44,401.17 507.56,401.17 507.68,401.17 507.80,401.17 507.92,401.17 508.04,401.17 508.16,401.17 508.28,401.17 508.40,401.17 508.52,401.17 508.64,401.17 508.76,401.17 508.88,401.16 509.00,401.16 509.12,401.16 509.24,401.16 509.36,401.16 509.48,401.16 509.60,401.16 509.72,401.16 509.84,401.16 509.96,401.16 510.08,401.16 510.20,401.16 510.32,401.16 510.44,401.16 510.56,401.16 510.68,401.16 510.80,401.16 510.92,401.16 511.04,401.16 511.16,401.16 511.28,401.16 511.40,401.16 511.52,401.16 511.64,401.16 511.76,401.16 511.88,401.16 512.00,401.16 512.12,401.16 512.24,401.16 512.36,401.16 512.48,401.16 512.60,401.15 512.72,401.15 512.84,401.15 512.96,401.15 513.08,401.15 513.20,401.15 513.32,401.15 513.44,401.15 513.56,401.15 513.68,401.15 513.80,401.15 513.92,401.15 514.04,401.15 514.16,401.15 514.28,401.15 514.40,401.15 514.52,401.15 514.64,401.15 514.76,401.15 514.88,401.15 515.00,401.15 515.12,401.15 515.24,401.14 515.36,401.14 515.48,401.14 515.60,401.14 515.72,401.14 515.84,401.14 515.96,401.14 516.08,401.14 516.20,401.14 516.32,401.14 516.44,401.14 516.56,401.14 516.68,401.14 516.80,401.14 516.92,401.14 517.04,401.14 517.16,401.13 517.28,401.13 517.40,401.13 517.52,401.13 517.64,401.13 517.76,401.13 517.88,401.13 518.00,401.13 518.12,401.13 518.24,401.13 518.36,401.13 518.48,401.13 518.60,401.13 518.72,401.12 518.84,401.12 518.96,401.12 519.08,401.12 519.20,401.12 519.32,401.12 519.44,401.12 519.56,401.12 519.68,401.12 519.80,401.12 519.92,401.11 520.04,401.11 520.16,401.11 520.28,401.11 520.40,401.11 520.52,401.11 520.64,401.11 520.76,401.11 520.88,401.10 521.00,401.10 521.12,401.10 521.24,401.10 521.36,401.10 521.48,401.10 521.60,401.10 521.72,401.10 521.84,401.09 521.96,401.09 522.08,401.09 522.20,401.09 522.32,401.09 522.44,401.09 522.56,401.08 522.68,401.08 522.80,401.08 522.92,401.08 523.04,401.08 523.16,401.07 523.28,401.07 523.40,401.07 523.52,401.07 523.64,401.07 523.76,401.06 523.88,401.06 524.00,401.06 524.12,401.06 524.24,401.05 524.36,401.05 524.48,401.05 524.60,401.05 524.72,401.04 524.84,401.04 524.96,401.04 525.08,401.03 525.20,401.03 525.32,401.03 525.44,401.02 525.56,401.02 525.68,401.02 525.80,401.01 525.92,401.01 526.04,401.01 526.16,401.00 526.28,401.00 526.40,400.99 526.52,400.99 526.64,400.98 526.76,400.98 526.88,400.97 527.00,400.97 527.12,400.96 527.24,400.96 527.36,400.95 527.48,400.95 527.60,400.94 527.72,400.93 527.84,400.93 527.96,400.92 528.08,400.91 528.20,400.90 528.32,400.90 528.44,400.89 528.56,400.88 528.68,400.87 528.80,400.86 528.92,400.85 529.04,400.84 529.16,400.83 529.28,400.82 529.40,400.81 529.52,400.79 529.64,400.78 529.76,400.77 529.88,400.75 530.00,400.74 530.12,400.72 530.24,400.71 530.36,400.69 530.48,400.67 530.60,400.65 530.72,400.63 530.84,400.61 530.96,400.58 531.08,400.56 531.20,400.53 531.32,400.51 531.44,400.48 531.56,400.44 531.68,400.41 531.80,400.38 531.92,400.34 532.04,400.30 532.16,400.25 532.28,400.20 532.40,400.15 532.52,400.10 532.64,400.04 532.76,399.97 532.88,399.90 533.00,399.83 533.12,399.74 533.24,399.65 533.36,399.56 533.48,399.45 533.60,399.33 533.72,399.20 533.84,399.06 533.96,398.90 534.08,398.72 534.20,398.53 534.32,398.31 534.44,398.08 534.56,397.81 534.68,397.51 534.80,397.18 534.92,396.81 535.04,396.40 535.16,395.95 535.28,395.45 535.40,394.89 535.52,394.29 535.64,393.65 535.76,392.97 535.88,392.28 536.00,391.59 536.12,390.95 536.24,390.38 536.36,389.94 536.48,389.65 536.60,389.55 536.72,389.65 536.84,389.93 536.96,390.38 537.08,390.94 537.20,391.59 537.32,392.27 537.44,392.97 537.56,393.64 537.68,394.28 537.80,394.88 537.92,395.43 538.04,395.94 538.16,396.39 538.28,396.80 538.40,397.17 538.52,397.50 538.64,397.79 538.76,398.06 538.88,398.29 539.00,398.51 539.12,398.70 539.24,398.87 539.36,399.03 539.48,399.17 539.60,399.30 539.72,399.42 539.84,399.53 539.96,399.62 540.08,399.71 540.20,399.79 540.32,399.87 540.44,399.94 540.56,400.00 540.68,400.06 540.80,400.11 540.92,400.16 541.04,400.21 541.16,400.25 541.28,400.29 541.40,400.33 541.52,400.36 541.64,400.39 541.76,400.43 541.88,400.45 542.00,400.48 542.12,400.50 542.24,400.53 542.36,400.55 542.48,400.57 542.60,400.59 542.72,400.61 542.84,400.62 542.96,400.64 543.08,400.65 543.20,400.67 543.32,400.68 543.44,400.69 543.56,400.70 543.68,400.72 543.80,400.73 543.92,400.74 544.04,400.74 544.16,400.75 544.28,400.76 544.40,400.77 544.52,400.78 544.64,400.78 544.76,400.79 544.88,400.79 545.00,400.80 545.12,400.80 545.24,400.81 545.36,400.81 545.48,400.82 545.60,400.82 545.72,400.82 545.84,400.83 545.96,400.83 546.08,400.83 546.20,400.83 546.32,400.83 546.44,400.84 546.56,400.84 546.68,400.84 546.80,400.84 546.92,400.84 547.04,400.84 547.16,400.84 547.28,400.84 547.40,400.84 547.52,400.84 547.64,400.83 547.76,400.83 547.88,400.83 548.00,400.83 548.12,400.83 548.24,400.82 548.36,400.82 548.48,400.82 548.60,400.81 548.72,400.81 548.84,400.80 548.96,400.80 549.08,400.79 549.20,400.79 549.32,400.78 549.44,400.78 549.56,400.77 549.68,400.76 549.80,400.75 549.92,400.75 550.04,400.74 550.16,400.73 550.28,400.72 550.40,400.71 550.52,400.69 550.64,400.68 550.76,400.67 550.88,400.65 551.00,400.64 551.12,400.62 551.24,400.61 551.36,400.59 551.48,400.57 551.60,400.55 551.72,400.53 551.84,400.51 551.96,400.48 552.08,400.46 552.20,400.43 552.32,400.40 552.44,400.37 552.56,400.34 552.68,400.30 552.80,400.26 552.92,400.22 553.04,400.17 553.16,400.13 553.28,400.07 553.40,400.02 553.52,399.96 553.64,399.89 553.76,399.82 553.88,399.74 554.00,399.66 554.12,399.57 554.24,399.47 554.36,399.36 554.48,399.24 554.60,399.11 554.72,398.96 554.84,398.81 554.96,398.63 555.08,398.44 555.20,398.23 555.32,398.00 555.44,397.75 555.56,397.47 555.68,397.17 555.80,396.84 555.92,396.48 556.04,396.10 556.16,395.69 556.28,395.26 556.40,394.82 556.52,394.38 556.64,393.94 556.76,393.53 556.88,393.17 557.00,392.88 557.12,392.67 557.24,392.56 557.36,392.56 557.48,392.67 557.60,392.88 557.72,393.18 557.84,393.54 557.96,393.95 558.08,394.38 558.20,394.83 558.32,395.27 558.44,395.70 558.56,396.11 558.68,396.50 558.80,396.85 558.92,397.18 559.04,397.49 559.16,397.77 559.28,398.02 559.40,398.25 559.52,398.46 559.64,398.65 559.76,398.83 559.88,398.98 560.00,399.13 560.12,399.26 560.24,399.38 560.36,399.49 560.48,399.59 560.60,399.69 560.72,399.77 560.84,399.85 560.96,399.92 561.08,399.99 561.20,400.05 561.32,400.11 561.44,400.16 561.56,400.21 561.68,400.26 561.80,400.30 561.92,400.34 562.04,400.38 562.16,400.41 562.28,400.45 562.40,400.48 562.52,400.51 562.64,400.53 562.76,400.56 562.88,400.58 563.00,400.61 563.12,400.63 563.24,400.65 563.36,400.67 563.48,400.69 563.60,400.70 563.72,400.72 563.84,400.74 563.96,400.75 564.08,400.76 564.20,400.78 564.32,400.79 564.44,400.80 564.56,400.81 564.68,400.83 564.80,400.84 564.92,400.85 565.04,400.86 565.16,400.87 565.28,400.87 565.40,400.88 565.52,400.89 565.64,400.90 565.76,400.91 565.88,400.91 566.00,400.92 566.12,400.93 566.24,400.93 566.36,400.94 566.48,400.95 566.60,400.95 566.72,400.96 566.84,400.96 566.96,400.97 567.08,400.97 567.20,400.98 567.32,400.98 567.44,400.99 567.56,400.99 567.68,400.99 567.80,401.00 567.92,401.00 568.04,401.01 568.16,401.01 568.28,401.01 568.40,401.02 568.52,401.02 568.64,401.02 568.76,401.03 568.88,401.03 569.00,401.03 569.12,401.03 569.24,401.04 569.36,401.04 569.48,401.04 569.60,401.04 569.72,401.05 569.84,401.05 569.96,401.05 570.08,401.05 570.20,401.06 570.32,401.06 570.44,401.06 570.56,401.06 570.68,401.06 570.80,401.07 570.92,401.07 571.04,401.07 571.16,401.07 571.28,401.07 571.40,401.08 571.52,401.08 571.64,401.08 571.76,401.08 571.88,401.08 572.00,401.08 572.12,401.08 572.24,401.09 572.36,401.09 572.48,401.09 572.60,401.09 572.72,401.09 572.84,401.09 572.96,401.09 573.08,401.09 573.20,401.10 573.32,401.10 573.44,401.10 573.56,401.10 573.68,401.10 573.80,401.10 573.92,401.10 574.04,401.10 574.16,401.10 574.28,401.10 574.40,401.11 574.52,401.11 574.64,401.11 574.76,401.11 574.88,401.11 575.00,401.11 575.12,401.11 575.24,401.11 575.36,401.11 575.48,401.11 575.60,401.11 575.72,401.11 575.84,401.11 575.96,401.11 576.08,401.12 576.20,401.12 576.32,401.12 576.44,401.12 576.56,401.12 576.68,401.12 576.80,401.12 576.92,401.12 577.04,401.12 577.16,401.12 577.28,401.12 577.40,401.12 577.52,401.12 577.64,401.12 577.76,401.12 577.88,401.12 578.00,401.12 578.12,401.12 578.24,401.12 578.36,401.12 578.48,401.12 578.60,401.12 578.72,401.12 578.84,401.12 578.96,401.12 579.08,401.13 579.20,401.13 579.32,401.13 579.44,401.13 579.56,401.13 579.68,401.13 579.80,401.13 579.92,401.13 580.04,401.13 580.16,401.13 580.28,401.13 580.40,401.13 580.52,401.13 580.64,401.13 580.76,401.13 580.88,401.13 581.00,401.13 581.12,401.13 581.24,401.13 581.36,401.13 581.48,401.13 581.60,401.13 581.72,401.12 581.84,401.12 581.96,401.12 582.08,401.12 582.20,401.12 582.32,401.12 582.44,401.12 582.56,401.12 582.68,401.12 582.80,401.12 582.92,401.12 583.04,401.12 583.16,401.11 583.28,401.11 583.40,401.11 583.52,401.11 583.64,401.11 583.76,401.10 583.88,401.10 584.00,401.09 584.12,401.08 584.24,401.08 584.36,401.06 584.48,401.05 584.60,401.03 584.72,401.00 584.84,400.96 584.96,400.89 585.08,400.79 585.20,400.63 585.32,400.39 585.44,400.17 585.56,400.17 585.68,400.39 585.80,400.63 585.92,400.79 586.04,400.89 586.16,400.95 586.28,401.00 586.40,401.02 586.52,401.04 586.64,401.06 586.76,401.07 586.88,401.08 587.00,401.08 587.12,401.09 587.24,401.09 587.36,401.09 587.48,401.10 587.60,401.10 587.72,401.10 587.84,401.10 587.96,401.10 588.08,401.10 588.20,401.10 588.32,401.10 588.44,401.10 588.56,401.10 588.68,401.10 588.80,401.10 588.92,401.10 589.04,401.10 589.16,401.10 589.28,401.10 589.40,401.10 589.52,401.10 589.64,401.10 589.76,401.10 589.88,401.09 590.00,401.09 590.12,401.09 590.24,401.09 590.36,401.09 590.48,401.09 590.60,401.09 590.72,401.08 590.84,401.08 590.96,401.08 591.08,401.08 591.20,401.08 591.32,401.07 591.44,401.07 591.56,401.07 591.68,401.07 591.80,401.07 591.92,401.06 592.04,401.06 592.16,401.06 592.28,401.05 592.40,401.05 592.52,401.05 592.64,401.04 592.76,401.04 592.88,401.04 593.00,401.03 593.12,401.03 593.24,401.02 593.36,401.02 593.48,401.01 593.60,401.01 593.72,401.00 593.84,401.00 593.96,400.99 594.08,400.99 594.20,400.98 594.32,400.97 594.44,400.96 594.56,400.96 594.68,400.95 594.80,400.94 594.92,400.93 595.04,400.92 595.16,400.91 595.28,400.90 595.40,400.88 595.52,400.87 595.64,400.85 595.76,400.84 595.88,400.82 596.00,400.80 596.12,400.78 596.24,400.76 596.36,400.73 596.48,400.71 596.60,400.68 596.72,400.64 596.84,400.61 596.96,400.57 597.08,400.52 597.20,400.47 597.32,400.41 597.44,400.35 597.56,400.27 597.68,400.19 597.80,400.09 597.92,399.98 598.04,399.84 598.16,399.68 598.28,399.49 598.40,399.26 598.52,398.97 598.64,398.62 598.76,398.17 598.88,397.60 599.00,396.85 599.12,395.84 599.24,394.46 599.36,392.53 599.48,389.79 599.60,385.93 599.72,380.78 599.84,380.00 599.96,380.00 600.08,380.00 600.20,380.00 600.32,382.52 600.44,387.21 600.56,390.62 600.68,393.01 600.80,394.68 600.92,395.87 601.04,396.72 601.16,397.33 601.28,397.77 601.40,398.08 601.52,398.29 601.64,398.40 601.76,398.42 601.88,398.34 602.00,398.15 602.12,397.78 602.24,397.16 602.36,396.14 602.48,394.48 602.60,391.97 602.72,389.25 602.84,388.59 602.96,390.67 603.08,393.11 603.20,394.67 603.32,395.35 603.44,395.30 603.56,394.54 603.68,392.86 603.80,390.11 603.92,387.05 604.04,386.41 604.16,388.99 604.28,392.01 604.40,394.03 604.52,395.07 604.64,395.38 604.76,395.04 604.88,393.97 605.00,391.92 605.12,388.74 605.24,385.60 605.36,385.54 605.48,388.57 605.60,391.62 605.72,393.49 605.84,394.30 605.96,394.24 606.08,393.28 606.20,391.22 606.32,387.91 606.44,384.64 606.56,384.67 606.68,388.01 606.80,391.38 606.92,393.53 607.04,394.60 607.16,394.82 607.28,394.23 607.40,392.71 607.52,390.16 607.64,387.61 607.76,387.68 607.88,390.39 608.00,393.12 608.12,394.86 608.24,395.73 608.36,395.90 608.48,395.42 608.60,394.16 608.72,392.04 608.84,389.94 608.96,390.02 609.08,392.30 609.20,394.59 609.32,396.07 609.44,396.80 609.56,396.94 609.68,396.51 609.80,395.50 609.92,394.30 610.04,394.18 610.16,395.55 610.28,397.13 610.40,398.26 610.52,399.00 610.64,399.48 610.76,399.81 610.88,400.03 611.00,400.20 611.12,400.33 611.24,400.43 611.36,400.51 611.48,400.57 611.60,400.63 611.72,400.67 611.84,400.71 611.96,400.74 612.08,400.77 612.20,400.80 612.32,400.82 612.44,400.84 612.56,400.85 612.68,400.87 612.80,400.88 612.92,400.89 613.04,400.90 613.16,400.90 613.28,400.91 613.40,400.91 613.52,400.91 613.64,400.91 613.76,400.90 613.88,400.89 614.00,400.87 614.12,400.85 614.24,400.81 614.36,400.75 614.48,400.66 614.60,400.54 614.72,400.37 614.84,400.19 614.96,400.06 615.08,400.10 615.20,400.26 615.32,400.46 615.44,400.62 615.56,400.74 615.68,400.82 615.80,400.88 615.92,400.92 616.04,400.96 616.16,400.98 616.28,401.00 616.40,401.02 616.52,401.03 616.64,401.04 616.76,401.05 616.88,401.06 617.00,401.07 617.12,401.07 617.24,401.08 617.36,401.08 617.48,401.09 617.60,401.09 617.72,401.09 617.84,401.10 617.96,401.10 618.08,401.10 618.20,401.11 618.32,401.11 618.44,401.11 618.56,401.11 618.68,401.12 618.80,401.12 618.92,401.12 619.04,401.12 619.16,401.12 619.28,401.12 619.40,401.13 619.52,401.13 619.64,401.13 619.76,401.13 619.88,401.13 620.00,401.13 620.12,401.13 620.24,401.14 620.36,401.14 620.48,401.14 620.60,401.14 620.72,401.14 620.84,401.14 620.96,401.14 621.08,401.14 621.20,401.14 621.32,401.14 621.44,401.15 621.56,401.15 621.68,401.15 621.80,401.15 621.92,401.15 622.04,401.15 622.16,401.15 622.28,401.15 622.40,401.15 622.52,401.15 622.64,401.15 622.76,401.15 622.88,401.15 623.00,401.15 623.12,401.15 623.24,401.16 623.36,401.16 623.48,401.16 623.60,401.16 623.72,401.16 623.84,401.16 623.96,401.16 624.08,401.16 624.20,401.16 624.32,401.16 624.44,401.16 624.56,401.16 624.68,401.16 624.80,401.16 624.92,401.16 625.04,401.16 625.16,401.16 625.28,401.16 625.40,401.16 625.52,401.16 625.64,401.16 625.76,401.17 625.88,401.17 626.00,401.17 626.12,401.17 626.24,401.17 626.36,401.17 626.48,401.17 626.60,401.17 626.72,401.17 626.84,401.17 626.96,401.17 627.08,401.17 627.20,401.17 627.32,401.17 627.44,401.17 627.56,401.17 627.68,401.17 627.80,401.17 627.92,401.17 628.04,401.17 628.16,401.17 628.28,401.17 628.40,401.17 628.52,401.17 628.64,401.17 628.76,401.17 628.88,401.17 629.00,401.17 629.12,401.17 629.24,401.17 629.36,401.17 629.48,401.17 629.60,401.17 629.72,401.17 629.84,401.17 629.96,401.17 630.08,401.18 630.20,401.18 630.32,401.18 630.44,401.18 630.56,401.18 630.68,401.18 630.80,401.18 630.92,401.18 631.04,401.18 631.16,401.18 631.28,401.18 631.40,401.18 631.52,401.18 631.64,401.18 631.76,401.18 631.88,401.18 632.00,401.18 632.12,401.18 632.24,401.18 632.36,401.18 632.48,401.18 632.60,401.18 632.72,401.18 632.84,401.18 632.96,401.18 633.08,401.18 633.20,401.18 633.32,401.18 633.44,401.18 633.56,401.18 633.68,401.18 633.80,401.18 633.92,401.18 634.04,401.18 634.16,401.18 634.28,401.18 634.40,401.18 634.52,401.18 634.64,401.18 634.76,401.18 634.88,401.18 635.00,401.18 635.12,401.18 635.24,401.18 635.36,401.18 635.48,401.18 635.60,401.18 635.72,401.18 635.84,401.18 635.96,401.18 636.08,401.18 636.20,401.18 636.32,401.18 636.44,401.18 636.56,401.18 636.68,401.18 636.80,401.18 636.92,401.18 637.04,401.18 637.16,401.18 637.28,401.18 637.40,401.18 637.52,401.18 637.64,401.18 637.76,401.18 637.88,401.18 638.00,401.18 638.12,401.18 638.24,401.18 638.36,401.18 638.48,401.18 638.60,401.18 638.72,401.18 638.84,401.18 638.96,401.18 639.08,401.18 639.20,401.19 639.32,401.19 639.44,401.19 639.56,401.19 639.68,401.19 639.80,401.19 639.92,401.19 640.04,401.19 640.16,401.19 640.28,401.19 640.40,401.19 640.52,401.19 640.64,401.19 640.76,401.19 640.88,401.19 641.00,401.19 641.12,401.19 641.24,401.19 641.36,401.19 641.48,401.19 641.60,401.19 641.72,401.19 641.84,401.19 641.96,401.19 642.08,401.19 642.20,401.19 642.32,401.19 642.44,401.19 642.56,401.19 642.68,401.19 642.80,401.19 642.92,401.19 643.04,401.19 643.16,401.19 643.28,401.19 643.40,401.19 643.52,401.19 643.64,401.19 643.76,401.19 643.88,401.19 644.00,401.19 644.12,401.19 644.24,401.19 644.36,401.19 644.48,401.19 644.60,401.19 644.72,401.19 644.84,401.19 644.96,401.19 645.08,401.19 645.20,401.19 645.32,401.19 645.44,401.19 645.56,401.19 645.68,401.19 645.80,401.19 645.92,401.19 646.04,401.19 646.16,401.19 646.28,401.19 646.40,401.19 646.52,401.19 646.64,401.19 646.76,401.19 646.88,401.19 647.00,401.19 647.12,401.19 647.24,401.19 647.36,401.19 647.48,401.19 647.60,401.19 647.72,401.19 647.84,401.19 647.96,401.19 648.08,401.19 648.20,401.19 648.32,401.19 648.44,401.19 648.56,401.19 648.68,401.19 648.80,401.19 648.92,401.19 649.04,401.19 649.16,401.19 649.28,401.19 649.40,401.19 649.52,401.19 649.64,401.19 649.76,401.19 649.88,401.19 650.00,401.19 650.12,401.19 650.24,401.19 650.36,401.19 650.48,401.19 650.60,401.19 650.72,401.19 650.84,401.19 650.96,401.19 651.08,401.19 651.20,401.19 651.32,401.19 651.44,401.19 651.56,401.19 651.68,401.19 651.80,401.19 651.92,401.19 652.04,401.19 652.16,401.19 652.28,401.19 652.40,401.19 652.52,401.19 652.64,401.19 652.76,401.19 652.88,401.19 653.00,401.19 653.12,401.19 653.24,401.19 653.36,401.19 653.48,401.19 653.60,401.19 653.72,401.19 653.84,401.19 653.96,401.19 654.08,401.19 654.20,401.19 654.32,401.19 654.44,401.19 654.56,401.19 654.68,401.19 654.80,401.19 654.92,401.19 655.04,401.19 655.16,401.19 655.28,401.19 655.40,401.19 655.52,401.19 655.64,401.19 655.76,401.19 655.88,401.19 656.00,401.19 656.12,401.19 656.24,401.19 656.36,401.19 656.48,401.19 656.60,401.19 656.72,401.19 656.84,401.19 656.96,401.19 657.08,401.19 657.20,401.19 657.32,401.19 657.44,401.19 657.56,401.19 657.68,401.19 657.80,401.19 657.92,401.19 658.04,401.19 658.16,401.19 658.28,401.19 658.40,401.19 658.52,401.19 658.64,401.19 658.76,401.19 658.88,401.19 659.00,401.19" fill="none" stroke="#b01c1c" stroke-width="1.1" stroke-linejoin="round" stroke-linecap="round" />
</g>
<polyline points="504.69,403.20 504.69,403.32 504.69,403.44 504.69,403.56 504.69,403.68 504.69,403.80 504.69,403.92 504.69,404.04 504.69,404.16 504.69,404.28 504.69,404.40 504.69,404.52 504.69,404.64 504.69,404.76 504.69,404.88 504.69,405.00 504.69,405.12 504.69,405.24 504.69,405.36 504.69,405.48 504.69,405.60 504.69,405.72 504.69,405.84 504.69,405.96 504.69,406.08 504.69,406.20 504.69,406.32 504.69,406.44 504.69,406.56 504.69,406.68 504.69,406.80 504.69,406.92 504.69,407.04 504.69,407.16 504.69,407.28 504.69,407.40 504.69,407.52 504.69,407.64 504.69,407.76 504.69,407.88 504.69,408.00 504.69,408.12 504.69,408.24 504.69,408.36 504.69,408.48 504.69,408.60 504.69,408.72 504.69,408.84 504.69,408.96 504.69,409.08 504.69,409.20 504.69,409.32 504.69,409.44 504.69,409.56 504.69,409.68 504.69,409.80 504.69,409.92 504.69,410.04 504.69,410.16 504.69,410.28 504.69,410.40 504.69,410.52 504.69,410.64 504.69,410.76 504.69,410.88 504.69,411.00 504.69,411.12 504.69,411.24 504.69,411.36 504.69,411.48 504.69,411.60 504.69,411.72 504.69,411.84 504.69,411.96 504.69,412.08 504.69,412.20 504.69,412.32 504.69,412.44 504.69,412.56 504.69,412.68 504.69,412.80 504.69,412.92 504.69,413.04 504.69,413.16 504.69,413.28 504.69,413.40 504.69,413.52 504.69,413.64 504.68,413.76 504.68,413.88 504.68,414.00 504.68,414.12 504.68,414.24 504.68,414.36 504.68,414.48 504.68,414.60 504.68,414.72 504.68,414.84 504.68,414.96 504.68,415.08 504.68,415.20 504.68,415.32 504.68,415.44 504.68,415.56 504.68,415.68 504.68,415.80 504.68,415.92 504.68,416.04 504.68,416.16 504.68,416.28 504.68,416.40 504.68,416.52 504.68,416.64 504.68,416.76 504.68,416.88 504.68,417.00 504.68,417.12 504.68,417.24 504.68,417.36 504.68,417.48 504.68,417.60 504.68,417.72 504.68,417.84 504.68,417.96 504.68,418.08 504.68,418.20 504.68,418.32 504.68,418.44 504.68,418.56 504.68,418.68 504.68,418.80 504.68,418.92 504.68,419.04 504.68,419.16 504.68,419.28 504.68,419.40 504.68,419.52 504.68,419.64 504.68,419.76 504.68,419.88 504.68,420.00 504.68,420.12 504.68,420.24 504.68,420.36 504.68,420.48 504.68,420.60 504.68,420.72 504.68,420.84 504.68,420.96 504.68,421.08 504.68,421.20 504.68,421.32 504.68,421.44 504.68,421.56 504.68,421.68 504.68,421.80 504.68,421.92 504.68,422.04 504.67,422.16 504.67,422.28 504.67,422.40 504.67,422.52 504.67,422.64 504.67,422.76 504.67,422.88 504.67,423.00 504.67,423.12 504.67,423.24 504.67,423.36 504.67,423.48 504.67,423.60 504.67,423.72 504.67,423.84 504.67,423.96 504.67,424.08 504.67,424.20 504.67,424.32 504.67,424.44 504.67,424.56 504.67,424.68 504.67,424.80 504.67,424.92 504.67,425.04 504.67,425.16 504.67,425.28 504.67,425.40 504.67,425.52 504.67,425.64 504.67,425.76 504.67,425.88 504.67,426.00 504.66,426.12 504.66,426.24 504.66,426.36 504.66,426.48 504.66,426.60 504.66,426.72 504.66,426.84 504.66,426.96 504.66,427.08 504.66,427.20 504.66,427.32 504.66,427.44 504.66,427.56 504.66,427.68 504.66,427.80 504.66,427.92 504.66,428.04 504.66,428.16 504.66,428.28 504.66,428.40 504.65,428.52 504.65,428.64 504.65,428.76 504.65,428.88 504.65,429.00 504.65,429.12 504.65,429.24 504.65,429.36 504.65,429.48 504.65,429.60 504.65,429.72 504.65,429.84 504.65,429.96 504.65,430.08 504.64,430.20 504.64,430.32 504.64,430.44 504.64,430.56 504.64,430.68 504.64,430.80 504.64,430.92 504.64,431.04 504.64,431.16 504.63,431.28 504.63,431.40 504.63,431.52 504.63,431.64 504.63,431.76 504.63,431.88 504.63,432.00 504.63,432.12 504.62,432.24 504.62,432.36 504.62,432.48 504.62,432.60 504.62,432.72 504.61,432.84 504.61,432.96 504.61,433.08 504.61,433.20 504.61,433.32 504.60,433.44 504.60,433.56 504.60,433.68 504.59,433.80 504.59,433.92 504.59,434.04 504.58,434.16 504.58,434.28 504.57,434.40 504.57,434.52 504.56,434.64 504.56,434.76 504.55,434.88 504.54,435.00 504.53,435.12 504.52,435.24 504.51,435.36 504.49,435.48 504.47,435.60 504.44,435.72 504.40,435.84 504.35,435.96 504.27,436.08 504.16,436.20 503.98,436.32 503.73,436.44 503.42,436.56 503.27,436.68 503.44,436.80 503.73,436.92 503.97,437.04 504.12,437.16 504.21,437.28 504.27,437.40 504.31,437.52 504.33,437.64 504.34,437.76 504.34,437.88 504.34,438.00 504.33,438.12 504.32,438.24 504.31,438.36 504.29,438.48 504.26,438.60 504.24,438.72 504.21,438.84 504.17,438.96 504.12,439.08 504.07,439.20 504.00,439.32 503.92,439.44 503.81,439.56 503.68,439.68 503.49,439.80 503.23,439.92 502.83,440.04 502.21,440.16 501.16,440.28 499.33,440.40 496.78,440.52 495.80,440.64 497.53,440.76 499.04,440.88 499.37,441.00 498.55,441.12 496.30,441.24 492.52,441.36 490.21,441.48 492.87,441.60 496.19,441.72 497.83,441.84 498.01,441.96 496.84,442.08 493.92,442.20 489.30,442.32 487.34,442.44 491.06,442.56 494.83,442.68 496.55,442.80 496.55,442.92 494.85,443.04 490.89,443.16 485.15,443.28 483.86,443.40 489.09,443.52 493.68,443.64 495.82,443.76 496.06,443.88 494.51,444.00 490.68,444.12 485.56,444.24 485.53,444.36 490.81,444.48 494.95,444.60 496.94,444.72 497.41,444.84 496.55,444.96 493.98,445.08 489.36,445.20 485.94,445.32 489.05,445.44 493.80,445.56 496.52,445.68 497.45,445.80 496.94,445.92 494.78,446.04 490.91,446.16 488.81,446.28 492.20,446.40 496.32,446.52 498.80,446.64 500.13,446.76 500.82,446.88 501.15,447.00 501.23,447.12 501.12,447.24 500.83,447.36 500.33,447.48 499.55,447.60 498.36,447.72 496.56,447.84 493.77,447.96 489.37,448.08 483.70,448.20 483.70,448.32 483.70,448.44 483.70,448.56 483.70,448.68 486.53,448.80 492.09,448.92 495.65,449.04 497.97,449.16 499.52,449.28 500.60,449.40 501.37,449.52 501.94,449.64 502.38,449.76 502.71,449.88 502.98,450.00 503.19,450.12 503.37,450.24 503.51,450.36 503.63,450.48 503.73,450.60 503.82,450.72 503.90,450.84 503.96,450.96 504.02,451.08 504.07,451.20 504.11,451.32 504.15,451.44 504.19,451.56 504.22,451.68 504.25,451.80 504.27,451.92 504.29,452.04 504.32,452.16 504.33,452.28 504.35,452.40 504.37,452.52 504.38,452.64 504.40,452.76 504.41,452.88 504.42,453.00 504.43,453.12 504.44,453.24 504.45,453.36 504.46,453.48 504.47,453.60 504.48,453.72 504.48,453.84 504.49,453.96 504.50,454.08 504.50,454.20 504.51,454.32 504.51,454.44 504.52,454.56 504.52,454.68 504.53,454.80 504.53,454.92 504.54,455.04 504.54,455.16 504.54,455.28 504.55,455.40 504.55,455.52 504.55,455.64 504.56,455.76 504.56,455.88 504.56,456.00 504.56,456.12 504.56,456.24 504.57,456.36 504.57,456.48 504.57,456.60 504.57,456.72 504.57,456.84 504.57,456.96 504.58,457.08 504.58,457.20 504.58,457.32 504.58,457.44 504.58,457.56 504.58,457.68 504.58,457.80 504.58,457.92 504.58,458.04 504.57,458.16 504.57,458.28 504.57,458.40 504.56,458.52 504.56,458.64 504.55,458.76 504.54,458.88 504.52,459.00 504.49,459.12 504.45,459.24 504.39,459.36 504.28,459.48 504.07,459.60 503.73,459.72 503.38,459.84 503.51,459.96 503.90,460.08 504.18,460.20 504.34,460.32 504.43,460.44 504.48,460.56 504.51,460.68 504.54,460.80 504.55,460.92 504.56,461.04 504.57,461.16 504.58,461.28 504.58,461.40 504.59,461.52 504.59,461.64 504.59,461.76 504.60,461.88 504.60,462.00 504.60,462.12 504.60,462.24 504.60,462.36 504.60,462.48 504.60,462.60 504.61,462.72 504.61,462.84 504.61,462.96 504.61,463.08 504.61,463.20 504.61,463.32 504.61,463.44 504.61,463.56 504.61,463.68 504.61,463.80 504.61,463.92 504.61,464.04 504.61,464.16 504.61,464.28 504.61,464.40 504.61,464.52 504.61,464.64 504.61,464.76 504.61,464.88 504.61,465.00 504.61,465.12 504.61,465.24 504.60,465.36 504.60,465.48 504.60,465.60 504.60,465.72 504.60,465.84 504.60,465.96 504.60,466.08 504.60,466.20 504.60,466.32 504.60,466.44 504.60,466.56 504.60,466.68 504.60,466.80 504.60,466.92 504.60,467.04 504.59,467.16 504.59,467.28 504.59,467.40 504.59,467.52 504.59,467.64 504.59,467.76 504.59,467.88 504.59,468.00 504.59,468.12 504.59,468.24 504.58,468.36 504.58,468.48 504.58,468.60 504.58,468.72 504.58,468.84 504.58,468.96 504.58,469.08 504.57,469.20 504.57,469.32 504.57,469.44 504.57,469.56 504.57,469.68 504.57,469.80 504.56,469.92 504.56,470.04 504.56,470.16 504.56,470.28 504.56,470.40 504.55,470.52 504.55,470.64 504.55,470.76 504.55,470.88 504.54,471.00 504.54,471.12 504.54,471.24 504.53,471.36 504.53,471.48 504.53,471.60 504.53,471.72 504.52,471.84 504.52,471.96 504.52,472.08 504.51,472.20 504.51,472.32 504.50,472.44 504.50,472.56 504.50,472.68 504.49,472.80 504.49,472.92 504.48,473.04 504.48,473.16 504.47,473.28 504.47,473.40 504.46,473.52 504.46,473.64 504.45,473.76 504.44,473.88 504.44,474.00 504.43,474.12 504.42,474.24 504.41,474.36 504.41,474.48 504.40,474.60 504.39,474.72 504.38,474.84 504.37,474.96 504.36,475.08 504.35,475.20 504.34,475.32 504.33,475.44 504.32,475.56 504.30,475.68 504.29,475.80 504.28,475.92 504.26,476.04 504.24,476.16 504.23,476.28 504.21,476.40 504.19,476.52 504.17,476.64 504.15,476.76 504.13,476.88 504.10,477.00 504.07,477.12 504.05,477.24 504.02,477.36 503.98,477.48 503.95,477.60 503.91,477.72 503.87,477.84 503.83,477.96 503.78,478.08 503.73,478.20 503.68,478.32 503.62,478.44 503.55,478.56 503.48,478.68 503.40,478.80 503.31,478.92 503.22,479.04 503.11,479.16 503.00,479.28 502.87,479.40 502.73,479.52 502.57,479.64 502.39,479.76 502.19,479.88 501.97,480.00 501.72,480.12 501.44,480.24 501.12,480.36 500.77,480.48 500.36,480.60 499.91,480.72 499.40,480.84 498.84,480.96 498.23,481.08 497.56,481.20 496.87,481.32 496.16,481.44 495.47,481.56 494.85,481.68 494.35,481.80 494.02,481.92 493.89,482.04 493.98,482.16 494.28,482.28 494.75,482.40 495.36,482.52 496.03,482.64 496.74,482.76 497.44,482.88 498.11,483.00 498.73,483.12 499.30,483.24 499.81,483.36 500.27,483.48 500.68,483.60 501.04,483.72 501.37,483.84 501.65,483.96 501.91,484.08 502.13,484.20 502.33,484.32 502.51,484.44 502.67,484.56 502.81,484.68 502.94,484.80 503.06,484.92 503.16,485.04 503.25,485.16 503.34,485.28 503.42,485.40 503.49,485.52 503.55,485.64 503.61,485.76 503.67,485.88 503.71,486.00 503.76,486.12 503.80,486.24 503.84,486.36 503.88,486.48 503.91,486.60 503.94,486.72 503.97,486.84 503.99,486.96 504.02,487.08 504.04,487.20 504.06,487.32 504.08,487.44 504.09,487.56 504.11,487.68 504.12,487.80 504.14,487.92 504.15,488.04 504.16,488.16 504.17,488.28 504.18,488.40 504.19,488.52 504.20,488.64 504.21,488.76 504.22,488.88 504.22,489.00 504.23,489.12 504.23,489.24 504.24,489.36 504.24,489.48 504.24,489.60 504.24,489.72 504.25,489.84 504.25,489.96 504.25,490.08 504.25,490.20 504.25,490.32 504.25,490.44 504.25,490.56 504.24,490.68 504.24,490.80 504.24,490.92 504.23,491.04 504.23,491.16 504.22,491.28 504.22,491.40 504.21,491.52 504.20,491.64 504.20,491.76 504.19,491.88 504.18,492.00 504.17,492.12 504.16,492.24 504.14,492.36 504.13,492.48 504.12,492.60 504.10,492.72 504.08,492.84 504.06,492.96 504.04,493.08 504.02,493.20 504.00,493.32 503.97,493.44 503.95,493.56 503.92,493.68 503.89,493.80 503.85,493.92 503.81,494.04 503.77,494.16 503.73,494.28 503.68,494.40 503.63,494.52 503.57,494.64 503.50,494.76 503.43,494.88 503.36,495.00 503.27,495.12 503.18,495.24 503.08,495.36 502.96,495.48 502.83,495.60 502.69,495.72 502.52,495.84 502.34,495.96 502.14,496.08 501.90,496.20 501.64,496.32 501.34,496.44 500.99,496.56 500.60,496.68 500.15,496.80 499.63,496.92 499.03,497.04 498.35,497.16 497.57,497.28 496.69,497.40 495.72,497.52 494.66,497.64 493.56,497.76 492.48,497.88 491.50,498.00 490.72,498.12 490.25,498.24 490.15,498.36 490.45,498.48 491.10,498.60 492.00,498.72 493.04,498.84 494.15,498.96 495.23,499.08 496.25,499.20 497.17,499.32 498.00,499.44 498.73,499.56 499.37,499.68 499.93,499.80 500.41,499.92 500.84,500.04 501.21,500.16 501.53,500.28 501.81,500.40 502.06,500.52 502.28,500.64 502.48,500.76 502.65,500.88 502.80,501.00 502.94,501.12 503.06,501.24 503.18,501.36 503.28,501.48 503.37,501.60 503.45,501.72 503.53,501.84 503.59,501.96 503.66,502.08 503.71,502.20 503.77,502.32 503.82,502.44 503.86,502.56 503.90,502.68 503.94,502.80 503.98,502.92 504.01,503.04 504.04,503.16 504.07,503.28 504.10,503.40 504.12,503.52 504.15,503.64 504.17,503.76 504.19,503.88 504.21,504.00 504.23,504.12 504.25,504.24 504.26,504.36 504.28,504.48 504.29,504.60 504.31,504.72 504.32,504.84 504.33,504.96 504.34,505.08 504.36,505.20 504.37,505.32 504.38,505.44 504.39,505.56 504.40,505.68 504.40,505.80 504.41,505.92 504.42,506.04 504.43,506.16 504.44,506.28 504.44,506.40 504.45,506.52 504.46,506.64 504.46,506.76 504.47,506.88 504.47,507.00 504.48,507.12 504.49,507.24 504.49,507.36 504.50,507.48 504.50,507.60 504.51,507.72 504.51,507.84 504.51,507.96 504.52,508.08 504.52,508.20 504.53,508.32 504.53,508.44 504.53,508.56 504.54,508.68 504.54,508.80 504.54,508.92 504.55,509.04 504.55,509.16 504.55,509.28 504.56,509.40 504.56,509.52 504.56,509.64 504.56,509.76 504.57,509.88 504.57,510.00 504.57,510.12 504.57,510.24 504.58,510.36 504.58,510.48 504.58,510.60 504.58,510.72 504.58,510.84 504.59,510.96 504.59,511.08 504.59,511.20 504.59,511.32 504.59,511.44 504.59,511.56 504.60,511.68 504.60,511.80 504.60,511.92 504.60,512.04 504.60,512.16 504.60,512.28 504.61,512.40 504.61,512.52 504.61,512.64 504.61,512.76 504.61,512.88 504.61,513.00 504.61,513.12 504.61,513.24 504.62,513.36 504.62,513.48 504.62,513.60 504.62,513.72 504.62,513.84 504.62,513.96 504.62,514.08 504.62,514.20 504.62,514.32 504.63,514.44 504.63,514.56 504.63,514.68 504.63,514.80 504.63,514.92 504.63,515.04 504.63,515.16 504.63,515.28 504.63,515.40 504.63,515.52 504.63,515.64 504.64,515.76 504.64,515.88 504.64,516.00 504.64,516.12 504.64,516.24 504.64,516.36 504.64,516.48 504.64,516.60 504.64,516.72 504.64,516.84 504.64,516.96 504.64,517.08 504.64,517.20 504.64,517.32 504.64,517.44 504.65,517.56 504.65,517.68 504.65,517.80 504.65,517.92 504.65,518.04 504.65,518.16 504.65,518.28 504.65,518.40 504.65,518.52 504.65,518.64 504.65,518.76 504.65,518.88 504.65,519.00 504.65,519.12 504.65,519.24 504.65,519.36 504.65,519.48 504.65,519.60 504.65,519.72 504.66,519.84 504.66,519.96 504.66,520.08 504.66,520.20 504.66,520.32 504.66,520.44 504.66,520.56 504.66,520.68 504.66,520.80 504.66,520.92 504.66,521.04 504.66,521.16 504.66,521.28 504.66,521.40" fill="none" stroke="#b01c1c" stroke-width="1.1" stroke-linejoin="round" stroke-linecap="round" />
<rect x="488.00" y="442.30" width="15.50" height="4.00" fill="#b82020" stroke="none" stroke-width="1" opacity="0.85"/>
<line x1="537.10" y1="402.70" x2="537.10" y2="522.00" stroke="#a8d890" stroke-width="1.1" stroke-dasharray="4.4,2"/>
<line x1="557.70" y1="402.70" x2="557.70" y2="522.00" stroke="#a8d890" stroke-width="1.1" stroke-dasharray="4.4,2"/>
<line x1="606.00" y1="402.70" x2="606.00" y2="522.00" stroke="#a8d890" stroke-width="1.1" stroke-dasharray="4.4,2"/>
<line x1="506.50" y1="444.90" x2="658.20" y2="444.90" stroke="#a8d890" stroke-width="1.1" stroke-dasharray="4.4,2"/>
<line x1="506.50" y1="482.90" x2="658.20" y2="482.90" stroke="#a8d890" stroke-width="1.1" stroke-dasharray="4.4,2"/>
<line x1="506.50" y1="498.50" x2="658.20" y2="498.50" stroke="#a8d890" stroke-width="1.1" stroke-dasharray="4.4,2"/>
<ellipse cx="537.10" cy="444.90" rx="2.10" ry="4.30" fill="#46105e"/>
<ellipse cx="537.10" cy="444.90" rx="1.21" ry="2.47" fill="#2c6a8c"/>
<ellipse cx="557.70" cy="444.90" rx="3.90" ry="5.50" fill="#46105e"/>
<ellipse cx="557.70" cy="444.90" rx="2.79" ry="3.94" fill="#2c6a8c"/>
<ellipse cx="557.70" cy="444.90" rx="1.69" ry="2.38" fill="#25a285"/>
<ellipse cx="557.70" cy="482.90" rx="4.30" ry="4.70" fill="#46105e"/>
<ellipse cx="557.70" cy="482.90" rx="3.08" ry="3.37" fill="#2c6a8c"/>
<ellipse cx="557.70" cy="482.90" rx="1.86" ry="2.04" fill="#25a285"/>
<ellipse cx="537.10" cy="498.50" rx="2.00" ry="3.90" fill="#46105e"/>
<ellipse cx="537.10" cy="498.50" rx="1.15" ry="2.24" fill="#2c6a8c"/>
<ellipse cx="605.6" cy="445" rx="5.2" ry="9" fill="#46105e"/>
<ellipse cx="605.8" cy="444.5" rx="4.2" ry="7" fill="#2c7a8c"/>
<ellipse cx="606" cy="444" rx="3.3" ry="5.2" fill="#35b07a"/>
<ellipse cx="606.3" cy="443.5" rx="2.2" ry="3.6" fill="#c8e030"/>
<ellipse cx="602" cy="451" rx="1.2" ry="4.5" fill="#46105e"/>
<ellipse cx="603.7" cy="482.9" rx="2.4" ry="6.2" fill="#46105e"/>
<ellipse cx="603.7" cy="482.9" rx="1.8" ry="4.6" fill="#2a9a80"/>
<ellipse cx="603.7" cy="482.9" rx="1.1" ry="2.8" fill="#b8dc3a"/>
<ellipse cx="608.6" cy="482.9" rx="2.4" ry="6.2" fill="#46105e"/>
<ellipse cx="608.6" cy="482.9" rx="1.8" ry="4.6" fill="#2a9a80"/>
<ellipse cx="608.6" cy="482.9" rx="1.1" ry="2.8" fill="#b8dc3a"/>
<ellipse cx="606" cy="498.6" rx="4.8" ry="5" fill="#46105e"/>
<ellipse cx="603.2" cy="498.6" rx="0.8" ry="3.8" fill="#2a9a80"/>
<ellipse cx="605.4" cy="498.6" rx="0.8" ry="3.8" fill="#2a9a80"/>
<ellipse cx="607.6" cy="498.6" rx="0.8" ry="3.8" fill="#2a9a80"/>
<ellipse cx="609.6" cy="498.6" rx="0.8" ry="3.8" fill="#2a9a80"/>
<ellipse cx="605.5" cy="498.6" rx="0.7" ry="2.4" fill="#b8dc3a"/>
<text x="511" y="413.8" font-size="8.2" font-weight="bold" fill="#000" text-anchor="start" font-family='"Liberation Sans", sans-serif' >Target-Perovskite</text>
<rect x="582.40" y="411.70" width="11.20" height="8.20" fill="#f9c8ae" stroke="none" stroke-width="1" />
<rect x="571.40" y="425.50" width="12.30" height="8.40" fill="#fde3a6" stroke="none" stroke-width="1" />
<rect x="592.40" y="425.50" width="12.30" height="8.40" fill="#eceef4" stroke="none" stroke-width="1" />
<text x="588" y="418.0" font-size="6.4" font-weight="normal" fill="#222" text-anchor="middle" font-family='"Liberation Sans", sans-serif' >H</text>
<line x1="588.00" y1="419.90" x2="588.00" y2="424.90" stroke="#444" stroke-width="0.6" />
<path d="M583.8,429.1 A4.2,4.2 0 0 1 592.2,429.1" fill="none" stroke="#444" stroke-width="0.6" stroke-dasharray="0.9,0.6"/>
<circle cx="588.00" cy="429.10" r="1.90" fill="none" stroke="#444" stroke-width="0.5" />
<line x1="586.90" y1="429.10" x2="589.10" y2="429.10" stroke="#444" stroke-width="0.4" />
<line x1="588.00" y1="428.00" x2="588.00" y2="430.20" stroke="#444" stroke-width="0.4" />
<line x1="583.80" y1="429.10" x2="583.10" y2="430.10" stroke="#444" stroke-width="0.5" />
<line x1="592.20" y1="429.10" x2="592.90" y2="430.10" stroke="#444" stroke-width="0.5" />
<text x="577.5" y="431.90000000000003" font-size="5.9" fill="#222" font-family='"Liberation Sans", sans-serif' text-anchor="middle">H<tspan font-size="3.8" dy="1">2</tspan><tspan dy="-1">N</tspan></text>
<text x="598.5" y="431.90000000000003" font-size="5.9" fill="#222" font-family='"Liberation Sans", sans-serif' text-anchor="middle">NH<tspan font-size="3.8" dy="1">2</tspan></text>
<line x1="506.50" y1="522.00" x2="506.50" y2="524.20" stroke="#000" stroke-width="0.9" />
<text x="506.5" y="532.8" font-size="8.2" font-weight="bold" fill="#000" text-anchor="middle" font-family='"Liberation Sans", sans-serif' >9.5</text>
<line x1="521.67" y1="522.00" x2="521.67" y2="523.30" stroke="#000" stroke-width="0.8" />
<line x1="536.84" y1="522.00" x2="536.84" y2="524.20" stroke="#000" stroke-width="0.9" />
<text x="536.84" y="532.8" font-size="8.2" font-weight="bold" fill="#000" text-anchor="middle" font-family='"Liberation Sans", sans-serif' >9.0</text>
<line x1="552.01" y1="522.00" x2="552.01" y2="523.30" stroke="#000" stroke-width="0.8" />
<line x1="567.18" y1="522.00" x2="567.18" y2="524.20" stroke="#000" stroke-width="0.9" />
<text x="567.1800000000001" y="532.8" font-size="8.2" font-weight="bold" fill="#000" text-anchor="middle" font-family='"Liberation Sans", sans-serif' >8.5</text>
<line x1="582.35" y1="522.00" x2="582.35" y2="523.30" stroke="#000" stroke-width="0.8" />
<line x1="597.52" y1="522.00" x2="597.52" y2="524.20" stroke="#000" stroke-width="0.9" />
<text x="597.52" y="532.8" font-size="8.2" font-weight="bold" fill="#000" text-anchor="middle" font-family='"Liberation Sans", sans-serif' >8.0</text>
<line x1="612.69" y1="522.00" x2="612.69" y2="523.30" stroke="#000" stroke-width="0.8" />
<line x1="627.86" y1="522.00" x2="627.86" y2="524.20" stroke="#000" stroke-width="0.9" />
<text x="627.86" y="532.8" font-size="8.2" font-weight="bold" fill="#000" text-anchor="middle" font-family='"Liberation Sans", sans-serif' >7.5</text>
<line x1="643.03" y1="522.00" x2="643.03" y2="523.30" stroke="#000" stroke-width="0.8" />
<line x1="658.20" y1="522.00" x2="658.20" y2="524.20" stroke="#000" stroke-width="0.9" />
<text x="658.2" y="532.8" font-size="8.2" font-weight="bold" fill="#000" text-anchor="middle" font-family='"Liberation Sans", sans-serif' >7.0</text>
<line x1="658.20" y1="402.70" x2="660.40" y2="402.70" stroke="#000" stroke-width="0.9" />
<text x="661.6" y="405.5" font-size="8.2" font-weight="bold" fill="#000" text-anchor="start" font-family='"Liberation Sans", sans-serif' >7.0</text>
<line x1="658.20" y1="414.63" x2="659.50" y2="414.63" stroke="#000" stroke-width="0.8" />
<line x1="658.20" y1="426.56" x2="660.40" y2="426.56" stroke="#000" stroke-width="0.9" />
<text x="661.6" y="429.36" font-size="8.2" font-weight="bold" fill="#000" text-anchor="start" font-family='"Liberation Sans", sans-serif' >7.5</text>
<line x1="658.20" y1="438.49" x2="659.50" y2="438.49" stroke="#000" stroke-width="0.8" />
<line x1="658.20" y1="450.42" x2="660.40" y2="450.42" stroke="#000" stroke-width="0.9" />
<text x="661.6" y="453.22" font-size="8.2" font-weight="bold" fill="#000" text-anchor="start" font-family='"Liberation Sans", sans-serif' >8.0</text>
<line x1="658.20" y1="462.35" x2="659.50" y2="462.35" stroke="#000" stroke-width="0.8" />
<line x1="658.20" y1="474.28" x2="660.40" y2="474.28" stroke="#000" stroke-width="0.9" />
<text x="661.6" y="477.08" font-size="8.2" font-weight="bold" fill="#000" text-anchor="start" font-family='"Liberation Sans", sans-serif' >8.5</text>
<line x1="658.20" y1="486.21" x2="659.50" y2="486.21" stroke="#000" stroke-width="0.8" />
<line x1="658.20" y1="498.14" x2="660.40" y2="498.14" stroke="#000" stroke-width="0.9" />
<text x="661.6" y="500.94" font-size="8.2" font-weight="bold" fill="#000" text-anchor="start" font-family='"Liberation Sans", sans-serif' >9.0</text>
<line x1="658.20" y1="510.07" x2="659.50" y2="510.07" stroke="#000" stroke-width="0.8" />
<line x1="658.20" y1="522.00" x2="660.40" y2="522.00" stroke="#000" stroke-width="0.9" />
<text x="661.6" y="524.8" font-size="8.2" font-weight="bold" fill="#000" text-anchor="start" font-family='"Liberation Sans", sans-serif' >9.5</text>
<rect x="506.50" y="402.70" width="151.70" height="119.30" fill="none" stroke="#000" stroke-width="1.6" />
<text x="582" y="543" font-size="8" font-weight="bold" font-family='"Liberation Sans", sans-serif' text-anchor="middle"><tspan font-size="5.2" dy="-3">1</tspan><tspan dy="3">H </tspan><tspan font-style="italic">&#948;</tspan> (ppm)</text>
<text x="682" y="462" font-size="8" font-weight="bold" font-family='"Liberation Sans", sans-serif' text-anchor="middle" transform="rotate(-90 682 462)"><tspan font-size="5.2" dy="-3">1</tspan><tspan dy="3">H </tspan><tspan font-style="italic">&#948;</tspan> (ppm)</text>
<text x="482.2" y="405.8" font-size="13.4" font-family='"Liberation Sans", sans-serif' fill="#000" stroke="#000" stroke-width="0.45">k</text>
</svg>
</body></html>
